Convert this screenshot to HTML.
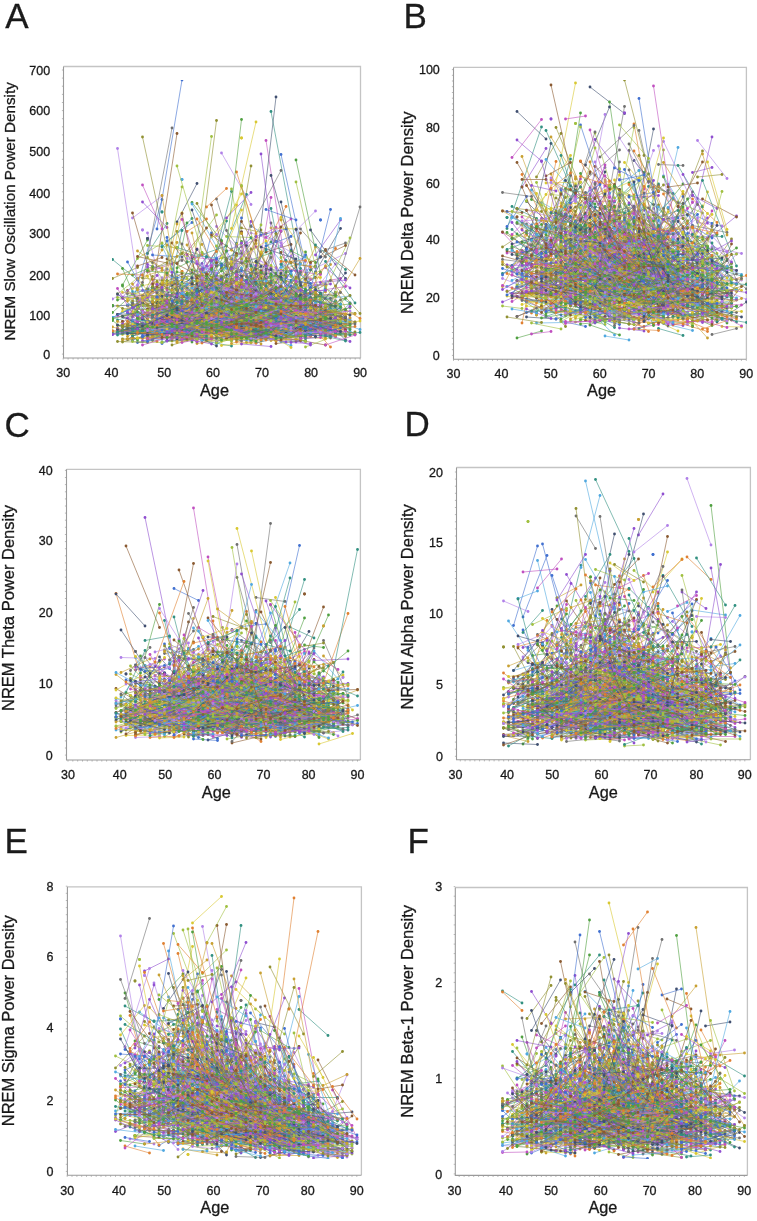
<!DOCTYPE html>
<html><head><meta charset="utf-8"><style>
html,body{margin:0;padding:0;background:#fff;overflow:hidden;}
svg{display:block;font-family:"Liberation Sans", sans-serif;}
.t{font-size:12.5px;}
.ag{font-size:16.3px;}
.lt{font-size:35px;}
.c0{stroke:#9050d0;marker:url(#m0)}
.c1{stroke:#b080e8;marker:url(#m1)}
.c2{stroke:#d8c830;marker:url(#m2)}
.c3{stroke:#c8a030;marker:url(#m3)}
.c4{stroke:#50a040;marker:url(#m4)}
.c5{stroke:#a0c040;marker:url(#m5)}
.c6{stroke:#309080;marker:url(#m6)}
.c7{stroke:#4070d0;marker:url(#m7)}
.c8{stroke:#50a8e0;marker:url(#m8)}
.c9{stroke:#8a5a30;marker:url(#m9)}
.c10{stroke:#e08030;marker:url(#m10)}
.c11{stroke:#c050c0;marker:url(#m11)}
.c12{stroke:#707070;marker:url(#m12)}
.c13{stroke:#909030;marker:url(#m13)}
.c14{stroke:#405070;marker:url(#m14)}
.d path{stroke-opacity:0.6}
</style></head><body>
<svg width="757" height="1221" viewBox="0 0 757 1221">
<defs>
<marker id="m0" markerUnits="userSpaceOnUse" markerWidth="6" markerHeight="6" refX="3" refY="3" overflow="visible"><circle cx="3" cy="3" r="2.8" fill="#9050d0"/></marker>
<marker id="m1" markerUnits="userSpaceOnUse" markerWidth="6" markerHeight="6" refX="3" refY="3" overflow="visible"><circle cx="3" cy="3" r="2.8" fill="#b080e8"/></marker>
<marker id="m2" markerUnits="userSpaceOnUse" markerWidth="6" markerHeight="6" refX="3" refY="3" overflow="visible"><circle cx="3" cy="3" r="2.8" fill="#d8c830"/></marker>
<marker id="m3" markerUnits="userSpaceOnUse" markerWidth="6" markerHeight="6" refX="3" refY="3" overflow="visible"><circle cx="3" cy="3" r="2.8" fill="#c8a030"/></marker>
<marker id="m4" markerUnits="userSpaceOnUse" markerWidth="6" markerHeight="6" refX="3" refY="3" overflow="visible"><circle cx="3" cy="3" r="2.8" fill="#50a040"/></marker>
<marker id="m5" markerUnits="userSpaceOnUse" markerWidth="6" markerHeight="6" refX="3" refY="3" overflow="visible"><circle cx="3" cy="3" r="2.8" fill="#a0c040"/></marker>
<marker id="m6" markerUnits="userSpaceOnUse" markerWidth="6" markerHeight="6" refX="3" refY="3" overflow="visible"><circle cx="3" cy="3" r="2.8" fill="#309080"/></marker>
<marker id="m7" markerUnits="userSpaceOnUse" markerWidth="6" markerHeight="6" refX="3" refY="3" overflow="visible"><circle cx="3" cy="3" r="2.8" fill="#4070d0"/></marker>
<marker id="m8" markerUnits="userSpaceOnUse" markerWidth="6" markerHeight="6" refX="3" refY="3" overflow="visible"><circle cx="3" cy="3" r="2.8" fill="#50a8e0"/></marker>
<marker id="m9" markerUnits="userSpaceOnUse" markerWidth="6" markerHeight="6" refX="3" refY="3" overflow="visible"><circle cx="3" cy="3" r="2.8" fill="#8a5a30"/></marker>
<marker id="m10" markerUnits="userSpaceOnUse" markerWidth="6" markerHeight="6" refX="3" refY="3" overflow="visible"><circle cx="3" cy="3" r="2.8" fill="#e08030"/></marker>
<marker id="m11" markerUnits="userSpaceOnUse" markerWidth="6" markerHeight="6" refX="3" refY="3" overflow="visible"><circle cx="3" cy="3" r="2.8" fill="#c050c0"/></marker>
<marker id="m12" markerUnits="userSpaceOnUse" markerWidth="6" markerHeight="6" refX="3" refY="3" overflow="visible"><circle cx="3" cy="3" r="2.8" fill="#707070"/></marker>
<marker id="m13" markerUnits="userSpaceOnUse" markerWidth="6" markerHeight="6" refX="3" refY="3" overflow="visible"><circle cx="3" cy="3" r="2.8" fill="#909030"/></marker>
<marker id="m14" markerUnits="userSpaceOnUse" markerWidth="6" markerHeight="6" refX="3" refY="3" overflow="visible"><circle cx="3" cy="3" r="2.8" fill="#405070"/></marker>
</defs>
<path d="M63.5 66.5H360.5V358" fill="none" stroke="#c4c4c4" stroke-width="1.3"/>
<path d="M63.2 358v1.6M68.1 358v1.6M73.1 358v1.6M78 358v1.6M83 358v1.6M87.9 358v1.6M92.9 358v1.6M97.8 358v1.6M102.8 358v1.6M107.7 358v1.6M112.7 358v1.6M117.6 358v1.6M122.6 358v1.6M127.5 358v1.6M132.5 358v1.6M137.4 358v1.6M142.4 358v1.6M147.3 358v1.6M152.3 358v1.6M157.2 358v1.6M162.2 358v1.6M167.1 358v1.6M172.1 358v1.6M177 358v1.6M182 358v1.6M186.9 358v1.6M191.9 358v1.6M196.8 358v1.6M201.8 358v1.6M206.7 358v1.6M211.7 358v1.6M216.6 358v1.6M221.5 358v1.6M226.5 358v1.6M231.4 358v1.6M236.4 358v1.6M241.3 358v1.6M246.3 358v1.6M251.2 358v1.6M256.2 358v1.6M261.1 358v1.6M266.1 358v1.6M271 358v1.6M276 358v1.6M280.9 358v1.6M285.9 358v1.6M290.8 358v1.6M295.8 358v1.6M300.7 358v1.6M305.7 358v1.6M310.6 358v1.6M315.6 358v1.6M320.5 358v1.6M325.5 358v1.6M330.4 358v1.6M335.4 358v1.6M340.3 358v1.6M345.3 358v1.6M350.2 358v1.6M355.2 358v1.6M360.1 358v1.6M63.5 354.1h-1.6M63.5 346h-1.6M63.5 337.9h-1.6M63.5 329.7h-1.6M63.5 321.6h-1.6M63.5 313.5h-1.6M63.5 305.4h-1.6M63.5 297.3h-1.6M63.5 289.2h-1.6M63.5 281h-1.6M63.5 272.9h-1.6M63.5 264.8h-1.6M63.5 256.7h-1.6M63.5 248.6h-1.6M63.5 240.5h-1.6M63.5 232.3h-1.6M63.5 224.2h-1.6M63.5 216.1h-1.6M63.5 208h-1.6M63.5 199.9h-1.6M63.5 191.8h-1.6M63.5 183.6h-1.6M63.5 175.5h-1.6M63.5 167.4h-1.6M63.5 159.3h-1.6M63.5 151.2h-1.6M63.5 143.1h-1.6M63.5 134.9h-1.6M63.5 126.8h-1.6M63.5 118.7h-1.6M63.5 110.6h-1.6M63.5 102.5h-1.6M63.5 94.4h-1.6M63.5 86.2h-1.6M63.5 78.1h-1.6M63.5 70h-1.6" stroke="#a8a8a8" stroke-width="0.8"/>
<path d="M63.5 66.5V358H360.5" fill="none" stroke="#9a9a9a" stroke-width="1.1"/>
<path d="M453.5 67.4H746.4V359.3" fill="none" stroke="#c4c4c4" stroke-width="1.3"/>
<path d="M453.5 359.3v1.6M458.4 359.3v1.6M463.3 359.3v1.6M468.1 359.3v1.6M473 359.3v1.6M477.9 359.3v1.6M482.8 359.3v1.6M487.7 359.3v1.6M492.5 359.3v1.6M497.4 359.3v1.6M502.3 359.3v1.6M507.2 359.3v1.6M512.1 359.3v1.6M516.9 359.3v1.6M521.8 359.3v1.6M526.7 359.3v1.6M531.6 359.3v1.6M536.5 359.3v1.6M541.3 359.3v1.6M546.2 359.3v1.6M551.1 359.3v1.6M556 359.3v1.6M560.9 359.3v1.6M565.7 359.3v1.6M570.6 359.3v1.6M575.5 359.3v1.6M580.4 359.3v1.6M585.3 359.3v1.6M590.1 359.3v1.6M595 359.3v1.6M599.9 359.3v1.6M604.8 359.3v1.6M609.7 359.3v1.6M614.5 359.3v1.6M619.4 359.3v1.6M624.3 359.3v1.6M629.2 359.3v1.6M634.1 359.3v1.6M638.9 359.3v1.6M643.8 359.3v1.6M648.7 359.3v1.6M653.6 359.3v1.6M658.5 359.3v1.6M663.3 359.3v1.6M668.2 359.3v1.6M673.1 359.3v1.6M678 359.3v1.6M682.9 359.3v1.6M687.7 359.3v1.6M692.6 359.3v1.6M697.5 359.3v1.6M702.4 359.3v1.6M707.3 359.3v1.6M712.1 359.3v1.6M717 359.3v1.6M721.9 359.3v1.6M726.8 359.3v1.6M731.7 359.3v1.6M736.5 359.3v1.6M741.4 359.3v1.6M746.3 359.3v1.6M453.5 355.4h-1.6M453.5 349.7h-1.6M453.5 344h-1.6M453.5 338.3h-1.6M453.5 332.5h-1.6M453.5 326.8h-1.6M453.5 321.1h-1.6M453.5 315.4h-1.6M453.5 309.7h-1.6M453.5 304h-1.6M453.5 298.2h-1.6M453.5 292.5h-1.6M453.5 286.8h-1.6M453.5 281.1h-1.6M453.5 275.4h-1.6M453.5 269.7h-1.6M453.5 263.9h-1.6M453.5 258.2h-1.6M453.5 252.5h-1.6M453.5 246.8h-1.6M453.5 241.1h-1.6M453.5 235.4h-1.6M453.5 229.6h-1.6M453.5 223.9h-1.6M453.5 218.2h-1.6M453.5 212.5h-1.6M453.5 206.8h-1.6M453.5 201.1h-1.6M453.5 195.4h-1.6M453.5 189.6h-1.6M453.5 183.9h-1.6M453.5 178.2h-1.6M453.5 172.5h-1.6M453.5 166.8h-1.6M453.5 161.1h-1.6M453.5 155.3h-1.6M453.5 149.6h-1.6M453.5 143.9h-1.6M453.5 138.2h-1.6M453.5 132.5h-1.6M453.5 126.8h-1.6M453.5 121h-1.6M453.5 115.3h-1.6M453.5 109.6h-1.6M453.5 103.9h-1.6M453.5 98.2h-1.6M453.5 92.5h-1.6M453.5 86.7h-1.6M453.5 81h-1.6M453.5 75.3h-1.6M453.5 69.6h-1.6" stroke="#a8a8a8" stroke-width="0.8"/>
<path d="M453.5 67.4V359.3H746.4" fill="none" stroke="#9a9a9a" stroke-width="1.1"/>
<path d="M66.5 469.3H360.4V760" fill="none" stroke="#c4c4c4" stroke-width="1.3"/>
<path d="M68 760v1.6M72.8 760v1.6M77.7 760v1.6M82.5 760v1.6M87.3 760v1.6M92.1 760v1.6M97 760v1.6M101.8 760v1.6M106.6 760v1.6M111.4 760v1.6M116.2 760v1.6M121.1 760v1.6M125.9 760v1.6M130.7 760v1.6M135.6 760v1.6M140.4 760v1.6M145.2 760v1.6M150 760v1.6M154.9 760v1.6M159.7 760v1.6M164.5 760v1.6M169.3 760v1.6M174.2 760v1.6M179 760v1.6M183.8 760v1.6M188.6 760v1.6M193.4 760v1.6M198.3 760v1.6M203.1 760v1.6M207.9 760v1.6M212.8 760v1.6M217.6 760v1.6M222.4 760v1.6M227.2 760v1.6M232.1 760v1.6M236.9 760v1.6M241.7 760v1.6M246.5 760v1.6M251.3 760v1.6M256.2 760v1.6M261 760v1.6M265.8 760v1.6M270.6 760v1.6M275.5 760v1.6M280.3 760v1.6M285.1 760v1.6M290 760v1.6M294.8 760v1.6M299.6 760v1.6M304.4 760v1.6M309.2 760v1.6M314.1 760v1.6M318.9 760v1.6M323.7 760v1.6M328.6 760v1.6M333.4 760v1.6M338.2 760v1.6M343 760v1.6M347.9 760v1.6M352.7 760v1.6M357.5 760v1.6M66.5 755.1h-1.6M66.5 748h-1.6M66.5 740.9h-1.6M66.5 733.7h-1.6M66.5 726.6h-1.6M66.5 719.5h-1.6M66.5 712.4h-1.6M66.5 705.3h-1.6M66.5 698.2h-1.6M66.5 691h-1.6M66.5 683.9h-1.6M66.5 676.8h-1.6M66.5 669.7h-1.6M66.5 662.6h-1.6M66.5 655.5h-1.6M66.5 648.3h-1.6M66.5 641.2h-1.6M66.5 634.1h-1.6M66.5 627h-1.6M66.5 619.9h-1.6M66.5 612.8h-1.6M66.5 605.6h-1.6M66.5 598.5h-1.6M66.5 591.4h-1.6M66.5 584.3h-1.6M66.5 577.2h-1.6M66.5 570h-1.6M66.5 562.9h-1.6M66.5 555.8h-1.6M66.5 548.7h-1.6M66.5 541.6h-1.6M66.5 534.5h-1.6M66.5 527.3h-1.6M66.5 520.2h-1.6M66.5 513.1h-1.6M66.5 506h-1.6M66.5 498.9h-1.6M66.5 491.8h-1.6M66.5 484.6h-1.6M66.5 477.5h-1.6M66.5 470.4h-1.6" stroke="#a8a8a8" stroke-width="0.8"/>
<path d="M66.5 469.3V760H360.4" fill="none" stroke="#9a9a9a" stroke-width="1.1"/>
<path d="M456.5 467.5H750.4V759.8" fill="none" stroke="#c4c4c4" stroke-width="1.3"/>
<path d="M460.3 759.8v1.6M465.1 759.8v1.6M470 759.8v1.6M474.8 759.8v1.6M479.6 759.8v1.6M484.4 759.8v1.6M489.3 759.8v1.6M494.1 759.8v1.6M498.9 759.8v1.6M503.7 759.8v1.6M508.5 759.8v1.6M513.4 759.8v1.6M518.2 759.8v1.6M523 759.8v1.6M527.8 759.8v1.6M532.6 759.8v1.6M537.5 759.8v1.6M542.3 759.8v1.6M547.1 759.8v1.6M551.9 759.8v1.6M556.8 759.8v1.6M561.6 759.8v1.6M566.4 759.8v1.6M571.2 759.8v1.6M576 759.8v1.6M580.9 759.8v1.6M585.7 759.8v1.6M590.5 759.8v1.6M595.3 759.8v1.6M600.1 759.8v1.6M605 759.8v1.6M609.8 759.8v1.6M614.6 759.8v1.6M619.4 759.8v1.6M624.3 759.8v1.6M629.1 759.8v1.6M633.9 759.8v1.6M638.7 759.8v1.6M643.5 759.8v1.6M648.4 759.8v1.6M653.2 759.8v1.6M658 759.8v1.6M662.8 759.8v1.6M667.7 759.8v1.6M672.5 759.8v1.6M677.3 759.8v1.6M682.1 759.8v1.6M686.9 759.8v1.6M691.8 759.8v1.6M696.6 759.8v1.6M701.4 759.8v1.6M706.2 759.8v1.6M711 759.8v1.6M715.9 759.8v1.6M720.7 759.8v1.6M725.5 759.8v1.6M730.3 759.8v1.6M735.2 759.8v1.6M740 759.8v1.6M744.8 759.8v1.6M456.5 756.3h-1.6M456.5 749.2h-1.6M456.5 742.1h-1.6M456.5 735h-1.6M456.5 727.9h-1.6M456.5 720.8h-1.6M456.5 713.7h-1.6M456.5 706.5h-1.6M456.5 699.4h-1.6M456.5 692.3h-1.6M456.5 685.2h-1.6M456.5 678.1h-1.6M456.5 671h-1.6M456.5 663.9h-1.6M456.5 656.8h-1.6M456.5 649.7h-1.6M456.5 642.6h-1.6M456.5 635.5h-1.6M456.5 628.4h-1.6M456.5 621.3h-1.6M456.5 614.1h-1.6M456.5 607h-1.6M456.5 599.9h-1.6M456.5 592.8h-1.6M456.5 585.7h-1.6M456.5 578.6h-1.6M456.5 571.5h-1.6M456.5 564.4h-1.6M456.5 557.3h-1.6M456.5 550.2h-1.6M456.5 543.1h-1.6M456.5 536h-1.6M456.5 528.9h-1.6M456.5 521.8h-1.6M456.5 514.6h-1.6M456.5 507.5h-1.6M456.5 500.4h-1.6M456.5 493.3h-1.6M456.5 486.2h-1.6M456.5 479.1h-1.6M456.5 472h-1.6" stroke="#a8a8a8" stroke-width="0.8"/>
<path d="M456.5 467.5V759.8H750.4" fill="none" stroke="#9a9a9a" stroke-width="1.1"/>
<path d="M67.4 886.8H361.4V1175.3" fill="none" stroke="#c4c4c4" stroke-width="1.3"/>
<path d="M67.2 1175.3v1.6M72 1175.3v1.6M76.9 1175.3v1.6M81.7 1175.3v1.6M86.5 1175.3v1.6M91.3 1175.3v1.6M96.2 1175.3v1.6M101 1175.3v1.6M105.8 1175.3v1.6M110.6 1175.3v1.6M115.5 1175.3v1.6M120.3 1175.3v1.6M125.1 1175.3v1.6M129.9 1175.3v1.6M134.8 1175.3v1.6M139.6 1175.3v1.6M144.4 1175.3v1.6M149.3 1175.3v1.6M154.1 1175.3v1.6M158.9 1175.3v1.6M163.7 1175.3v1.6M168.6 1175.3v1.6M173.4 1175.3v1.6M178.2 1175.3v1.6M183 1175.3v1.6M187.9 1175.3v1.6M192.7 1175.3v1.6M197.5 1175.3v1.6M202.3 1175.3v1.6M207.2 1175.3v1.6M212 1175.3v1.6M216.8 1175.3v1.6M221.7 1175.3v1.6M226.5 1175.3v1.6M231.3 1175.3v1.6M236.1 1175.3v1.6M241 1175.3v1.6M245.8 1175.3v1.6M250.6 1175.3v1.6M255.4 1175.3v1.6M260.3 1175.3v1.6M265.1 1175.3v1.6M269.9 1175.3v1.6M274.7 1175.3v1.6M279.6 1175.3v1.6M284.4 1175.3v1.6M289.2 1175.3v1.6M294.1 1175.3v1.6M298.9 1175.3v1.6M303.7 1175.3v1.6M308.5 1175.3v1.6M313.4 1175.3v1.6M318.2 1175.3v1.6M323 1175.3v1.6M327.8 1175.3v1.6M332.7 1175.3v1.6M337.5 1175.3v1.6M342.3 1175.3v1.6M347.1 1175.3v1.6M352 1175.3v1.6M356.8 1175.3v1.6M67.4 1171.4h-1.6M67.4 1164.3h-1.6M67.4 1157.1h-1.6M67.4 1150h-1.6M67.4 1142.9h-1.6M67.4 1135.8h-1.6M67.4 1128.6h-1.6M67.4 1121.5h-1.6M67.4 1114.4h-1.6M67.4 1107.2h-1.6M67.4 1100.1h-1.6M67.4 1093h-1.6M67.4 1085.8h-1.6M67.4 1078.7h-1.6M67.4 1071.6h-1.6M67.4 1064.5h-1.6M67.4 1057.3h-1.6M67.4 1050.2h-1.6M67.4 1043.1h-1.6M67.4 1035.9h-1.6M67.4 1028.8h-1.6M67.4 1021.7h-1.6M67.4 1014.5h-1.6M67.4 1007.4h-1.6M67.4 1000.3h-1.6M67.4 993.2h-1.6M67.4 986h-1.6M67.4 978.9h-1.6M67.4 971.8h-1.6M67.4 964.6h-1.6M67.4 957.5h-1.6M67.4 950.4h-1.6M67.4 943.2h-1.6M67.4 936.1h-1.6M67.4 929h-1.6M67.4 921.9h-1.6M67.4 914.7h-1.6M67.4 907.6h-1.6M67.4 900.5h-1.6M67.4 893.3h-1.6M67.4 886.2h-1.6" stroke="#a8a8a8" stroke-width="0.8"/>
<path d="M67.4 886.8V1175.3H361.4" fill="none" stroke="#9a9a9a" stroke-width="1.1"/>
<path d="M455.3 887.5H747.4V1175.4" fill="none" stroke="#c4c4c4" stroke-width="1.3"/>
<path d="M459.2 1175.4v1.6M464.1 1175.4v1.6M468.9 1175.4v1.6M473.7 1175.4v1.6M478.6 1175.4v1.6M483.4 1175.4v1.6M488.2 1175.4v1.6M493.1 1175.4v1.6M497.9 1175.4v1.6M502.7 1175.4v1.6M507.5 1175.4v1.6M512.4 1175.4v1.6M517.2 1175.4v1.6M522 1175.4v1.6M526.9 1175.4v1.6M531.7 1175.4v1.6M536.5 1175.4v1.6M541.4 1175.4v1.6M546.2 1175.4v1.6M551 1175.4v1.6M555.9 1175.4v1.6M560.7 1175.4v1.6M565.5 1175.4v1.6M570.4 1175.4v1.6M575.2 1175.4v1.6M580 1175.4v1.6M584.9 1175.4v1.6M589.7 1175.4v1.6M594.5 1175.4v1.6M599.3 1175.4v1.6M604.2 1175.4v1.6M609 1175.4v1.6M613.8 1175.4v1.6M618.7 1175.4v1.6M623.5 1175.4v1.6M628.3 1175.4v1.6M633.2 1175.4v1.6M638 1175.4v1.6M642.8 1175.4v1.6M647.7 1175.4v1.6M652.5 1175.4v1.6M657.3 1175.4v1.6M662.2 1175.4v1.6M667 1175.4v1.6M671.8 1175.4v1.6M676.7 1175.4v1.6M681.5 1175.4v1.6M686.3 1175.4v1.6M691.2 1175.4v1.6M696 1175.4v1.6M700.8 1175.4v1.6M705.6 1175.4v1.6M710.5 1175.4v1.6M715.3 1175.4v1.6M720.1 1175.4v1.6M725 1175.4v1.6M729.8 1175.4v1.6M734.6 1175.4v1.6M739.5 1175.4v1.6M744.3 1175.4v1.6M455.3 1173.9h-1.6M455.3 1164.3h-1.6M455.3 1154.7h-1.6M455.3 1145.2h-1.6M455.3 1135.6h-1.6M455.3 1126h-1.6M455.3 1116.4h-1.6M455.3 1106.9h-1.6M455.3 1097.3h-1.6M455.3 1087.7h-1.6M455.3 1078.1h-1.6M455.3 1068.6h-1.6M455.3 1059h-1.6M455.3 1049.4h-1.6M455.3 1039.8h-1.6M455.3 1030.2h-1.6M455.3 1020.7h-1.6M455.3 1011.1h-1.6M455.3 1001.5h-1.6M455.3 991.9h-1.6M455.3 982.4h-1.6M455.3 972.8h-1.6M455.3 963.2h-1.6M455.3 953.6h-1.6M455.3 944.1h-1.6M455.3 934.5h-1.6M455.3 924.9h-1.6M455.3 915.3h-1.6M455.3 905.8h-1.6M455.3 896.2h-1.6M455.3 886.6h-1.6" stroke="#a8a8a8" stroke-width="0.8"/>
<path d="M455.3 887.5V1175.4H747.4" fill="none" stroke="#9a9a9a" stroke-width="1.1"/>
<filter id="bl" x="0" y="0" width="1" height="1"><feGaussianBlur stdDeviation="0.45"/></filter>
<g filter="url(#bl)"><g class="d" fill="none" stroke-width="2.0" transform="scale(0.5)">
<path class="c3" d="M374 655l49 18M512 631l50 10M502 667l50 2M601 614l40 45M562 637l49 12M463 517l69 30M404 615l49 0M265 672l49-15M562 541l39-15M275 576h0M433 664l60-21M483 584l49-40M423 618l50-31M394 687l49-7M522 662l50 4M512 649l50 5M493 657l49-17M285 632l69-53M354 647l59-20M601 603l50-6M364 561l49 16M265 668l40-4M562 440l59 197M463 575l49 74M354 653l50-82"/>
<path class="c5" d="M364 645l69-15M473 644l59-11M443 639l50-1M433 642l60-9M275 517l49-31M562 638l59 2M493 677l49-15M433 623l60-15M384 633l49 9M502 663l50 6M493 622l49 6M275 577l59 29M651 646l40 9M374 662l49 1M463 609l59-17M374 629l49-8M404 680l59-14M453 618l49-21M473 576l59-21M433 652l50 20M413 545l60 52M552 600l49 36M295 640l39 23M582 553l39 66M512 619l60 16M364 653l49-1M305 607l49-4"/>
<path class="c13" d="M324 665h0M285 274l69 317M473 637l59-14M572 647l49 14M225 557l50-22M225 662l40 3M334 550l60 63M433 662l50-20M522 616l50-61M552 630l40 8M364 581l49 13M305 640l59 22M404 588l49-9M394 563l49-80M483 456l49 11M483 645l69 6M522 460l60 139M493 554l49 16M453 660l49 4M512 645l40-13M295 679l49-6M364 658l59 12M225 667l50-14M641 588h0M334 655l40 8M621 656l60-23M384 677l59 4M502 657l70 5M245 678l40-3M493 654h0"/>
<path class="c6" d="M423 620l40-9M413 671l50-10M443 635l59-87M364 613l40 50M364 621l49 11M443 622l69-42M324 424h0M443 634l50 10M552 614l49-18M542 484l50 39M542 649l59 21M443 630l59 3M374 655l49-2M255 643l69-18M295 507l39-60M582 665l59-1M324 604l50 36M651 577l49 29M225 519l50 41"/>
<path class="c2" d="M552 674l59-1M235 656l60-57M582 670l69 8M295 676l59-11M592 554l49 43M384 674l39 2M493 641l59 25M502 556l60 32M562 643l59 2M275 664l49 8M512 614l40 38M245 669l50-6M413 601l50-18M295 553l39 68M493 522l59 13M572 656l59 2M334 630l50 6M384 600l59-19M423 633l60-8M285 609l39-19M384 654l49-13M443 624h0M384 656l49-6M324 614l50 2M394 675l59-25"/>
<path class="c9" d="M453 632l49 10M572 597l59-13M651 623l59 21M384 637l49 1M532 644l69-178M364 658l49 0M512 667l60 4M404 645l49-11M404 630l49 23M354 653l59-6M562 597l69-42M562 505l49 98M592 679l59 11M374 651l39-8M443 629l50-1M295 655l49-12M562 611l59 1M582 614l49 28M502 646h0M453 648l49-11M592 581l49 26M483 634l49 8M552 653l49 5M592 602l59-33M285 656l69-24"/>
<path class="c1" d="M394 643l69-77M601 644l60-10M493 659l49 7M562 492l69-70M631 653l40-65M443 539l40-37M423 661l40-2M433 624l60-40M463 674l69-25M631 536l60-29M433 637l69-19M512 673l60-3M463 638l49 28M631 638l50-53M404 560l49 72M404 655l59 5M502 622l50 15M334 649l70 17M611 605l60-77M493 650l49 6M394 571l49 17M433 453l40 41M483 621l49 17M483 668l39 8M295 466l49 190M404 627l49-37M394 640l59 13M364 653l40-16M493 606l59-23M532 669l50 13"/>
<path class="c14" d="M374 596l39-4M324 624h0M235 629l60-4M423 624l50 14M572 671l49-3M473 653l49-14M552 615l49 34M562 650l59 21M423 656l60-1M255 679l69-44M483 464l49 159M463 560l59 33M631 544l50-87M502 657l50-190M394 656l49 3M265 648l69-3M631 623l60 12"/>
<path class="c10" d="M463 618l49-145M542 566l50-32M562 610l39-19M601 651l40 19M532 612l50 27M493 644l49 6M443 594l50-8M463 541l49 51M641 605l50 28M324 651l60-14M473 632l59-3M532 645l60 16M453 572h0M542 590l50-32M413 601l50 10M384 643l49-2M423 622h0M493 656h0M463 658l49-7M384 643l49-23"/>
<path class="c0" d="M631 646l50-32M502 639l40 11M453 626l49-183M522 660l60 6M522 613l60 5M404 645l39-3M384 653l59 1M453 646l59 18M404 527l49 136M364 669l49-75M473 664l49-12M334 613l40 0M384 640l39-10M404 625l49-55M413 651l60-5M285 404l49 51"/>
<path class="c7" d="M502 452l50 31M493 628l49 5M324 629l50-22M502 608l40 31M334 482l50-37M314 582l60 57M324 687l50-23M334 662l50 12M641 440h0M562 664l59-137M384 599l69-68M621 643l50-2M453 592l59 45M493 610l49 30M305 678l69-24M453 626l49-3M631 614h0M423 587l60-6M453 502l49 82M512 651l50 10M621 655l50 5M512 610l70-110M552 603l59 15M285 646l39 2M265 681l59-27M384 556l49 7M384 607l39 19M265 662l40 0M522 624l50-35"/>
<path class="c12" d="M314 593l60 34M384 569l49 91M334 577l50-31M631 645l60 24M562 643l49 1M532 665l60-26M413 653l40-10M562 608l59-8M374 576l49 27M354 644l50-11M305 525l49 36M463 597l49 11M473 575l49-27M512 663l60 3M255 666l59-2M572 640l39-45M641 656l59-1M502 657l70-8M305 670l49-13M641 644l50 4M433 398l69 217M463 649l49 3M433 684l50-21M295 629l49-19M413 652h0"/>
<path class="c4" d="M493 533l49 48M582 502l49 23M413 638l50 7M404 669l49-3M532 652l50 10M305 669l59-40M364 594l49 62M651 645l49-3M245 570l50-90M374 654l39-3M275 608l49-43M374 661l49-46M493 583l49-32M463 643l59 7M473 487l49 158M235 600l70-26M592 320l49 227M522 596l50 29M592 584l49-40M404 639l69 13M512 654h0M493 607l59 23M621 663l60 4M433 527l50 26M334 614l60 38M295 657l59-25"/>
<path class="c11" d="M641 654l59-6M384 645l39-1M611 607l50 26M483 487l49 175M433 633l50-13M394 622l49 0M542 597l59 8M532 281l50 318M413 643l50-1M344 677h0M502 625l40-230M295 579h0M562 641l49-21M433 646l50 18M245 597l50-8M502 651l50 15M552 597l59-16M394 627l49 0M601 660l50-2M473 610l59-16M512 655l50 8M473 654l39-53M552 622l69 14M305 578l49-9"/>
<path class="c8" d="M324 668l50-21M344 655l60 9M562 535l49-21M364 667l49-4M404 614l39-59M453 586l69 57M473 650h0M641 640l59 18M453 602l49 7M592 606l59 10M611 645l70-4M364 359h0M384 620h0M552 647l49-98M364 639l49 2M413 674l60 2M601 605l60-8M364 618l59-95M413 617l50-30M483 634l49-24M384 648l39 2M413 651l60-3M324 629l50-16M423 655h0M512 633l70-35"/>
<path class="c3" d="M473 584l49 71M453 645l49-21M384 570l59-83M493 660l59 1M532 665l40-15M443 632h0M512 641l60 8M384 615l49 13M592 658l49-59M532 566l40-3M423 634l60 43M344 682l40-54M354 639l50 10M384 628l49-1M344 666l40-39M552 672l40-31M354 574l59-8M621 662l50 0M601 564l50 8M413 625l60-29M522 626l60-17M592 639l59 12M324 599l50 1"/>
<path class="c14" d="M532 539l50 3M354 563l50 48M364 639l40-14M413 558l60 60M433 598l50-29M433 638l50 0M413 651l50 6M483 598l39-88M483 670l49 6M295 659l49 0M572 656l59-46M522 652l50 6M364 606l49 63M354 670l59-10M552 646l40 5M384 662l49-4M512 644l60 14M443 670l69 3M314 597l60 24M384 420l59 170M512 686l50-12M394 567l39-16M423 628l50 45M453 617l69-15M552 634l69 11M245 655l60-12"/>
<path class="c7" d="M532 609l40 1M413 657l60-1M394 667l39-13M364 637l49 19M404 648l49-33M453 632l69 24M532 651h0M601 614l60-2M334 538l50 27M334 664l50-2M364 674l59-15M384 633l39-167M532 605l60 33M453 676l59-14M255 626l59 24M314 643l40-49M463 611l49-49M433 611l50 31M473 631l59 23M404 579h0M285 659l49-18M651 653l49-46M542 658l59 3M324 650l50 14M413 649l40 5M433 602l40 6"/>
<path class="c8" d="M463 605l69 25M572 611l59-26M651 635l69 24M641 628l69 40M493 642l49-10M404 670l39-17M423 667l60-8M443 601l69 11M572 665l59-7M562 652l49-48M463 498l49 49M522 508l40 84M404 648l49 11M522 659l70-1M314 659l50-4M532 498l50 96M265 661h0M433 688l50-24M651 638l49 7M502 619l60-22M601 679l40-22M473 667l59 10M512 624l50-12M651 597l49-5M463 678l39 4M354 658l59 12M611 650h0M275 648h0M522 619l40-26"/>
<path class="c1" d="M542 656l59 4M423 592l60 11M562 543l59-4M423 639l50-43M473 673l69 1M285 656l49 26M295 669h0M502 641l50 31M433 681l50-19M364 669l49-3M473 521l49 34M265 436l59-44M493 548l59 39M483 633l59-9M394 669l49 1M364 642l49 19M512 660l40-52M443 559l59 40M275 604l59-49M443 575h0M404 564l49 27M364 626l49-13M552 677l49-7M423 656l50 15"/>
<path class="c9" d="M532 634l40 2M562 639l49-23M423 659l60-2M265 611l40-5M592 569l49 78M404 617l49-30M611 642l50-5M344 612l50 1M354 640l59-26M463 661l49-34M305 643l49-23M245 643h0M473 625l49 11M453 599l69-43M473 637l39-12M552 677l49-23M443 537l59 99M463 645l39 30M354 641l69-2M334 634l50 7M532 504l50-15M532 655l50 1M601 664h0M314 573l50-26M473 606l69 32M552 633l59 29M552 602l40-29M631 622l50 5M532 607l50-4M453 649l49 14"/>
<path class="c12" d="M453 642l40-25M493 593l49 2M394 621l59-52M423 602l60-37M394 527l49 125M245 666l50-75M394 648l49 7M493 644l39 11M285 591l49 0M344 616l50 2M532 607l50 11M453 639l69-9M453 526l49 90M413 600l60 12M384 627l49 8M443 653l69 10M512 582l60 11M394 623l49-21M463 628l49-18M423 639l50-68M344 578l50 70M404 506l49 28M364 591l40 0M641 591l50 48"/>
<path class="c0" d="M344 589l50-11M552 552h0M463 681l59-16M611 572l50-4M384 638h0M552 653l49 1M344 649l60-3M423 602l50 18M631 596l50 51M235 660l40 8M404 641l69 7M592 664l59-17M324 644l70 1M592 585l49 41M443 658l50 7M502 680l50-13M512 635l50-80M354 663l50 2M463 633l49 3M394 673l49-11M453 643l40 6M453 616l59 43M453 640l49 29"/>
<path class="c5" d="M502 611l70 59M512 610l50 2M354 623l69-21M552 593l40-6M374 650l59-20M354 614l50 2M344 538l40 93M641 643l59 9M443 642l59 29M384 557l69 57M483 640l59-20M552 678l59 3M433 615l40 2M552 636l49-94M522 634l40 28M374 511l59-81M275 652l49-17M611 694l60-23"/>
<path class="c4" d="M285 626l59 0M384 643l49 7M453 646l69-11M324 684l50-4M483 586l39 33M512 648l50 4M344 589l50 42M532 554l50-5M512 616l40-65M354 579l40-18M631 674h0M493 523l49-17M354 536l50-26M404 663l69 1M601 619l50 20M305 594l69-3M493 669l49-16M433 665l60-15M611 504l40 112M572 650l59-18M502 636l50 26M473 638l49 15M641 616l40 17M562 559l39 35"/>
<path class="c13" d="M522 626l40 10M453 614l49-282M483 665l69-4M473 621l49 11M324 607l60 7M483 661l59 12M374 640l59 3M502 680l70-24M423 638l50-29M384 640l69-42M522 553l50-2M542 617l40-34M384 606l39 22M344 690l50-14M305 656l49-23M443 660l50 0M582 595l49-21M413 581l50 56M483 673l49-1M285 650l49 19M512 524l70 104M463 560h0M255 612l50 25"/>
<path class="c10" d="M522 654l50 22M404 630l59 1M275 641l59 27M473 652l49 18M413 414l40-37M443 620l69-8M314 667l50-22M364 601l59 29M334 664l60 3M364 543h0M641 655l59-7M621 655l70 4M413 643l50 25M404 635l59-16M433 646l60 1M344 623l40 40M344 658l69-26M512 592l60-13M324 611l60 61M671 607l49 30M552 625l49 17M562 660l59 13M522 642l50 6M502 548l70-135M404 614l49-21M512 648l50 7M265 675h0M512 681l70-26M305 559l59 96"/>
<path class="c11" d="M295 544l49-16M562 642l39-27M324 669l60-35M552 582l59 16M562 528l59 30M275 601l49 44M413 628l50 10M374 627l49-56M532 641l60-6M443 658l50 4M453 577l49-21M334 656l60-15M463 527l49-33M394 680l49-3M562 623l39 16"/>
<path class="c6" d="M542 605l50 7M404 681l59 11M225 667l70-4M473 665l39 15M374 614l69 30M433 532l60-143M641 645l59 1M334 619l70 13M621 603l50 51M404 662l59 0M384 516l69-24M502 654l50-23M433 615l50-13M344 637l50-15M384 664l69-9M265 645l49 14M443 666l59 4M334 561l60 20M453 660l69-19M364 634l49-20M265 646l59 13"/>
<path class="c2" d="M512 660l50-26M512 600l60-63M532 657h0M235 612l50 24M344 634l50 8M265 577l49-13M413 648l60-159M473 645h0M562 606l49 57M592 630l49-8M522 611l50 2M404 650l49-12M245 653l40-47M374 580l39 15M285 658l49 2M512 610l50 17M651 653l69-11M582 632l49-1M334 650l50-24M423 607l60 15M522 615l50 8M374 638l49-101M384 651l69-35M423 474l50-64M394 651l59-33M443 691l59-5M305 656l39-33M443 683l50-10"/>
<path class="c7" d="M423 623l50 20M384 594l49-77M344 646l60-25M394 626l49-4M522 608l60 16M265 605l59-206M502 666l40 4M413 659l70 6M384 642l39-7M463 613l49-34M285 676l69-58M423 660l50-6M483 617l59 26M413 565l50 32M433 596l50 36M512 589h0M552 673l69-41M601 628l50-48M433 651l50-10"/>
<path class="c13" d="M512 660l70 0M483 642l69-15M334 641l60-65M502 656l40-13M483 644l39-45M394 593l39-34M453 643l49-4M473 621l59-20M453 625l40-25M423 597l70-80M394 650l49 1M295 636l59-33M324 560l50 112M404 657l49-5M671 663l39-18M423 655l40-41M562 597l49 21M522 677l40-3M285 606l49 23M483 625l59-19M443 589l50 1M493 654l49-32M562 644l59 22M572 662l49-3M235 651l60-11M483 518l49 87M305 643h0M542 649l50-2M374 665l49-20M552 609l49 9M572 646l49 23M314 665l50-3M621 639l50-4M374 650l49 6M354 646l50-29"/>
<path class="c12" d="M404 629l49-28M473 646l49 4M344 659l50 25M453 636l59 2M542 446l59 119M601 615l40-2M423 521l60-14M364 676l59-8M364 637l59 10M344 643l40 2M483 664l49-19M453 461l59 85M532 557l69 82M473 657l39-7M354 649l50-1M285 654l59-11M552 625l40 28M512 633l40-24M275 633l49-17M225 636l50-11M453 652l49 10M374 611l59 19M314 644l70 5"/>
<path class="c8" d="M275 616l69 2M493 658l59 0M324 608l50 14M532 619h0M384 554l39 30M334 618l50 31M285 683l39-16M364 664l59-13M354 628h0M433 648l50-32M255 620l50 9M443 582l50 98M255 610l50 2M641 661l59 2M582 652l69 14M453 638l40-27M305 638l69-15M542 591l50 39M433 638l40-6M483 622l49-18M463 673l59-15M443 582l50 32M473 615l49 3M334 629l50 22M483 651l59 4M314 580h0"/>
<path class="c2" d="M493 621l49 16M285 594l69-40M641 593l40 16M473 670l69-15M463 671l69-52M611 647l50-18M542 662l50 3M512 627l50 39M295 639l49 15M493 639l49 3M542 652l50-2M423 607l60-11M552 620l49 29M562 639l39-11M463 500h0M592 558l49-3M314 648l70-38M394 616l39-50M532 579l60-5"/>
<path class="c10" d="M305 616l59-39M601 632l50-16M443 631l50 17M453 662l59 20M334 663l60-28M502 574l50 53M384 600l39 11M562 599h0M285 677l59-5M443 638l50-2M423 627l40 16M314 610l70-41M265 655l49 28M295 678l49-3M631 586l40 25M413 623h0M522 631l70 21M225 662l50-3M463 649l49-10M493 621l69-1"/>
<path class="c1" d="M592 580l49 36M374 653l49 9M305 631l49 2M404 653l49 16M463 632l59-34M463 677l39 6M374 581l49-17M404 656l39-22M552 624l49-20M423 560l50-29M463 592l49 37M235 629l50-21M334 652l50-8M285 460h0M404 673l69-18M493 663l49 10M522 636h0M404 571l39 32M295 663l49-6M562 492l49 31M364 641l59 2M413 632l70-16M314 596l50-9M443 572l50-32M324 649l50-33"/>
<path class="c0" d="M473 666l59-40M483 661l49 12M423 661l50 3M364 636l49 0M611 664l50-21M305 631l49-29M473 650l49-9M374 606l49 1M394 656l59-16M433 647l69 0M404 648l39 10M542 654l50 11M354 667l50-1M443 649l59 2M423 656l50-19M413 613l50 16M631 630l50-13M483 688l59 5M384 638l39 2M552 585l59 9M225 669l50-4M334 547l60 65M404 647l59 22M592 684l39-25M453 642l49-5M433 659l40 0M433 609l50 14M631 665l50-2M483 589l59-10"/>
<path class="c6" d="M522 643l50 7M502 656l60-35M621 654l70-18M483 647l49 11M463 617h0M542 417l50 249M314 602h0M324 646l50-47M423 627l40-10M255 649l50-1M364 619l49-8M334 648l50 2M235 640l60-15M522 681l60-16M473 662l69-15M324 645l40-184M344 660l50-7M433 677l40-13M453 663l49-24M265 643h0M512 635l40-1M562 659l39-4M493 635l49-3M423 587l60 16M413 559l60 26M374 660l49 3M404 654l59-3M522 591l50-8"/>
<path class="c14" d="M552 580l59 31M433 669l69-81M651 640l40 40M483 672h0M225 612l60-3M453 669l59-14M542 654l50 9M433 614l40-1M433 571l50 38M621 460l70 97M493 491l39 107M473 635l59-87M631 613l40 12M473 643l59-10M483 643l59 18M285 639l59 25M404 630l49 12M295 644l59 30M641 651l40-2M354 444l40-77M453 624l59 1M473 560l49-27M483 635l49-14M413 669l70-3M394 670l49-56M374 634l39-8M443 626l50 33M473 632l59 30"/>
<path class="c3" d="M265 609l59 8M255 678l40-2M443 612l40 27M404 612l69-53M522 640l50-19M334 635l50-14M295 675l49-1M354 668l59-31M413 592l50-21M384 587l59 28M502 637l70 7M592 655l59 21M443 619l50 31M473 637l49 2M453 636l49-1M314 651l50 9M611 561l60 67M364 658l49-20M512 586l50 26"/>
<path class="c5" d="M483 634l69 47M671 585h0M413 633h0M364 610l49-22M463 654l49-16M601 589h0M473 646l49 5M473 577l39 4M552 676l49-3M354 626l50-12M275 636l49-33M334 645l40 12M354 657l50-10M502 606l50-5M413 671l50 11M305 618l69 13M532 661l50-97"/>
<path class="c9" d="M314 603l40 34M522 643l50 6M592 641l49-5M245 633l50-9M413 650l60-71M305 603l49 19M512 591h0M305 568l49-1M522 671l50-52M651 501l59 49M423 629l60 29M384 645h0M255 581l50 39M542 590l59 4M295 654l49 11M522 631h0M255 650l40 7M413 650l50-11M512 600l50 49M483 657l39 0M611 614l60 18M285 649l49-8M423 582h0M324 641l50-11M255 657l50-12M324 581l50 79"/>
<path class="c11" d="M562 634l69 8M453 674l49-7M611 568l70-11M522 660l50-2M592 644l49 14M423 584l60 42M413 645l40-43M433 628l60 12M404 581l49-21M651 666l40-45M483 650l59 7M334 580l60 103M473 629l49 22M542 651l59-1M582 626l49-2M453 608l69-29M592 542l49 7M364 685l49-9M374 509l49 54M483 660l39-50M542 605l59-26M532 649l40-19M463 664l49-24"/>
<path class="c4" d="M443 657l69-1M601 655l40-39M423 633l50 26M453 628l59-52M384 561l59 7M443 649l50-57M404 620l49 14M562 676l49-8M502 667l40 0M374 588l59 26M433 662l60-25M364 640l40 1M453 633h0M384 405l59 76M483 637l49-24M394 576l49-34M314 616l50-16M493 615l59-69M225 641l50 39M542 614l50 55M463 559l59 36M661 670l49-1M334 658l60-3M324 666l60-8M641 635l59-20M433 621l60 23"/>
<path class="c8" d="M522 609l40-12M404 658l39-13M512 661l50-16M601 658l50-9M324 625l50-9M344 553l60 13M453 626l49 20M443 597l59-17M364 623l49-33M562 683l49-1M413 645l50 20M314 646l40-1M423 627l40-28M423 639l50-50M621 613l50 22M433 644l50-2M592 646l49-19M364 661l49 11"/>
<path class="c3" d="M532 656l50-19M295 660l59-20M423 621l70 26M522 567l50 17M334 490l50 21M522 564l50 64M374 625l49-29M651 631l69-114M245 680l60-7M542 681l50-2M235 643l50 14M354 620l59-4M532 675l60 3M463 612l39-8M433 649l60-3M463 676l59-10M512 595l40-11M542 616l50 23M463 622l49-39M621 607l70 41M324 635l50 8M324 635l50-7M572 536l49 75M404 489l59 98M423 636l50-7M334 651l70-8M404 650h0"/>
<path class="c13" d="M483 646l59 14M413 549h0M364 635l59 1M334 664l50 2M483 637h0M265 602l49 3M512 524l40-56M611 627l60-6M493 620l49-5M305 681l49-114M641 604l69 23M552 611l40 19M651 672l59-8M592 623l39-17M265 629l40 19M483 637l69-21M384 627l59 4M275 636h0M433 657l40-24M463 530l69 58M245 684l50-13M502 670l50 11M473 613l49-61M641 610l50 30M423 664l50-2M443 625l50-2M334 664l60-5M572 657l69 9M582 525h0M542 586l40 39M394 647l39 20M631 647l50-32M601 643l60 20M384 618l49 26M394 611l59-43M562 589l49-19M641 621l50 48M502 639l50 7M651 664h0M562 660l49 23"/>
<path class="c0" d="M552 622l49 25M394 558l49-71M493 614l49 26M394 669l49-2M532 616l50-52M522 628l40 42M641 565l50-5M473 573l49 27M552 636l49 36M592 650l39-32M532 638l69 19M235 657l60 14M631 510l50-70M364 650l40-19M512 631l50-11M502 639l50 23M473 648l49 16M404 666h0M413 638l60-13M394 620l49 18M285 581l39-2M413 667l50-36"/>
<path class="c7" d="M473 669l49-1M502 656l50-19M354 556l69-26M493 587l59 34M473 627l49 9M443 627l59-14M562 309l59 267M314 458l50-298M384 606l49-76M225 635l50-23M582 640l49 11M384 638l49 12M493 608l59 11M275 685l49-7M522 470l50-12M443 663l50 1M483 662l49-6M344 630l50 3M275 666l39-9M413 639l50 15M285 663l49-4M463 630l59 15"/>
<path class="c4" d="M651 613l49-5M384 540l59 14M453 624l49-11M542 643l50-18M354 657l50-47M404 618l39 48M384 590h0M502 620l50-5M295 667l49-40M493 569l49 51M245 572l50 100M443 653l59 7M463 601l59 2M354 659l59-48M354 661l59-32M522 574l50-29M592 529l39 4M285 620l49 36M443 666l40-5M502 621l50 12M334 630l40-184M433 656l50-173"/>
<path class="c14" d="M334 654l70-16M305 663l49 5M245 660l69-3M522 614l60 40M592 645l49 3M621 623l60 25M423 652l60-9M512 625l40-23M512 653h0M493 631l39-3M562 671l59-22M483 628l49 25M512 642l50-55M552 665l40 7M384 609l69 42M423 634l50 10M285 600l49 8M374 673l49-40M384 678l49-13M502 614l50 24"/>
<path class="c9" d="M314 656l50-5M512 637l50-18M463 674l59-12M275 513l59 13M334 570l50-4M463 636l49 13M552 615l49 30M305 582l49-315M552 687l49-5M413 614l50-40M374 659l49 1M433 645l50 7M512 610l60-12M512 644l40-11M512 645h0M572 653l49 4M265 426l49 169M443 630l50 17M443 625l40 21M542 659l59 16M493 657l59 11M512 668l40 7M265 615l49-39M433 604l50-15M453 628l49-34M443 644l50 22M344 644l40-1M611 587l60 4"/>
<path class="c10" d="M651 661l59-8M394 562l49 35M324 601l60 34M404 628l49-20M394 608l49 8M354 640l69-65M453 662l49-7M562 659l59-1M423 661l60-31M245 650l50-15M621 650l40 44M463 652l49 19M473 674l59-19M463 666l39-19M651 649l59 19M582 587l59 69M483 635l59-27M443 630l50-26M394 658l49-44M552 627l59 9"/>
<path class="c12" d="M384 652l49 4M245 666l60-21M413 608l60-5M631 594l50-9M473 627l69-28M394 663l59 3M572 616l49 13M384 645l59 18M621 639l50 34M255 587l50 8M305 536l59-15M305 651l59-6M344 631l50-24M532 669l40-39M394 637l39-12M404 660l59 17M324 649l40 13M453 646h0"/>
<path class="c5" d="M314 673l50-9M552 668l69-28M502 682l60-22M592 650l39-23M324 488l50 69M493 642l69-8M404 555l69-8M413 612h0M413 681l50-1M562 659h0M404 643h0M394 608l49 46M423 669l60-1M502 622l70-29M522 638l70-17M512 621l50-3M404 672h0M423 619l60-5M354 603l50 29M592 364l39 170M314 622l50-248M275 666l49-42M483 667l69 9"/>
<path class="c6" d="M453 653h0M592 652l49 7M502 659l50-19M552 591l49 27M413 625l70-12M532 653l60 6M493 579l49-28M621 638l60-22M413 626l60-18M265 658l59-10M364 632l49-9M314 607l60-14M354 495l59 19M473 649l49-30M443 613l50 20M443 667l50 3M334 653l60-17M532 618l60-1M522 658l50-19M413 552h0M394 647l59-205M473 544l49 117M572 623l39 20"/>
<path class="c11" d="M601 608l60 1M443 666l40-21M611 676l50-18M463 610l49 2M641 656l50-21M324 598l50 40M502 602l60-47M443 636l40 22M295 676l59-57M512 600l50-29M305 652l49-17M552 589l49-47M621 584l70-11M443 638h0M285 370l39 88M334 630l50-12M512 641l70 10M572 656l49 4M433 573l50-16M542 643l50 20M572 670l39 4M423 642l40-18M522 612l50-7"/>
<path class="c2" d="M572 648l49-18M374 647l69-33M611 598h0M562 616l49-67M413 616l60 5M374 666l49-16M611 657l50-13M522 507h0M631 612l50 26M265 623l49 7M592 660h0M374 617l59 31M453 650l59-14M275 663l49-7M621 626l40 2M473 611l49-107M611 643l70 13M275 598l49-19M433 471l50-83M275 631l49 30M562 594l49-8M473 653l49-39M502 656l50-4M433 658l50 6M334 566l70-13M443 516l40-96M364 678l59 1M423 591l50-38"/>
<path class="c1" d="M453 596l49-31M493 637l39-8M374 517l49 24M364 635l69 11M562 666l59 0M572 659l59 6M453 672l49-14M344 658l50 15M443 608l50-1M374 620l39-72M354 646h0M552 536l59 38M532 638l50-13M502 466l60 20M532 553l69 54M651 612l40 47M473 535l49 41M324 556h0M631 652l40 9M473 507l59 19M542 678l50-4M611 672l50-28M631 626l40-24M404 662l69-10M493 591l59 2M394 632l49 21M453 649l49 2M334 677l60 2M443 306l59 103"/>
<path class="c5" d="M443 624l50 61M572 601l49 0M374 634l39-4M502 685l70-28M413 618l40 12M265 589l69 81M324 585l50 82M621 657l60-3M305 595l59 33M483 617h0M295 515l59 85M374 625l49-352M592 669l49-2M394 576l49 20M493 575l59-10"/>
<path class="c4" d="M512 606l40 55M255 667l50-2M225 611h0M463 635l49 4M453 642l49-1M463 631l69 33M493 562l59 92M631 595l40 23M532 580l40 26M374 611l69 37M661 638l39 21M364 589l49-8M493 655l39 8M433 602l50-31M453 626l49 14M453 653l59-5M483 622h0M512 603l50 8M225 625l60-55M344 628l60 17M512 624l50-14M483 573l59-18M512 626l40 10M443 534l50 52M295 578l59 9"/>
<path class="c7" d="M394 628l49-17M305 510l59 4M473 618l49 38M354 680l59-6M493 678l49-9M502 639l50 19M502 657l50-4M404 623l39 10M453 639h0M314 634l60 16M305 616l59 26M493 645l49-41M532 629l40-15M493 661l59-5M433 648l50-13M285 674l49-17M502 661l60 12M443 619l40-183M423 658h0M483 671l49 7M532 616l50-73M413 612l60 6"/>
<path class="c1" d="M413 641l50-27M512 657l50-1M512 653l60-23M473 657l49-4M502 645l50-10M483 641l49 3M552 645l49 21M394 635l49-29M463 652l59-7M631 608l40 11M473 638l59-21M473 649l49 16M631 659l69-23M572 574l49-47M532 644l69-6M413 635l70 12M305 651l59-15M512 652l50 9M582 512l49 58M502 629l60-13M542 664l50-59M542 648l50-4M384 627l49 1M334 676l70-3M364 647l49 27M314 655l60-7M592 610l59 3M443 662l50-16M433 636l50 6"/>
<path class="c6" d="M621 662l50-1M572 588l49-48M394 616l59-35M582 672l49-11M423 536l40-153M305 656l49 4M512 655l50 5M463 643l49 14M542 223l59 314M483 652h0M502 577l40-13M611 668l60-4M552 658l59-7M443 616l50-2M443 619l59-1M334 591l50 6M305 576h0M324 652l60-3M334 650l70-10M433 630l50 2M532 577l40 27M265 672l40-10M611 631l50-14M374 524h0M394 647h0M611 653l50 8M542 629l59-30M413 638l60-16M512 633l50 7M542 565l69 47"/>
<path class="c11" d="M394 653l59-1M512 590l50 19M413 623l50 1M413 659l60-20M384 658l49 2M502 647l50-22M235 631l40 13M473 675l59-41M423 641l50 5M483 494l69-39M394 597h0M404 647l59 26M473 568l69-34M404 619l59-39M582 584l59 40M275 616l49 37M394 589l49 69M641 668l50-10M483 664l59 10M473 644l59 8"/>
<path class="c10" d="M404 560l49 70M354 612l50 21M512 622l50-38M364 629l59 10M305 625l39 9M404 659l49 1M512 648l50-48M611 662l50-11M512 603l50-1M562 651l49 1M305 664l59-57M453 598l40 37M463 677l69-27M443 679l69-9M394 438l39 65M364 593l59 25M453 622l59-29M255 652l50 17M384 642l39 22M473 676l49-2M532 632l40-35M483 640l49 40M463 662l49 0M404 686l49-20M483 672l39-13M443 640l50 8"/>
<path class="c14" d="M493 618l49 27M463 645l59 7M552 604l49 40M364 643l59-24M493 620l59 41M473 643l49 14M592 632l39-41M314 605l40-11M235 659l50 6M473 557h0M493 591l49 34M493 632l69 28M502 619l50-425M344 572l50 44M354 678l40-29M344 649l40 2M334 681l50-2M582 655l49 1M245 661l60-15M235 650l50 12M542 652h0M433 639h0M384 658l49 6M502 638l50-40"/>
<path class="c0" d="M582 685l39 2M285 682l49-10M344 672l50-22M404 642l59-2M423 577l50-12M394 626l49 29M443 637l40-9M592 622l39-5M651 649l49-36M463 655l59 6M443 647l50 8M344 645l50-7M532 603h0M275 631h0M295 529l49 16M453 436l49-51M374 596l49 35M463 656l49-26M374 655l59-52M611 657l50 1M532 645l50-5M463 581l49 1M265 634l49-65M542 668l50-5M502 679l60-56"/>
<path class="c8" d="M552 678l69-37M404 580l39 50M493 586l39-7M305 664h0M493 624l59 22M473 661l69-13M592 622l49 23M314 666l50-8M512 602h0M483 656l49 1M265 645h0M572 672l49-4M532 672l50 19M404 598l69 64M542 578l50 17M423 577l60 51M364 655h0M384 408l49 85M404 546l49-9M344 624l50-39M582 666h0"/>
<path class="c2" d="M404 622h0M522 575l40-29M324 649l50-6M384 631l59-1M552 622l40 26M423 639l50-24M522 551l50 65M374 614l59-44M512 601l50 6M433 630l50 12M601 662l50-11M463 645h0M374 612l49-56M473 610l49-31M473 646l59 10M562 634l49-2"/>
<path class="c3" d="M433 615l40 19M275 557l49-16M295 655l59-3M592 653l59 1M314 599l50 4M611 558l50-29M324 654l50-9M651 629l59-1M473 630l49-3M463 667l69-61M483 568l49 36M483 373l49 156M582 674l59-8M493 612l59 34M413 649l50-8M483 639l39-130M463 687l69-22M582 592l49-98M413 671l50-15M651 632l49 11M483 619l49 17M354 672l40 3M582 644l49 4M522 620l50-27M324 635l70 5"/>
<path class="c9" d="M552 660l49-16M324 648l50-2M404 663l49-23M512 538l60 115M453 583l59 46M394 678l39-153M423 470l50 37M483 652l59 13M483 590l39-45M324 675l50 2M502 608l50 33M592 639l39 4M473 552h0M532 565l69 30M334 658l60-11M483 443l49 85M463 647l69-6M364 646l49 5M275 532l49-17M641 613l50 47M344 609l40 30M344 660l69-9M463 644l49-22M473 649l39 13M324 570h0M512 565l60 44M295 648l49-22M611 558l40-59M433 651l60 17M344 663l50 0"/>
<path class="c12" d="M522 602l50 7M285 666l49 4M502 626l60-163M611 587l50 10M443 668l50-24M295 584l59-25M324 657l60-8M502 563l40-48M305 651l69 4M324 668l40-31M453 624l40 29M522 643l50 13M423 640l50 10M295 670l49-37M413 632l50 17M493 658l49 15M453 646l69 31M542 602l59-36M522 668l40-22M483 674l49-8M285 611l49 12M601 458l50 56M354 654l50-5M483 656l49-11M661 610l59-196M483 597h0M601 590h0M394 634l39-7M483 627l49 39M423 641l40-115M334 648l50-8"/>
<path class="c13" d="M334 675l50 1M245 654l50-9M394 552l69 17M334 642l60 12M473 641h0M502 649l40-4M235 683l60 2M651 661h0M433 656l40-7M433 575l60-15M453 604l49-10M354 463l40 127M314 621l60-19M394 553l49 57M512 665l50-43M592 653l39-34M305 604l59 12M423 571l60-10M542 590l50 15M255 651l50-98M562 676l39-6M483 622l49 4M413 679l50-8"/>
<path class="c1" d="M552 605l69 19M433 469l50 95M473 630l49-2M502 662l60 5M295 634l59 13M493 485l49 62M324 622l40 23M413 673l50-32M235 590l50 10M423 530l60-7M572 634l49 3M404 581l49 40M552 617l49 6M532 635l50 31M582 605l59 25"/>
<path class="c5" d="M324 627l60 8M344 629l50 15M453 557l59 19M502 616l60-3M532 636l60-11M473 624l39-79M453 619h0M295 491l59 4M344 652h0M502 663l60-18M611 624l60-5M641 599l59-123M473 652l49 11M364 660l59-2M374 662l49-2M453 661l40-10M265 683l59 2M453 473l49 2M235 588l60-48M562 667l49 16M344 666l40-18M374 648l59 22M621 637l50-44M611 636l60 18M364 667l40 4M295 659l59 0M364 648l59-3M275 614l49-16M463 378l49 275"/>
<path class="c2" d="M512 612l50 9M433 573l50 10M453 637h0M562 435l59 90M463 457l49-213M631 621l50 38M522 623l50-46M344 658l69-2M354 638l50-50M394 657l59-92M473 623h0M502 539l50 94M384 636l49 14M552 594l59-23M404 568l59-45M542 456l50 2M483 618l49 1M483 627l49 15M532 580l40 14M324 565l50 19M453 673l59-18M404 662l59 7"/>
<path class="c8" d="M572 627l59-17M512 634l50 32M344 669l60 11M384 575l39 17M463 630h0M483 622l49 28M453 652l69-9M512 676l70-25M404 656h0M453 629l49-7M423 562l50 92M483 638l69-2M324 666l60-5M502 664l60-8M631 636l60 7M384 511l49 5M453 667l59 0M255 668l50-13M522 661l60 6"/>
<path class="c13" d="M582 633l59 19M463 624l49 35M443 648l50 3M473 630l49 0M295 672l39-2M305 615l49 31M334 600l40 3M641 663l50 10M542 626l50-71M275 638l59-27M483 571l49-4M493 655l39 10M493 660l59-3M374 664l49-23M413 609l50 30M542 671l69-7M552 633l49 13M364 554l49-4M522 659l50-8M443 553l50 16"/>
<path class="c4" d="M394 649l59-17M592 588l59 47M522 576l50 46M651 656l49-6M413 656l50-12M443 607l50 55M611 656l60-29M384 673l69-24M245 662l60-2M324 648l60 4M582 622l39 27M532 644l50 8M453 638l69 33M443 635l40 22M473 607l49 19M265 665l49 2M423 643l60 0M404 603l49 5M413 650l60-16M275 637l49 20M324 579l60 105"/>
<path class="c11" d="M592 618l59 25M572 658l39-32M423 648l40 11M334 626l60-22M493 648l39-1M394 558l59 29M413 641l50-12M295 595l59-7M443 663l50 6M443 618l59-27M295 646l69-3M413 602l70-29M394 667l49-1M384 514l49 6M493 621l49-28M483 634h0M413 590l70 58M404 614l69-64M473 570h0M235 577l40 68M512 628l50 27M532 475l50-37M542 673l40-16M413 657l70-20M354 647l50-8"/>
<path class="c9" d="M483 677l49-35M522 546l40-92M354 527l59-71M532 622l60 38M324 639l50-51M532 623l69-5M443 587l40 32M483 464l49 185M285 659l49-16M473 675l39-1M512 670l50-33M631 611l60 30M344 486l50 71M344 647l50 10M651 609l49 61M374 636l49-100M542 652l50-14M522 654l60-13M413 665l50 6M334 518l70 37"/>
<path class="c0" d="M502 585l60 41M295 668l49 0M473 622h0M265 587l49 33M374 664l59-18M413 587l60-28M245 595l50-61M483 628l39-34M522 663l50-5M542 646l50-7M344 648l50 2M651 535l49 41M502 638l50-36M245 648l69-97M354 636l59 15M562 572l49 54M314 580l50 21M502 607l60 40M532 636l69-33M423 651l70-14M532 675h0M423 522l60-36M364 629l49 17M562 606l49 0M413 532l50 56M651 669l49 14M512 583l60 34"/>
<path class="c12" d="M235 665l60-17M453 616l69 1M453 517l49 13M364 625l49 1M641 503l50-17M493 665l59-6M364 488l59 112M502 453l60-112M364 673l49-10M473 663l39-26M433 532l50-6M611 652l50-25M374 648h0M621 649l50 0M611 653l50 23M374 667l49-12M611 581l50-20M542 655l59-110M413 656l60-6M344 607l60-38M463 647l49-19M404 562l39 52M572 615l49 7M483 633l49 4"/>
<path class="c7" d="M453 579l59 40M542 632l50 5M463 630l49-26M423 613l60 14M314 619l50 24M611 670l50 2M552 582l59-72M354 588l59 4M562 665l49-17M364 627l59 14M473 658l39 18M423 608l50 38M473 613l59 25M522 638l50 5M384 582l59-7M502 656l50-37M522 614l50-30M433 580l50 41M562 555l49 89M404 640l69 13M344 661l50-58M433 631l40-8M433 518l60 48M552 663l40-8M542 641l69-18"/>
<path class="c10" d="M394 632l49-9M483 622h0M443 609l69-4M502 582l40 0M394 676h0M493 634l59-6M334 669l50 8M641 656l40-3M394 634l59-6M255 643l59 24M285 631l49 18M285 629l49 5M611 597l60-100M384 571h0M493 610l49 44M512 634l60 15M631 627l60 42M443 654l69 13M572 523l49 11M512 648l40 34M384 679l49-21M512 648l50 7M473 344l39 123"/>
<path class="c3" d="M592 618h0M601 653l60 17M275 502l49 34M522 619l70 28M344 666l50-21M305 604l49-91M562 600l39 18M255 673l59-34M582 647l49-10M285 597l59-32M354 620l50-21M295 610l69 12M522 668l50-12M305 621l49-136M384 466l39 164M275 557l49 59M354 683l40-45M562 652l59-2M562 654l49-3M265 568l49 69M433 652l50 2M463 625l49 12M483 467h0M552 681l49-3M285 666l49-10M582 612l69-28M572 596l39-29M364 665l49 10M641 661h0M443 570l40 76M334 620h0"/>
<path class="c6" d="M384 658l49-23M493 562l49 45M364 578l49-64M443 647l50 2M394 657l69 6M641 670l50 12M651 523l59 83M265 658l59-8M512 627l70 32M611 583l70 25M502 552l70 78M413 656l50 14M552 638h0M611 641h0M364 565l49 47M522 608l70-2M384 650l49-36M235 670l70-11M374 659l49-3M502 639l40 4M384 632l59 2M532 653l50-92M344 653l60-12M423 639l50-6M641 668l59 2M364 633l49 45M532 630l60 15M493 665l49-6M493 660l59-3M542 642l69 1M433 576l50 4M542 631l40-18M394 579l49-21M443 528l59-52"/>
<path class="c14" d="M542 632l50-10M542 663l40-22M592 642l49-56M522 494l70 24M314 616l40 9M522 621l50 45M483 552l69 76M305 635l49 7M532 639h0M394 584l39-20M324 656l40-7M394 673l39 19M512 648l40-59M473 626l39 16M512 623l40 17M433 617l40-24M364 641l49-10M324 593l60-37M285 639l49 21M453 651l49 8M483 665l59-6M235 629l50-23M394 585l59-35M631 621l60-75M463 644l49-64M384 568l59 16M532 609l40-28"/>
<path class="c8" d="M374 569l49 12M265 646h0M502 625l60 5M364 587l49 33M453 590l49 7M493 597l49 13M413 604l40-6M542 648l40-44M404 572h0M631 605l50 4M265 640l59 3M275 629l49 11M631 657l69-18M463 667l39-24M433 641l60-72M552 649l40-75M384 625l49 9M483 579l69 26M404 631l49 23M354 623l50 12M275 655l49-28M512 610l60-3M562 639l49 13M502 643l60 20M384 643l49 15M532 486l50 61M552 617h0M324 492l50 108M384 523l49 24M552 669l49-22"/>
<path class="c13" d="M453 520l40 107M423 658l50 6M285 556l49 6M641 637l50 3M413 588l70 23M384 624l49-383M305 573l49 8M453 616l49-57M374 633l49 3M532 677l60-24M582 573l49 17M671 572l49 55M473 592l49 19M324 634l50 9M314 611l50 23M522 637l50 1M453 590l49-92M344 647l40-51M364 651l49-5M245 617l69 3M245 651l69 2M413 649l60-5"/>
<path class="c6" d="M285 649l59 12M354 615l50 28M512 665l50-87M463 676l39-11M611 677l50-5M621 651h0M532 636h0M631 490l60 49M611 636l70-10M384 648l49 13M463 640l59-14M314 627l50-24M324 494l60-57M601 676l70-74M483 620l49 25M572 600l49-5M265 662l49-11M483 619l49-1M542 662l69-23M542 635l59-6M512 651l50-20M552 624l59-11M562 623l69-41M344 668l60-13M483 643l49-10M502 532l40 17M542 639l50 22M512 567l40 75"/>
<path class="c3" d="M651 618l49 12M433 562l40 29M443 644l50 1M394 679l49-54M532 625l60 25M473 592l49 4M582 640l49-56M374 490l49 94M572 659h0M473 556l49 37M473 566l39 67M404 623l59 29M225 654l50 13M601 670l50-22M394 622l59 3M324 391l40 239M354 627l69-19M404 549h0M344 580l60-71M463 643l59 7M512 616l40 1M404 663h0M512 487l50 111M404 571l39 82M433 655l60-11M651 532l49 104M453 669l59-16"/>
<path class="c9" d="M305 610l49 6M433 619l50-2M344 620l50-6M522 613l50 15M512 649l40 15M483 674l39-5M473 645l69 2M404 658l49 5M552 647l49-33M423 410l50 198M562 646h0M473 662l39-5M364 660l49-16M453 678l59-37M295 618l39-4M324 640l50-9M404 645h0M384 603l49 22M522 542l40 62M453 592l40 23M453 647l59-166M621 525l70-34M463 657l59-3M493 631l49 9"/>
<path class="c2" d="M413 616l40-8M275 676h0M483 625l39 6M562 625l49 16M483 276h0M394 654l39 13M413 671l50-8M305 653l59-3M463 644h0M394 561l39 5M433 650l50-22M433 668l50-17M423 647l60-20M453 581l49 45M384 582l69 27M621 616l60 10M295 625l49 10M314 652l50-226M404 592l69-25M245 585l50 4M354 633l50-1M453 639l49 10M295 644l49-24M453 668l49-24M433 625l50-3"/>
<path class="c11" d="M285 622l49 25M532 643l69 15M443 652l59-24M305 657l69 7M443 655l50-23M384 643l59-1M532 598l40 20M334 671l50-28M611 653l40-30M394 498l49 72M483 622l39-7M502 573l50 32M374 646l59-12M502 659l50-1M502 653l60-16M394 675l49-11M601 649l60 8M295 623l39 24M552 668h0M493 637l39 6M601 677l40-2M453 575l49 76M394 677l69-35M364 621l69 12M522 666h0M512 631l50-169M641 668l50-5M592 669l39-27M542 643l50-3M483 633l59 1"/>
<path class="c12" d="M463 641l59-34M295 631l59-10M265 607l69 8M532 622l60 18M443 647l59 2M542 615l50 30M473 662l69-100M522 674l40-29M453 521l69 80M473 606l49-37M631 640l50-40M404 639l49-32M354 640l50 10M611 665l50-21M423 665l60 17M305 631h0M502 644l50-19M483 538l59 62M651 646l59 2M443 591h0"/>
<path class="c0" d="M334 682l50-27M394 527l49 33M601 581l50 0M413 625l40 13M562 638l59 4M404 644l39 6M493 663l59-60M572 605l59 58M611 655l60-19M473 583l69-46M324 636l60 25M354 662l69-93M512 531h0M285 635l49-29M265 652l49-8M522 308l40 294M394 636l69-36M463 659l59-13M255 636l50 16M344 667l50-79M255 624l59 26M542 594l50 4M552 652l49-3M473 653l39-3M384 680l39 8M562 672l59 18M552 665l69-9"/>
<path class="c1" d="M394 629l49 12M512 677l50-8M453 630l40-58M413 647l50 1M404 614h0M542 539l40 62M225 598l50-28M611 664l50 1M532 652l69-8M404 667l49-37M443 580l69-5M512 587h0M394 523l39 23M314 653l50-9M344 657l50-5M453 662l49 8M601 650l50 5M512 658l50-2"/>
<path class="c5" d="M443 679l59 0M601 592l50 14M235 595l70 3M483 371l59 290M354 629l50 2M314 579l40 74M394 647l59-18M512 589l50 20M542 531l50 92M423 644l50-27M443 565l50 17M502 656l50 1M433 492l50 86M364 507l40 49M394 666l49 15M443 591l50 58M433 590l50 60M295 650l49 13M542 603l40 15M562 515l69 129M621 640l50 2M572 607l49 23M285 610l49 20"/>
<path class="c14" d="M542 539l59 56M423 653h0M404 538l49 62M502 624l60-7M552 637l49-47M641 514h0M354 620l50 14M542 587l40 13M542 351l69 248M502 648l60-101M582 645l49 12M601 654l60-17M463 650l49-17M621 599l50 14M443 661l40-8M384 638l49-25M374 668l39-40M433 596l50 21M394 579l59 38M344 635l50 7M483 660l39-2M364 646l40 12M641 620l59 10M295 477h0M334 631l60-132M631 579l60 56M611 661l60-11M443 634l59-18"/>
<path class="c4" d="M562 651l49-7M384 633l59-1M621 632l70-13M265 550l40-17M354 544l59 8M404 654l49-22M433 653l50-10M295 542l39 4M413 560l50 42M493 663l39-2M433 614l40 1M423 539l50 114M562 610l49 1M394 609l59-107M384 666l49-62M641 638l50-41"/>
<path class="c10" d="M384 656l49-7M235 548l50 2M314 651l50 14M423 641l60-4M552 661l49 1M443 654h0M473 653l39 3M502 606l40 7M384 657l49-28M512 641l50 26M522 680l40-15M374 463l39-25M601 627l50 2M344 622l40-23M493 645l49 11M473 684l39 2"/>
<path class="c7" d="M522 643h0M374 617l69-14M493 618h0M433 659l40-10M433 563l50-21M324 660l70-13M394 585l49-16M502 632l60 3M433 624l50 13M295 683l59-27M285 671l59-5M384 655l49-18M562 556l59 11M542 652l50-6M453 656l49 13M611 654l50 0M562 642l49 16M334 643l60 33M423 631l50-74M562 662l59-4M453 626h0M354 653l50 3M443 636l50 16M314 638l50-30M423 628l50-5M255 524l59 104M473 613l69 11M512 621l40 23"/>
<path class="c2" d="M255 598l59-7M245 623l40-21M404 622l49 0M552 591l49 44M463 529l69-47M502 637l70 4M364 628l59-42M493 613l59 31M374 669l49 1M473 670h0M562 634l49-8M334 650l60-20M542 674l40-31M483 612l49 3M542 670l40 25M631 546l60 84M265 648l69 10"/>
<path class="c7" d="M433 636h0M433 644l50-22M532 606l50 34M354 626l50-23M582 639l49-4M562 663l59-8M601 660l60-241M384 652l49-38M344 602l50 47M592 646l39 8M314 594h0M552 638l69-63M611 672l70-16M404 602l59-28M473 610h0M334 475l40 194M404 608l39-77M532 419l60 21M572 633l69 11M532 492l50-19M582 572l59 33"/>
<path class="c8" d="M364 671l40-18M384 624l59-19M473 595l39 26M463 607l69-21M265 583l59-3M225 635l40-20M413 618h0M552 618l69 30M522 622l50 14M532 631l50-34M423 654l50 7M423 610l50 11M344 666h0M512 614l50-36M522 636l50 17M334 663l50-25M483 652l59 10M552 612l49 45M305 659l49-9M631 623l50-8M433 628l60 22M463 611l49-13M631 651l50-214M453 623l59-18M572 669l49-3M473 559l59 3M453 636l49 14M552 619l49-91M483 536l49 66"/>
<path class="c13" d="M384 626h0M423 603l50-92M542 621l50 23M522 657l50 14M582 601l49-3M374 605l39-13M433 651l50 15M443 597l59 23M413 630l60-19M651 614l49-23M443 605l50 28M354 655l50-5M305 539l59-32M443 662l50-8M473 619l49 14M552 646l49 13M423 629l50-14M473 680l49-22M295 610l59 6M394 620l49 0M483 619l59 9M314 563l60 41M394 407l69 128"/>
<path class="c6" d="M235 664l40-15M404 656l49-20M235 667l50-5M552 598l49 12M493 660l69 15M641 653l40-8M532 660l50-8M453 608l69 1M443 612l50 1M493 561l39-61M671 667l49-2M532 572l50 83M552 644l59 12M404 657l49-12M354 657l50 8M344 620l50-39M582 642l49-1M542 658l59 9M305 630l49-14M354 666l59 6M572 521l69 67M354 605h0M502 627l60 17M443 617l59 63M483 598l49 52M463 620l49 29M562 529l49 52M384 633l49-22M473 649l39 9"/>
<path class="c14" d="M235 588l70 59M443 627l50 2M592 649l59-28M592 634l49 5M295 670l59-5M562 404l39 167M413 626l50 29M344 649l60-6M354 642l50 2M463 667l49 4M314 628l40-11M592 459l39 175M314 656l50-16M611 649l70 14M592 656l39 17M275 657l59-26M423 639l50-58M512 674l60-29M483 654l69 18M245 633l40 19M255 667l40 0M512 523l50 32"/>
<path class="c11" d="M443 657l50 2M473 549l49 65M582 661l49-36M314 622l50 33M324 614l50 24M512 593l70 17M374 674l49 4M423 631l50 11M562 629l59-30M354 631l69-99M621 654l50 19M364 679l49-44M384 635l69-71M542 649l50-6M611 626l60 37M552 604l49 63M601 613l50-4M404 632l39 2M285 690l59-17M423 616l50-57M522 632l50 21M324 643l60-18M364 439l49 144M562 626l49-34M354 661l40 8M404 664l49-16M592 621l49 5M463 631l69 7M542 660l50-40M502 643l60 7M542 624l50-61M354 640h0M651 690l59-20M295 657l39-55"/>
<path class="c10" d="M473 603l49-11M344 629l40 18M394 657l49 2M413 661l50-4M453 618l69 17M423 651l50-2M384 639l59-6M473 656l49-4M404 603l49 28M611 635l60 15M423 647l40 1M275 665l49 4M562 624l59 27M433 627l50-67M631 621l60 7M463 678l49-6M423 674l50-24M562 622l49 6M572 615l49-14M562 523l49-2"/>
<path class="c1" d="M275 625l59-11M295 661l69-10M423 637l40 5M542 651l40 4M453 653l49 24M404 556l49 24M582 660h0M423 590l40 13M384 637l49-26M532 628l60-23M394 659l59-7M502 605l60-5M453 607l59-19M443 573l59 20M235 297l50 329M592 635l49-2M592 666l49-2M641 630l59-8M493 606l59-33M394 650l59-24M463 628l49 7M562 651l49-12"/>
<path class="c3" d="M493 601l59 12M453 668l49 0M483 641l39 47M305 655l49-207M374 652l49 11M601 628l40 5M354 685l50-11M611 649l60 22M621 614l70 14M433 674l60-17M374 654l69-4M354 632l59 0M275 580l49-80M542 665l59-6M255 602l50-22M374 613l59-48M354 645l50-2M423 631l50 4M532 578l60 29M562 647l49-1M463 669l39-11M394 655h0M443 671l59-2"/>
<path class="c12" d="M384 674l49 2M453 620l40 17M374 603l39 2M453 628l49 5M493 632l39 32M493 553l49 62M305 634l49 26M285 565l59-309M404 653l59 16M621 651l50-8M493 621l69-4M354 651l40 10M463 535l49 12M641 628l50 6M314 586l50 47M453 617l49-23M423 561l50-18M512 624h0M344 551l40 35M275 597h0M453 647l49-22M552 610l49 9M314 628h0M324 580l60 39M552 598l59-5"/>
<path class="c0" d="M601 606l40 51M493 648l49-68M344 662l50-17M443 650l50 19M463 538l49-65M562 635l59-2M532 652l50-13M512 671l60 13M463 640l49-20M463 657l49 11M443 646h0M493 564h0M423 649l60 13M354 592l50-54M483 594l49-62M443 586l69 9M404 570l49 60M463 671l49 0M225 669l50-11M463 608l49-3M305 618h0M483 575l49 15M334 664l70-33M354 675l40-71M453 655l49-13M265 616l59-41"/>
<path class="c5" d="M592 651l59-40M374 653l39-10M354 666l40 12M364 568l49 68M631 637l50 6M295 621l49 4M621 580l50 49M522 596l50 17M354 332l50 173M502 637l50-19M404 601l59 29M433 604l40 23M453 572l69-122M453 619l59 8M463 619l69-27M384 647l49-60M473 643l59-12M493 634l49 8M433 686l69-18"/>
<path class="c9" d="M562 680l39-22M582 611l49 0M453 585l49 6M344 669l40 2M483 648l39 5M592 643l49-3M512 650l50-22M423 656l50-8M473 642l39 9M502 600l50-25M364 427l40 184M512 602l50-29M463 644l49-19M463 619l39 31M413 548l60 32M552 608l49 6M443 600l50 17M473 648l49-3"/>
<path class="c4" d="M443 654l50-23M413 645l50 15M423 616l60-12M225 638h0M344 649h0M394 620l59-57M601 598l70-7M493 676l49-12M611 599l70 15M344 653l50-6M394 646l59 14M394 644l49 36M502 643l50-11M344 622l69 26M542 548l69 30M433 665l50-426M245 537l50 116M433 650l40 18M483 676l49-10M463 625l59-33M493 609l59-34M344 626h0M423 651l70-10M334 675l50-7M473 618l59-17M463 669l49 14M374 587l49 21M601 596l50 42M552 677l59-5M413 660l50 0M225 638l50-14M522 545l70 47M502 635l60-21M305 654l49 0"/>
<path class="c3" d="M1151 583l39-30M1327 599l58 13M1180 596l49 50M1044 520l68 34M1297 547l49 33M1141 638l49-29M1297 501h0M1229 553l49-34M1063 589l49 17M1131 498l49 66M1346 582l49-1M1180 495l49 38M1122 559l39-3M1258 437h0M1239 573h0M1327 638h0M1131 383l40 84M1151 538h0M1190 495l68 23M1151 636l39-45M1141 465l49-24M1297 647l59-7M1141 536l59-8M1151 358h0M1210 592l68-23"/>
<path class="c5" d="M1219 576l49-14M1092 588l49 11M1171 556l39-84M1356 465l49-53M1307 539l59-50M1161 638l49 11M1151 247h0M1161 620l49-8M1288 552l48 7M1229 448l39-193M1122 559l49-17M1112 604l49 23M1180 477l49 50M1190 643l59-74M1083 524l48 6M1219 497l39 71M1268 540h0M1278 606l58-4M1297 525l49 31M1405 555l39 2M1336 626l49 24M1200 628l49-16M1229 532l49-12M1239 559l49-72"/>
<path class="c13" d="M1112 255l68 164M1073 354l49-87M1356 575l59-67M1346 530l49 27M1405 479l49 109M1336 576h0M1366 535l49-8M1190 515l59 9M1385 579l59-3M1034 573l58 16M1073 542l39 3M1415 546l48-68M1131 609h0M1356 540l68-6M1239 603l68-111M1278 467l49 60M1171 607l68 4"/>
<path class="c6" d="M1092 633l39-14M1219 502l49 17M1297 464l49 115M1210 592l48-50M1307 483l49 19M1229 404l59-59M1249 507l48 55M1092 480l49-81M1297 373l49 14M1288 606h0M1258 536l59-168M1346 518l59 5M1210 617l68 1M1122 476l58 25M1161 442l68 75M1395 617l49-7M1180 392l59 138M1249 579l48-23M1131 532l59-77M1385 506l49 24M1161 577l49 49M1258 628l49 8M1229 592l59-44M1317 625l49-32"/>
<path class="c2" d="M1180 623l39 8M1258 606l49-22M1249 492l58 40M1210 364l58 63M1307 548h0M1297 566l39 18M1258 448l69 42M1327 473l39 64M1190 578l39 25M1131 555l69 31M1210 568l68 14M1258 554l49-4M1112 586l49-47M1268 567l68-12M1151 368l49 149M1249 325l58 70M1229 524l59-72M1053 508l59 99M1044 484l48 8M1112 511l49 50M1307 574l59-10M1180 610l49 18M1190 618l49 14M1161 538l68-34"/>
<path class="c9" d="M1258 506l69 55M1375 562l49-3M1297 523l39 88M1239 517l49-22M1161 508l58 63M1288 579l58 50M1268 445l49 163M1180 462l69 70M1375 605l49-153M1141 470h0M1307 499l49 26M1288 626l48-12M1171 503h0M1210 589l48-46M1258 626h0M1317 621l58 4M1327 417l48 89M1034 511l68-22M1151 451l49 59M1258 550l59-22M1034 434h0M1200 544l49-31M1171 529l48 67M1171 483l58 41M1327 461l48-4M1171 641l39-8M1063 456l39 46M1258 468l39 101"/>
<path class="c1" d="M1424 540l49 1M1415 540l68 20M1434 526h0M1336 489l59 113M1229 566l49 24M1307 417l49 182M1219 565l49 15M1200 563l58 25M1005 557l39 15M1171 519l39 64M1317 600l58-16M1336 609l49 2M1161 526l39 39M1073 506l58-11M1131 513l59-15M1249 549h0M1424 639l49-4M1112 498l49 53M1327 496l58 32M1219 488l49-18M1190 484l68 62M1171 604l39-17M1356 575l49 14M1385 474l39 135M1346 515l49-118M1424 570l69 29M1131 557l49-7M1219 493l49 32M1200 576l58 4M1278 577l58 25M1385 585l49-1"/>
<path class="c14" d="M1161 470l49-126M1258 544l49-18M1200 610l58 9M1219 526l49-1M1258 640l49-7M1200 532h0M1122 499l68-10M1366 637h0M1190 527l39 2M1229 534l59-77M1122 532h0M1258 577l39-17M1200 547l39-22M1171 469l48 43M1307 505l49 39M1190 528l49 9M1307 546l39-43M1073 529l49-31M1044 518l68 47M1053 634l59 4M1317 624l39 2M1024 591l49-93"/>
<path class="c10" d="M1024 576l49 30M1210 606l48 20M1229 620l59-15M1112 551l39 18M1258 554l49 24M1375 522l69 93M1366 638l49 20M1229 574l49-14M1268 560l49-8M1102 554l49-58M1180 568l69-28M1014 547l59 21M1288 606l58 6M1151 561l59-16M1268 390l59 217M1327 388l39 65M1190 612l59 19M1044 505l48 38M1405 537l49-26M1229 536l49-9M1229 505l39 19M1356 557l49 55M1385 528l49 32M1317 530l49 14M1297 623l49-15"/>
<path class="c0" d="M1307 599l59-88M1102 560l39 28M1229 605l49-8M1239 600l49-2M1239 587l49 2M1102 560l59 20M1346 552l49 31M1346 556l49-5M1219 576h0M1307 493l39 19M1415 548l58 19M1336 543l59 3M1190 365l39 128M1102 608l69-8M1229 533l68 59M1258 618l59 0M1092 530l49 29M1229 502l39-79M1288 445l48 160M1219 468l59 36M1297 612l49 10"/>
<path class="c7" d="M1131 511l49 22M1327 598l58 33M1102 487l59-77M1229 601l39 15M1317 473l49 16M1239 477l58 63M1014 423l49 36M1405 578l49 16M1258 570l49 3M1190 609l49 8M1122 642l49 11M1141 603l49 24M1180 503l59-123M1327 623l68 9M1219 474l39 91M1073 439l58 26M1239 523l58-48M1288 567l58 0M1131 506l40 83M1366 393l49 147M1278 583l49-6M1122 514l39 35M1131 521l59 19M1307 540l68-73M1249 580l48 23M1131 602l59 3"/>
<path class="c12" d="M1044 523l48-22M1044 589l48-13M1180 576l49-3M1327 469l58-85M1034 447l39 22M1385 644l59-21M1044 525l48-87M1161 490l49-43M1141 603l59 1M1307 518h0M1366 536l39 6M1122 522l49-10M1336 636h0M1327 567l39-7M1053 448l49 71M1200 545l49 20M1161 489l68 26M1258 578l59 6"/>
<path class="c4" d="M1151 457l59-44M1034 468l58 27M1219 411h0M1249 612l68-51M1161 641l49-66M1258 570l39 23M1327 582l39-6M1288 532h0M1229 440l59 91M1044 524h0M1278 549l39 13M1366 570l39 25M1229 579l39 13M1190 455l49 9M1171 531l48-20M1219 598l49-1M1356 621l68 30M1034 509l39-56M1297 568l59-27M1190 480l68 29M1219 620l59-33M1034 593l58 38M1385 653h0M1249 474l39-11"/>
<path class="c11" d="M1210 599l48-11M1278 562h0M1092 570l59 0M1336 557l49 18M1288 578l58 17M1366 585l49 15M1249 494l48 83M1219 386l39 108M1268 518l49-14M1200 456l49 42M1375 525l49 72M1288 525l58 20M1200 483l49 37M1229 624h0M1219 539l59 6M1219 571h0M1083 529l39-140M1180 578l69 20M1336 369l49 99M1288 604l48-14M1268 557l68 31M1122 620l68 8M1014 506l39-3M1288 378h0M1141 512l39 26M1268 604l59 7M1317 565l58 39M1161 533l68 45M1249 555l58-70"/>
<path class="c8" d="M1415 524l68 25M1131 568l49-35M1102 591l49-4M1180 623l49 47M1239 548l58 23M1141 545l59 61M1375 487l40 18M1346 611l39-9M1268 571l49-5M1424 591l49 5M1073 597l68-12M1405 589l58-62M1239 585l39 19M1258 503l69 63M1171 435l58 47M1180 524l49 24M1190 533l49 77M1210 672l48 8M1219 568l49 9M1219 492l59 48M1063 450l68-37M1200 486l68-52M1327 545l48-35M1171 534l48 17M1190 610l39-10"/>
<path class="c3" d="M1239 553l39 23M1102 607l59-12M1268 565l59-22M1073 630h0M1356 593l49 17M1229 544l68 14M1102 274l49 80M1258 560l59-8M1317 608l68-14M1346 557l49-4M1268 511l49 22M1005 573l39-72M1346 571l59 41M1395 614l68 2M1141 517l49-29M1200 542l49 12M1297 597l59-50M1102 348l49 110M1102 571l49-36M1200 504l58-64M1307 606l49 23M1122 482l49-18M1112 616l49-12M1131 463l49 15M1190 572l68 41M1131 596l59-16M1346 624l49-30M1239 592h0"/>
<path class="c14" d="M1210 491l39 40M1288 598l58-20M1258 470l49 33M1336 540l59-6M1210 621l48-67M1053 527l59-20M1317 625l49-71M1219 565l69-8M1239 578l39 17M1219 589l69 34M1239 379l39 94M1171 553l48 2M1434 644l59-40M1161 529l49 59M1415 550l39-29M1131 464l40-7M1053 403l49 49M1200 484l49 11M1317 579l58 8M1258 467l49 36M1161 476l39 79M1171 474l39-12M1278 548l49 48M1171 502l39-18M1346 585l39 6M1180 174l69 53"/>
<path class="c7" d="M1268 535l68-27M1053 568l59 20M1141 553l49-38M1239 510l49 65M1229 444l59 110M1239 423l68 95M1083 558l48 20M1268 559l59-10M1161 519l58 39M1190 505l49-34M1229 473l39-21M1239 514h0M1327 545l48-36M1229 630l68-5M1053 625l49-5M1161 250l58 176M1415 621l48-14M1385 618l59 5M1307 450l59 62M1288 546l58 47M1258 614l59-50M1297 618l49 2"/>
<path class="c8" d="M1307 506l49 40M1278 522l39 34M1258 598l69 9M1112 590l49-20M1063 380l39 77M1200 494l68 16M1258 544l39 47M1327 509h0M1356 556l68-4M1200 516l49 10M1346 620l59-17M1092 617l59-30M1258 536l49 11M1190 631l49-14M1083 405l58 31M1346 545l49-19M1112 445h0M1258 574l49 27M1219 614l49 1M1297 548l59-253M1375 551l49-39M1258 585l49 11M1327 647l58 14M1268 521l49 27"/>
<path class="c1" d="M1053 567l59 4M1268 412l49-29M1424 494l59 13M1366 560l49 23M1327 546l48-4M1239 578l49 14M1278 533l49 41M1229 590h0M1180 421l49 46M1171 523l48-57M1073 590l58-38M1229 471l68 62M1327 561l48 84M1395 405l49 147M1258 438l49-137M1180 503h0M1171 511l58 11M1395 445l49 7M1171 634l48-23"/>
<path class="c9" d="M1063 534l68-77M1122 533l49 69M1014 502l49 10M1063 582l49 28M1307 527l39 65M1405 624l49-40M1356 522l49 32M1307 569h0M1366 507l49 12M1034 593l39-5M1092 458l59-27M1044 542l48 10M1288 530l58-132M1405 598l49 19M1161 538l58 13M1229 476l49 72M1190 563l59 3M1297 561l49-3M1297 583l49-10M1288 573l48 51M1141 536l39-71"/>
<path class="c12" d="M1288 584l58 19M1092 480l49 31M1317 329l49 2M1327 593l48 39M1171 389l48 86M1005 519l48 6M1268 484l59 9M1151 518l39 12M1288 541h0M1317 470l49 59M1190 564l39-15M1239 548l58-28M1141 398l39-51M1395 577l59-10M1258 301l69 245M1180 495l49 22M1258 340l49 152M1405 627l68-2M1395 609h0M1073 515l49 27M1268 596l49-33M1200 548h0M1346 534l49 18M1268 560l39-1M1200 403l49 70M1268 658l49-67M1229 590l39-54M1161 438h0M1288 572l48 19"/>
<path class="c0" d="M1346 511l69-75M1102 490l49 28M1024 550l68 26M1297 574l49 20M1161 610h0M1424 527l39 71M1200 501l49 38M1200 540l68-6M1307 570h0M1053 583l49 8M1327 498l48 14M1151 517l59 63M1171 578l48 8M1151 442l59-107M1239 656l49 6M1141 533l49-1M1229 552l59-86M1268 501l39 9M1190 279l49 65M1297 601l69 28M1219 606l49 18M1122 540l58-4M1327 646l39 5M1141 563l49-33M1288 420h0M1190 612l59-16"/>
<path class="c5" d="M1190 510l59 35M1356 404l49 22M1346 596l49-13M1131 624l40 7M1180 564l49 26M1219 467h0M1171 474l48 27M1258 563h0M1190 266l39 130M1229 444l39 89M1327 518l48 86M1278 595l39-40M1210 563l48-86M1122 572l49-21M1307 557l49-28M1327 423l48 76M1102 389l69 7M1268 535l59-24M1171 490l68-8M1297 587l49 31M1249 435l48-111"/>
<path class="c4" d="M1278 503l39 23M1405 581l49-63M1063 512l49-11M1219 204l39 265M1424 625l49-13M1141 583l39-115M1239 396l58-48M1385 610l49 4M1375 522l49-24M1249 453l39-37M1239 590l39-101M1024 588l49-19M1063 399l49 26M1112 537l49-311M1278 622l49-1M1219 533l59 34M1190 529l39 52M1307 542l49 9M1161 493l58 40M1200 567l49-2M1288 559l39 35"/>
<path class="c13" d="M1249 601l48-7M1346 541l49 89M1210 522l48-30M1092 591l59-10M1297 523l69 14M1112 546l59-7M1229 505l39-68M1336 417l59 104M1200 522l58 14M1258 563l49 20M1317 579l49-27M1424 572l49-3M1268 607l49-197M1180 532l49-2M1180 619l49-4M1278 542l68 47M1317 505h0M1366 437h0M1190 537l49 41M1268 495l68 58M1005 494l48-32M1053 601l69 9M1336 544l39-1M1151 554l49 23M1288 554l39 17M1190 368l39 151M1258 615l59 15"/>
<path class="c10" d="M1317 599l49 8M1268 528l49 66M1346 648l59-7M1229 594l49-22M1307 624l59 7M1092 577l49 9M1249 586l58-70M1385 398l49 47M1336 511l39-64M1268 248l49 270M1327 519l68 34M1288 526l48 50M1346 591l39-6M1239 644l49 9M1229 595l59 0M1180 541l49-11M1131 474l59 114M1249 630l48 33M1307 601l59-48M1171 541l68-39"/>
<path class="c11" d="M1151 469l68 71M1044 562l39 24M1219 512l49 14M1317 466l58-49M1131 587h0M1083 543l68-71M1171 520l48 16M1278 628l49 8M1102 614l59 7M1171 426l39 61M1122 424l49 25M1122 429l49 120M1151 609l49 17M1024 603l68-39M1014 582l39 20M1249 534h0M1288 547l48 8M1180 650l69-37M1258 459l49 76"/>
<path class="c6" d="M1297 539l49-34M1258 575l59-37M1288 394l58 49M1171 483l68 75M1092 624l59-2M1151 605l49-27M1307 628l49-1M1297 540l59 25M1307 438l49-17M1249 622l39-19M1268 570l49-33M1200 560l58-34M1239 539l58 74M1063 510l49-36M1122 597l58 5M1375 592l49-31M1014 457l69-203M1385 496l49 39M1180 521l59 33M1180 624h0M1424 535l59 17M1415 615l58 29M1415 584l58-5M1229 538l39 69M1131 490l49-37M1171 496l48 21M1327 487l48 31M1190 635l49 6M1083 583l48-10M1122 505l49 47M1200 515l58-92"/>
<path class="c2" d="M1317 545l39-15M1112 503l59-116M1219 573l49-9M1102 417l49-251M1229 537l49-68M1063 479l39 0M1151 468l59 55M1229 471l68 19M1268 583l68 13M1171 496l58 25M1444 653l39 1M1141 409l39 139M1180 581h0M1131 590l59-22M1258 520l39 9M1317 506l68 39M1122 449l58 50M1258 505l69 22M1190 503l59-3M1190 465l49 79M1122 407l49 31M1258 566l49-7M1151 551l59 1M1307 547l39-26M1161 570l39-10M1180 440l49-24M1385 494l49 13M1288 530h0M1102 420l49 58"/>
<path class="c7" d="M1317 627l49-17M1122 595l68 3M1307 517l59 66M1229 471l49 54M1092 560l39 19M1014 453l39-60M1210 457l58-44M1053 604l69 26M1200 582l39 28M1346 479l49-50M1229 634l68 4M1239 499l49-19M1258 562l49 35M1346 556l49-28M1229 442l49 9M1200 623l39 4"/>
<path class="c13" d="M1249 529l39-35M1375 610l49-24M1219 554l59 42M1229 569l39 41M1131 566l49-44M1288 490l48 22M1356 587l49-2M1122 602l58-90M1336 626l49 8M1297 588l49-133M1219 558l49 7M1278 603l58-112M1415 625l48 6M1268 480l39 66M1327 559l48 31M1278 563l49 26M1200 589l39 18M1239 565l49 48M1385 628l69 13M1297 479l49 27M1219 594l69 33M1258 593l49 10M1268 541l49-16M1249 160l39 151M1141 500l49 14"/>
<path class="c12" d="M1141 471l49-121M1239 583l39-21M1278 261l68 294M1102 592l69 2M1395 618l49-21M1073 587l49 9M1239 402l49 46M1190 547h0M1375 529l59 16M1112 432l49 4M1190 551l59-16M1180 556l49 71M1229 572l39 4M1151 450l39-82M1239 601l68-10M1249 508l48 9M1210 544h0M1083 536l48 2M1171 360l68-60M1258 599l39-24M1268 516l59-14M1258 613h0M1239 511l49-81"/>
<path class="c8" d="M1415 570l48 23M1297 435l49 75M1317 463l68 97M1180 616l49-18M1307 508l49-25M1346 538l59-46M1366 514l58 50M1122 489l49-58M1415 613l58-15M1210 534l48-78M1327 352l48 79M1190 531l59 72M1171 572l48 64M1053 598l49 12M1014 573l49-22"/>
<path class="c2" d="M1171 545l48-45M1210 564l39-39M1141 526h0M1161 556l68 26M1229 511l39-86M1044 449l48-60M1327 599l58 1M1415 587l58-10M1239 530l49 13M1375 590l49-32M1210 360l48 34M1229 551l59 15M1190 434l49-84M1239 426l39 17M1024 471l49 3M1102 487l59 52M1092 501l49 22M1239 549l49 24M1161 395l49-14M1171 526l58 0M1014 592l69 17M1210 603l68-29M1063 496l49 8M1288 604l48-51M1190 571l49-57M1249 589l39 18M1385 535l49 42M1219 438l49-69M1297 579l49-15M1229 472l59-23M1171 578l58-15"/>
<path class="c10" d="M1219 595l39 5M1073 448l58-29M1307 627l49-13M1219 534h0M1444 566l49-15M1180 433l49-9M1171 430l58-1M1210 535l58 26M1092 546h0M1278 509l58 34M1424 622l49 16M1366 517l49 123M1210 530l48 22M1366 486l39 50M1200 444l49-13M1278 588l49 20M1190 451h0M1141 596l49-8M1112 533l39 26M1141 496l49 24M1239 612l39-16M1200 531l49 5M1346 617l39-33M1131 433l49 17M1200 553l58 15M1102 585h0M1239 541h0M1044 349l48 105M1171 488l68 15M1268 645l68 0M1229 538h0M1102 562l39-14M1122 479l49 28"/>
<path class="c1" d="M1180 574l49-53M1317 558l49 7M1375 530l49 7M1122 534l58-44M1190 429l59 3M1190 578h0M1278 567l49 28M1141 529l59 12M1092 464l49 20M1278 469l58-28M1249 470l48-2M1171 560l58 53M1210 541l58-101M1366 540l68 25M1385 612l49-62M1249 541l48 7M1180 519l59 24M1239 359h0M1083 508l39-32M1258 583l69 21M1200 496l49 26M1131 497l49 76M1249 473l48 41M1327 638l48 11M1317 292l49 273M1249 618l48-2M1288 642l58 0M1083 618l48-37M1366 528l68 38M1297 560l49-3"/>
<path class="c0" d="M1083 566l48-28M1288 626l48 20M1180 534l49 5M1268 583l59 25M1102 556l69-104M1102 238h0M1200 500l49 5M1131 607l59 3M1288 615l39-40M1034 280l49 42M1102 537l49-8M1053 548l59-58M1122 544l68 32M1151 519l49 29M1219 458l59 30M1122 567l49 18"/>
<path class="c6" d="M1190 559l49-12M1346 585h0M1200 560h0M1122 458l49-6M1434 642h0M1268 491l49 19M1044 552l58 10M1180 521l69-15M1190 497l68 33M1190 414l59 12M1190 516l49-105M1229 498l68 21M1395 549l59 44M1122 605l68 8M1092 492l39 83M1151 453l49 45M1219 460l39 31M1210 451l48-42M1180 564l49-10M1190 632l39 23M1346 593l59-5M1268 599l39-38M1092 489l49-171M1395 474l49-1M1288 555l58-102"/>
<path class="c14" d="M1161 589l58 19M1190 632l59 1M1288 597l48-53M1258 568l49-24M1307 409l49 222M1151 516l49 25M1190 512l49 50M1268 321l49 62M1297 552l69-145M1249 528l68 37M1112 618l49-94M1278 581l49 0M1102 505l49-133M1190 501l49 27M1268 458l39-200M1200 434l58 44M1171 594l48 16M1327 548l68-23M1385 605l49 27M1141 500l49 33"/>
<path class="c3" d="M1219 455l49 16M1288 553l48 6M1307 549l49 31M1161 583l68 5M1161 605l68 12M1141 501l49 16M1219 502l49 60M1219 586l49-58M1288 589l39 4M1278 420l68 84M1297 600l49 11M1307 515l59 10M1415 599l48 11M1268 538l49 47M1102 558l39-63M1112 455l49 52M1307 565l59-12M1249 542l48 71"/>
<path class="c5" d="M1073 561l49-57M1102 565l59-50M1268 574l49-11M1366 576l68 7M1278 341l39 204M1327 579l48-22M1151 644l68-20M1102 602l49-36M1239 539l49 11M1366 580l58 24M1288 490l58 60M1034 570l58-5M1180 447l59 79M1278 622l49 12M1190 501l59 90M1200 497l58-5M1141 593l59-1M1122 385l39-20M1424 608l39 8M1366 484l49 79M1336 644l49 2M1210 603l48-7M1131 491l49 21M1200 465l49 105M1083 613l48-23M1131 632l59-3M1239 519l49 23M1024 540l49-15M1288 508l39-208"/>
<path class="c9" d="M1405 627l58 13M1161 605l39 13M1053 371l59 86M1073 543h0M1151 474l39-31M1131 606l49-17M1307 620h0M1180 447l59 100M1219 478l59-5M1200 515l49 5M1288 411l58 44M1151 541l49 7M1405 590l39 49M1385 535l49 7M1229 535l39-14M1141 542l49-21M1336 519l59 91M1219 505l49 144M1024 533l39 36M1073 596l39-136M1288 642l48-21M1297 593l39 8M1268 488l49 46M1424 574l39-86M1034 575l49 27M1034 325l68 118"/>
<path class="c11" d="M1200 550l58-76M1258 533l59 32M1249 511l48 25M1444 630l39 22M1141 493h0M1249 618l68 19M1258 613l49-50M1317 453l49 48M1307 172l49 326M1024 550l49-68M1268 493l49 11M1307 602l49-4M1307 562h0M1210 580l39-124M1063 552l49 5M1200 505l58 71M1141 584l59 17M1180 403l49-1M1102 502l59-144M1239 437l58 60M1278 503l58 92M1024 543l49-9M1415 608l68 2M1161 478l49-9M1249 625l48 9M1288 502l58-28M1210 548l58-9M1258 528l49-42M1385 604l59-11"/>
<path class="c4" d="M1356 562l68 25M1044 555l48 39M1161 471l49 83M1346 482l69 43M1405 539l68-43M1424 611l49 2M1366 604l49 8M1122 492l39 1M1092 466l59-86M1200 540l58 20M1317 561l49 63M1161 606l68-24M1131 536l59 34M1200 550l58 32M1278 583l49 20M1122 638l58-30M1307 594l49 27M1297 506l59 103M1229 575l49-89M1356 613l49-31M1210 526l39 49M1073 625l39-64M1083 636l58-10M1415 582l48-1M1297 466l69 67M1044 484l48 16M1385 486l49-17"/>
<path class="c8" d="M1307 560l49 21M1385 577l49-6M1415 548l58 31M1239 439l58 37M1356 527l39-20M1210 567l39 24M1268 595l39-7M1297 480l39 20M1112 592l59 12M1278 592l39 47M1268 555l49 18M1336 566l69 7M1229 501l59 26M1112 508l59-34M1034 575l39-42M1171 589l58 24M1210 428l39 66M1317 441l58 96M1131 599l40-13M1131 530l49-43M1317 414l49 63M1278 513l58 9M1131 589l49-60M1239 593l49 10M1239 609l68-46M1336 415l49 70M1278 494l39 57M1200 521l58-5M1073 646l58-1"/>
<path class="c3" d="M1288 408l58 50M1180 491l69 48M1249 538l48 5M1346 548l59 35M1200 486l39-90M1171 556h0M1366 586l49 27M1005 422l58 33M1112 557l68 61M1278 601l49 4M1346 578l39 16M1180 499l39 28M1307 596l59-3M1112 539l59 8M1180 455l49 93M1278 602l49-16M1210 520l48-47M1346 633l49-5M1317 563l68-28M1210 533l48 29"/>
<path class="c13" d="M1044 565l68 10M1024 498l49 65M1385 615l49-43M1141 603l69 16M1268 439l49 19M1268 419l68 79M1141 548l49-2M1161 627h0M1044 598l48-47M1122 574h0M1151 612l59 25M1092 454l39-26M1395 354l49-5M1161 457l49-16M1112 396l39 27M1151 519l49-82M1366 595l68 5M1307 600l49 33M1180 540h0M1336 532l49 78M1161 481h0M1190 525l59-8M1278 551l39-7M1327 522l48-19M1346 502l59-28"/>
<path class="c0" d="M1200 552l49 10M1375 585l49 25M1014 530l49 1M1102 481l59-45M1102 559l59 10M1151 474l49-29M1102 580l49 5M1268 419l68 121M1053 618l49 19M1092 582l49-2M1385 345l39-10M1366 592l39-46M1024 445l68 89M1366 605l49-46M1424 472l49-40M1375 482l49-208M1288 603l48-27M1171 586l48 7M1336 536l49 4"/>
<path class="c7" d="M1180 568l59-6M1239 592l49-8M1190 481l49 18M1297 634l39-5M1024 531l59 52M1278 494l49 85M1297 535l49 4M1385 547l49 23M1327 612l58-15M1375 520l49 0M1190 504l39-17M1307 531l49-21M1200 494l49 0M1297 524l39 23M1092 542l49-3M1258 541l69-21M1327 581l48 35M1083 578l58-37"/>
<path class="c4" d="M1239 498l58 72M1288 575l48-7M1131 469l69 4M1249 593l58-16M1249 522l48-7M1131 377l59 31M1327 354l48 101M1200 587l58 23M1161 624l39-29M1395 600l59 46M1210 566l48 8M1297 579l39 23M1044 529l48-80M1297 559l49-12M1229 512l49 22M1336 503l69-1M1297 521l59-6M1092 626l39-3M1161 648l49-5M1405 529l49 4M1161 550l49-37M1151 535h0M1229 524l49 30M1317 549l49 22"/>
<path class="c14" d="M1131 475l49 22M1317 482l68 19M1239 493l49 50M1356 603l59-7M1171 600l48 32M1288 568l39 5M1278 626l58 26M1239 506l58 5M1141 505l59-70M1249 555l48-85M1297 525l49 89M1346 510l59-3M1161 525l49-49M1161 596l49-9M1288 617l48-1M1239 572l49-11M1122 529l39 34M1424 617l59 17M1200 501l39-69M1141 603l49 38M1141 553l39-1M1171 330l48-116"/>
<path class="c9" d="M1122 591l49 14M1200 525l58-38M1336 554l39 52M1268 542l39 35M1190 558l49 12M1190 569l59 7M1288 619l39-34M1219 559l39 5M1034 633l49-20M1288 475l58 46M1083 505l58 54M1219 441l39 3M1131 570l40 7M1141 572l49 30M1278 579l49 39M1131 562l49-3M1151 599l49 13M1405 577l49 9M1307 599l49-45M1092 494l39 34M1356 553l59 33M1131 537l49-33M1200 505l49-17"/>
<path class="c10" d="M1063 626l59-113M1141 422l59 41M1053 469l49 50M1258 514l59-5M1161 573l49 9M1375 607l49 22M1034 562l49 4M1327 642l48 1M1258 560l49 77M1034 418h0M1307 573l68 5M1180 481l49 89M1180 591h0M1102 360l49 25M1180 422l49 73M1307 648h0M1102 594l39-9M1190 615l49-12M1112 625l49-2M1297 546l59-68M1268 540l49-79M1141 455l49-24M1258 507l39 52M1288 410l58 124"/>
<path class="c12" d="M1171 498l48-4M1288 635l58 0M1288 577l48 5M1092 422l49 64M1278 583l49 33M1366 554h0M1190 604l59-18M1356 608l39-15M1122 507l39 38M1229 581l49 3M1336 588l69 27M1317 581l58-9M1346 625l59 9M1307 596l39-18M1229 521l49 24M1219 628l59-17M1161 559l58 1M1044 505l48-49M1249 521l58 8M1200 505l49 19M1229 570h0M1268 531l68 67M1122 378l49 7M1034 561h0M1327 527l48 23M1171 550l48 9"/>
<path class="c5" d="M1307 517l59 16M1297 442l49 43M1063 646l59 12M1141 521l49-1M1171 449l39 72M1258 475l49 56M1190 552h0M1278 599l39 9M1239 527l49 23M1327 600l48-65M1415 492l48 64M1297 433l69 165M1180 528l69-11M1151 626l49-42M1210 539l48-5M1063 491l49 40M1307 564l49 8M1112 599l68-40M1239 387l49 85M1083 492l48 3M1249 604l48 32M1258 589l69-31M1180 501l59 2M1317 572l49 29M1297 589l49-10M1278 514l68-36M1112 510l68-10M1278 574l49 1M1122 607l58-18M1180 505l69 68M1307 561l59-6M1122 643l39-22"/>
<path class="c6" d="M1210 584l39-13M1161 516h0M1356 576l59 11M1083 551l48 12M1434 635l59 10M1151 508l68 53M1200 636l58 12M1005 547l48-19M1141 579l49-18M1200 562l49 14M1102 545l69-29M1141 611l59 17M1356 331l49 83M1229 516l49 36M1307 494l49 49M1249 552l58 24M1278 553l49-84M1151 589l59-16M1122 545l58 8M1307 606l59 2M1180 508l39 38M1219 628l59-3M1122 474l39 19M1424 514l39 82M1131 565l59 29M1415 606l48 0M1102 542l49-78M1249 546l48 11"/>
<path class="c11" d="M1268 585l59 4M1171 500l48 16M1044 550l48 8M1278 451l39 64M1317 569l49 40M1141 553l49 53M1258 432l49 55M1180 562l39-13M1141 612l39-26M1180 558l49 36M1405 642l49 13M1249 539l58-45M1210 489l48-34M1171 546l48-1M1200 581l49-54M1268 569l59 41M1375 522l49-100M1180 470l59-62M1131 238l40-6M1239 616l49-13M1346 604l69-12M1122 563l49-10M1210 484l48 27M1249 521l48 45M1288 445l58 131M1297 435l69 109M1366 546l49-70"/>
<path class="c2" d="M1210 601l68 18M1044 564l48 9M1424 567l49 16M1424 563l59-5M1151 499l39-24M1219 471l49-2M1219 560l69-38M1288 588h0M1210 505l68-5M1180 502l59 65M1395 543h0M1219 598l59 13M1307 497l59-114M1200 541l58-89M1092 419l59-13M1278 463l49 47M1239 592l58 54M1229 489l39 27M1258 537l59 5M1307 515l39-28M1366 579l49 42M1092 580l59-27M1229 360l49 253M1180 594l49-18M1424 604l49-4M1131 562l49 13"/>
<path class="c1" d="M1239 497h0M1200 581l58 9M1210 540h0M1336 613l59 10M1249 621l39-22M1122 438l49-9M1268 575l68-16M1102 442l39 1M1327 583l48 42M1200 557l39-60M1044 598l39-56M1151 478l59 47M1346 561l59 8M1268 480l49 34M1151 510l49-40M1268 416l49 81M1356 556l39 38M1356 558l49 44M1278 570l39 31M1219 467l39-7"/>
<path class="c5" d="M1053 402h0M1239 465l49 7M1122 567l39 26M1005 612l39 5M1219 500l69-67M1200 580l49-172M1258 505l59 9M1249 596h0M1141 547l49-29M1395 542l68 55M1083 410l48 94M1180 533h0M1415 626l48-66M1356 522l49 26M1141 642l59-19M1268 585l59 60M1190 569l59 10M1131 607l49-15M1307 493l39 8"/>
<path class="c4" d="M1034 676l49-14M1249 575l39-61M1239 540l49-7M1278 577l68 22M1053 466l49 83M1239 606l49 0M1336 559l39 11M1180 533l49-26M1278 559l39 1M1366 578l58-30M1161 510l49 8M1405 533l58 63M1141 602l49-32M1014 465l39 32M1307 442l59-74M1034 445l49 25M1210 569l48-14"/>
<path class="c7" d="M1171 482l58 8M1278 486l58-23M1249 512l48-4M1034 574l49-6M1219 603l49-21M1190 620l49 20M1200 572l49 22M1161 605l58-14M1112 526l59 32M1278 527l68 12M1219 568l49 4M1395 503l59 35M1190 582l59-37M1180 588l49 13M1366 464l58 56M1356 413l68 34M1190 636l49 13M1131 544l69-19M1210 526l68 19M1297 557l49-67M1366 466l49 50M1171 586l58 3M1044 505l58-11M1229 595l49-173"/>
<path class="c1" d="M1415 522l39 20M1268 428l39 9M1180 590l49-30M1102 499l49-28M1258 485l69 14M1161 470l39 74M1171 569l48 5M1161 579l49 4M1395 536l68 2M1346 603l59 28M1375 587l40 9M1180 587l59 58M1190 324l49 131M1112 553l49-40M1327 584l58 20M1092 618l49-27M1200 564l49 13M1239 276l58 89"/>
<path class="c6" d="M1249 473l48 79M1190 465l59-5M1249 592l48 2M1190 646l49-15M1063 520l49-45M1278 657l49-20M1014 435h0M1122 574l68-2M1424 614l39 11M1122 592l58 27M1161 585l58 9M1366 559l49-32M1356 483l59 19M1278 598l49 23M1219 530l49 37M1239 571l68-4M1288 601l68 4M1131 538l59 26M1210 637h0M1405 523l49 13M1161 543l68 3M1249 522l48 56M1317 657l49 14M1024 459l68 62M1375 563l40 20"/>
<path class="c11" d="M1063 478l59 31M1288 595h0M1375 558l49 11M1219 434l49-8M1385 536h0M1122 590l49 28M1346 597l49-31M1200 434l68 34M1053 564l69-43M1171 547l48-14M1171 492l48-16M1210 588l39-12M1375 545l49 20M1053 575l59 2M1268 634l68 6M1200 602l49 26M1249 544l48 38M1268 494l49-7M1268 499l49 62M1288 552l68 12M1161 547l49 9M1297 596l39 52M1200 467l39 107M1210 560l48 20M1171 433l48 98M1210 522l48 9M1268 428l49 50"/>
<path class="c10" d="M1288 516l48-21M1210 578l39 5M1102 616l69-53M1346 650l49-9M1210 579l48 22M1268 611l49-8M1258 590l59-30M1268 658l49 3M1249 617l39-8M1366 648l49 15M1073 462l58 24M1268 302l49 80M1190 476l49 60M1219 484l49 44M1336 560l39-32M1415 627l39 7M1229 620l49 22M1200 366h0M1288 534l39-66M1405 658l49-17M1356 535l49 75M1044 646l68-323M1415 591l48-9M1102 550l59-28M1307 374l39 94M1171 513l48-26"/>
<path class="c14" d="M1327 439l48-10M1053 505l39-29M1083 529h0M1161 581l39 8M1297 464l49 122M1229 548l49 19M1239 543l39 77M1092 528l49-113M1249 612l48 8M1356 478l59 119M1268 485l49 83M1180 435l59 71M1122 429l49 31M1239 544l49 26M1327 535l48 43M1053 496l49-209M1288 612l58 3M1034 517l49 2M1112 545l68-16"/>
<path class="c0" d="M1424 596l49 4M1307 489l68 3M1210 604l48-19M1092 577h0M1385 597h0M1210 637l68-1M1297 583l39 24M1034 540l49-103M1141 490l59 63M1346 507l49 1M1405 493l49 11M1278 614l68 34M1005 579l48-28M1356 623l49 22M1317 630l39-31M1180 536h0M1171 569l58-42M1249 448l58-87M1171 541l39 31M1317 542l39 34M1346 543l49 21M1210 570l68-93M1278 555l49 58M1249 558l58 21M1141 604h0M1229 509l59-17"/>
<path class="c8" d="M1024 477h0M1092 319l59 71M1083 469l68-86M1278 516l49 48M1327 605l48 34M1171 592l58 14M1024 434l59 40M1268 369l49 170M1288 617l48 2M1229 529l49 21M1288 546l48-20M1190 564l49-6M1024 540l49 50M1024 561l59-34M1268 595l49-116M1249 571l58 10M1278 528l49-38M1229 590l59 24M1239 551l49 17M1083 598l48 1M1307 430l39-33M1063 454l49 0M1122 553l68 4M1171 519l48 30M1151 521h0M1219 542l59 5M1258 599l49-29M1112 609l39 18M1307 469l39-2"/>
<path class="c2" d="M1307 495l59 25M1366 464l39 77M1346 595l39-91M1395 568l49 24M1112 578l49-30M1278 548l68 79M1229 610l59-7M1073 514l39 9M1239 472l58 54M1405 538l58 32M1180 554l39 12M1366 561l49-177M1375 581l40-1M1053 612l49 5M1171 490l39-26M1346 511l69-45M1268 617l49-27M1151 633l59 7M1424 559l59 22M1336 573h0M1161 415l58 111M1424 618l59 5M1249 450l48-92M1180 487l39-40M1092 366l69-2"/>
<path class="c3" d="M1249 636l58-5M1210 577l48-44M1268 577h0M1297 544l39 44M1307 542l49 48M1239 541l39-28M1317 527h0M1210 534l58-17M1092 518l59 32M1112 538l49-23M1102 545l49-102M1288 598l68-56M1327 325l39 63M1336 518l49 77M1288 600l58 9M1336 624l49 11M1044 593l68 3M1190 430h0M1131 498l49 17M1268 606l49 28M1336 592h0M1034 548l58-1M1141 621l49-53M1180 552h0"/>
<path class="c9" d="M1229 489l49-10M1005 422l39 3M1249 548l39 2M1239 542l58 60M1200 444l49 47M1229 369l59 73M1171 427l58-15M1375 571l40 7M1151 608l59 17M1249 585l58 23M1288 623l39 1M1229 454l49 24M1092 352l49-27M1112 505l49-19M1317 579l49-10M1278 539l58 59M1336 374l59-8M1366 534l49 32M1219 456l49 39M1229 586l49 10M1073 532l49 0M1278 484l49 53M1356 553l49 72M1219 555l59 11M1044 359l48 0M1258 580l39-38M1190 521l59 32M1288 529l68 1M1356 628l59 12M1171 562l48 18"/>
<path class="c12" d="M1229 506l68 92M1258 391l39 113M1151 386l39-122M1190 377l39 122M1219 567l49 18M1092 594l59-22M1444 605l39-48M1200 491l49-278M1102 574h0M1141 534l59 13M1249 482h0M1151 532l59-29M1268 551l49-3M1288 573l48-8M1395 500l59 85M1297 614l39-13M1200 516l49-80M1200 514l68 25M1044 601l48 1M1415 574l48 17M1122 460l58-32M1092 562l69-1M1317 453l68-62M1219 466l69-20M1258 288l49 99M1151 481l49-11M1288 386l58 135M1053 542l69 22"/>
<path class="c13" d="M1200 522h0M1278 311l49 120M1219 562l39-33M1229 506l49 22M1219 403l49 115M1014 634l69 11M1297 534l49 26M1249 587l39 45M1171 488l39-24M1180 398l49-23M1356 610l49 10M1258 575l59-5M1239 620l49-2M1219 489l49 53M1102 502l49-88M1073 534l49 9M1249 627l48-14M1239 609h0M1083 589l58-9M1063 520l39 10M1327 571l48 17M1317 451l39 44M1278 509l39-11M1151 478l68 112M1200 567l68-8"/>
<path class="c1" d="M1395 441l59 63M1092 524l39 20M1092 488l49-29M1122 572l49-6M1171 597l48-27M1190 540l49-6M1346 626l49 5M1063 496l68-10M1424 638l39-25M1258 524l59 31M1053 420l49 14M1327 283l58 121M1161 519l49-102M1200 534l49-24M1327 603l68 5M1307 502l39 32M1210 574l48 0M1219 636l49-19M1336 544l49 4M1249 568l39-1M1268 543l49 24M1288 622l48-4M1375 509l59 18"/>
<path class="c5" d="M1180 582l59 23M1092 607l49-30M1385 544l49 28M1249 465h0M1200 537l49 8M1239 338h0M1336 604l49-55M1219 427l49 178M1229 604l49-12M1327 619l58 12M1171 604h0M1200 589l39 1M1307 623l49-102M1190 567l49 12M1151 547l59-58M1112 471l49-217M1366 469l49 10M1219 407l49 89M1297 472l49-21M1278 590l49-15M1083 493l48 22M1161 469l49 29M1112 490l59 46M1112 368l68 57M1210 641l58 8M1102 572l59-10M1229 614l68-23M1258 446l59 51M1171 470l48-50M1122 556l49-66"/>
<path class="c2" d="M1327 589l48-7M1239 476l58 21M1219 594l49-16M1297 634l59 28M1249 555l58 66M1112 527l39-9M1278 575l39 70M1063 587l68 27M1307 557l59 12M1288 468l48 59M1317 435l49 30M1317 600l49-50M1210 385l68-29M1288 583l48-55M1278 541l58-117"/>
<path class="c8" d="M1141 621l39 6M1219 501l49 9M1161 555l58 20M1297 472l49 40M1102 505l49-10M1375 624l49-42M1210 581l39 2M1288 553l58 1M1346 450l49 69M1171 497l48 71M1249 508l48 8M1278 513l49-22M1307 524l49 24M1073 470l58-25M1171 545h0M1112 436l68 43M1024 435l68 31M1219 621l49 20M1375 581l49-37M1297 630l49 15M1219 479l59 16"/>
<path class="c13" d="M1122 539l39-15M1092 450l49 90M1288 606l48-9M1317 477l58-35M1063 453l68 21M1141 577l39 3M1288 601l58-4M1014 534l49-21M1171 625l68 20M1151 570l49-60M1190 616l49 3M1249 573l48 8M1385 627l49 6M1336 599l59-35M1424 550l39-23M1005 529l48 23M1229 602l49-99M1200 501l68 1M1307 556l49 5M1336 593l49 4M1219 606l69-84M1239 435h0M1288 509l39 14M1190 643l49-12M1112 574l59 30M1102 378l49 140M1346 456l59-154M1014 583l49-19M1044 595l48-28"/>
<path class="c4" d="M1112 554l49 42M1229 615l49 11M1024 477l59-28M1161 543l39 42M1141 565l59-105M1258 366l59 94M1249 562l48 51M1190 552l59 13M1375 398l40 99M1131 558l49 17M1131 482l49 31M1239 622h0M1219 583l49-3M1122 606l39-42M1141 578l49-56M1141 556h0M1278 512h0M1219 498l59 15M1141 447l49 21M1375 481l40 12M1346 504l49 91M1131 478l59 19M1278 619l49 13"/>
<path class="c11" d="M1336 542l69 25M1044 501l58 35M1180 502l39 22M1102 507l49 83M1171 405l58 41M1005 465l48 51M1151 389l68 6M1024 469l49-49M1024 535l49-35M1131 545l49-89M1044 434l48 43M1180 376l39 52M1297 543l49-85M1405 588l49 3M1258 658l59-9M1112 483l49-42M1395 495l49 104M1317 593l58-17M1307 552l68 1M1317 599l49-61M1161 429l49-57M1229 545l39 3M1239 568l39-37M1171 534l39 10M1327 613l58 2M1151 490l49-39M1063 668l39-5M1346 623l69 0"/>
<path class="c9" d="M1161 323l58 55M1024 587l49 0M1258 627l39-11M1297 516l69 20M1180 576l59-89M1229 498l49-28M1005 512l58 16M1249 528l58 0M1190 537l68 25M1131 557l40-95M1044 585l58 4M1239 623l49 17M1288 442l58 45M1249 465l39 64M1375 637l59-8M1297 623l49-12M1249 468l58 29M1161 573l58 8M1131 502l49 73M1405 398l68 36M1180 578h0M1219 489l49 9M1190 333l49 47M1424 648l59-75M1278 520l49 63"/>
<path class="c0" d="M1210 519l58 18M1161 549l58 44M1229 531l68 54M1336 597l69-29M1336 627l59 3M1102 504l59 27M1092 567l49 41M1268 533l49 5M1346 474l39 46M1268 395l49-4M1385 391l49 26M1366 349l49 97M1024 587l59-7M1102 425l49 95M1122 564l49 3M1190 607l49-11M1327 581l48 35"/>
<path class="c12" d="M1024 496l49 82M1161 593l39-12M1210 514l48 3M1239 634l49 3M1229 651l39-78M1385 451l69 14M1200 597l49 41M1063 490l59-60M1151 504l39 43M1278 601l49 20M1200 641l58-10M1190 570l49-73M1268 606l49 2M1385 527l39-2M1073 546l49-21M1317 371l39 35M1190 531l49 17M1112 587l49-39M1063 564l49-18M1288 485l58 0M1161 533l49 30M1424 669l49-12M1092 505l49-154M1219 433l49-18"/>
<path class="c7" d="M1083 550l58-9M1356 582h0M1356 522l49 98M1249 584l48 33M1239 360l49-10M1278 556l58 52M1200 603l58 32M1385 452l39 24M1190 606l49-53M1249 523l39-5M1249 440l48 82M1258 394l49-9M1083 591l48-23M1180 512l59 60M1366 610l49 18M1356 532l39-23M1092 449l39 32M1141 497l39-20M1102 526l49-65M1307 526l59 38M1190 431l39 71M1200 519l58 11M1180 514l49-6M1180 599l59-6M1385 583l39 32M1151 575l49-66M1092 570l49 34M1122 380l39 108M1278 564l49-27M1005 550l48-51"/>
<path class="c10" d="M1239 533l39-2M1122 587l58-26M1307 624l49-34M1053 543l49-31M1161 553l49 2M1044 458l48 121M1180 324l69 173M1229 561l39-17M1385 583h0M1385 629l39-17M1297 550l49 73M1141 518l49 23M1258 520l49-2M1327 590l48-11M1239 621l49 22M1327 641l48-3M1249 569l48 6M1200 509l49 7M1327 597l39-3M1161 374l58 137M1171 575l48-18M1044 595l48 27M1151 567l49-21"/>
<path class="c3" d="M1268 518l59-35M1336 560l69-1M1200 529l49 52M1131 629l49-6M1219 481l49 49M1229 485l49 51M1092 518l69-3M1102 585l49-10M1239 510l58 34M1278 440l49 86M1171 503l68 51M1278 599l49-9M1268 454l49 39M1151 569l49 25M1307 560l39-91M1356 498l59 6M1161 538l58 35M1288 620l58-8M1053 590l49-11M1083 440l48 8M1366 622l49 54M1307 577l49 38"/>
<path class="c6" d="M1327 574l48 34M1278 494l39-42M1122 483l49 19M1014 499l49-19M1375 585l49 27M1171 560l58 82M1112 513l49-12M1151 443l59 51M1405 361l68 171M1161 460l49-14M1210 542l39-1M1346 563l49 33M1122 311l49 141M1190 604l59-5M1229 542l39 37M1278 588l39-9M1288 515l68 34M1356 533l68 24"/>
<path class="c14" d="M1239 599l49-76M1288 507l68 33M1288 518h0M1278 573l49 39M1219 542l59 32M1249 468l68 85M1405 607l49-62M1112 552l49-38M1424 522l49 19M1356 521l39 26M1122 504h0M1317 568l49-76M1083 535l68 8M1346 606l49-4M1112 425l59 41M1327 582l68 12M1288 453l48 43M1278 459l49 52M1317 610l49 19M1083 557l48-13M1366 475l49 26M1024 509l68 13M1395 557l49 41M1278 588l39 20M1161 531l68 25M1239 601l49-65M1151 575l59 9M1258 623h0M1278 558l58-91M1268 579l59-99M1268 577l49-22M1317 623l39-87M1307 540l49-23M1092 512h0"/>
<path class="c8" d="M1161 534l58 28M1190 521l49 59M1161 495l58-2M1219 556l59 34M1141 531l59 17M1268 485l49 41M1141 553l49 28M1366 633l58-8M1356 517l59 25M1024 501l68 27M1044 555l48-78M1385 612l49 14M1229 487l49 12M1415 538l58 30M1288 630l48 10M1063 480l39-26M1219 641h0M1288 592l48 11M1327 601l48-8M1336 555l49-10M1415 567l39-34M1346 540l49 29"/>
<path class="c13" d="M1083 549l58 63M1239 576l58-2M1385 641l49-2M1268 606l39-16M1395 599l49 13M1239 599l49 2M1141 503l39-113M1268 575l49 2M1034 417l49 6M1053 543l49-24M1239 486l49-20M1122 567l49 18M1210 587l48 20M1424 596l69-28M1073 566l49 14M1415 588l48 13M1258 648h0M1268 599l49 29M1375 606l49-10M1229 616l49 24M1385 454l49 160M1190 571l49 0M1200 615l49-70M1307 585l49 4M1307 430l39 115"/>
<path class="c6" d="M1122 472h0M1297 585l59 9M1210 572l48 41M1180 411l59 83M1112 596l59-166M1063 622l68-8M1317 570l39-66M1161 569l58-3M1249 621l48-9M1151 562l59-4M1278 514l49 23M1024 413l49 24M1385 602l59-25M1112 456l59 10M1385 469l59 50M1102 426l39 7M1219 594l49-19M1131 529l49 10M1307 499l49-13M1083 574h0M1210 574l48-21M1258 602l49 4M1346 605l59 25M1190 566h0M1346 633l49-7M1141 467l49-17M1219 373h0M1258 474l59 42M1190 567l59-10M1112 437l49-63"/>
<path class="c3" d="M1200 604l49 15M1063 585l59-14M1395 627l49 3M1005 524l58 48M1375 605l49 19M1375 498l40-20M1044 313l48 129M1141 555h0M1268 570l49 19M1180 428l39-18M1307 495l49 55M1171 469h0M1180 541l49 67M1161 488l49-34M1317 374l49 43M1180 618l49-22M1405 308l49 162M1180 530l49-26M1239 447l49 106M1102 620l69 5M1424 621l59-24"/>
<path class="c9" d="M1141 379l49 50M1317 646l68-46M1044 540l58 8M1336 551l49-18M1317 613l49-13M1122 576l49-25M1102 170l49 216M1336 584h0M1180 546l69 10M1200 450l39-13M1327 594l58-23M1219 590l49 0M1258 528l59 2M1005 464l58 35M1171 580l48-39M1229 549l49 44M1190 525l68 18M1395 603l68-94M1200 416l49 93M1092 597l49 33M1278 489l49 10M1200 622l49-6M1024 596l49-42M1356 581l49-8M1366 617l49-10"/>
<path class="c2" d="M1415 324l39 135M1336 642l39-10M1278 615l49 29M1229 472l39 130M1200 574h0M1141 477l59 33M1317 640l49-2M1288 553l68 4M1385 580l49-36M1229 499l59 26M1131 512l69-2M1297 521l39 63M1336 615l59-39M1171 570l39 33M1385 493l69 63M1278 561l49 58M1200 510l68-11M1044 609l48-13M1219 581l49-5M1395 618l49 19M1249 611l39-39M1258 618l39-23M1073 420l68-109M1297 587l49-22M1366 522l49-95M1092 541l49 81M1336 617l59-65M1053 590l59 4M1122 557l49-47"/>
<path class="c11" d="M1249 471l58 19M1180 580l49 26M1219 641l69-27M1239 448l58 80M1258 506h0M1278 533l49 29M1327 617l48-10M1327 482l58-77M1288 590l48-62M1190 456l49 81M1327 572l48-13M1288 596l48 8M1112 614l49-57M1171 433l39-103M1200 429l49 79M1278 481l39 84M1278 516l49 39M1131 647l69-7M1161 543l58 15M1268 576l68-16"/>
<path class="c12" d="M1239 501l68 74M1317 550l58 55M1317 567l49-6M1336 597l49-10M1171 492l48 7M1190 546l49-132M1190 495l49 73M1122 488l58 59M1005 385l58 8M1161 535l39 17M1444 538l49 40M1249 555l58 47M1239 390l49 91M1346 469l49-60M1171 571l39-12M1180 559l49 3M1200 314l68-63M1229 422l39-9M1327 577l39 60M1122 454h0M1229 498l49-35"/>
<path class="c0" d="M1219 476l69 72M1229 510l39 37M1190 572l39 7M1249 226h0M1239 448l49 33M1161 624l49-14M1258 552l49-44M1288 485l39 11M1044 559l48 18M1395 462l68 62M1200 509h0M1210 524l48-39M1229 622l49 6M1258 406l59 58M1288 549l48 5M1327 545l39 36M1336 611h0M1278 566l58-31M1083 323l48 169M1424 575l69 10M1405 514l58-32M1141 594l49 51M1239 516h0M1180 388l39 49"/>
<path class="c1" d="M1161 512l39 22M1200 569l58 47M1092 577l59-51M1180 554l49 18M1405 584l68-76M1141 459l59 58M1141 586l59-21M1405 629l49 13M1190 523l68-82M1180 528l49 49M1346 588l49-8M1297 491h0M1327 524l58 51M1034 543l68-52M1131 626l40 2M1180 380l49 80M1210 540l39 11M1171 586l58 54"/>
<path class="c5" d="M1210 617l39 17M1317 604l49-37M1327 563l48 10M1288 528l48 46M1044 591l48 5M1278 554h0M1190 604h0M1327 560l58-58M1268 499l59 10M1180 547h0M1415 516l58-8M1122 571l49-40M1200 636l49 2M1297 576l49 16M1375 515l49 39M1190 574l68 22M1122 571l49-48M1063 576l59-28M1180 497l39-1M1327 496l48-19M1249 618l58-36M1317 556l39 35M1210 443l48-16M1024 423l49 17M1083 529h0M1219 526h0"/>
<path class="c14" d="M1161 614l58 14M1385 579l59 15M1102 581l69 10M1336 551l49 32M1200 606l49-19M1278 564l58-9M1053 543l39 38M1356 443l68 69M1024 488l59-16M1024 592l68 12M1083 563l48 13M1239 583h0M1171 547l48 12M1278 463l68 140M1180 568l59 37M1327 573l48 19M1268 571l49-5M1161 440l49 19M1268 364l49 220M1385 520l59-4M1278 513l58 76"/>
<path class="c4" d="M1268 559l39 92M1112 438l49 13M1180 650l59 20M1258 449l59 27M1200 589l68-12M1190 571l59 2M1151 595h0M1249 556l48 17M1219 601l49-20M1112 613l49 7M1171 450l58-36M1161 347l49 70M1395 615l59-47M1073 531l39-5M1112 458l49 49M1219 592l49 25M1307 566l49-6M1268 487l49-25M1171 577l48-4M1024 493l59 23M1229 524l49-29M1239 463l39 31M1375 612l49 24M1171 522l39 3M1317 599l49-46M1161 578l58 2M1200 482l49 71M1297 515l59 27"/>
<path class="c10" d="M1171 626l39-18M1131 534l49 10M1180 540l49-67M1200 475l49 14M1122 413l58 40M1239 559l49 16M1327 538l68 40M1249 548l39-175M1092 554l69-57M1258 369l59 150M1336 580l49 3M1346 600h0M1307 518l68 87M1102 607l59-24M1180 582l59-7M1336 493l49-7M1336 593l59-7M1171 505l48-143M1239 555l39 18M1102 377l39-31M1385 538l39-27M1249 606l48-3M1083 529l39 5M1161 322l58 122M1288 494l48-20M1034 503l39 17M1297 468l49-7M1385 456l49 10"/>
<path class="c7" d="M1219 582l49 19M1249 339l58 120M1307 472l49-5M1171 635l48-12M1415 560l39 16M1190 572l49-64M1014 590l69-38M1131 537l49-27M1288 581l48-3M1356 573l49-3M1278 557l58-28M1151 444l59 57M1219 536l49-21M1229 571l59-8M1317 474l49 95M1258 585l69-31M1307 595l39 3M1219 582h0M1005 537l48 17M1229 336l49 25M1034 484l49 30M1141 518l49 32M1053 555l49-15M1385 612l49-5"/>
<path class="c2" d="M1258 605l49 7M1307 640l49-5M1327 593l58 32M1239 608l49 10M1297 513l49 66M1073 530l58 11M1375 486l49-57M1131 553l49 18M1356 572l49-13M1131 611h0M1356 605l59-4M1073 565l49 28M1073 387l58 90M1112 528l68 9M1122 558l49 33M1268 487l59-211M1190 581l49 18M1180 603l39-64"/>
<path class="c7" d="M1297 566l39-42M1346 568l39-22M1268 581l49-10M1112 638l49-19M1356 556l49 19M1219 472l49-36M1034 548l49-41M1180 539l49 3M1092 623l49-17M1092 504l39-75M1171 397l48 134M1375 604l40 3M1141 406l59-37M1346 515h0M1327 624l39-3M1278 197l49 306M1327 510l48 71M1307 535l49 55M1307 497l49-61M1044 547l48-91M1278 518l49 14M1200 580l49-2M1229 513l59 45"/>
<path class="c8" d="M1219 387l59-46M1444 638h0M1180 527l39-33M1180 407l49 50M1200 491l49-37M1346 479l49 17M1122 546l49 13M1219 492l59-8M1356 597l39-40M1180 621l49 1M1297 598l49 14M1141 577l59 35M1307 564l59-7M1024 618l49 8M1180 551l69-40M1180 568l39-3M1210 592l58 7M1288 546l48 20M1258 487l49 91M1268 624l59 4M1395 611l59 11M1297 487l49 68M1239 574l58 11"/>
<path class="c13" d="M1385 530l59 39M1073 585l58 68M1415 621l58 13M1141 523l59 11M1200 576l58-70M1083 537l58 33M1268 492l59-15M1210 391l48 80M1190 500l39 54M1288 535l39 64M1171 575l58-3M1356 588l49-9M1405 615h0M1258 558l49 29M1063 584l49 11M1151 527l39-43M1083 497l48-102M1317 511l58 74M1258 428l69-58M1112 422l59 52M1180 593l59-37M1112 440l49 27M1131 549l49-31M1141 491l49 38M1102 556l49 24M1151 554l49-42M1346 457l59 70M1288 586l68-17M1151 528l68 57M1063 578l49-21"/>
<path class="c6" d="M1434 565l59 4M1258 570l49-33M1044 444l48 65M1239 530l58-5M1375 519l49 10M1288 582l48-10M1141 449l39 96M1092 261l49 111M1219 611l49-13M1190 549l39 31M1424 486l39 80M1375 610l69 27M1385 553l39 8M1385 584l39 38M1356 635l59-11M1336 544l69 18M1297 630l49-53"/>
<path class="c14" d="M1200 558l39-20M1141 479l59 7M1063 559h0M1131 361l69 66M1366 456l39 104M1161 460l49-72M1102 575l69 11M1151 524l59 76M1415 587l48-1M1288 643l39-36M1268 582l49-78M1161 558l58 31M1249 540h0M1180 635l49-262M1180 458l39 58M1219 472l49 38M1239 586l49-5M1317 523l39 64M1385 519l49-68M1092 554l59 50M1278 512l49 26M1288 633l48-74M1288 548h0M1336 563l59 20M1151 455l39-58M1034 223l58 55"/>
<path class="c11" d="M1102 477l49-83M1180 260l39 134M1346 454l59 67M1005 571l48 11M1073 505l68-38M1131 643l49 0M1249 469l48 27M1053 528l59 92M1375 582l49-51M1210 352l39 175M1131 546l59-18M1053 539l39-28M1210 448l39 66M1171 472l48-13M1200 527l58 28M1083 585l58 7M1288 453l48 11M1239 531l58-34M1053 527l39 4M1161 514l68-19M1249 505l48 24M1375 643l49 1M1131 511l49 23M1327 572l48 6M1219 481l59 11M1024 315l59-76"/>
<path class="c10" d="M1346 612l69 12M1366 582l49 4M1171 562l39-18M1278 647l58-56M1083 601l48 1M1063 547l68 5M1151 567l59 41M1210 623l39-40M1317 459l68-5M1219 501l39 8M1161 353l58 18M1131 555l59 6"/>
<path class="c1" d="M1307 552l59 75M1395 281l59 76M1190 492l68 15M1210 545l58 10M1317 572l49 0M1171 495l48 34M1200 626l39 0M1044 442l48-4M1444 603h0M1171 545l48 80M1249 494l48 42M1239 585l58-1M1063 558l39 20M1200 492l49 109M1249 599l48-71M1297 614l59-35M1102 356l49 47M1102 365l49 33M1288 620l48 24M1200 511l49 46M1122 581l39-107M1161 474l49 12M1141 458l49 81M1288 579l39-14M1219 629l49 15M1346 474l49-38M1161 541l49 16M1171 588l58 11M1278 615l68 1M1219 506l49-15M1219 541l39 2M1171 438l39-209M1297 424l49 13M1288 555l48 19M1210 585l58 18"/>
<path class="c3" d="M1375 602h0M1239 537l58 8M1161 478l49-5M1151 525l49-45M1366 421l58 40M1249 627l48-5M1053 557l49 15M1229 642l49-6M1219 564l49-28M1131 555l40-31M1210 605l48 17M1122 495l68-56M1053 522l49-3M1249 474l58-11M1219 578l49-72M1083 616l48-40M1180 614l39-17M1278 518l39 4M1180 527l59 54M1356 631l39 11M1288 579l58 35M1229 533l49-7"/>
<path class="c12" d="M1190 598l59 36M1200 540l39-216M1375 526l59 21M1268 596l59 10M1200 540l49-10M1288 616l48-235M1424 453l49 107M1336 583l49-20M1034 633l39-17M1200 569l58-22M1268 571l59 5M1424 559l49-11M1336 514l49 2M1297 416l49 39M1210 605h0M1092 487l49 67M1171 586l48 30M1356 584h0M1307 563l49-8M1219 468l69 83M1346 582l69-15M1229 638l49 8M1356 590l49 14M1297 363l39 23M1122 485l49-17"/>
<path class="c0" d="M1385 536l49 1M1044 460l58 30M1268 570l59-131M1346 522l49-2M1288 488l48 5M1190 539l68 3M1278 593l39-40M1190 495l49 89M1044 374l48-77M1405 627l49-14M1268 620l68-8M1005 604l48-20M1190 610l39-31M1122 556l58-9M1131 534l40-40M1200 407l68 75M1200 533l58-51M1180 551l49 25M1083 571l39-2M1278 544l49 7M1063 582l49 6M1044 531l68-6M1131 465l59 15M1131 557l40 5M1063 371l49 11M1317 586l39-28M1112 503l39 37"/>
<path class="c5" d="M1239 540l58 37M1180 596l49 35M1356 519l49-27M1268 398l68 142M1288 454l68 79M1190 597l68 35M1366 425l58 112M1239 250l58 67M1141 460l49-164M1180 548h0M1171 600l68-4M1385 609l49 19M1239 584l58 34M1395 498l68 43M1219 372l49 21M1239 540l68 17M1053 544l49-5M1141 569l49-6M1258 441l39 107M1219 617l49 22M1366 622l39 14M1405 521l49 60M1268 582l59-10M1122 489l49-75M1405 526l39-143M1180 532l59 25M1258 455l49 47M1073 365l49 143"/>
<path class="c9" d="M1092 496l39 11M1083 625l58-53M1190 396l49 102M1102 481l49 88M1239 605l49-21M1249 503l48 27M1210 500l48 30M1200 448l58 87M1073 457l49 10M1356 413l49-89M1053 421l49 87M1297 625l49-5M1112 445l59-48M1239 557l49-23M1385 590l49 35M1278 457l58 37M1063 565l49 18M1200 492l49 42M1141 451l39-107M1151 506l49 45M1044 374l48 115M1278 437l58 159M1249 590l48 4M1063 511l59-123M1278 533l49 0"/>
<path class="c4" d="M1171 590l39-53M1171 584l39-32M1122 547l49 1M1385 546l39 13M1405 550l58-16M1278 555l58 17M1180 476l49-34M1190 475h0M1131 608l49-15M1092 540l59-13M1073 453l49 23M1044 515l48-45M1258 537l59-64M1307 603l49 1M1278 553l49 34M1219 493l49-50M1336 523l39 28M1102 587h0M1307 514l59-100M1180 562l49-16M1229 570l59-42M1229 372l59 182M1229 582l49 6M1258 530l49 95M1288 528l48 6"/>
<path class="c3" d="M609 1442l38-113M454 1370l39 37M647 1312l39 42M426 1419h0M483 1410l49-2M522 1355l48-60M580 1450l58 13M541 1361l39 13M474 1393l58 26M454 1446l68-38M590 1430l57-14M474 1398l38-2M397 1462l38-8M368 1440l38-2M454 1402l39-5M358 1419l48 5M532 1398l48 14M532 1401l58-8M464 1445l58 3M358 1417l68 3M628 1438l39-9M503 1452l58 6M541 1398l39 2M580 1392h0"/>
<path class="c5" d="M541 1347l49-143M532 1446l48-2M541 1381l49 21M638 1463l48-44M580 1378l67 25M435 1407l48 27M580 1362l58 39M474 1406l48 17M522 1406l48-2M532 1426l58-28M570 1408l39 3M493 1388l48 25M406 1373l39 29M416 1387l58 42M406 1415l48-12M580 1474l48-7M551 1415l48 12M493 1387l48 35M464 1455l58-63M290 1391l39 33M242 1464l48-25M570 1451l48-7M348 1366l58 13M609 1402l38-32M454 1391l58-43M609 1377l58 25M290 1435l49-12M532 1334l38 2M541 1424l49-10M339 1459l48-54M580 1325l48 23M541 1419l49-19"/>
<path class="c13" d="M454 1426h0M300 1407l48-4M503 1444l48-58M339 1374l48 24M445 1353l67 35M242 1404l48-8M474 1358l38-15M368 1303h0M474 1426l58 12M397 1454l57-5M281 1375l48 24M503 1460l67 6M512 1448l58 12M522 1403l68 18M445 1326l38-26M541 1461l68-3M580 1461l58 2M570 1466h0M319 1415l49 3M406 1332l48 10M252 1460l38 0M271 1468l48-2M348 1424l49 44"/>
<path class="c6" d="M310 1406l48 6M454 1410h0M310 1425l58 2M435 1459l48-8M377 1414l58 19M474 1352l58 58M493 1392l39 28M397 1314l48 42M503 1350l48 22M397 1335l48 22M522 1425l48 47M541 1285l58-66M570 1406l68 33M435 1393l48 34M329 1241l39 173M329 1441l58 1M397 1398h0M281 1338l48 10M551 1409l58 13M368 1361l48 12M512 1442l58-10M261 1392h0"/>
<path class="c2" d="M638 1366l48-16M329 1430l48-14M483 1369l58 46M397 1376l48-51M493 1446l48-14M570 1437l48 1M397 1384l57 8M261 1409l58-4M406 1366l58-9M435 1395l58 45M406 1419l58 25M445 1429l58-13M261 1456l49-10M348 1427l39-2M445 1397l58 5M445 1404l48-13M474 1412l58 11M377 1427l49-15M406 1441l48-27M252 1471l67-1M454 1378l39 14M397 1428l48-6M426 1384l48 4M618 1465l49 0"/>
<path class="c9" d="M290 1401l58-23M368 1431l48 2M271 1470l68-18M541 1471l49 2M339 1435l48 21M464 1441l58 0M426 1341l57-27M522 1329l58-6M261 1434l49 17M445 1342l48 27M416 1236l48 58M628 1390l48 22M503 1412l58-26"/>
<path class="c1" d="M300 1419l39 8M426 1283l38 133M290 1418l49 5M416 1380l58 12M599 1368l48-12M599 1431l39 2M387 1458h0M300 1456h0M426 1414l48 13M618 1366l49 1M368 1415l48 10M464 1419l48 18M397 1451l48-14M348 1438h0M348 1465l58-9M599 1430l48 18M387 1427h0M628 1414l48 22M377 1395l49-13M232 1401l39 21M426 1446l48-318M406 1342l48-22M397 1408l57 48M454 1371l39 18M570 1373l48 9M483 1414l49 26M464 1428l68-63M435 1423h0M416 1425l67-3M454 1391l58-16M618 1421l58 23"/>
<path class="c14" d="M426 1445l48 21M242 1433l39 10M435 1432l39 3M541 1427l49-9M445 1427l58 11M329 1386l58 10M348 1414l68-5M252 1444l48-8M368 1441l58-8M435 1353l48 6M339 1388l48 27M445 1450l38-2M522 1437l58-18M561 1426l48-4M368 1403l48 27M483 1379h0M397 1374h0M522 1470h0M609 1446l48 7"/>
<path class="c10" d="M445 1335l48 27M493 1423l58 27M551 1420l48 2M310 1405l48-19M647 1376l49 36M580 1337h0M618 1399l58 10M474 1453l48 30M580 1453l48-10M503 1415l67 16M387 1447l48-25M435 1418l48-8M618 1372l49-11M426 1358l67 42M551 1417l48-53M512 1346l49 53M329 1403l48 13M300 1406l58-30M493 1435h0M271 1387l58 38M426 1382l67-159M590 1428l48 13M397 1377l38 0M454 1417l49-81M454 1436l49 3M242 1439l58-18M454 1354l49 65M609 1417l48 30M232 1187l49 165"/>
<path class="c0" d="M561 1339l38 83M551 1445l48 1M358 1427l48 15M348 1418l49 6M397 1445l57-121M474 1445l38-48M281 1446l48-49M368 1391l58-2M445 1384l48 49M387 1449l39 1M358 1383l39 68M532 1424l38 6M561 1428l57-1M512 1425h0M590 1448h0M599 1425l48-5M522 1421l48 16M377 1443l39 2M570 1435l58-14M512 1382l68-20M580 1459l38-29M406 1436l48 26M426 1345l48 63M512 1413l49-46"/>
<path class="c7" d="M580 1461l58-6M503 1319l48 92M348 1466l49-15M406 1431h0M522 1431l48 24M483 1422l58 12M377 1455l58 22M599 1351l39 9M426 1302l67 45M618 1425l68 20M435 1429l48 39M532 1444l67 2M532 1403l58 3M551 1403l39-70M368 1389l48-35M454 1448h0M638 1363l48 35M426 1300l48 43M599 1460l58-5M397 1439l48 6M454 1349l49 4M445 1424l58 5"/>
<path class="c12" d="M647 1393l49 9M474 1467l67-39M464 1461l48-240M358 1472l48-1M474 1408l48-1M261 1370l49 24M426 1428l48 13M522 1441l48 2M493 1357l39 16M570 1433l68 3M512 1335l49-37M377 1227l58 101M387 1431h0M368 1381l48-11M618 1435l49 1M416 1341l48-8M580 1461l38-19M580 1363l58 18"/>
<path class="c4" d="M377 1432l58-11M397 1379l48-33M358 1409l58-7M358 1368l68 35M416 1430l48 12M397 1414l48-16M397 1404h0M368 1437l58-49M310 1458l38-14M426 1409l57 21M387 1373l48 35M464 1457l39-19M493 1420l48 30M252 1385l58 35M426 1391l48 40M397 1380l57-102M493 1409l48 14M261 1402l39 11M464 1355l48 57M522 1433l48-1M580 1402l58-6M406 1404l48-21M512 1404l49 43M609 1418l48-2M329 1441l48-36M435 1435l48 14M570 1379l48 28"/>
<path class="c11" d="M474 1433l48 14M387 1431l48 8M503 1418l48 18M377 1377l58-10M618 1304l58 35M368 1427l38-18M261 1378l49 14M368 1462l48-25M464 1431l48 5M397 1384l38-19M570 1322l39-18M387 1440l39 5M493 1428l68 3M387 1413l39 6M426 1447l57 2M406 1439l58-34"/>
<path class="c8" d="M454 1407l49-13M261 1439l49 3M454 1304l49 42M532 1440l58-17M271 1315l48 87M541 1425l49 30M512 1322l68-196M329 1379l48-39M522 1432l48-38M358 1439l58-18M416 1241l58 105M590 1470l38-26M474 1378l38 40M474 1288l48 79M628 1407l48-31M319 1393l39-32M570 1451l48-38M339 1438l48-19M599 1467l48-14M426 1418l38-58M657 1424l58-13M271 1397l48 12M416 1393l48-32M426 1363l48-101M368 1429l58-8M358 1397h0M532 1460l48-64M290 1383l68-19M590 1435l38-14M300 1435l48-5M232 1428l58-3M232 1397l58 20M329 1430l48-3M329 1400l48 13M541 1410l49 3M512 1272l58 57M290 1406l49 25M541 1453l49 9M541 1389l58 21"/>
<path class="c3" d="M474 1455l58-13M387 1429l48-13M387 1388l48 15M319 1385l39 29M532 1463l58-5M512 1452l49 4M426 1392l38-23M590 1409l67 14M493 1453l48 13M435 1360l48 16M310 1401l58-15M483 1447l58-16M667 1399l48-19M474 1471l58-8M271 1372l58 23M454 1420l39 6M339 1453l48-2M406 1360l39 3M454 1327l49 105M348 1428l39-9M281 1432l58-5M445 1393l38 2M232 1475l68-19M512 1428l49 8"/>
<path class="c14" d="M426 1438l57 3M570 1408l48-72M416 1404l58 1M377 1298h0M445 1408l58 16M483 1444l49-14M551 1407l48-10M368 1447l67 17M426 1462l57-7M416 1480l48-15M503 1367l38-67M512 1446l49 5M464 1384l58 4M397 1352l48 82M590 1407l57-2M483 1378l49 25M474 1431l67 3M493 1421l48-29M618 1435h0"/>
<path class="c7" d="M348 1177l49 24M339 1412l58 7M319 1409l58 0M483 1440l49-4M503 1369l48-70M445 1414l48 0M368 1423l48 10M647 1440l68 7M561 1426l48 6M377 1392h0M377 1401l39-108M397 1399l38-8M416 1412l58 9M416 1455l48-7M435 1416l39-22M532 1439l58 24"/>
<path class="c8" d="M454 1426l58-6M445 1409l58-6M310 1459l67-42M561 1376l48-69M348 1441l49-18M522 1450l48-5M580 1412l38 31M339 1430l48-2M271 1460l58-16M541 1429l49 18M329 1448l68-9M464 1448h0M406 1424l68 4M503 1464l58-51M445 1413l58 37M397 1442l48-3M426 1444l48 10M358 1430l48-29M532 1304l58 123M358 1360l39 11M261 1434l58 1M416 1395l67 26"/>
<path class="c1" d="M416 1351l58 68M464 1367l58 59M503 1355h0M271 1475l48-2M252 1429l48 12M532 1435l48 6M512 1425l49-19M329 1399l58 3M483 1435h0M358 1375l58 33M532 1326l67-54M348 1436l39 1M377 1347l49 40M406 1443l68 19M483 1441l49 12M512 1351l58 40M454 1430l39 16M242 1429l68-31M435 1425l48-13M368 1445l48 3M310 1425l48 9M387 1339l39 8M522 1376l48 49M416 1457l48-11"/>
<path class="c9" d="M426 1462l48 4M252 1425l58-3M368 1468l48 1M561 1418l57-14M590 1365l57-151M580 1429l67 9M522 1441l68-55M358 1411l58-9M416 1407l48 31M387 1435l48 5M426 1440l48 24M406 1435l58 28M426 1403l57-24M358 1403l39 1M647 1438l49-12M397 1441l38 0M348 1364l49-5M281 1360l48-26M618 1346l49-21M348 1280l58 50M512 1412l49 45M426 1410l38-79M271 1425l58-5M474 1376l38-7M464 1486l68-16M551 1407l48 0M339 1415l38-171"/>
<path class="c12" d="M329 1390l39 8M541 1457l58-8M493 1370l39 20M454 1349l49 52M474 1155l48 172M300 1451l68-4M416 1435l48-6M503 1384l48-47M232 1415l39-19M638 1396l58 22M454 1455l49-23M532 1442h0M406 1426h0M329 1307l58-8M339 1366l48-151M445 1450l48-7M445 1465l48-5M416 1447l48 0M416 1453l48 0M638 1425l48 19M512 1397l58 28M358 1396l48-11M532 1377l38 1M445 1416l58-16M512 1391l49-22M397 1433l48 3M580 1470h0M512 1195l58 8"/>
<path class="c0" d="M561 1402l48 11M232 1426l39 18M512 1433l68 4M512 1355l39 35M445 1335l58 43M445 1409l58-10M406 1410l48 16M358 1425l48-31M493 1430l48 23M377 1470l49 0M454 1435l49 5M397 1440l57-11M493 1312l58 69M609 1393l38-39M454 1439l49-50M435 1403l48 20M397 1409l57 24M426 1454l38-25M590 1407l57 42"/>
<path class="c5" d="M541 1432l49 23M618 1412l58 28M426 1370l57 25M590 1444l67-8M580 1368l58 39M300 1422l48-32M445 1255l48 93M474 1413l48-21M329 1466l48-16M406 1383l39-4M483 1408l39 1M464 1449l39-18M445 1340l48 33M570 1386l48 5M261 1435l68-32M628 1434l58 9M387 1420l58-21M503 1399l48-11M599 1377l39 11M329 1473l58-29M454 1330l39 30M618 1415l68 2M541 1201l49 73M406 1436l39-2M445 1393l58 17M416 1395l38 7M319 1451l49 2M561 1412l67 8M609 1413l48 12"/>
<path class="c4" d="M570 1424l48 7M609 1467l48-14M590 1430l48 21M387 1359l58-7M319 1394l58-4M387 1434l39-4M493 1242l58 93M464 1312l58 45M310 1431l38-25M628 1398l48-10M281 1346l38-137M348 1392l68 28M445 1429l48-20M339 1448l48 25M377 1456l49-8M290 1409l49 11M609 1338l48-108M609 1290l38 5M387 1395l48-3M464 1420l48 22M387 1419l67 12M271 1396l48-11M329 1387l48-89"/>
<path class="c13" d="M416 1355l48-10M387 1404l48-26M454 1368l68 48M532 1410l67-10M348 1393l39 8M310 1437l38-35M532 1442l38-86M416 1411l48 0M445 1419l58 13M493 1352l68 14M387 1427l39-9M551 1445l58-14M435 1378l48-4M512 1445l58-6M464 1427l48-7M387 1401l58 25M628 1433l48-4M464 1355l48 47M551 1423l67-5M377 1414l68 31M339 1374l67-19M445 1395l48 16M348 1463l49-43M503 1444l67-2M599 1423l48-3M638 1389l48-2"/>
<path class="c10" d="M406 1431h0M329 1393l58-13M271 1463l39-18M609 1438l58-19M435 1344h0M561 1385l48 36M300 1475l58-3M426 1242l48 162M339 1431l38 0M406 1416l48 18M503 1342l48 80M464 1450l68-7M397 1415l67-12M580 1457l58 14M551 1371l39-11M628 1453l39-16M319 1394l49 8M522 1417l48-8M638 1387l58-16M339 1436l38-7M532 1441h0M329 1402l58-6M310 1397l48 22M483 1419l58 41M570 1435l48 5M551 1375l58 4M561 1423h0"/>
<path class="c11" d="M590 1437l38-25M483 1438l68-60M377 1338l49 53M580 1406h0M406 1444l39-17M406 1347h0M493 1374l68 22M512 1443l49 6M590 1396h0M261 1434l49 14M426 1359l57 40M618 1364l39 15M348 1471l49-106M358 1349l48 85M541 1436h0M609 1396h0M464 1439h0M474 1348l58 61M435 1442l58-1M590 1433l48-76M310 1396l38 4M551 1416l48-112M397 1418l57-3M445 1380l67 6M281 1355l48-3M416 1114l38 191M426 1381l38 18M474 1325l48 71M397 1255l48 29M493 1433l58-8"/>
<path class="c6" d="M387 1387l67-16M570 1417l48 2M638 1427l38 4M397 1383l57 4M561 1296l48 75M551 1460l58-1M493 1332l39 9M454 1431l49-18M638 1399l48-55M368 1445l48-39M590 1447l48 15M474 1400l48 50M541 1394l49-9M628 1401l39 31M609 1428l67-15M561 1318l48-159M590 1420l38-5M339 1442l38-14M377 1413l49-80M435 1437l48 0M377 1458l49-21M638 1418l58 5"/>
<path class="c2" d="M290 1404l39 17M416 1376l48 8M464 1418l48 12M454 1373l49 43M368 1308l48 5M454 1408l49 31M271 1450l68-1M445 1407l38-63M397 1436l57-9M435 1440l48-26M358 1409l39-20M561 1389l38-2M474 1335l58 36M329 1453l48-3M638 1406l48-16M339 1404l48-167M435 1433l68-8M551 1463l39 0M561 1368l57-46M261 1418l49-28M377 1389h0M358 1383l39-47M454 1327l58 69M493 1373l58 2M387 1435l67 3M300 1409l48-23M435 1395l48 26"/>
<path class="c7" d="M522 1393l48-27M503 1436l48-10M561 1362l38 38M319 1379l58 18M561 1403l48 6M271 1436l48-40M426 1421l48-21M319 1409l49-8M435 1395l48-2M329 1288l48 123M551 1425h0M426 1373l67-42M638 1457l48-9M618 1426l39 17M300 1406l68-1M551 1454l58 10M348 1471l49-33M397 1389l48 15M532 1448l58-7M503 1421l48-21M252 1360l48 15M281 1455l48-2M474 1379l58 9M483 1253l49-5M377 1423l49-30M483 1434l68 16M532 1406l48 25M454 1394l58 22M406 1326h0M445 1438l58-28M261 1450l49-8M618 1418l49-35M493 1437l48 1"/>
<path class="c13" d="M522 1357l48 46M445 1378l48 14M435 1438l48 9M483 1389l49-2M522 1362l48 19M358 1360l58-65M590 1350l57-14M435 1453l58 10M348 1399l49-13M406 1401h0M532 1355l48 23M618 1357l58 46M358 1428l48 11M242 1412l48 21M435 1402l39-67M329 1300l39 18M628 1449h0M329 1440h0M512 1443l39-15M551 1340l48 31M319 1464l39-24"/>
<path class="c12" d="M464 1379l48-39M618 1437l49 15M503 1440l48-27M377 1420l58-46M416 1422l38-6M493 1394l48-6M310 1425h0M464 1424l39 10M454 1431l58 8M387 1333l67-27M493 1403l68 23M232 1406l58 21M426 1442l48 3M397 1441l48-39M483 1281l49 38M464 1419l48 9M426 1412l48 24M493 1411l48-364M561 1447l57-4M541 1366l68 53M329 1416l58-13M503 1427l48 1M290 1444l58-1M445 1408l67-3M416 1327l48 17M512 1417l49 8M464 1360l48-22M483 1383h0M464 1386h0"/>
<path class="c8" d="M454 1443l39 9M339 1325l58-32M397 1385l48-17M368 1307l48 115M387 1398l67 18M512 1425l58 6M522 1427l48-3M503 1435l48 38M647 1377l49 1M406 1445l58-36M599 1453l48-21M561 1419l38-12M561 1452l38-14M493 1360l48-6M232 1460l49-6M445 1446l48 5M435 1419l58-84M329 1347l58 51M561 1425l48 13M377 1433l49-4M541 1303l68 81M445 1390l58 43"/>
<path class="c2" d="M416 1429l48-5M561 1467h0M406 1422l68 20M570 1344l39-16M532 1417l48-39M503 1410l48 28M609 1403l48-24M387 1406l48-3M232 1396l49 11M609 1432l67-16M522 1378l39 40M474 1431l48 13M512 1402l68 17M580 1411l48 16M638 1386l58 16M406 1425l48-32M242 1428l48 12M290 1425l39 18M503 1470l48-21M319 1372l49 16M628 1435l39 18M339 1393l38-36M638 1488l67-21M271 1426l48-18M503 1404l67-10M300 1353l48 45M339 1373l48 88M348 1380l68-79"/>
<path class="c10" d="M532 1354l48 62M618 1359l39 21M464 1377l58-93M377 1399l49 7M445 1387l58 10M348 1331l49 9M339 1458l48-2M426 1383l48-6M474 1365l48 0M541 1379l68-48M339 1438l48 19M358 1339l48 68M445 1414l48 21M339 1415l48 6M454 1422l49-176M570 1433l58 0M464 1423l48 5M300 1334l48 25M445 1411l48 13M454 1338l49 36M397 1404l38 10M416 1288l67 14"/>
<path class="c1" d="M454 1425l58 0M348 1404l49 22M242 1441l68-12M281 1395l58 37M532 1403l58-8M377 1422l39-5M512 1350l58 8M580 1379l48-12M647 1466l49-6M242 1315l68 2M319 1446l58-8M454 1393h0M599 1440l48 2M387 1387l48 24M435 1435l48 3M242 1455l58-7M300 1381l58 40M416 1400l48-53M358 1347l48-41M493 1429l58 1M454 1463l58-7"/>
<path class="c0" d="M522 1446l48 18M541 1407l58 4M445 1433l58 17M368 1438l67 2M493 1455l58 11M628 1418l58 12M609 1372l48 45M426 1396l48-22M580 1431l58-11M628 1395h0M609 1415l67 19M377 1414l49-10M319 1392l58 1M377 1412l49-57M503 1407l67 25M358 1431l39-9M271 1391l48-7M493 1367l58-111M387 1448l48-38M358 1403l58 8M580 1407l48 44M599 1327l58 106M464 1400l48-14M406 1385l58-23M261 1423h0M541 1410l39 9M532 1373l58-13M426 1414l48-27M397 1425l57 7M310 1419l48-4M628 1365l68 2"/>
<path class="c6" d="M483 1442l58-49M483 1344l68 23M310 1426l48-11M387 1462l67-2M532 1338l38 52M638 1450l48 10M358 1442l48-21M387 1471l39-16M522 1370l48-11M416 1388l58 7M290 1408l49-18M474 1322l48 89M368 1306l48 114M590 1457l48-24M271 1433l48 9M561 1435l57-14M397 1382l57 8M387 1443h0M618 1429l39-17M271 1412h0"/>
<path class="c14" d="M512 1451l68-19M570 1370l58-64M319 1347l58 16M290 1445l49-13M329 1346h0M329 1347l48 48M435 1437l68 3M397 1427l48-23M503 1368l48 26M300 1382l58-28M638 1399l48 39M281 1366l58 13M454 1339l39 28M561 1433l57-26M290 1424l49 11M242 1462l39-12M493 1378l48 66M261 1411l49 8M493 1401l48 38M290 1422l49 21"/>
<path class="c3" d="M435 1218l68 50M454 1426l58 19M348 1356l58 9M416 1447l48 4M667 1420l48 18M310 1451l48-20M493 1411l68-11M647 1252h0M339 1436l48-41M474 1400l38 4M426 1432l48 1M512 1404l49 11M638 1383l48-14M232 1453l49-6M503 1398l58-1M416 1397l48 30M474 1434l38-5M483 1438l39-16M503 1451l58-10M281 1445l67-33M329 1303l39 47M377 1365l49-93"/>
<path class="c5" d="M609 1446l58-46M377 1451l68-38M387 1424l48 7M609 1459l58-21M426 1367l67-17M483 1432l49 13M522 1381l48 35M493 1433h0M339 1288l58 30M406 1428l48 11M377 1440l49-6M368 1421l48-4M580 1419l48 10M628 1439l58-42M426 1401l48-6M339 1411l58-1M512 1419l49 22M590 1451l57-94M406 1437l68-57M503 1399l48-22M368 1277l38 100M609 1427l58 5M416 1441l48-30"/>
<path class="c9" d="M426 1303l57 68M609 1435l38-6M426 1400l57 12M599 1400l68 9M454 1413l58-44M397 1411h0M570 1438l48 4M512 1429l58-48M242 1422l58-12M300 1438l39-23M483 1441l49-23M647 1428l68 23M397 1411l48 3M493 1366l48-11M397 1350l57-43M281 1429l48-37M435 1415l48 25M416 1432l38-17M426 1396l48 37M541 1401l58 19M454 1300l49 25M454 1339l49 35M339 1462l48-1M570 1444l48-50M483 1428l49 21M483 1471l39 7M329 1386l58-102"/>
<path class="c11" d="M483 1381l68 4M561 1418h0M416 1381l67-1M435 1278l39 67M377 1366l49 28M541 1422l49 27M667 1419l48 19M387 1305l39-29M647 1398l49-4M387 1353h0M503 1445l58-21M493 1350l58-8M445 1425l38 2M503 1396l38-1M368 1437l38-9M474 1387l48-28M474 1428l67 23M387 1016l48 296M281 1445l67-19M252 1432l58 3M483 1367l49-12M368 1452l48-11M493 1438l48 13M570 1384l39-34M242 1432l48-5M426 1416l48 1M599 1396l39-6M368 1449l48-9M474 1378h0"/>
<path class="c4" d="M358 1458l48-31M329 1465l39-14M319 1351l39 93M232 1438l49-12M503 1352l48-37M628 1422l48-2M618 1400l49-2M435 1385l48 14M377 1407l58 21M281 1312l38 90M551 1334l39 46M281 1412l48-21M464 1371l58-6M368 1425l48-15M426 1449l38-10"/>
<path class="c8" d="M397 1457h0M474 1445l48-2M406 1421h0M618 1430l49-45M599 1395l58-30M242 1394l48-63M445 1386l48 4M406 1328l48 49M387 1256l58 52M406 1322l39-18M483 1367l39-27M300 1423l48-7M358 1352l58 14M252 1449l48-2M435 1370l39 33M387 1452l48-8M474 1419l67 14M551 1432l48-15M377 1298l49 35M522 1448l48-12M319 1411h0"/>
<path class="c3" d="M618 1333l49-8M406 1382l58-161M454 1428h0M281 1380l58 58M522 1393l58 5M532 1435l38 4M348 1381l49-13M503 1328l38 11M232 1349l39 30M358 1313l39-15M397 1359l57 48M541 1346l58 14M358 1446l48-17M319 1415l58-65M358 1447l39-11M377 1422l49-11M368 1429l48-10M483 1403l49 6M464 1309l58 97M532 1329l48 29M474 1401l48-4M397 1309l57-7M252 1422h0M377 1431l58-17"/>
<path class="c13" d="M483 1464l68 8M474 1310l48-6M242 1390l48-13M493 1229l48 186M435 1439l58-11M532 1393l38-12M435 1425l48-39M464 1344l39 36M252 1439l38 10M580 1360l58 46M590 1372l48 42M397 1435l38-15M397 1439l38-27M541 1416l58 27M426 1439l48-1M348 1428l39-38M503 1357l48 10M551 1423l58-4M329 1451l58-29M261 1357l49 23M454 1399l68 9M416 1404l38-33M474 1455l38-11M483 1429l39 28M638 1455l67-6M281 1413l67 12M493 1383l58 16"/>
<path class="c0" d="M464 1365l48 33M368 1399l58-18M358 1431l48-10M483 1343l49 2M290 1419l49 8M271 1334l48 1M445 1411l48 34M348 1323l39-5M532 1202l48 137M522 1367l48 29M406 1468l48 3M503 1437l48-9M368 1418l67-32M599 1382l48 12M464 1424l48 21M348 1443l39 16M503 1357l38-11M580 1398l48-91M435 1365l48 18M406 1384l48 9M348 1432l49-42M541 1282l39 109M464 1455l58 3M435 1460l58 3M609 1412l58 10M580 1451l48 0M532 1443l48-18M329 1415l48 7"/>
<path class="c7" d="M319 1386l49-4M358 1388l48 0M609 1441l58 10M483 1434l49 18M512 1247h0M426 1413l67 20M290 1446l49-1M493 1397l48 8M445 1437l48 13M426 1449l57 13M319 1396l49-16M261 1452l49 14M609 1431l48-3M464 1426l58-15M387 1401l39 41M397 1400l38 16M435 1365l58 3M464 1459l68-9M377 1417l58-30M580 1447l58 6M435 1346l48 111M522 1420l58-4M358 1407l58 28M426 1343l38-43M628 1431l58-4M387 1478l48 3"/>
<path class="c4" d="M454 1393l49-16M445 1450l58 20M474 1404l48 10M358 1430l39-48M464 1448l58 7M503 1354l48-103M416 1366l38-57M261 1436l58-11M522 1420l48 20M503 1331l58 49M590 1437l48 38M319 1431l49-20M522 1423l39-56M397 1349l57 6M618 1459l49 10M561 1402l48 11M599 1414l58-8M503 1442l48 5M339 1447l58 16M358 1438l48 19M435 1388h0M618 1387l49 0"/>
<path class="c14" d="M445 1438l58-13M493 1409l48-4M532 1430l58 14M570 1366l58 35M319 1441l68 4M570 1361l48 76M387 1434l39-29M319 1314l49 56M232 1441l39-27M339 1437l38-2M300 1387l48-41M570 1344l48-81M435 1444l48-8M426 1348l67 57M252 1447l58-37M454 1379l49 64M387 1390l48-44M300 1416l39-24M319 1388l58 10M570 1411l39-48M290 1429l49-7"/>
<path class="c9" d="M445 1370l48 4M599 1421h0M397 1366l48 42M454 1425l58-22M628 1426l58 23M483 1363l58-23M493 1429l48 6M638 1449l58-28M387 1447l67-9M493 1340l58 87M561 1405l48-14M252 1092l67 163M493 1344l48-42M483 1445l49 3M329 1369l48 42M609 1188h0M522 1388l48-8M358 1140l48 136M271 1465l39-41M377 1455l58-13M474 1375l38 5M232 1425l58-24M271 1412l39 24M300 1413l39-28M348 1396l68 9M532 1392l48 8M580 1446l48-127M416 1409l58-5"/>
<path class="c10" d="M512 1342l39 45M454 1420l39 16M261 1416l58-12M590 1441l48-21M532 1427h0M348 1421l58-37M483 1372l49 7M541 1312l49 58M416 1350l58 60M435 1399l39 13M512 1315l39 59M377 1467l58-1M474 1439h0M387 1344l48 45M426 1395l48-18M561 1458l38-3M232 1457l49-17"/>
<path class="c12" d="M426 1439l48 8M532 1309l67 55M647 1281l49 112M319 1418l49 2M290 1430l49 21M464 1259l68 49M271 1429l68-22M532 1405l48-15M310 1437l48-24M445 1431l38-11M252 1417l58-1M252 1419l58-3M474 1089l58 328M483 1424l49-2M397 1406l57 3M232 1410l68-30M618 1423l58 2M435 1340l39 7M406 1344l68 13M435 1431l48-31M474 1377l58-84M493 1407l58-20M319 1430l68-19M590 1416l57-11"/>
<path class="c5" d="M474 1429l48 1M570 1400l39 5M271 1340l48-16M397 1365l48 12M493 1429l68 14M609 1447l38-4M435 1389l48 2M319 1392l49 19M319 1453l58-25M426 1377l48-45M561 1344l67 25M532 1398l58-48M416 1395l38 29M503 1411l48-17M281 1436l58-34M310 1427l48 20M387 1312l58 25M232 1417l49-20M368 1344l58 51"/>
<path class="c6" d="M454 1302l58 148M570 1399l48 20M377 1414l58 37M358 1404l48 26M561 1448l48-25M647 1429l49 22M512 1460l49 1M300 1471l58-11M483 1336h0M339 1328h0M397 1349l57 9M319 1397l58-32M580 1395l48 11M647 1447l39 16M348 1234l49 190M474 1407l48-3M464 1381l48 13M416 1338l67 10M512 1372l49 8M618 1435l58 4M551 1414l58 1M387 1446l48 13M512 1447l39 0M474 1440l38-29M541 1409l49-87M416 1379l38-16M541 1378l58 4M261 1423l39-69M281 1447l48-3"/>
<path class="c11" d="M541 1386l49-62M435 1446l68 18M483 1439l58 2M474 1432l48 2M416 1299l48 10M541 1451h0M493 1440l58-17M435 1397l48 17M647 1438l49-2M368 1461l58-25M522 1401l48 7M329 1349l39 53M348 1410l58 10M319 1395l39-75M483 1428l68-11M483 1374h0M599 1329l58 50M561 1341l57 10M512 1414l68 8M271 1340l58-22M445 1423l48 5M368 1270l48 112M252 1439l67 2"/>
<path class="c2" d="M445 1372l38 48M435 1405l39 37M618 1441l49-9M464 1325l48 5M522 1384l48 31M493 1393l48 28M483 1422h0M290 1344l49 41M445 1442l48 2M387 1431l48 19M493 1428l58-3M512 1405l49-19M561 1411l67-6M522 1373l48-9M319 1394l49 21M319 1476l49-2M261 1453l49 16M348 1406l58 16M435 1452l58-68M570 1432l39-27M474 1057l67 257M310 1441h0M503 1102l48 223M590 1452l48 2M464 1400h0M570 1394l48 28M551 1195l67 182M561 1479l67-16"/>
<path class="c1" d="M377 1319l58-40M329 1369l39-16M464 1326l48 47M290 1444l39-17M464 1261h0M503 1416l48 20M522 1375l58 4M512 1454l39 0M590 1405l48 5M522 1362h0M522 1369l48-2M464 1389l68 31M416 1401l48 3M570 1383l39 38M532 1310l48 29M580 1415l48-11M580 1436l67 4M522 1336l48 46M261 1426l39-3M503 1423l48-5M329 1386l58-4M522 1393l48 27M435 1451l48 24M339 1432l67 22M445 1379l38 2M599 1437l68-11"/>
<path class="c5" d="M503 1415l48 9M464 1095l48 280M406 1439l39-16M628 1380l48 26M483 1352l68 57M261 1348l58 29M474 1355l48-5M300 1394l39 15M541 1442l49-33M290 1459l68-11M348 1405l68 14M532 1381l48-23M261 1332l39 40M368 1434l58-55M387 1388l39 16M348 1414l49 15M406 1460l39 0M397 1422l48 24M445 1385l48 40M474 1436l48 8M232 1435h0M358 1440l58-43M377 1361l58 16M647 1399l49 1M426 1426l57 36M474 1399l58 33M474 1463l48-14M551 1460l58-5"/>
<path class="c4" d="M329 1362l48 33M522 1440l39-4M387 1436l48 0M339 1382l58 24M435 1304l48 2M570 1442l39-4M541 1210l68 229M397 1316l48-6M387 1397l48 28M348 1407l49-11M580 1461l48-25M503 1438l48-35M483 1418l58 4M483 1434l49-26M271 1431l48 19M647 1410l39-4M416 1383l48-19M397 1461l67-19M483 1347l58-67M377 1433l39-24M493 1429l48 7M493 1293l68 60M397 1453l67 9M358 1437l48 12M522 1415l58 22"/>
<path class="c7" d="M416 1448l48 19M426 1373l38-2M397 1387l48-16M261 1428l58-10M319 1387l39-20M348 1442l68-106M377 1430l49-5M358 1462l48-17M561 1432l48-13M348 1419l49-28M522 1325l68 13M339 1418l48-26M474 1425l48 1M387 1408l58 26M281 1339l48-8M454 1370l39 4M532 1412l48 37M387 1425l48-12M261 1421l58 7M368 1372l58 21M493 1385l48 0M551 1349l39 20M348 1310l49 65M532 1435l38 24M474 1443l48 2M532 1431l48 16M348 1363l58 11M271 1363l58-5"/>
<path class="c1" d="M271 1412l48-32M590 1355l48 0M377 1393l49 10M387 1420l39-8M454 1303l58 92M483 1408l58 4M329 1447l58-25M532 1439l58 15M570 1427l58-29M406 1355l48-24M503 1441l58-9M358 1380l48-17M628 1439l48 33M319 1440l49 10M580 1385l58 66M464 1465l39 6M638 1391l48 2M561 1386l38-23M348 1373l49-17M464 1462l48 6M252 1457l48-29M426 1454l48-12M483 1471l49 1M483 1410l58 9M435 1461l48 13M387 1443l39-2"/>
<path class="c6" d="M503 1420l48-1M483 1435l39-5M310 1432l48 18M290 1445l49-39M271 1403h0M541 1408l49 14M638 1457l58-2M532 1289l48 13M590 1357l38 28M242 1408l48-107M580 1254l48 22M329 1375l48 45M416 1440l58-12M532 1330l48-174M300 1391l39-19M348 1343l58-20M454 1399l58 13M377 1428l49-30M483 1442l58-7M474 1421l58 3M445 1352l67 25"/>
<path class="c11" d="M252 1421h0M397 1417l48-3M454 1359l49-4M310 1381l58 4M551 1347l67 13M348 1358h0M406 1424l58-57M483 1398h0M483 1438l39-15M522 1408l58-4M609 1362l58-1M435 1374l68 28M310 1351l48-31M368 1433l58-5M435 1373l48 14M561 1421l48 5M435 1401l48-14M426 1433l48-6M532 1418h0M667 1443l48-5M618 1430l49-5M426 1422l48-24M319 1364l58 25M426 1413l48-2M522 1353l39 5M532 1439l48 20M387 1394l39-33M483 1353l58 45"/>
<path class="c10" d="M406 1327l48 29M435 1445l58 4M339 1456l48 0M339 1417l58-26M474 1412l38-17M300 1410l48-2M358 1413l48 8M493 1310l68-17M377 1439l49-1M377 1446l58-6M599 1418l39-11M474 1446l48 4M406 1435l58 12M406 1412l48 28M522 1432l48-20M561 1407l48 19M483 1451l68 4M426 1350l38 5M406 1421l58 10M397 1421l48-4M339 1412h0M464 1401l58 24M445 1450l58 11M512 1360l39 47M300 1447l58-20"/>
<path class="c14" d="M628 1371h0M493 1430l58 19M503 1434l58-12M609 1348l48 16M522 1353l39 13M493 1403l39 4M445 1323l48 28M464 1436l48-16M435 1350l48 31M387 1465l48-15M445 1279l58 9M551 1385l48 5M483 1440l49-32M358 1354l48 3M397 1452l48-3M290 1427l49-17M252 1348h0M445 1385l58-119M310 1373l48 23M426 1402l48-5M377 1429l39-19M570 1255l48 177M445 1410l58-34M638 1425l48-5M464 1454l48-21M252 1447l58-7M348 1390l58 7M493 1470l48-24"/>
<path class="c0" d="M435 1457l48 6M300 1466l39-4M310 1332l38 26M570 1390l48-32M512 1421l49-12M445 1436l38-28M454 1339l49-11M329 1409l48-58M561 1468l57-12M503 1383l48 3M290 1035l58 281M512 1424l49-2M281 1415l58 36M416 1357l48 37M271 1380l39 28M329 1415l48 29M377 1449l58-3M541 1392l49-35M348 1362l68 21M580 1420l48 4M512 1433l49 8"/>
<path class="c8" d="M551 1408l39 6M426 1446l38 1M339 1274h0M358 1454l48-10M512 1347l49-22M512 1224l49 57M522 1428l58 6M590 1423l48-74M580 1421l48 17M609 1438l58-40M454 1431l68-10M474 1388l48-3M590 1431l48 19M281 1461l48 8M454 1427l49-18M416 1388l48 24M512 1427l49 27M310 1427l38 4M358 1384l39 68M377 1443l68-17"/>
<path class="c2" d="M377 1433l58-4M454 1428l49-49M599 1457l58 21M348 1457h0M406 1409l58 15M416 1322l48 13M416 1340l48 10M503 1430l58-92M397 1404l38 17M290 1463h0M271 1447l68-2M426 1428l48-21M493 1419l39 37M561 1363l67-21M319 1411l68-94M348 1375l49 24M416 1421l48 46M281 1415l58-26M300 1461l48-11M541 1346l58-33M397 1398l48-19M464 1454h0M445 1352l58 18M618 1410l39-7"/>
<path class="c3" d="M483 1440l49 32M329 1361l68 8M368 1354l48 22M483 1331l49 31M416 1438l48-3M599 1417h0M377 1403l58 2M319 1390l49 15M368 1370l48 2M541 1420l49 4M387 1421h0M532 1371l48 33M647 1410h0M368 1372l58-75M387 1381l67 38M638 1445l58-1M261 1423l58 7M493 1404l48 36M435 1419l58 23M532 1452l48-5"/>
<path class="c9" d="M647 1423l49-13M348 1373l39 6M281 1441l38-5M445 1445l67 17M397 1450l57-5M426 1430l57 8M271 1456l48-9M570 1436l39-8M503 1390l48 2M232 1377l58 35M551 1379l48 1M416 1437l48 6M377 1356l49 8M252 1468l48-31M339 1425l48-13M599 1355l68 45M580 1434l48 4M483 1411l49 24M406 1459l68 10M377 1338l49 23M416 1452l58-4M474 1337l67 115"/>
<path class="c12" d="M329 1413l48 9M310 1408l48 7M397 1379l48 31M493 1396l58 27M281 1442l38 1M377 1409l49-6M416 1449l48 21M416 1366l48-47M377 1405l49-91M319 1448l49-50M474 1367l58-22M329 1383l58-18M638 1423l38 1M512 1454l58 8M483 1362l49 12M454 1369l68-25M551 1401l58 1M570 1429l58-13M503 1430h0M532 1374h0M377 1417l49-10M464 1400l48-70M416 1435l67-40M551 1397l48 25M551 1427l39-7M628 1378l48-5"/>
<path class="c13" d="M271 1385l58-11M454 1449h0M474 1317l48 33M580 1340l48 72M348 1414h0M618 1443l39-21M532 1450l67 1M232 1434l49-16M493 1410l58 16M474 1346l48 29M242 1402l48-12M445 1433l38-27M426 1421l48-8M483 1414l39-24M493 1476l48-44M348 1429l49 27M618 1411l58 5M290 1437l58 10M387 1342l58-1M426 1440l48 14"/>
<path class="c1" d="M503 1401l58 10M512 1309l68 16M281 1427l48-3M647 1400l39-45M377 1421l68 6M532 1326l48 52M426 1342l48 34M358 1420l68-2M474 1430l48-13M503 1436l48-15M242 1458h0M426 1332l57 85M416 1361h0M310 1442h0M445 1426l48 9M406 1273l48 95M580 1416l38 21M493 1381l68-9M358 1364l68-4M397 1464l48-3M406 1428h0M551 1399l48-38M474 1407l58 16M290 1375l49 11M387 1431l48-83M647 1452l58-2M483 1403l49-33M281 1457l38 4M339 1357h0"/>
<path class="c5" d="M503 1409l48 25M474 1293h0M474 1423l58 5M368 1443l48 4M590 1438l38 6M512 1391l49-67M406 1409l48 17M503 1386l48 59M551 1421l39-19M532 1378l58 36M232 1452l49-13M647 1371l49-2M426 1333l57-67M570 1396l39 47M483 1420h0M618 1448l68-10M454 1445l58 7M368 1396l38-38M503 1386l48-54M445 1409l58-3M454 1478l68-12M435 1289l39-21M406 1437l48 12M532 1343h0M541 1424l49 14M445 1356l58 26M512 1429l39-37M435 1397l48-7"/>
<path class="c2" d="M435 1432l48 10M348 1356l58-7M454 1340l49 20M512 1458l49-31M483 1393l39 33M387 1407l67 15M474 1365l58-19M493 1417l68-16M503 1446l48 15M503 1400l38 5M628 1397l48-14M232 1380l68-38M339 1424l67-9M561 1410l38 26M474 1410l67 17M532 1432l58 11M406 1426l48-11M570 1405l48-5M445 1409h0M474 1431l58 19"/>
<path class="c8" d="M464 1377l48 41M483 1386l58-21M493 1384l58 31M609 1448l58-1M232 1407l39-9M387 1416l39 2M319 1464l49-15M397 1314l48 32M426 1390l48 38M290 1371l39 5M474 1283l48 58M454 1358l49-189M426 1342l67 51M590 1452l67 24M628 1302l48 56M541 1445l49-9M368 1418l38-31M474 1425l58-4M300 1454l48-22M416 1360l48 13M232 1345l49 26M464 1454l48-16M397 1262l48 96M493 1397l48 22M406 1346l39 55"/>
<path class="c13" d="M358 1446l39-3M638 1411l38 11M483 1438l39-27M541 1426l58 5M435 1420l68-16M570 1432l58-15M426 1400l57 5M387 1446l48-20M445 1422l48-3M522 1446l58-4M435 1394l58-1M242 1409l39 9M474 1405l48-9M397 1377l48 2M435 1431l48-22M512 1314l58 85M522 1470l68-6M416 1394l48-36M329 1292l48 60M454 1322l68 14M300 1438l48 10M551 1419l39 4"/>
<path class="c4" d="M532 1414l48 18M387 1427l48 0M628 1463l48-9M426 1443l38-68M628 1431h0M426 1335l57 40M667 1448l48-7M532 1411l48-4M512 1416l68 9M290 1431l58-15M426 1376l67-61M551 1385l58-149M445 1415l58 7M387 1451l58-8M454 1445l39-67M532 1407l48-3M435 1429l68-13M454 1389l49 40M339 1386l58 43M348 1458l49-2M464 1368l48 63"/>
<path class="c11" d="M426 1421l48 12M339 1436l58-39M599 1463l68-30M377 1413l58-66M397 1419l57 10M339 1426l48-41M454 1432l58 17M310 1417l48 10M483 1415l49 21M454 1361l49 8M445 1390l48 11M290 1379l58 0M426 1408l67 16M590 1265l38 125M493 1440l48-10M464 1418l48-37M532 1340l48 15M483 1415l49 23M426 1473l57-13M329 1449l48-1M493 1404l58-25M541 1209l68 90M474 1419l58 29M454 1420l68-52"/>
<path class="c9" d="M570 1399l58 18M416 1422l48 7M638 1436l48-34M483 1383l49-6M377 1414l39 5M464 1414l58 0M493 1418l68 16M445 1405l58 13M493 1443l58 21M435 1420l58-6M406 1320l48-15M445 1385l58-3M445 1419l48-8M638 1426l48-23M541 1402l49 10M483 1400l58-49M368 1396l48-19"/>
<path class="c0" d="M377 1437l49-34M503 1442l48-52M339 1373l48-9M561 1353l57 16M503 1383l58 19M532 1384l58 40M416 1403h0M358 1442l48-23M435 1425l39 8M599 1449h0M387 1432l48 1M348 1421h0M551 1378l67-71M483 1148l58 173M541 1388l49-27M348 1388h0M493 1319h0M493 1365l48 52M358 1431l48-10M493 1370l68-33M609 1437l48 0"/>
<path class="c12" d="M329 1436l48-27M532 1403l48 9M387 1441l48-5M667 1444l48-14M242 1388l39 32M310 1448l67-33M580 1371l48-75M290 1315l49 62M271 1367l48-4M358 1445l68-11M242 1423l58-6M387 1419l58-1M271 1303h0M628 1384l48-5M551 1414l48 1M416 1371l38 49M426 1402l67-15M464 1397l39 9"/>
<path class="c7" d="M532 1337l48 38M358 1424l39 5M252 1429l58-7M397 1437h0M464 1388h0M599 1398l48-2M532 1427l48-18M609 1453l48-13M590 1325l48 54M541 1448l49 6M493 1414l39 9M426 1430l48 18M551 1302l48-211M368 1389l38 0M290 1343l49-6M435 1364h0M232 1434h0M483 1339l39-2M503 1450l48-17M348 1411l49 18M532 1423l38 7M512 1392l58 20M647 1363l49 87M377 1335l49 31"/>
<path class="c10" d="M580 1448l67-5M541 1401l49-74M454 1345l58 39M281 1389l58 41M454 1448l58-17M570 1213l39 135M541 1351l58-61M454 1384l58-27M532 1419l67 0M483 1420l49 29M474 1400l48 35M358 1362l58 0M493 1408l58 8M281 1423l48 27M319 1362l49 8M416 1413l48 27M339 1399l67-19M483 1377l49 18M580 1316l48 18M387 1286l48-11M483 1413l49-4M551 1328l48 96M474 1420l58 25M329 1427l58 15M570 1449l39-1M435 1380l48 8M368 1388l67-9M271 1472l48-24M512 1314l49 2M377 1449l58-32M483 1400l39-79M561 1442l48 14M387 1417l58 10M397 1341l48 80M628 1438l68-18"/>
<path class="c3" d="M454 1344l58 4M580 1443l67-14M416 1401l38-11M348 1359l49 2M570 1432l58 26M406 1413l58 25M416 1398l48 10M358 1408l48 12M599 1419l48 34M522 1362l39 9M339 1451l48-20M252 1431l48-6M300 1439l58-1M426 1371l48 34M474 1415l48-15M541 1432l49 17M503 1433l58 41M551 1313l48 79M618 1353l58 17M474 1434l48-10M541 1381l58 32M397 1365l38-6M397 1395l48 27"/>
<path class="c6" d="M454 1437l39-12M454 1427l49-10M290 1281l49-9M522 1444l48-90M618 1417l39 17M232 1426l49 14M599 1415l48 8M435 1349l48 81M570 1351l39 28M416 1385l48-2M474 1377l48 7M454 1408l49-122M329 1411h0M464 1433l48-4M522 1408l48 15M339 1396l58-17M464 1368l39 12M368 1436l58-5M474 1401l38 10M464 1413l48-53M590 1436l57-11M618 1367l39-35M435 1312l48 64M397 1343l57 56M416 1449l58 1"/>
<path class="c14" d="M474 1456l38-54M551 1414l48-36M387 1430l39-4M368 1352l48-20M271 1363l39 40M483 1388l49-19M358 1397l58 44M416 1405l58 10M271 1330l48 38M426 1441l48-2M522 1412l68 1M406 1364h0M406 1416l48-26M522 1426h0M368 1381l58-71M474 1440l38-16M426 1406l48-3M242 1443l58 7M300 1401l48-11M445 1398h0M261 1423l49 20M261 1361l39 77M493 1426l48-15M310 1408l58 30M483 1391l58 18M348 1449l58-15M290 1354l39 30M551 1441l48-6M618 1411l58-8M454 1373l58 2"/>
<path class="c8" d="M474 1354l48 71M397 1397l48 0M358 1418l58 3M464 1385l48 7M329 1400l58 15M590 1445l48 24M368 1358l48-19M310 1407l48-4M358 1458l48-7M541 1439l49-13M493 1347l48-121M590 1459l48-9M493 1442l39-5M512 1433l49-11M435 1412l58-17M474 1363l38 41M638 1411l48 14M445 1380l48 29M580 1440l48-5M474 1419l58 0M252 1447l48 11M512 1406l49 12M348 1395l49 15M290 1331l68 68M551 1421l48 31M445 1433l48 18M512 1412l49-39"/>
<path class="c13" d="M599 1294l48-8M329 1404l39-9M551 1377l58 47M532 1447l58-57M618 1461l39 2M570 1389l48-10M590 1460l38-6M570 1416h0M503 1454l58-16M541 1452l39 4M532 1449l67-8M445 1387l38-49M532 1462l48 2M426 1233l67 25M377 1459l49-19M368 1422l48-2M329 1372l48-34M541 1441l49 9M609 1351l58 46M483 1436h0"/>
<path class="c6" d="M252 1420l58-17M242 1438l39-21M445 1444l48-20M609 1420l58 21M464 1461l68 3M358 1434l48-15M310 1392l48-4M512 1413l68-3M647 1363l68 29M435 1412l39-6M464 1441l39-23M609 1420l48-26M464 1439h0M435 1312l58 8M512 1445l49-1M319 1416l39-11M464 1442l58-18M377 1424l58 2M522 1403l48 13M339 1420l67-12M290 1402l58 26M397 1434l38 12M532 1411l48 25M377 1433l58-29M426 1397l48 15M580 1426l58-4M561 1365l48-22"/>
<path class="c3" d="M561 1352l48-14M493 1393l48 41M464 1340l48 41M387 1441l39-103M590 1395l48 29M454 1265l49-22M532 1456l48 5M242 1345l58-27M377 1360l58 22M232 1444l39-13M532 1422l38-103M445 1465l67-39M300 1447l48-2M503 1405l48 6M426 1414l38 4M435 1439l48 20M541 1344l39 102M522 1412l58 14M252 1409h0M358 1357l58-160M493 1349h0M310 1450l48-13M252 1422l48-15M300 1409h0M483 1373l49-27M435 1360l48-50"/>
<path class="c9" d="M590 1372l48-39M483 1461l58-7M599 1413l48 3M339 1376l48-249M512 1413l49-57M474 1444l58 1M590 1411l48-65M512 1406l49-17M474 1447l48 2M590 1431h0M406 1387l58 22M618 1436l58-1M377 1351l58 82M522 1224l68 145M493 1339l48-214M474 1413l48 29M426 1357l38-8M290 1429l58-6M618 1385l49-26M435 1452l48 21"/>
<path class="c2" d="M281 1384l48-11M493 1350l39-20M271 1313l48 44M261 1426l58 8M503 1432l58 10M426 1441h0M397 1465l48-4M532 1420l48-13M319 1353l49-1M261 1391l58 19M426 1422l48 2M493 1446l58-2M416 1122l58 312M426 1356l57 20M281 1418l58-15M590 1357l48 70M387 1351l39-37M281 1426l38 4M397 1382h0M657 1363l48 57M570 1329l48 69M300 1433l58 13M310 1432l48 9M252 1411l48 1M300 1416l48 20M628 1443l48-4M483 1386l58-35M416 1417l58 0"/>
<path class="c11" d="M474 1369l58 12M435 1415l58-9M541 1326l58 22M512 1417l58 13M445 1418l58-29M483 1430l58 10M358 1376l39 20M541 1450l49-22M570 1408h0M445 1386l58-133M580 1428l48-17M416 1335l48 7M339 1389l48-64M368 1353l48 36M377 1425l58 12M445 1439l48 5M483 1459l49 3M512 1361h0M358 1358l58-6M368 1425l58-3M483 1448l49-34"/>
<path class="c12" d="M397 1410l38 15M261 1341l39-46M541 1434l58 21M464 1429l58-45M426 1418l67 4M590 1407l48 26M464 1448l48 15M474 1426l67-25M358 1420l48 47M638 1428l58 23M368 1455l58-12M483 1390l49-6M483 1425l49 1M580 1455l67 11M445 1399l58 8M416 1436l48-8M551 1385l48 23M493 1387l48-26M532 1413l67-12M397 1437l48-12"/>
<path class="c0" d="M339 1383l67-202M445 1456l48 5M426 1451l48-58M445 1351l38 86M445 1449l38-22M561 1445l57 6M483 1359l58 8M512 1440l49-11M339 1425l38 3M387 1452h0M319 1424l49 11M416 1431l67-14M493 1426l48 8M445 1460l67-18M628 1321l68-3M541 1474l49-45M580 1412l58 20M609 1368l67 34M512 1471l58-6M348 1367l39 34M319 1448h0M522 1331l39-19M426 1377l48 3M464 1368h0"/>
<path class="c1" d="M310 1451h0M464 1437l58 1M358 1369l68 0M474 1350l38-1M300 1402l48-25M348 1411l49-39M522 1394l68 20M329 1376l48-29M522 1386l48-30M618 1401l49 42M300 1329l39 6M387 1338l39 73M329 1446l48-11M387 1403l58-50M628 1423l48 23M387 1430l48-88M271 1416l68 34M261 1425l58 7M397 1450l48-11M551 1453l58-1M368 1418l48-1M580 1447l48 22M416 1429l48-17M551 1406l48-35M454 1402l49-29M445 1416l48-13M252 1368l58-10M570 1411l48-8M493 1460l48-12"/>
<path class="c5" d="M358 1363l58-30M474 1341l38 47M445 1448l48 3M454 1379l49 9M416 1424l67 12M387 1349l48 3M426 1378l67 16M368 1404l48 11M310 1395l48-51M445 1417l48 29M339 1380l58 44M426 1393l38 30M435 1399l48 50M618 1324l58 107M300 1399l48-32M474 1358l48 31M416 1435l38-39M551 1358l48 13M474 1426l48 15M445 1458l48-21M416 1446l38-11M271 1420l48-7M512 1330l49 27M310 1411l48-60"/>
<path class="c14" d="M445 1398l58-10M290 1446l49-13M464 1349l68-8M512 1431l58 4M281 1461l58 5M599 1370l39 0M377 1399l58-35M580 1442l48 1M310 1445l48 13M271 1393l48-72M561 1446l48 10M618 1440l49-67M474 1333l38 12M416 1274l38 0M551 1443l58 24M406 1456l39-5M416 1367l48-5M416 1287l48 51M242 1260l58 87"/>
<path class="c4" d="M628 1324l48 41M339 1295l48 48M647 1342l49-40M541 1468l49 4M561 1372l57 11M638 1346l58 96M358 1438l58 28M281 1442l48 8M329 1428l48-57M319 1370l49 19M512 1440l68 2M647 1447l49-15M368 1455l38 24M397 1375l67 10M368 1449l48-26M300 1396l48 42M310 1418l48 3M503 1425l38 21M532 1450l48-25M493 1365l48 27M271 1420l48-15M252 1440l48-12M638 1398l48-11M339 1403l48-36M377 1409l58-13M454 1433l49 28"/>
<path class="c10" d="M503 1382h0M416 1407l67 13M638 1426l58 0M512 1468l39-13M445 1425l58-20M339 1435l58-10M454 1389h0M397 1440h0M377 1354l58 22M406 1275l58 141M445 1339l38 2M551 1416l67 21M377 1426l39-9M339 1381l58 35M551 1361l48-4M426 1421h0M647 1366l49-139M310 1468l48-11M310 1441l48 11M368 1368l48-50M377 1404l49-13M358 1440l58-18M561 1416l38-17M445 1465l48-27"/>
<path class="c7" d="M319 1430l68-18M454 1373l68 30M435 1421l39-91M503 1356l48 28M387 1449l48-2M435 1424h0M532 1395l48 17M339 1297l67 31M618 1437h0M512 1323l58 37M416 1398l67 8M512 1458l49-2M483 1471l49 0M339 1361l48 21M406 1400h0M426 1362l38 1M426 1422l57 16M493 1390l58-11M406 1432l39-40M474 1278l48 11M628 1406l48-1M445 1447l48 2M416 1423l48-82M628 1434l39-3M590 1450l48-9M377 1421l58 16M551 1365l48 29"/>
<path class="c2" d="M281 1434l48-19M426 1345l57-26M532 1475l38-59M426 1405l48-6M406 1274l48-17M261 1409l68-94M590 1452l48 6M445 1413l58 3M464 1370l48 32M483 1383l68-13M551 1327l48-23M590 1435l48-2M377 1425l39 2M300 1420l48-22M329 1436l58-35M339 1389l58 36M242 1458l39 5M377 1450l58 1M522 1444l48-14M261 1446l49 5M609 1381l38 35M368 1396l48-21M426 1418l48 0M551 1398l48 12M300 1459l48 5M387 1335l48-22"/>
<path class="c7" d="M435 1334l48 80M454 1436l49-30M319 1450l49-1M377 1362l49-37M310 1443l48-6M358 1409l48-27M493 1426l58-70M483 1416l49-29M435 1361l48 40M580 1402l58 14M300 1408l48 30M464 1355l48 44M290 1393l49 7M310 1414l58-11M271 1457l68-14M397 1420l57-108M657 1439l48 5M310 1400l58-11M493 1373l58 8M406 1433l48 9M329 1436l48 25M348 1454l49 21M541 1454l49-11M618 1438l49 14M493 1391l58-42"/>
<path class="c8" d="M580 1409l58-31M368 1453l67-33M387 1466l39 2M329 1394l58 18M561 1431l67 5M551 1420l48-55M445 1398l48 22M387 1372l48 10M329 1445l48 0M464 1443l48-65M368 1395l58 31M474 1391l38-26M348 1397l58-4M319 1398l39 3M541 1470l49-20M522 1449l48 12M483 1440l39 12M358 1354l68 68M397 1377l48 44M512 1370l58 18M377 1423l49-37"/>
<path class="c13" d="M358 1382l58-2M368 1398h0M329 1431l48 43M445 1402l58 1M551 1403l48-28M416 1405l48-30M300 1387l48-13M599 1397l58 21M348 1397l49 4M512 1475l49-6M416 1354l48 15M503 1418l48-7M290 1446l49-36M435 1280l48-24M493 1326l58-9M590 1346l48 68M580 1363l38-6M454 1370l49 36M426 1441l48-56M483 1435h0M426 1378l67-52M387 1395l39 0"/>
<path class="c6" d="M551 1444l58 30M483 1451l39-6M377 1459l49-29M329 1435l39 3M416 1285l58-24M551 1213l48 186M377 1443l68 10M329 1437l68-13M590 1394l57 20M493 1391l48 12M426 1382l48-98M310 1459l67-7M647 1440l68-341M647 1379l49 12M609 1401l48 13M348 1373l49 4M503 1345l48 98M541 1272l49 73M464 1424l48-19M406 1390l58 26M647 1454l49 6M435 1366l68 20M348 1374l49-18M416 1440l48 36M483 1418l39 9M512 1393l39 39M474 1306l48 32M580 1410l48-4M445 1381l67 21M474 1321l38-46M426 1434l67 5M522 1390l48 52M570 1312l58-20"/>
<path class="c14" d="M532 1428l67-8M445 1417l58 11M570 1406l58-6M358 1391l58-21M377 1392l58-54M638 1452l48-30M406 1350h0M561 1367h0M416 1445h0M474 1439l48-18M406 1319l58 22M541 1435l58 4M368 1440l48-42M397 1455l48-14M261 1442l68 17M232 1188l58 64M541 1364l49-30M561 1370l67 19M416 1398h0M348 1386l49-12M570 1425l39-17M464 1472l39-68M397 1421l57-66M310 1398l58-8"/>
<path class="c11" d="M522 1435l48 7M368 1455l58 7M426 1403l48 6M435 1375l58-47M368 1434l48-11M541 1358l39 15M570 1428l58 11M300 1412l48 24M590 1380l57 13M271 1430l48-53M435 1446l68-9M426 1425l48 3M406 1392l58 24M512 1335l39 130M358 1421l58 0M300 1309l48 84M570 1462l48 0M474 1343l48 49M464 1342l48-4M397 1359l57-10M590 1442l57-20M406 1426l39-7M397 1367h0M358 1409h0M445 1413l48 48M503 1460l58-32M512 1402l49-8M483 1360l58 9M435 1420l68-92M454 1434h0M532 1390l48 16M348 1383l49-18M551 1281l39 90"/>
<path class="c10" d="M609 1409l58 28M252 1364l58 52M474 1390h0M319 1226l58 174M532 1382l58 37M310 1324l58-161M348 1475l49-23M454 1432l58-4M406 1411l48-49M310 1433l58 3M445 1415l48 2M387 1423l48-29M300 1405l58-23M464 1445l39 20M483 1452l49-24M618 1445l49-10M541 1319l68 45M368 1372l48 33M483 1440l49-24M493 1412l58-20M561 1397l48 22"/>
<path class="c1" d="M310 1441l48-5M483 1436l49-40M329 1419l39-24M339 1436l67 27M493 1403l58 11M329 1389l39 53M570 1406l48 7M310 1396l48-9M377 1393l49-25M310 1304l67-18M397 1355l48-37M319 1217l39 62M348 1411l49-6M483 1440l49 8M426 1407l38 27M281 1426l48-2M300 1376l58-78M397 1405l48-13M387 1369l58 33M310 1459l38-19"/>
<path class="c3" d="M329 1427l48-23M445 1381l58-18M300 1378l58 2M493 1399l68 19M503 1375l67-21M368 1439l67 12M599 1447l58-3M541 1383l49-1M252 1449l48-25M281 1401l48-9M368 1465l67-44M300 1430l48 5M628 1412l48 2M493 1399l48-7M242 1430l48-7M300 1460l48-5M570 1357l39 51M281 1414l48-20M416 1351l38-8M493 1401l48 18M397 1358l67 18M445 1378h0M261 1430l49-27M638 1384l38-13M300 1402l58 9M493 1396l58-80M454 1413l49-2M329 1442l68-32M426 1378l48 49"/>
<path class="c12" d="M252 1431l48-9M618 1429l68 2M561 1448l57-10M290 1438l58-10M445 1449l38-7M339 1410l48-24M464 1413l58 18M281 1381l48 0M493 1413l48 26M445 1375l67 12M464 1483l39-43M541 1339l49 38M580 1393l38 24M358 1315l48 6M647 1423h0M416 1430l58 15M503 1433l48-63M416 1406l48 26M474 1455h0M628 1440l58 18M426 1269l57 64M300 1376l48 13M551 1403l39-23M348 1384l49-22M445 1416l38 8M290 1389l58 19M339 1320l48-58"/>
<path class="c0" d="M541 1417l68-2M368 1448l38 14M483 1397l49-10M445 1380l48-15M522 1318l48-37M397 1276l48 133M551 1469l67-13M377 1365l49-12M339 1418l48-2M416 1425h0M406 1420l58 24M290 1429l49-12M570 1425l58 31M454 1407l49 31M551 1407l48 58M319 1383l58-66M271 1410l48 19M541 1395l49 8M445 1382l48 2"/>
<path class="c5" d="M426 1428l38-11M454 1338l39 35M464 1388l48 10M242 1443l48 26M599 1431l39-26M387 1339l39 8M397 1447l48-4M406 1375l48 37M580 1450l48 2M580 1398h0M348 1405l49-5M454 1367l58 50M319 1426l68-17M474 1386l48-49M483 1401l49-23M628 1430l58 2M426 1433l48 1M532 1394h0M532 1434l48 2M454 1413l49 11M474 1342l48 53M474 1434l48 4M387 1417l58-42M416 1437l38-5"/>
<path class="c9" d="M242 1433l39 29M406 1429l39-13M561 1437l48-34M474 1418l48-18M609 1410l38-7M377 1332l49-29M570 1461l58-24M512 1438l49-9M628 1454l48-18M483 1363l68-39M541 1437l49-25M454 1440l49-66M657 1381l58-2M541 1341l58-11M454 1305l49 39M532 1419l58-19M387 1377l48-3M493 1319l39 140M512 1396l49-4"/>
<path class="c4" d="M590 1409l57 28M599 1443l58-4M358 1463l68-4M599 1392l68 27M503 1365l48 15M348 1415l58-31M454 1291l68 120M454 1447l49-26M242 1421l58-51M358 1411l58 20M570 1414l48 4M609 1447l48-13M483 1366h0M397 1440h0M493 1441h0M358 1282l48 136M445 1320l48-36M493 1385l48 25M464 1436l58 23"/>
<path class="c3" d="M1249 1237l67 133M1171 1218l49-8M1114 1394l57 36M1268 1355l58 21M1075 1430l48-41M1065 1452l49-20M1171 1397l58-48M1297 1288l48 59M1007 1471l49 12M1181 1410l48 22M1229 1390l48 19M1210 1409l48-18M1268 1429l67-40M1085 1333h0M1355 1471l48 1M1085 1453l38-9M1277 1363l68-20M1017 1410h0M1258 1464l48-23M1220 1446l67-18M1181 1393l48-7M1384 1403l48 32M1210 1359l58 37"/>
<path class="c5" d="M1104 1315l48 19M1171 1440l68-11M1364 1447l48 16M1229 1288l48-81M1374 1445l58-11M1277 1399l39 4M1200 1460l39-5M1171 1480l68-3M1056 1383l48-19M1316 1406l68 15M1200 1438l58 3M1335 1415l39 11M1326 1436l58-9M1287 1440l48 12M1297 1424l58-12M1355 1461l57 0M1065 1452l58-18"/>
<path class="c13" d="M1171 1347l49 40M1200 1351l49 10M1355 1290l48 86M1036 1332l68-65M1297 1318l48 14M1191 1375l58 47M1114 1356l48 9M1403 1319l48-25M1065 1387l49-17M1200 1456l49-4M1335 1378l49-22M1306 1479l49-8M1268 1371l48 30M1249 1412l48 11M1075 1394l39 16M1142 1434l49-6M1258 1462l58 0M1152 1444l58-33M1239 1333l67 28M1335 1378l58 11M1239 1253l48 130M1268 1432l38-27M1277 1410l68 24M1316 1442l39 8M1287 1343l48-22M1306 1434l49-32"/>
<path class="c6" d="M1432 1364l48-44M1297 1321l48 85M1220 1273l57 14M1200 1446l58 1M1335 1456l58-16M1316 1352l58 13M1123 1238l39 34M1326 1437l48 8M1326 1456l48-36M1384 1452l67-2M1355 1433l57-8M1355 1456l57 9M1171 1468l49 7M1200 1374l49-32M1181 1204l48-16M1220 1436l48-6M1326 1382l38 14M1075 1423l48-17M1210 1332l67-80M1210 1382l58 37M1268 1427h0"/>
<path class="c2" d="M1220 1401l57 29M1268 1440l58-5M1181 1429l58-7M1412 1398l49 10M1306 1368l39 59M1258 1330l48 28M1210 1400l39-16M1181 1411l48-94M1258 1415l48-15M1094 1278l39 74M1007 1456l58-20M1239 1390l48-29M1152 1393l48-42M1210 1410l48 28M1229 1292l48 58M1094 1432l48 0M1277 1355l49 30M1065 1359l49 21M1200 1285l58 61M1374 1325l48 63M1239 1435l38-42M1297 1451l58 4M1114 1409l48 1M1277 1467l58-22M1239 1337l48 13"/>
<path class="c9" d="M1133 1202l58 85M1239 1401l48-11M1162 1344l48-105M1046 1357l48 12M1393 1417l58-12M1249 1403l67 17M1268 1411l38 34M1114 1468l67-22M1210 1434l48 20M1036 1353l49-22M1287 1433l39 27M1220 1423l48 3M1239 1445l48-10M1133 1436l48 3M1191 1381l67 2M1162 1462l48-9M1335 1455l58-11M1229 1319l68 53M1412 1460h0M1220 1479l48-7M1268 1344l48 1M1007 1456l49-2M1152 1420h0M1277 1391l58-13M1297 1254l38-181M1239 1454l48-17M1229 1419l58-20M1277 1427l49 3"/>
<path class="c1" d="M1200 1434l49 13M1075 1375l48 0M1249 1445l57-24M1326 1421l58-102M1017 1417h0M1104 1441l48-28M1142 1403h0M1345 1243l58 52M1133 1445l48-85M1171 1467l58-38M1162 1361l38 46M1046 1319l39 25M1152 1438l39-39M1258 1426l48 1M1306 1382l39 5M1191 1409h0M1229 1216l48 9M1239 1298h0M1181 1362l48 36M1085 1458l48-13M1364 1468l58 0M1316 1382l48 50M1104 1352l58 49M1152 1469h0M1152 1477l48-6M1181 1428l48 3M1249 1406l57 13M1181 1361l68-25M1046 1401l39 17M1306 1377l68-50M1200 1419l49-13M1335 1397l49 19"/>
<path class="c14" d="M1412 1470l39-5M1056 1325l58 22M1200 1404l49 25M1104 1438l48-37M1210 1261l48-152M1306 1436l49-5M1345 1438l39 8M1191 1341l48-77M1287 1395l48-29M1056 1381l67 10M1403 1383l58 43M1258 1443l48 22M1297 1467l48-21M1191 1435l67 8M1249 1468l48-28M1258 1360l58 21M1036 1434l49-31M1239 1448l58 12M1306 1446l58 2M1171 1444l58-21M1326 1341l48 27M1345 1399l58 12M1181 1425l48 21M1152 1369l39-18M1162 1369h0M1268 1401l58-43M1364 1416l48 16M1393 1447l58 8"/>
<path class="c10" d="M1114 1365l67-2M1422 1410l58 11M1171 1368l49-69M1046 1348l48 23M1200 1434l58-16M1326 1354l58 32M1007 1410h0M1104 1440l48 9M1374 1446l58 15M1297 1419l48-5M1210 1256l48 4M1056 1379l38-138M1229 1444l48-48M1142 1404l49 12M1104 1471l58-27M1162 1416l48-24M1191 1170l67 9M1181 1431l58-13M1152 1464l68-7M1258 1406l48 36M1355 1358l48-8M1306 1341l49 5M1123 1350l48 9M1239 1349l48 17M1364 1457l48-9M1191 1393l48 4M1191 1388l58 38M1171 1383l68 25M1142 1391l49-13M1287 1370l58-29M1007 1397l49-13M1152 1368l48-1"/>
<path class="c0" d="M1085 1411l48-37M1220 1424l38-71M1393 1412l58 3M1200 1304l58 0M1075 1419l48-23M1326 1425l38-62M1200 1440l68 21M1220 1358l57-46M1345 1477l58 3M1162 1364l67 40M1220 1380l38 23M1181 1403l58 32M1123 1257l68-101M1094 1453l39-4M1181 1323l58 11M1277 1070l49-82M1171 1429l39-111M1258 1396l58-23M1364 1184l48 33M1287 1436l48-2"/>
<path class="c7" d="M1306 1423l58-23M1335 1432l39-3M1374 1430l48-35M1171 1410l49-23M1065 1405l58 61M1268 1334l67 34M1200 1258h0M1249 1315l57-19M1268 1439l48-7M1104 1417l48 3M1027 1357l48 34M1171 1438l49 4M1075 1357l58-11M1191 1390l58 11M1181 1358l58 31M1027 1251l48-159M1229 1396l48-23M1210 1302l58 55M1258 1363l48-96M1162 1327l38 7"/>
<path class="c12" d="M1364 1416l48-31M1220 1367l48 16M1200 1033l39 240M1065 1422l58-16M1200 1360l68-28M1355 1432l38-28M1210 1462h0M1142 1436l39-33M1152 1032l39 65M1297 1426l67 0M1268 1354h0M1027 1407l48-28M1162 1414l48-1M1123 1417l48-9M1181 1462l39-45M1326 1409l48 14M1036 1427l58-28M1181 1232l48 88M1326 1440l67-14M1412 1365l39 8"/>
<path class="c4" d="M1123 1383l48 37M1306 1443l58 17M1114 1196l48 153M1094 1410l68 15M1249 1395l48 0M1345 1382h0M1036 1462l49-9M1191 1424l48-45M1249 1425l67 7M1287 1299l48 19M1027 1399l58-17M1114 1376l48 46M1364 1346h0M1393 1425l48-12M1123 1445l58-5M1306 1364l49 29M1268 1365l67-41M1277 1446l58-21M1162 1447l48 10"/>
<path class="c11" d="M1316 1426l48 4M1036 1443l39-6M1181 1410l48 3M1171 1442l58-28M1027 1362l58-6M1181 1390l58-32M1277 1365l58-6M1200 1475l49 5M1152 1473l39-11M1403 1425l48 11M1268 1457l48-8M1364 1438l68-7M1200 1335l49-2M1065 1453l49-23M1056 1432l38-26M1422 1440l58 5M1239 1380l38-18M1133 1386l58-37M1277 1449l39 7M1345 1321l48 26M1114 1346l48 57M1268 1405l48 37M1239 1438l48 21M1384 1388l48 10M1162 1422l58-14M1191 1406l48-42M1200 1272l68 113"/>
<path class="c8" d="M1046 1393l48-11M1335 1223l39-18M1056 1429l67-7M1258 1424l68-3M1345 1387l67 21M1114 1435l38-22M1384 1220l67 10M1210 1342l58 17M1422 1333l48-6M1268 1398l48 31M1114 1419l48-26M1065 1473l68-11M1220 1407l48 9M1133 1404l58-52M1258 1451l58 6M1017 1242l39 59M1316 1334l68 66M1027 1424l58 23M1094 1417l48-14M1162 1376l48 28M1249 1464l48-16M1277 1297l58-27M1162 1397l67 8M1123 1260l48 8M1384 1421l48 14"/>
<path class="c3" d="M1384 1275h0M1210 1408l39-290M1152 1374l39-18M1056 1433l58-32M1104 1343l58 42M1249 1390l48-29M1306 1392l49-34M1181 1406l39-8M1085 1421l48 35M1239 1375l58 9M1239 1338l48 0M1239 1366l48-170M1335 1440l49-21M1258 1301l39 9M1171 1455l49-45M1287 1383l48 56M1277 1345l49 0M1306 1418l49-17"/>
<path class="c14" d="M1200 1420l49 1M1104 1436l48-38M1277 1422l58 53M1277 1457l39 13M1345 1337l48 1M1104 1425l48-43M1220 1325l48 19M1393 1416l58 6M1027 1406l48-14M1220 1416l57 45M1277 1424l49-52M1181 1340l48-115M1065 1364l49-22M1393 1407l48 23M1152 1425l48-34M1114 1406l67 14M1123 1455l39-14M1075 1427l58-50M1316 1425l48-13M1220 1376l48-6M1422 1457l58 7M1258 1363l58 4M1133 1400l48-51M1200 1277l49 25M1306 1340h0"/>
<path class="c7" d="M1364 1391l68-41M1210 1329l48 38M1142 1282h0M1306 1474l49 9M1065 1382l68 31M1316 1356l58 55M1171 1381l58 37M1017 1413l48-36M1152 1451h0M1191 1451l48 0M1181 1166l48 186M1258 1386l48-17M1249 1385l48-29M1374 1440l67 20M1220 1392l57-31M1200 1446l58 17M1162 1475l48-20M1191 1295h0M1191 1304l58-23M1220 1332l38-125M1258 1425l68 5M1335 1432h0M1171 1396l39-21M1220 1297l57 33M1220 1473l67-32M1036 1379l49 12M1422 1429h0M1355 1440l38 18M1017 1424l58-30"/>
<path class="c8" d="M1249 1428h0M1345 1430l48-26M1287 1386l48-5M1200 1324l58-9M1335 1407l49-34M1036 1403l49-25M1152 1278l48-22M1220 1375l57 32M1114 1391l48 40M1152 1420l48 34M1306 1357l49-64M1075 1426l67-21M1162 1389h0M1258 1403l68 18M1229 1473l68 4M1384 1419l38-55M1364 1403l58-3M1142 1318l68 16M1200 1360l58-25M1258 1350l39-26M1277 1367l58 54M1075 1410l58-19M1277 1390l58-18M1364 1449l48-5M1335 1412l58-72M1191 1424l67-148M1297 1452l48-10M1162 1456l58-73M1374 1336l48-59M1422 1374l58 36M1123 1473l48-17"/>
<path class="c1" d="M1384 1392l48 60M1181 1466l48-29M1200 1352l58 23M1258 1367l58 43M1114 1437l57-8M1326 1354l58 37M1239 1405l48 13M1220 1371l57-32M1171 1409l49-3M1171 1414l58-49M1364 1348l58 21M1268 1407l58-17M1393 1444l58 2M1258 1407l68 30M1142 1345l49 4M1374 1356l67-44M1133 1252l48-2"/>
<path class="c9" d="M1181 1398l58-116M1287 1409l58 35M1277 1394l58-26M1326 1380h0M1210 1359l58-32M1277 1452h0M1345 1378l67 8M1374 1436l48 6M1384 1432h0M1210 1428l48-10M1422 1456l68 6M1326 1414l38-16M1171 1442l39-8M1036 1427l39-4M1258 1407l48-10M1123 1419l48 1M1114 1239l38 32M1046 1443l48 20M1316 1421l68-30"/>
<path class="c12" d="M1104 1360l48-12M1249 1411l48-5M1374 1439l58 8M1123 1420l39 13M1326 1360l48-19M1056 1381l48-32M1384 1366l48-72M1393 1427l58 15M1258 1435h0M1162 1400l48-22M1239 1410l58-11M1210 1393l48 19M1306 1427l49-24M1384 1392l57-11M1384 1387l38 1M1220 1413l57-42M1258 1274l48-5M1220 1290l48 22M1335 1440l49 3M1142 1465h0M1200 1366l49-42M1200 1379l49 47M1422 1419l68-11M1355 1358l38-15M1403 1413l58 12"/>
<path class="c0" d="M1268 1405l67 3M1412 1394l58 46M1123 1478l48-7M1191 1365l48 21M1181 1200l48 17M1335 1274l58-90M1355 1430l67 7M1085 1441l48-7M1249 1373l38-13M1142 1429l49 10M1220 1356l57 41M1364 1455l48 4M1181 1283l48-5M1210 1415l67 13M1316 1410l48-8M1364 1408l48-14M1114 1441l38-22M1229 1274l68 34M1142 1421l49-31M1133 1340l48-23M1229 1416l48 3M1277 1416l49-39M1056 1391l48 42M1162 1318l48-14M1355 1428l48-36M1306 1440l49-19"/>
<path class="c5" d="M1297 1401l38-5M1027 1446l48 10M1258 1421l58-3M1133 1445h0M1162 1316l48-132M1200 1313l58 11M1239 1386l58-9M1075 1343l58 55M1287 1323l48-23M1027 1447l48-27M1326 1460l58-32M1258 1466l58 2M1094 1286l68 101M1075 1405l48 7M1277 1407l58-10M1007 1375l49 5M1345 1267l67 40M1335 1316l39 33M1142 1345l49-7M1200 1390l49-4M1056 1295l48 88M1355 1395l67-8M1287 1432l58-44M1297 1408l48 18"/>
<path class="c4" d="M1403 1417l48-14M1085 1329l57 103M1297 1420l58 7M1268 1441h0M1220 1444l57 13M1133 1317l48-44M1355 1447l48 8M1133 1390l58-43M1249 1445l38-27M1384 1450l57 10M1046 1488l39-46M1306 1447l39-13M1258 1370l48-36M1123 1390l48-71M1297 1386l48 24M1326 1384l48 13M1065 1311l58-8M1422 1011l39 334M1123 1358l68 25M1326 1402l48 28M1017 1385l48 1M1191 1371l48-58M1345 1367l48 9M1258 1277l58-27M1277 1358l49 48"/>
<path class="c13" d="M1355 1394l38-38M1326 1370l38 22M1277 1358l58 61M1355 1349l38 38M1027 1293l67 128M1287 1356l68-38M1017 1449l58 1M1152 1017l39 296M1258 1302l58 81M1133 1339l58 55M1316 1461l58 8M1326 1373l48 32M1133 1357l48 19M1229 1426l58-5M1258 1433l48 20M1191 1338l48 50M1162 1415l67-20M1268 1363l48 5M1220 1296l48 102M1393 1354l58 5M1316 1375l48-52M1210 1415l48 28M1258 1415l48 4"/>
<path class="c10" d="M1412 1358h0M1364 1452l48-22M1287 1359l48-19M1316 1336l68 2M1239 1293l38 33M1152 1255l58-4M1345 1419l48 37M1162 1396l58 24M1287 1151l68 185M1017 1432l48-9M1200 1329l49-66M1220 1396l57-65M1393 1357l48 21M1085 1413l48-14M1393 1412l48 7M1065 1437l49-25M1220 1378l38 36M1297 1434l48-3M1075 1428l48-37M1277 1370l49 3M1210 1441l48 14M1229 1363l68 28M1258 1359l48 10M1287 1349l48-19M1345 1347h0M1210 1421l39-3M1181 1475l48-10"/>
<path class="c11" d="M1239 1384h0M1249 1412l57-1M1268 1242l48-18M1152 1326l58-14M1027 1425l38 0M1191 1439l48 0M1412 1379h0M1065 1423l39-7M1287 1438l39 5M1171 1408l49 9M1384 1454l48 6M1220 1425l38-8M1123 1373l48-24M1171 1395l39 41M1085 1327l48-118M1191 1435l58-7M1152 1373l48 17M1210 1227l48 47M1114 1356l57 84M1258 1447l58 13M1171 1404l49 28"/>
<path class="c6" d="M1085 1388l48 8M1393 1356l48 65M1200 1209l68-92M1384 1425l57-16M1200 1431l49-15M1326 1301l48-32M1075 1369l58 3M1123 1454l39-2M1104 1351l38 62M1114 1384l67 9M1249 1411l57 15M1258 1461l68-21M1277 1469l58 4M1355 1405l67-22M1258 1410l58 27M1374 1412l38-111M1297 1334l38-35M1171 1397l49-3M1171 1280l49 2M1258 1077l39 154M1200 1473l68 2M1297 1433l38-4M1220 1389l48 10M1075 1374l48-42M1297 1351l48-12M1277 1442l49 15M1162 1440h0"/>
<path class="c2" d="M1268 1448l48 3M1171 1449h0M1229 1320l58 17M1306 1442l39 5M1364 1442l48-4M1355 1409l48 23M1114 1446l57 12M1152 1371l48-66M1268 1337l67-233M1104 1382l48-4M1065 1376l49-91M1297 1398l38-7M1297 1396l38-26M1258 1424l68 24M1123 1414l48 2M1123 1476l39-25M1162 1450l48 7M1384 1420l38-48M1123 1446l58-52M1046 1349l68 53M1326 1449l67-19M1422 1389l48-2M1142 1413l68-11M1171 1322l58 32M1085 1442l57-15M1287 1346l48 31"/>
<path class="c7" d="M1056 1295l48 113M1114 1362l48 10M1287 1371l48 21M1152 1435l58-12M1065 1385l39-2M1191 1417l48-2M1046 1234l48-123M1085 1400l48-11M1152 1389l48-4M1171 1410l49 30M1094 1396l48-3M1123 1382l48-61M1036 1427h0M1297 1433l38 0M1345 1226l48 170M1142 1397l49-89M1316 1266l68-58M1114 1434l48 6M1432 1294l48 86M1432 1438l48-27M1384 1361l48-2M1249 1370l38 8M1229 1262l39 1M1345 1425l39-21M1085 1430l57-47M1104 1307l38-15M1200 1420l39-92M1287 1390l39-16M1249 1424l48 22M1249 1331l57 56M1210 1350l58 6"/>
<path class="c13" d="M1364 1320l58 58M1104 1465l48-28M1326 1422l58-5M1364 1378l58-9M1046 1438l39-10M1432 1398l58 16M1181 1461l58 9M1239 1373l38 7M1065 1383l49-15M1075 1429l48-36M1191 1437l48-54M1326 1398l48 35M1297 1374l48-12M1316 1218l48 121M1104 1429l48-19M1229 1382l48-69M1393 1426l48-18M1152 1409l58 5M1229 1415l48 29"/>
<path class="c12" d="M1065 1440l49-8M1181 1445l68-50M1403 1306l67-13M1220 1386l38 5M1104 1406l48 17M1210 1457l48-13M1142 1321l58 6M1114 1438l48-16M1094 1465h0M1355 1368l48 63M1306 1244l58 50M1258 1397l48 4M1441 1390l49-37M1181 1457l68-3M1181 1449l48 23M1335 1464h0M1384 1428l48 11M1287 1403l58 1M1075 1269l58 31M1287 1416l58-4M1277 1417l49-12M1210 1356l58 24M1171 1473l68 9"/>
<path class="c8" d="M1229 1400l58-25M1162 1396l58 7M1355 1260l38-59M1258 1398l39-28M1239 1259l38 48M1162 1452l48-83M1065 1414l49-19M1200 1424l49-26M1249 1452l38-7M1046 1424l48-36M1229 1285l39 139M1181 1185l39 155M1104 1475l58-4M1258 1439l68 10M1239 1438l38-22M1287 1409l58 0M1393 1329l48 36M1220 1445l48-12M1277 1315l58 2M1287 1360l39-20M1306 1451l49 4M1277 1442l49 25M1412 1454l49-32M1229 1438l39-27"/>
<path class="c2" d="M1326 1469l58 6M1258 1410l48 47M1229 1348l48 40M1258 1411l48-3M1335 1388l49 19M1239 1447l48-14M1412 1458l49-38M1403 1424l38 24M1239 1440l48 8M1123 1401l48 12M1384 1323l67 91M1306 1416l39 35M1191 1457l38-2M1200 1431l58-24M1326 1428l48 9M1364 1381l39-184M1094 1417l68 1M1355 1394l48-22M1152 1454l48-4M1162 1430l48 12M1229 1305l48-11M1306 1388l58-24M1191 1370l48 51M1152 1374l48 29M1220 1409l38-24M1123 1414l39 16M1229 1418l58 21M1326 1450h0M1210 1343l58-11M1162 1451l48-17M1326 1340l58 41"/>
<path class="c10" d="M1306 1472l68 9M1085 1340l48-119M1085 1476l48-17M1268 1405l48 10M1374 1114l48 45M1326 1438l48-3M1123 1449l58 13M1200 1296l68 144M1133 1313l58 26M1220 1357l48-22M1229 1468l58-22M1036 1293l58-16M1200 1212l58-34M1162 1406l48 5M1316 1386l58 40M1017 1432l48 7M1200 1339h0M1374 1232l67 93M1007 1346l39 30M1287 1436l58 26M1364 1376l39 12M1210 1410l58-10M1152 1351l58 22M1085 1292l48 48M1114 1292l57-46M1142 1444l58-5M1239 1439l48 6"/>
<path class="c1" d="M1191 1435l58 17M1239 1437l38-8M1142 1365l49 81M1017 1394l48-65M1412 1412l49 14M1181 1325h0M1085 1434l38-28M1249 1386l67 19M1152 1342l48 49M1094 1396l68-47M1229 1387l39 25M1287 1394l48 33M1239 1423l48-107M1123 1357l39-21M1104 1344l48 93M1229 1372l48 57M1007 1202l49 21M1075 1432l58 0M1306 1316l49-30"/>
<path class="c0" d="M1065 1447l58-13M1306 1406l39 23M1355 1442l67-7M1306 1396l49 29M1171 1437l39-9M1162 1277l48-4M1133 1149l48 83M1268 1410l48 27M1393 1321l48 114M1335 1470l58-23M1268 1323l38-44M1181 1414h0M1200 1397l49 31M1355 1440l48-20M1075 1403l48-2M1258 1395l48-47M1162 1467l48 8M1162 1417l38 15M1239 1335h0M1191 1351l48-143M1422 1397l48 21M1181 1353l48 60M1229 1400l58 52M1075 1391l48 20M1297 1354l48 19M1046 1295l48-14M1287 1295l39-20M1171 1369l49-3M1297 1379l48-63M1239 1395l48-49M1133 1372l38-16M1393 1263l48 92M1191 1354l38-33M1123 1395l58-10"/>
<path class="c6" d="M1239 1410l67 47M1114 1327l48-196M1104 1377l67 60M1384 1370h0M1181 1423l48-29M1316 1376l39 15M1249 1336l48 2M1085 1420l48-13M1171 1333l39-91M1258 1420l48 3"/>
<path class="c14" d="M1384 1435l67 27M1249 1373l57 21M1142 1426l49 4M1384 1434l48 23M1210 1453l58-36M1239 1206l48-178M1181 1325h0M1171 1467l68-106M1287 1366l48-13M1191 1380l67 22M1191 1366l58 78M1181 1275l48-207M1268 1303l48 61M1277 1302l49 15M1403 1457l48-28M1210 1397l39 2M1142 1465l49 0M1297 1454l58-8M1181 1207l68 204M1277 1370l49 13M1277 1400l58-34M1075 1344l39 19M1210 1382l58 65M1123 1454l48-33M1249 1458l38-63"/>
<path class="c3" d="M1239 1451l48-8M1277 1448l49 15M1287 1428l48-23M1142 1375h0M1287 1337l58 27M1403 1304l58 32M1220 1399l57 19M1142 1469l68 2M1036 1434l58 3M1316 1443l48-49M1268 1429l38 28M1326 1451l67 4M1306 1420l39 14M1239 1317l38 17M1094 1396l48 35M1152 1399l58-15M1114 1196l48-26M1220 1302h0M1152 1247l58-7M1277 1039h0M1277 1427l58 22M1393 1315l48 37M1017 1366l58-17M1210 1361l48 43M1326 1428l38-38M1412 1350l58 34M1171 1436l49-159M1249 1376l57 28M1181 1406l58 12M1200 1397l49-18"/>
<path class="c5" d="M1268 1333l58 23M1249 1307l48-46M1239 1370l58-29M1277 1355l58 15M1229 1359l58-45M1239 1411h0M1268 1466l58-6M1123 1427l58-50M1268 1391l48 40M1104 1414l48-6M1056 1322l48-40M1094 1431l58-11M1316 1436l48 13M1046 1444l48-16M1306 1440l58 11M1249 1244l48 74M1249 1403l48 37M1210 1418l58-27M1123 1426l39-4M1229 1454l39-60M1229 1369l48 5M1239 1364l48-5M1191 1401l58-44"/>
<path class="c9" d="M1056 1429l58 8M1017 1385l58-11M1268 1305l38 21M1065 1339l68-49M1277 1341l49 14M1239 1376l48 1M1046 1423l68-28M1258 1446l39-118M1287 1446l58-6M1162 1429l58 5M1258 1391l39-25M1075 1290l39 44M1007 1469l58-5M1142 1427l68 2M1220 1464l57-22M1335 1402l49-4M1181 1311l48 29M1239 1371l38-37M1142 1425l49-14M1056 1435l48 0M1229 1410l48 4M1249 1451l38 7M1249 1260l38 88"/>
<path class="c11" d="M1258 1401l48-16M1258 1435l48-13M1364 1452l48 15M1065 1442l49-27M1316 1357l48-72M1162 1383l58 37M1162 1459l58 13M1104 1439l48 2M1065 1453l39-50M1287 1399l48-9M1133 1411l48-6M1162 1396l48 20M1133 1406l48-3M1326 1389l48-21M1142 1417l49-30M1114 1457l48-20"/>
<path class="c4" d="M1258 1409l39-34M1162 1409l48-49M1065 1400h0M1229 1435l48-32M1364 1383l58 12M1297 1467l58 9M1133 1437l58-47M1007 1456l49 21M1249 1463l67 1M1142 1423l39-26M1249 1395l57 5M1142 1365l39-7M1220 1260l48 50M1220 1427l57 23M1335 1385l58 37M1277 1314l58 63M1345 1436l67 19M1036 1406l49-18M1191 1427l48-29M1277 1429l49 21M1181 1154h0M1017 1456l48-7M1287 1247l58 20M1306 1424l49 23M1133 1287l48-38M1393 1451l58-49M1258 1454l48-8M1268 1345h0"/>
<path class="c8" d="M1162 1278l48-10M1133 1282l38-7M1229 1429l39 15M1171 962l58 252M1162 1423l58 6M1027 1341l48-14M1142 1401l49 7M1114 1347l57-17M1412 1358l49-3M1046 1363l39-9M1422 1442l48 17M1297 1394l48 24M1258 1477l58-2M1171 1420l39-2M1200 1440l58-128M1239 1429l48 11M1220 1408l57-15M1239 1437l48-25M1162 1402l38-7M1287 1425l58 40M1287 1434l48-39M1277 1454l49-8M1191 1451l48-30M1403 1345l58 2M1374 1413l67-14M1277 1309l58-10"/>
<path class="c3" d="M1239 1448l48 10M1191 1432l48 4M1229 1399l58 6M1229 1465l48 2M1268 1371l48-33M1142 1309l49 55M1384 1424l57-27M1297 1406l48-7M1306 1338l58 0M1277 1292l49 87M1393 1403l39 17M1171 1402l49 13M1094 1368l39 4M1258 1375l48 36M1191 1444l58-19M1335 1351l58 24M1200 1321l39 8M1287 1460l68-7M1191 1442l48-2M1422 1450h0M1249 1307l48 51"/>
<path class="c13" d="M1162 1448l48 0M1258 1400l39 6M1191 1420h0M1094 1407l48 6M1249 1350l48-7M1297 1302h0M1094 1299l48-31M1191 1431l48 6M1200 1390l58-27M1133 1444l48-26M1239 1329l58 54M1364 1408l68-37M1142 1431l58-18M1287 1346l48 77M1017 1437l48-17M1210 1448l39-4M1297 1432l38-28M1326 1337h0M1210 1388h0M1287 1464l48 6M1229 1432l39-24M1249 1440l48 1M1229 1375l48-103M1114 1388l48-36M1326 1403l38 13M1258 1437l58 16"/>
<path class="c0" d="M1316 1395l68-23M1403 1401l58-13M1114 1386l48 6M1104 1251l48 122M1085 1413l67-10M1181 1403l58 6M1210 1387l48 17M1007 1471l49-3M1171 1245l49 16M1152 1311l39-19M1384 1407l57 29M1316 1404l58 48M1229 1369l58 23M1191 1435l58-8M1104 1344l48 27M1268 1466l48-26M1210 1452l48-134M1171 1351l58 67M1306 1436l58 10M1123 1421l48-16M1181 1396l58 18M1085 1385l48-21M1422 1136l48 261M1104 1430l67-8"/>
<path class="c7" d="M1162 1452l48-13M1046 1260l68 134M1422 1396l39-9M1191 1417l38-16M1345 1382l39 17M1152 1405l68 3M1191 1406l58-34M1171 1418l39-19M1239 1444l48-72M1123 1318l48 55M1191 1232l58 46M1162 1343l38 35M1403 1451l58-37M1268 1443l48 12M1133 1384l67-15M1239 1428l48-33M1152 1371l39 17M1355 1466l48 13M1171 1348l68 9M1326 1402l67 19M1258 1369l68 2M1220 1440l67-7"/>
<path class="c4" d="M1162 1390l38 24M1277 1456l68 30M1094 1358l58-43M1162 1413l58-16M1268 1426h0M1393 1437l48-26M1268 1443l38-36M1384 1432l48 36M1114 1443l48-8M1258 1409l39 0M1075 1283l39-71M1220 1331l48 15M1114 1440l48-107M1162 1453l48 9M1152 1409h0M1200 1444l49-16M1277 1409l49 44M1277 1270l49 26M1335 1478l49-43M1036 1381l49 6M1345 1349l67 12M1191 1397l67 1M1239 1412l38-2M1094 1446l68-55M1355 1403l48-45M1335 1379h0M1249 1443h0"/>
<path class="c14" d="M1441 1392l39 20M1152 1335l39 16M1258 1394l48 53M1085 1424l67-45M1268 1430l58-9M1133 1461h0M1162 1391l48 6M1007 1486l68 3M1403 1402l58 39M1335 1387l49-27M1085 1291l38 61M1171 1336l58-14M1268 1404l38-9M1046 1369l48-60M1422 1379l48 37M1056 1432l48-20M1258 1364l48 29M1036 1469l49-11M1355 1425l57 19M1036 1272l49 14M1239 1351l48-7M1210 1193l48 144M1364 1361l68 9"/>
<path class="c9" d="M1191 1413l38-16M1229 1341l48-6M1017 1425l48-35M1229 1445l48 7M1239 1286l48 14M1384 1400l48-29M1306 1437l49-65M1403 1472l48 11M1277 1229l39 99M1152 1439l39 12M1104 1318l48 55M1152 1376l58-3M1036 1405l39 5M1287 1402l58 11M1210 1414h0M1094 1413l48-29M1297 1424l48 26M1133 1307l67-102M1268 1302l48 111M1249 1390l48 8M1335 1386l49 7M1210 1260l48 15M1152 1360l48-15M1210 1309l58 33M1297 1449l48-5M1017 1423l58-48M1220 1321l38-50M1123 1357l48-9M1374 1384l67 26"/>
<path class="c10" d="M1326 1435l48 25M1123 1403l48-6M1123 1453l48-13M1133 1260l48 30M1210 1390l58-3M1162 1450l38-21M1152 1404l58 5M1171 1442l49 4M1384 1461l57 3M1123 1384l68 7M1268 1419l48-1M1277 1407l49-39M1181 1327l48 31M1239 1436l58-26M1152 1295l48 50M1239 1412l58 0M1007 1436l39 1M1085 1418l57-1M1200 1387l49 9M1171 1420l49 2M1384 1396l48 0M1345 1284l48 78M1306 1415l39 9M1268 1404l38-11M1229 1390l48 19M1210 1345l48-5M1191 1383l58 51M1277 1458l58 17M1007 1402l49 14M1171 1401l58-42M1171 1434l68-14"/>
<path class="c12" d="M1171 1432l49-44M1287 1301l58 86M1123 1386l48 40M1364 1448l48-85M1316 1371l58 4M1239 1345l58-1M1114 1444l38-1M1142 1425l58-34M1374 1408l48 2M1162 1444l38 11M1412 1358l49 19M1287 1401l68-40M1316 1445l58 9M1142 1364l68 44M1326 1456l48 0M1210 1375h0M1345 1430l58 24M1152 1398l68-29M1152 1440l68 9M1335 1261l58 42M1104 1371l48 52"/>
<path class="c5" d="M1181 1215l48 119M1239 1449l67-19M1374 1381l48 4M1345 1418l67-26M1046 1413l39-3M1297 1405l48 12M1374 1476l67 14M1249 1492l38-2M1200 1447l49-37M1249 1412l57 17M1027 1426l38 9M1181 1235l58 6M1181 1309l58-48M1007 1407l49-4M1191 1337l48-4M1142 1446l49-7M1085 1453l67-123M1287 1403l48-24M1065 1249l68-32M1114 1322l48 88M1065 1441l58-10M1220 1466l38-4M1056 1415l38 5M1094 1357h0M1268 1408l48-7M1277 1413h0M1200 1285l49-4M1258 1390l48-33"/>
<path class="c6" d="M1364 1451l48-15M1017 1492l68-38M1085 1331l38-2M1268 1221l38 76M1094 1397l48-3M1094 1335l58 3M1249 1489l48-18M1200 1466l49-3M1268 1446l58-6M1229 1443l48-10M1114 1459l48-6M1191 1402l38 39M1229 1425l68 13M1306 1327l49-11M1220 1407l48-5M1326 1354l48-3M1403 1455l58 7M1268 1409l48 6M1065 1337l49 65M1104 1442l58-12"/>
<path class="c11" d="M1297 1435l58 29M1123 1365l58-110M1114 1437l48-6M1181 1423l48-13M1355 1212l38-21M1142 1429l39 32M1335 1438l58 28M1277 1409l58 27M1142 1366l58 40M1142 1397l39 1M1374 1429l38 15M1171 1271l58 109M1249 1406l57-22M1142 1345l58 83M1056 1431l48 0M1306 1421l58-2M1036 1421l49 6M1152 1409l48-1M1229 1416l58-1M1065 1457l49-61M1133 1451l67 12"/>
<path class="c2" d="M1258 1406l48-17M1210 1327l48 0M1085 1296l57-5M1104 1466l48-21M1094 1389l68-17M1374 1455l48-7M1200 1317l39-20M1384 1395l48 28M1412 1455l58 11M1007 1378l68-22M1345 1396l58 18M1306 1444l58-8M1094 1417l48 0M1210 1361l48 13M1249 1249l48 98M1094 1360l68 78M1277 1433l49 41M1345 1366l48-4M1200 1350l58 62M1403 1416l58-5"/>
<path class="c1" d="M1229 1382l58 15M1200 1407l49-6M1393 1233l58 2M1374 1303l48 25M1085 1437l67 14M1171 1347l49 38M1297 1439l48 4M1229 1374l58-150M1249 1286l48 62M1306 1376l58-16M1239 1275l48 53M1239 1358l48-2M1335 1235h0M1268 1342l58-25M1229 1362l48-1M1364 1447h0M1133 1345l58 45M1277 1394l58 27M1142 1386l58-63M1239 1447l38 8M1403 1397l58 11M1277 1434l39 22M1287 1324l48 53M1355 1453l48-35"/>
<path class="c5" d="M1345 1435l58-12M1277 1389l49-2M1403 1435l48 4M1432 1416l58-5M1142 1438l49-22M1220 1378l38-8M1152 1346l58 38M1200 1451l58 1M1162 1325l48-96M1142 1382l49-41M1287 1399l58-4M1229 1416l39-12M1268 1141l48 45M1345 1450l58-49M1374 1422l48 15"/>
<path class="c4" d="M1152 1422l48-24M1249 1399h0M1258 1338h0M1133 1371l58 62M1297 1443h0M1364 1233l48 150M1335 1424h0M1287 1369l68 27M1200 1229l49 128M1056 1414l67 1M1181 1457l48 5M1412 1366l58 3M1441 1426l49 5M1364 1446l58-3M1181 1430l39-288M1200 1463l39-16"/>
<path class="c7" d="M1345 1425l48 20M1104 1151l48 143M1094 1451l48-1M1268 1416l48 2M1200 1222l49 78M1297 1445l48 1M1191 1394l48-60M1142 1454l49 9M1239 1416l48 29M1374 1367l38 66M1200 1416l58 8M1065 1425h0M1306 1109h0M1200 1405l58-22M1268 1461l48-28M1316 1382l58 58M1114 1402l48-27"/>
<path class="c1" d="M1181 1360h0M1297 1339l48 0M1268 1356l48 35M1249 1342l57 39M1249 1398l38 13M1162 1397l38 12M1297 1379l38 46M1200 1447l49 11M1171 1429l39-14M1152 1372l48-10M1297 1468l58-40M1229 1303l39 66M1027 1472l38-12M1345 1345l58-32M1268 1387l58 33M1220 1369l48 39M1114 1389l57 16M1326 1345l48 5M1142 1287l68-122M1027 1438h0M1345 1414l48-43M1287 1429l48-7M1326 1347l38 76M1364 1433l58 18M1075 1368l39-69M1085 1415l48-26M1007 1413l68-45M1220 1308l57-9M1133 1283l67 44M1065 1438l68-7M1335 1432l39-10"/>
<path class="c6" d="M1114 1410l48 6M1056 1350l48-15M1239 1398l67 25M1393 1436l48-4M1181 1368l48 28M1335 1453l68 35M1393 1116l58 94M1287 1265l48 58M1017 1362l48-11M1229 1386l48-16M1114 1426l48 2M1094 1408l48-8M1326 1370l48 72M1191 1416l58-42M1258 1321l68 87M1364 1363l39 3M1249 1393l38-82M1403 1439l48-14M1114 1291l48-69M1056 1365l58 75M1200 1457l58-13M1200 1324l49-41M1249 1328l48 23M1335 1325l39 78"/>
<path class="c11" d="M1171 1437l49 11M1200 1370h0M1249 1409l48 8M1027 1439l67 14M1239 1175l58-28M1056 1389l48 37M1422 1433l48 14M1017 1420l39 20M1046 1144l68-6M1200 1397l39 1M1258 1274l48 54M1316 1402l48 12M1345 1373l67 37M1403 1311l38 38M1220 1472l67-6M1306 1349l58-42M1249 1412l57 32M1181 1310l39 13M1249 1193l48 128M1441 1444l49-6M1220 1444l48-10M1017 1383l48-16M1403 1473l67 0M1306 1405h0M1374 1296l48-2M1393 1397l48-11M1123 1456l39 21"/>
<path class="c10" d="M1239 1152l48 166M1229 1430l48 8M1065 1448l58 16M1239 1309l58 13M1316 1227l58 19M1229 1355l48 43M1249 1311l48 69M1229 1368l48 31M1335 1462l58-33M1239 1414l58 16M1171 1150l68 60M1210 1406l48 15M1220 1226l48 104M1277 1420l49 17M1220 1396l57 8M1249 1427l48 2M1171 1307l58-37M1239 1441l58 26M1277 1469l49 10M1104 1441l58 6M1152 1393l48 7M1306 1314l49 11M1297 1313l48 74M1306 1451l68-3M1220 1428l48 14M1277 1358l39 15M1075 1272l48-53M1287 1434l48-11M1133 1409l67-7M1075 1414l48 4M1393 1433l68 3"/>
<path class="c14" d="M1239 1335l67-17M1422 1279l39 4M1258 1309l68 78M1287 1429l68-2M1085 1368l57 13M1220 1368l48 35M1412 1412l49 7M1345 1406h0M1316 1293l68-62M1316 1402l48-2M1114 1427l48-34M1027 1423l48 34M1403 1369l58 37M1229 1378l58 4M1104 1435l38-50M1065 1465l49-7M1094 1401l68 5M1162 1397l48 10M1104 1454l38 11M1403 1367l58 11M1345 1410l48 9M1085 1423l38-11M1162 1345h0M1277 1212l49 37M1152 1350l58-33M1142 1419l68-102M1268 1329l48 13M1007 1390l49-46M1345 1474l48 10M1114 1421l48-37M1104 1219l38 86M1287 1452l48-28M1191 1434l48-4M1210 1414l39-4M1017 1446l58-7M1229 1373l68 16M1229 1354l39 0"/>
<path class="c0" d="M1249 1321l48 21M1229 1390l48 2M1393 1333l48 59M1114 1318l48 40M1374 1484l48-7M1200 1303l49 9M1171 1399l68 10M1220 1382l57 19M1345 1355l48 7M1123 1361l48-51M1171 1347l49-8M1210 1414l48-18M1114 1445l48-5M1142 1436l58-23M1210 1390l39-37M1239 1413l38-5M1171 1393l49-252M1133 1415l48-15M1181 1329l48-122M1200 1193l49 140M1210 1385l67 62M1104 1433l38-8M1123 1358l48 31M1162 1322l58-25M1306 1429l58-24M1355 1435l57 24M1075 1377l48 13M1287 1449l48-74M1171 1435l68 34M1422 1430l48 25M1258 1408l39 25M1316 1239l39 70"/>
<path class="c8" d="M1181 1319l48 25M1229 1417l48 1M1085 1288l48 21M1277 1403l49-14M1142 1321l58-36M1027 1364l38-34M1181 1397l58 26M1345 1447l48-1M1277 1372l49-3M1200 1367l49 47M1210 1427l58 34M1162 1457l48-13M1374 1398l48 19M1384 1264h0M1249 1402l57-20M1306 1309l39-7M1191 1382l48-5M1220 1279l48 11M1258 1463l48-5"/>
<path class="c2" d="M1249 1413l48 1M1258 1454l58-1M1027 1471h0M1229 1444l58-6M1200 1434l39 10M1065 1360l49 20M1249 1370l67 61M1210 1399l48-60M1306 1415l49-75M1326 1472l58 4M1268 1458l48-4M1200 1456l49-47M1075 1327l67-42M1268 1395l48-60M1220 1400l57-2M1403 1424l67 9M1306 1445h0M1142 1406l49-7M1316 1454l68-13M1249 1366l48-47M1229 1387l58 26M1210 1419l58 16M1152 1396l48 3M1200 1355l39 50M1007 1398l68-45M1335 1410l49-138M1200 1453l58 0"/>
<path class="c3" d="M1133 1420l48 4M1017 1471l48-11M1142 1359l58-67M1171 1408l49 1M1200 1355l68 22M1268 1289l48 24M1191 1377l48 12M1249 1376l48 5M1268 1396l58-19M1258 1340l58 57M1403 1446l48-146M1364 1423l58 5M1114 1457l48 7M1258 1364l58-21M1393 1379l68 4M1355 1464h0"/>
<path class="c9" d="M1075 1443h0M1249 1421l38 3M1412 1376h0M1422 1455l48 15M1335 1375l58 9M1210 1436h0M1123 1355l39-51M1191 1438l48-7M1374 1399h0M1133 1476l38-14M1191 1415l48 14M1393 1399l48-53M1306 1225l49 71M1075 1468l48-10M1229 1472l58-45M1229 1439l48 30M1191 1311l48-147M1007 1444l58 4M1374 1391l48-33M1374 1353l48 61M1017 1417l48-90M1229 1169l48-51"/>
<path class="c12" d="M1133 1363l58-17M1229 1337l58 1M1258 1451l48 8M1181 1415l48 38M1200 1273l39-54M1287 1465l58-1M1268 1404l58 40M1142 1404l49-126M1075 1419l48 24M1210 1239l48-17M1326 1402l48 17M1268 1432l58 1M1104 1476l48-16M1017 1364l48-4M1210 1373l48-132M1412 1447l39-141M1364 1441l48-7M1104 1416l38-1M1239 1399l38-58M1422 1460l48 3M1200 1345l39 41M1162 1291l48-11M1384 1392l57 24"/>
<path class="c13" d="M1393 1398l48 42M1229 1129l58 35M1287 1459l39-18M1046 1372l48-3M1152 1454l48-30M1412 1361l39-52M1142 1378l49 40M1133 1435l48-37M1152 1444l48-27M1162 1465l48-46M1191 1392l48-8M1123 1431l48-28M1220 1407l38 6M1142 1476l49-23M1287 1465l39-5M1345 1323l48 21M1374 1389l58 1M1277 1427l68 6M1249 1315h0M1258 1389l48 9M1297 1348h0M1297 1400l48 27M1229 1380l39 1M1152 1375l58 6M1277 1427l68 34"/>
<path class="c1" d="M1162 1460l48-14M1210 1433h0M1210 1453l67-17M1326 1457l58-21M1326 1402l48-15M1374 1387l38-46M1364 1438l48 46M1200 1428l68-27M1355 1475l48-96M1200 1377l39-49M1171 1364l49-21M1277 1470l68 4M1085 1344l48-19M1210 1392l58 33M1258 1387l68 52M1277 1381l49-73M1085 1384l57-10M1258 1159l58 132M1104 1450l48-6M1181 1384l68 10M1210 1438l39-10M1017 1459l58 6M1249 1353l48 10M1200 1444l68-16M1152 1340l48-51M1249 1438l57-1M1355 1387l48-41M1229 1405l39 32M1374 957l48 133"/>
<path class="c5" d="M1268 1396l58-7M1162 1411l48-9M1123 1357l48-27M1355 1375l48 16M1297 1429l58-13M1123 1429l48-67M1162 1275l48 37M1075 1449l67-15M1229 1403l58-4M1393 1404l48 28M1152 1201l48 105M1316 1400l48-18M1393 1395l58 29M1162 1358l48 24M1162 1419l48-39M1220 1368l67 51M1374 1437l58 10M1152 1359l48 48M1355 1415l48 13M1191 1139l58 21M1114 1340l67-108M1085 1453l48-13M1171 1280l58 14M1258 1418h0M1191 1420l58-3M1268 1384l48 18M1200 1375l49 52M1191 1421l48 30M1162 1295l48 54M1210 1364l39-18"/>
<path class="c2" d="M1316 1354l48 18M1133 1431l48-7M1258 1458l68 11M1374 1399h0M1355 1339l48 4M1306 1397l68 30M1220 1430l48-4M1104 1429l48 5M1306 1184l58-66M1432 1432l38 10M1152 1357l48-70M1200 1444l49-13M1249 1401l48-7M1326 1399l48-13M1065 1407l49 16M1384 1398l57-1M1017 1353l39-5M1162 1390l38 13M1316 1455l48 7M1239 1412l48-42M1162 1321l48-34"/>
<path class="c8" d="M1152 1422l58 8M1142 1415l49 26M1297 1321l58-4M1277 1456l39 6M1345 1438l58 29M1152 1443l48-3M1239 1325l48 19M1249 1436l48-107M1268 1431l48 27M1422 1473l39-11M1191 1382l58-28M1268 1460l38-13M1123 1360l58 3M1355 1449l57 15M1171 1119l58 100M1287 1417l58-25M1239 1430l48-5M1412 1436l68 37M1114 1264l57-11M1123 1414l48 24M1297 1447l48-3M1220 1287l38 77M1085 1348l38 21M1229 1153l48 199M1075 1121l67 278M1345 1439l48 20M1142 1462l49-16M1133 1369l58-13M1355 1414l57-2M1181 1453l58-18"/>
<path class="c13" d="M1335 1292h0M1335 1301l49 37M1287 1456l58-9M1277 1429l39-46M1287 1459l48-35M1220 1447l48-7M1316 1435l39 15M1027 1452l58-9M1007 1447l49-25M1306 1300l68-76M1133 1417l58-6M1142 1427h0M1007 1294h0M1220 1138l48 267M1123 1383l48 10M1258 1418l39 30M1162 1438l67-56M1345 1424l58-8M1210 1404l48-30M1181 1453l48-18M1056 1355h0M1335 1405l58-7M1094 1444l58-43"/>
<path class="c4" d="M1046 1460l39-1M1306 1425l49 4M1403 1423l48-17M1181 1437l58-52M1422 1448l39-34M1364 1413l68 15M1258 1469h0M1229 1293l48 66M1171 1375l49-72M1017 1388l48-19M1220 1375l48 4M1412 1430l68-15M1229 1319l48 53M1249 1280l38-29M1316 1468l58-7M1210 1255l48-5M1142 1249l58-69"/>
<path class="c11" d="M1220 1266l48-26M1239 1423l58 44M1075 1176l48-58M1268 1258l48-74M1094 1439l48 4M1123 1392l58 8M1036 1388l58-14M1162 1466l38-10M1152 1456l39-38M1249 1402l57-86M1355 1389l67 1M1094 1464l68-82M1229 1402l48 30M1085 1365l48 60M1065 1364l49-44M1229 1430l48-56M1104 1358l58-4M1258 1449l58 16M1287 1391l39 79M1181 1416l58-3M1306 1454h0M1239 1243l58 36M1249 1401l48-21M1277 1415l49 9"/>
<path class="c9" d="M1384 1471l38-51M1297 1437l48 26M1422 1323l48-20M1403 1412l67-11M1345 1367l39 41M1393 1431l48-2M1287 1416l48 20M1287 1367l48 18M1200 1374l49-18M1142 1396l49-17M1403 1394l48 13M1171 1437h0M1306 1430l49-6M1297 1382l67-5M1075 1418l48 21M1162 1444l38-10M1268 1397l48-64M1355 1395l67-10M1355 1343l67 4M1191 1432l38 12M1200 1281l68-45M1249 1393l57-16M1297 1438l58-23M1065 1384l68-26M1403 1446l48 11M1094 1401l39-16M1210 1401l48 33M1229 1458l39 11M1277 1470l58 16M1036 1296l58 60M1181 1432l58-68M1249 1333l57 71M1171 1414l39 7"/>
<path class="c0" d="M1229 1366l48-136M1075 1397l48-11M1162 1372l58-50M1326 1338l48 40M1181 1430l48-24M1133 1446l58 16M1287 1458l48-15M1364 1297l48 17M1393 1409l48-280M1065 1442l49 6M1191 1397l38-6M1306 1323l49 22M1114 1370l67 5M1075 1369l39 27M1162 1417l38 7M1268 1333l58 38M1210 1248l58-191M1306 1448l49-28M1056 1416l38-10M1306 1346l49-27M1306 1453l49-81M1036 1453l39 7M1210 1447l39 12M1171 1433l49-13M1152 1287l58 45M1094 1403l39-65M1268 1412l58 23"/>
<path class="c12" d="M1364 1180l39 281M1056 1468l58-3M1036 1407l49-9M1171 1391l39 50M1162 1325l38 12M1316 1397l39 20M1191 1432l67-24M1104 1472l48 3M1114 1437l48-1M1277 1386l58 8M1191 1380l48 36M1191 1412l38-83M1258 1405l48-1M1104 1396l48-26M1152 1415l39-89M1085 1405l57 4M1162 1470l58-44M1133 1396l58 9M1162 1460l58-10M1287 1312l48 41M1239 1443l48 4M1017 1459l48-9M1335 1396l49 64M1075 1454l48 9M1114 1413l48-3M1220 1346l38 47M1036 1368l49 16M1374 1437l38-5M1277 1412h0"/>
<path class="c7" d="M1114 1392l57 35M1085 1088l48 181M1326 1448l58 0M1277 1388l49-42M1220 1343l38 0M1142 1446l58-11M1277 1455l49-29M1085 1388l57-83M1152 1398l48 1M1133 1462l48-36M1210 1282l48 15M1364 1462l48 1M1094 1408l58-92M1326 1462l67 16M1287 1447l48-8"/>
<path class="c10" d="M1171 1373l58 30M1374 1412l48-13M1220 1317l48 62M1133 1389l67-18M1162 1200l58 140M1345 1394l48-28M1249 1289l57 7M1065 1414l49-51M1200 1356l49-4M1335 1324l39 48M1306 1322l58 62M1258 1340l48 22M1268 1427l48 6M1133 1385l48 20M1152 1395l68-138M1364 1285l48 18M1191 1444l48-204M1306 1366l49 19M1210 1414l58-5M1152 1443l58-13M1335 1400l39-24M1162 1431l67-2M1229 1435l48 1M1133 1419l58 6M1200 1455l49-4"/>
<path class="c3" d="M1181 1350l39-10M1200 1348l49 9M1268 1468l38-21M1326 1329l48 55M1210 1318l58-13M1075 1363l58-49M1162 1369l58-71M1191 1331l48 18M1229 1360l68 40M1249 1426l48 1M1171 1410l68-52M1142 1215l39-14M1249 1453l67-90M1277 1288l58-38M1017 1332l39-16M1326 1434l38-12"/>
<path class="c6" d="M1384 1423l48-51M1114 1433l57-16M1239 1302l58 37M1326 1455l48 5M1306 1360l49 34M1094 1392l48 29M1181 1367l48-20M1104 1376l58 20M1249 1414h0M1171 1193l49-84M1326 1151l58 102M1210 1468l48 4M1432 1418l38-33M1046 1265l39-44M1306 1332l49-9M1335 1410l49 51M1056 1411l48-11M1229 1421l39 8M1335 1363l39 41M1258 1441l48-8M1249 1421l48 6M1152 1393l68 0M1171 1403l58 1"/>
<path class="c14" d="M1200 1326l49-2M1181 1300l58-56M1181 1436l48 8M1316 1409l68-10M1171 1322h0M1249 1457l48 13M1249 1374l38-16M1181 1345l68 21M1345 1446l48 6M1007 1473l49-1M1046 1454l48-5M1104 1455h0M1403 1360l48 16M1210 1405l48-38M1027 1377l48 0M1229 1406l58 17M1162 1464l48 4M1384 1398l67-43M1191 1360l58 40M1277 1385l49 53"/>
<path class="c8" d="M1249 1425l57-6M1316 1321l68-5M1412 1400l58 24M1364 1332l58 8M1422 1333l58-102M1239 1435l48-119M1306 1360l58 10M1075 1467l48-44M1287 1339l48 16M1374 1466l48-24M1200 1370l58 36M1094 1442l48-62M1355 1369l48 63M1364 1389l58 9M1191 1444l48-50M1287 1184l48-12M1220 1449l57 14M1191 1462l48-51M1374 1465l48 4M1277 1259l39-52M1162 1135l38-144M1306 1354l39-6M1133 1438l58-5M1123 1422l58 8M1326 1417l48-9M1316 1421h0"/>
<path class="c13" d="M1133 1366l48-102M1277 1368l49 9M1181 1316l48 37M1239 1452l38-9M1229 1383l48-33M1258 1395l48 18M1152 1358l48-12M1181 1439h0M1191 1329l48 10M1258 1375l68-33M1123 1436l58-7M1210 1426l39-9M1258 1367l48-40M1085 1348l57 24M1191 1432l58 7M1007 1456l49 10M1268 1454l48 28M1316 1403l48-80M1104 1368l48-23M1114 1449l67-24"/>
<path class="c6" d="M1229 1449l48-2M1027 1415l48-16M1017 1424l48-38M1075 1432l48 5M1306 1413l58 17M1065 1381l49 32M1287 1443l58 6M1056 1472l48 5M1229 1332h0M1277 1360l49-5M1268 1327l38 43M1046 1427l58-4M1191 1361l48 37M1123 1275l48 107M1316 1212l58 78M1249 1463l48-3M1017 1450l48 5M1229 1457l68-29M1258 1190l48 103M1297 1444l58 12"/>
<path class="c3" d="M1114 1436l48 22M1374 1440l38-39M1316 1473l58 1M1114 1408l67-3M1277 1420h0M1220 1436l57 12M1297 1371l48 41M1229 1438l58 13M1162 1365l58-36M1287 1342l39-123M1162 1327l48 54M1384 1314l38 9M1229 1437l48-58M1162 1438l38-14"/>
<path class="c9" d="M1403 1265l48 147M1412 1376l49-31M1210 1393l48 11M1114 1455l67-41M1085 1424l48-5M1162 1313l38-157M1210 1439l58 26M1364 1461l39 1M1123 1302l48 51M1326 1396l58-5M1345 1317l48-118M1142 1353l39 20M1133 1396l38-56M1220 1411l67 8M1277 1420l49 39M1027 1430l48-8M1123 1473l48-6M1249 1357l48 39M1046 1375l68-13M1162 1379h0"/>
<path class="c2" d="M1210 1371l58 1M1200 1477h0M1123 1480l48-23M1268 1366l48 18M1249 1467l48-25M1142 1411l49-74M1191 1379l48-27M1200 1270h0M1162 1420l38 2M1114 1433l48-32M1306 1437l39 10M1229 1393l58-15M1181 1405l58-17M1306 1401l49-55M1114 1425l48-6M1268 1398l48 3M1085 1264l48 17M1335 1441l58-2M1007 1444l49 27M1171 1389h0M1220 1483l57-51M1306 1440l49 3M1326 1432l58 23M1345 1400l67-15M1104 1437l48-5M1181 1375l48 44M1277 1464l49-25M1075 1402l48-32"/>
<path class="c11" d="M1027 1466l67-22M1191 1394l48 26M1297 1436l48 22M1162 1270h0M1065 1453h0M1335 1437l39 2M1441 1388l49 17M1412 1442l39 16M1200 1402l49 29M1181 1285l48 60M1046 1384l58-28M1210 1442l48 10M1220 1471l48 4M1200 1254l39 125M1152 1457l68-30M1171 1392l58-15"/>
<path class="c12" d="M1104 1270l48 30M1133 1483l58-6M1316 1407l48 48M1297 1417l67 21M1239 1384l38-10M1123 1412l39-32M1268 1345l48-41M1239 1406l58-2M1142 1459l49-6M1094 1341l39-40M1181 1436l58-62M1210 1354l58 63M1239 1471l58-10M1239 1312l67 1M1384 1445h0M1133 1380l48 10M1065 1408l49-20M1181 1425l68 29M1056 1415l48-65M1133 1413l58-4M1277 1346l58 31M1027 1446l48 31M1277 1244l49-111M1210 1227l48 25M1229 1425l48-8M1075 1422h0M1393 1345l48 46M1200 1427l49-16M1422 1445l48 14M1027 1456l67-31M1200 1469l49-22M1412 1428l49 23"/>
<path class="c0" d="M1258 1458l58 7M1345 1326l48 58M1306 1475h0M1239 1426l38-14M1220 1337l48-3M1239 1303l48-6M1287 1444l48-2M1239 1387h0M1075 1476l67-27M1249 1407l57-8M1114 1200l57-91M1075 1412l48-34M1287 1356l58-20M1133 1395h0M1287 1413l39 1M1229 1453l39 33M1258 1314l48 28M1142 1442l39-9M1123 1411l48-35M1384 1385l38 7M1181 1282l48 50M1162 1454l58-10M1258 1389l48-8M1085 1261l57 82M1229 1417l48 29M1133 1391l48-22M1268 1416l48 38M1191 1278l48-83"/>
<path class="c1" d="M1249 1297l48-45M1326 1411l48-2M1114 1331l48-67M1258 1329h0M1162 1385l58 59M1316 1406l58-6M1277 1382l58 19M1249 1432l57-24M1046 1314l58-61M1316 1413l48-26M1306 1467l68-6M1181 1350l48-52M1268 1104l67-53M1191 1323l58-43M1287 1428l68 10M1335 1416l58-2M1297 1381l48 45M1171 1427l39-18M1200 1351l49 67M1210 1329l58-27M1123 1325l39-49M1239 1402l58 27M1123 1453l48-19M1133 1477l48-20M1297 1408l48-7"/>
<path class="c5" d="M1085 1405l48-46M1152 1400h0M1181 1392l68 11M1287 1421l58 20M1200 1377l49-12M1229 1425l48-33M1200 1372l49-9M1326 1372l67 22M1220 1430l57 14M1306 1371l49-85M1162 1434l48-19M1306 1407l49-18M1239 1344l48 15M1152 1346l48-90M1297 1315l58-1M1277 1399l49 16M1142 1424l68-28M1007 1426l49-7M1104 1471l58-9M1133 1456l38-7M1123 1262l68 146M1345 1381l67 3M1085 1332l48 49M1191 1400l38 10M1085 1440l48-20M1046 1383l39 9M1181 1365l58-3M1364 1289l58 123"/>
<path class="c14" d="M1162 1429l48-40M1277 1415l39 6M1017 1444l39-2M1326 1399l48 13M1200 1278l58 28M1229 1363l48-32M1239 1386l48-8M1364 1413l58-18M1200 1398l49 32M1345 1284l48-1M1297 1374l58 14M1171 1346l49-21M1114 1451l57 8M1171 1461l58-4M1200 1272l49 106M1036 1394l49-69M1191 1474l48 1M1200 1359l49 33M1171 1407l58 23M1133 1406h0M1249 1405l48 18M1277 1341l49-188M1056 1410l48 7M1171 1426l49 5M1306 1390l49 6M1258 1453l58-12M1316 1451l48 12M1065 1329l49 3M1306 1389l49 24"/>
<path class="c4" d="M1220 1196l48 5M1123 1419l39 35M1114 1439l48-40M1181 1361l68 0M1085 1423l48 1M1085 1301l48-73M1171 1476l58-28M1297 1399l48 25M1239 1342l48-32M1306 1331l58-23M1200 1364l49 44M1123 1447l58-42M1104 1418l38-18M1152 1440l48-20M1094 1400l48 6M1191 1456l67-14M1200 1443l58 24M1268 1400l48-157M1277 1388l58 83M1335 1435l49-9M1075 1288l48 74M1133 1383l48-74M1229 1286l58-107M1210 1427l48-34M1277 1447l68 2M1258 1421l48-27M1297 1394l58 7M1200 1414l58 2"/>
<path class="c10" d="M1306 1174l58-55M1191 1332l48 70M1239 1417l48-36M1181 1390l48-35M1412 1318l49 37M1171 1396l58-33M1200 1386l39-11M1384 1453l67-7M1065 1399l49 4M1268 1276l48-69M1104 1404l38 14M1306 1431l49-12M1191 1433l48 15M1249 1466l48-57M1297 1353l48 16M1104 1224l48-46M1364 1363l48 32M1123 1432l58 34M1094 1416l58 28M1104 1416l48-15M1210 1288l48 153M1239 1343l48-44M1287 1437l39-35"/>
<path class="c7" d="M1229 1382l58-12M1017 1388l48-12M1229 1429l39 41M1220 1335l57 32M1027 1443l48 11M1123 1377l48-6M1085 1459l48-19M1239 1334l48 8M1297 1322l48-53M1114 1289l48 15M1152 1463l68-5M1220 1309h0M1181 1432l48-29M1065 1344l68-39M1393 1437l68-3M1422 1390l48-28M1152 1318l39-17M1114 1465l57 3M1027 1437l48-7M1133 1440l48-29M1104 1411l48-30M1104 1430l48-65M1046 1430l58-20M1316 1401l39 13M1181 1301l58 36"/>
<path class="c2" d="M1065 1453l68-34M1258 1402h0M1287 1339l58 14M1403 1296l38-7M1355 1368l57 6M1200 1342l49 53M1171 1320l58 52M1133 1461l48 1M1306 1418l68-6M1123 1311l48 5M1036 1430l49 13M1287 1437l39 24M1162 1469l48-6M1133 1415l38-17M1133 1390l67-2M1075 1392l48 1M1403 1330l38 102M1220 1126l48 35M1133 1380h0M1142 1434l49 8M1162 1424l58-33M1056 1434h0M1258 1338l48-8M1085 1237l57 42M1191 1392l38 18M1258 1458l68-1M1364 1338l48 13"/>
<path class="c7" d="M1277 1443l49 10M1123 1329l39 71M1229 1357l48-11M1412 1383l68 4M1123 1422l58-25M1191 1297l48-32M1123 1431l48 22M1142 1445l58 8M1287 1422l68-9M1017 1434l58-10M1258 1405l39 1M1181 1448h0M1326 1432l67-7M1297 1382l67 35M1297 1357l48 23M1171 1433l49-1M1277 1259l58-98M1162 1391l58-1M1239 1415l38 17M1017 1414l68-59M1239 1350l48-46M1104 1373l48 16M1104 1363l48-33M1297 1391l58 23M1171 1421l58 13M1220 1367l48 25M1268 1477l48-6"/>
<path class="c8" d="M1220 1414l48-19M1181 1434l48 0M1268 1444l67-5M1114 1408l48-6M1345 1389l48-28M1393 1347l39 44M1162 1398l48-124M1046 1417l68 14M1345 1463l48 6M1181 1316l48-17M1239 1446l48 12M1181 1292h0M1422 1341l58-51M1046 1451l39 22M1036 1197l39-15M1181 1456l48-30M1374 1452l38-3M1306 1430l39-8M1287 1348l48 96M1133 1440l67-51"/>
<path class="c13" d="M1220 1369l57 4M1403 1410l48 5M1171 1465l58-20M1258 1449l58 0M1171 1356l58-12M1152 1385l48 46M1268 1435l38 16M1345 1428h0M1123 1331l48-132M1123 1336l39 27M1181 1162l58 195M1316 1380l48 27M1229 1392l58 31M1152 1466l48 2M1277 1427l49 9M1171 1372l49 23M1210 1428l67-19M1239 1296l48 81M1162 1459l38-85M1345 1466l48-9M1142 1300l39-65M1210 1417l48 13M1374 1380l58 20M1412 1392l49-24M1027 1375l48-8M1085 1420l48-25M1239 1402l38 15M1220 1368l57-5M1249 1399l48 40"/>
<path class="c6" d="M1316 1425l58 16M1200 1465l68-28M1036 1198l49 186M1123 1379l48 28M1171 1396l49-1M1422 1294l48-83M1355 1456l48 3M1277 1362l39 25M1133 1440l58-18M1258 1177l39 38M1345 1462l48-6M1287 1441l58-9M1191 959l67 144M1268 1323l48-33M1181 1462l39-13M1249 1352l57 42M1065 1432l68-34M1133 1409l38-3"/>
<path class="c14" d="M1239 1409l38-31M1384 1450l67 14M1249 1418l48-14M1220 1329l48 119M1094 1413l58-42M1287 1308l48 39M1335 1405l49-183M1027 1341l48-60M1403 1328l48 99M1229 1393l48 21M1065 1401l39 34M1268 1440l48 22M1239 1439l67-3M1239 1445h0M1123 1370l68-10M1326 1412l48-3M1297 1365l58-17M1345 1374l48 11M1287 1411l48-14M1268 1404l67 7M1046 1464l48-14M1432 1441l58 5M1249 1453l57-11M1326 1472l58-15"/>
<path class="c11" d="M1229 1374l58 19M1268 1323l38-6M1316 1332l39-76M1326 1411l48 25M1345 1431l39-6M1007 1358l49 33M1162 1418l48-3M1374 1364l48 26M1133 1379l38-164M1191 1397l48-55M1027 1418l58 15M1152 1318l58-14M1287 1439l48 1M1403 1432l48-11M1258 1478l48-13M1287 1378l39 11M1162 1351l58 9M1326 1417l38-3M1287 1363l48 23M1171 1417l58-16M1085 1431l57 8M1123 1261l58 9M1114 1297l38-33M1412 1374l49 65M1277 1305l68 19M1181 1403l68 39M1297 1426l38 19M1335 1451l58-5M1133 1426l48-21"/>
<path class="c10" d="M1152 1467l68-60M1229 1405l48 21M1220 1399l67-22M1162 1367l48 2M1200 1412l49-22M1142 1451l49-4M1114 1290l57-67M1171 1380l49-7M1258 1408l58 1M1432 1388l48-18M1384 1440l48 0M1306 1357l49 49M1384 1438l48-9M1171 1396l49-4M1017 1450l58-11M1277 1456l68 10M1220 1398l48-28M1133 1410l48-45M1364 1374l48-5M1326 1297l48 44M1200 1409l58-3M1210 1389l48-4M1220 1378h0M1374 1473l48-4M1104 1474l58-81M1249 1428l38 20"/>
<path class="c1" d="M1239 1306l67 70M1441 1377l49-23M1200 1420l49-1M1114 1459l38-6M1123 1363l48-15M1123 1428l58-4M1007 1447l49 8M1200 1391l49 19M1374 1374h0M1239 1399l48 26M1297 1217l48 76M1335 1480l49-16M1036 1289l49-20M1171 1427l39-70M1229 1340l48 25M1422 1438l48 1"/>
<path class="c3" d="M1085 1443h0M1181 1417l48 9M1142 1404l39-12M1306 1426l39 18M1056 1412l58-9M1123 1378l48-17M1229 1382l48 55M1104 1444l48-28M1123 1269l58 137M1094 1384l48-51M1171 1377l49-26M1268 1291l48 90M1229 1433l68-3M1220 1414l48-32M1210 1419l39 14M1220 1331l48-17M1210 1442l48-12M1229 1428l48-18M1036 1427l58 28M1249 1329l48-35M1171 1356l49 3M1210 1452l48 1"/>
<path class="c12" d="M1152 1432l39-47M1191 1310l38 8M1171 1344l49 26M1133 1446l67-8M1191 1428l67-81M1123 1415l68-21M1152 1380l48-30M1258 1418l48 2M1220 1445l48 10M1152 1448l58-12M1142 1307l39 83M1075 1435l48 17M1114 1458l57-6M1229 1413h0M1114 1346l48 30"/>
<path class="c0" d="M1258 1448l39 2M1162 1392h0M1249 1330l38 69M1162 1406l58-30M1297 1373h0M1065 1455l49-21M1220 1426l67-22M1335 1439l49-3M1142 1367l39-13M1171 1314l49-30M1229 1344l58 27M1345 1384l48 29M1239 1418l48 13M1152 1292l48 83M1287 1385l58 20M1268 1444l67-4M1258 1392l39-23M1094 1302l48-135M1075 1421l48-27M1403 1359l48 35M1114 1429l48-3M1191 1448l48 3M1162 1341l58-10M1152 1432l39-36M1210 1341l39 8M1316 1406l48 3M1094 1462l48-34M1181 1422l58-22M1287 1350l48 9M1229 1434l48 30M1191 1476l38-10"/>
<path class="c5" d="M1056 1393l58-15M1162 1349l38-3M1345 1414l67 37M1171 1417h0M1422 1478l58 0M1239 1328l38-51M1326 1426l48-42M1220 1411l57-19M1142 1367l49 44M1306 1478l49-39M1056 1043h0M1326 1430l67 30M1249 1432l48 15M1316 1414h0M1364 1151l48 171M1355 1412l67 22M1249 1389l48 20M1220 1352l48 19M1345 1470l67 1M1171 1402l49 9M1316 1430l68-132M1200 1294l58-12M1393 1434l48 5"/>
<path class="c9" d="M1114 1331l48 28M1027 1354l48-19M1056 1391l48-25M1220 1297l48 8M1355 1463l57 5M1384 1337l38-31M1007 1490l58-20M1123 1440l48 10M1123 1335l48-13M1335 1396l58 17M1268 1451h0M1326 1447l58 10M1432 1409l58 14M1384 1470l57-1M1181 1406l58-6M1403 1396l38-20M1316 1418l48 14M1364 1345l48-4M1239 1428l48-10M1355 1351l48-42M1220 1260l48 17M1056 1381l58 33M1297 1267l58 69M1393 1360h0M1239 1311l58 12M1220 1435l48-36M1268 1462l48-6"/>
<path class="c4" d="M1162 1466l38-14M1277 1303l49-11M1239 1457l67-6M1191 1256l58-44M1306 1360l58-90M1200 1382l68-5M1403 1458l48 11M1384 1239h0M1277 1427l49 13M1258 1334l68 25M1258 1390h0M1403 1397l48 40M1268 1345l48-14M1191 1417l48 6M1162 1339l67 8M1287 1427l48-7M1094 1336l48 3M1085 1430l38 12M1181 1430l48-49M1065 1409l49-3M1065 1388l49-28M1364 1369l58-9M1364 1459l48 8M1017 1452l48 26M1239 1408h0M1345 1332l58-91M1268 1370l48-20M1200 1313l58 98"/>
<path class="c3" d="M511 2190l58 48M347 2116h0M463 1952l48 48M453 2184l39 38M443 2175l39 26M627 2302l48 13M646 2245l48 54M511 2181h0M414 2142l39 24M356 2170l49 48M376 2183l48 9M511 2196l67 19M356 2084l58-1M356 2135l49 27M549 2244l49 10M434 2256l48 16M492 2089l48 143M559 2238l58 26M472 2185l49 31M453 2237l48 10M395 2269l58 14M405 2248l58 41M347 2231l48 4M521 2256l48 3"/>
<path class="c5" d="M627 2237h0M347 2141l58-1M607 2228l58 29M434 2082l48 175M482 2127l58 62M395 2131l48 76M318 2149l38 10M472 2117l58 47M318 2221l48 44M646 2297l58 11M588 2148l48 23M327 2085l58 62M405 1947l48-47M511 2292l48 24M530 2193l48 4M260 2241l48 8M385 2151l68 38M347 2189l48-14M327 2229h0M318 2228l58 19M279 2228l58-34M366 2187l39-69M241 2032l58 50M337 2237l48-61M463 2263l48-54M443 2286l58 3M424 2202l58 24M318 2137l48-20"/>
<path class="c13" d="M405 2228l48 35M270 2090l48 28M327 2192l68 4M434 2222l48 31M434 2090l48 55M492 2156l48 28M530 2226l48 21M636 2299l58 1M578 2254l49 9M318 2084l58 25M443 2279l49-62M299 2261l67-14M492 2271h0M492 2210l48 27M366 2213l58 20M241 2248l38 6M376 2261l67-20M405 2207l58 31M347 2172l48-37M540 2200l58 52M492 2273l67 12M646 2224l39-21M540 2246l48 6M443 2217l39-12M231 2136l58-64M385 2283l68-9M482 2252l48 20M443 2203l49-8"/>
<path class="c6" d="M356 2148l49 2M250 2145l68 59M327 2221l49-99M453 2203h0M463 2167l48 75M250 2222l68 0M270 2243h0M627 2255l67 29M482 2212l48-4M578 2262l39-4M347 2120l67 63M521 2208l57 14M347 2219l67-51M337 2158l48-6M385 2232l49-23M299 2162l48 76M318 2209l48 13M521 2246l67 23M482 2216l67 49M521 2200l48 8M241 2058l38 86M463 2151l48 80M463 2288l48 27M318 2108l48 48M617 2189l48 72"/>
<path class="c2" d="M501 2210l48-34M260 2248l48 25M501 2226l48 8M241 2229l38 8M569 2213l58 12M617 2293l48-12M472 2260l58 25M511 2261l58 0M578 2194l39 58M472 2256h0M492 2142l48 73M327 2179l49 20M511 2158l48 46M521 2201l48 49M453 2253l48 20M588 2277l48 9M424 2174l58-2M347 2091l48-90M424 2161l48 57M501 2243l68 42M501 2240l48 20M617 2283l48-4M434 2258l48-67M463 2254l58 26M588 2183l48-1M395 2203l48-48M424 2179l58 18M578 2298l49-63"/>
<path class="c9" d="M376 2163l67 40M501 2242l48-1M492 2238l48-49M395 2009l39 213M366 2228l48-45M308 2134l48-69M559 2254l58 23M463 2220l67 15M627 2288l58 9M434 2085l38 56M463 2170l58 24M395 2180l48 53M617 2283l58 0M347 2232l48-49M299 2067l48 30M463 2232l48-1M405 2114l48-265M443 2185l49 42M376 2175l48 56M327 2187l49-13M318 2194l58 1M482 2143l48-30M472 2251l49-16M405 2177l48 23M366 2130l58 30"/>
<path class="c1" d="M598 2268l48 9M289 2229l48 10M385 2254l49 6M395 2195l48 21M636 2258l68 4M453 2153l48 14M327 2277l49 8M472 2056l49 110M443 2197l58 55M521 2205l48-106M501 2271h0M318 2057l38 11M318 2174l58 9M347 2211l67 43M453 2232l48 24M530 2176l48 29M424 2176l39 26M511 2261l48 13M279 2102l58 90M308 1966l39 126"/>
<path class="c14" d="M521 2315l48-11M511 2261l48 28M366 2243l48-9M530 2287l58-5M434 2252l38 9M530 2206l58 30M646 2278l48 11M530 2240l58 3M511 2230l67 21M511 2218l48-49M578 2238l58 58M366 2188l68 34M347 2227l48 43M366 2048l58 89M453 2253l48 0M549 2238l58 22M501 2207l48-3M501 2177l48-19M405 2134l48 42M540 2204l58 47M511 2045l38 9M405 2229l48-16M482 2213l39 38M511 2199l67-12"/>
<path class="c10" d="M521 2187l48 20M501 2254l48 26M540 2252l48-123M318 2209l48 23M405 2146l38 25M434 2160l58-10M443 2133l49 42M501 2282l68 12M646 2265l48 8M453 2205l48 30M578 2018h0M521 2229l48 33M607 2246l49 15M279 2152l48 3M492 2213l48 20M385 2153l39 23M434 2123l48 58M607 2267l68 39M463 2264l38 7M521 2270l48 15"/>
<path class="c0" d="M434 2261l58-5M405 2229l58-7M366 2092l68 68M289 2173l58-14M511 2187l38 62M656 2282l48 2M376 2017l48 194M405 2148l48 22M521 2190l48 68M395 2229l58 21M260 2196l58-36M492 2228l48 18M434 2211l48 38M405 2022l48 120M453 2172l48 56M289 2207l48 29M617 2244l48 24M482 2275l58 26M414 2159h0M511 2228l48 20M443 2283l39 11M559 2164l68 33M646 2287l58 19M405 2185l58 43M414 2245l58 14M443 2186l49 27M569 2261l48-17M327 2192l49 25"/>
<path class="c7" d="M511 2232l38-73M549 2275l49 5M385 2026l49 136M559 2305h0M241 2108l67 5M627 2268l48 18M453 2246h0M578 2224l68 16M318 2269l67 9M482 2140l39 48M395 2084l48 136M501 2026l58 70M540 2306h0M270 2229l48 1M443 2170l68 54M405 2261l58 29M356 2127l49 25M356 2284l49-37M414 2140l58 23M559 2254l48-9M511 2250l38 1M453 2211l48 24M414 2147l58 69M434 2135l38-78M424 2288l58 6M492 2208l57 24"/>
<path class="c12" d="M434 2190l48 12M376 2099h0M627 2231l48 27M414 2172l49 55M366 2218l58 56M434 2037l58 127M424 2236l48 13M482 2233l48 42M492 2242l67 31M453 2004l68 302M318 2196l48 6M453 2209l48 57M607 2251l39 13M424 2297l48-13M443 2039l49 180M366 2062l58 128M492 2164l48-13M463 2218l58 52M521 2265l57 23M385 2154l58 72M453 2162l68 35"/>
<path class="c4" d="M463 2300l38 1M318 2206l48-28M327 2233l39 2M270 2082l48 14M578 2192l49 68M463 2153l58 35M424 2231l58 28M260 2206h0M366 2145l48-55M250 2184l58-12M347 2221l48-14M617 2274l58-7M289 2217l48-1M395 2122l68 73M501 2236l48 42M453 2170l48 36M405 2215l48 29M347 2147l58 63M492 2215l48 50M424 2241l39 7M337 2178l48-5M434 2179l48 34M414 2110l39 22"/>
<path class="c11" d="M250 2205l49-28M318 2135l58 8M646 2262l58 10M665 2180l49 95M521 2235l48-22M472 2276l39 15M463 2161l48 23M501 2231l48 31M356 2212l49-127M241 2175l48-1M337 2168l48 80M540 2033l48 101M569 2167l58 21M569 2299l48 7M559 2177l58-8M521 2234l48-22M598 2279l48 19M414 2243l58-1M463 2224l58 23M617 2293l39-7M395 2177l48 13M559 2291l48 3"/>
<path class="c8" d="M463 2250h0M588 2224l48 24M453 2259l48 30M578 2240l49 25M385 2123l49 45M530 2210l48 59M279 2024l68 47M511 2156l58-4M405 2209l48 46M511 2174l48 44M385 2105l49-22M559 2246l58 21M482 2255l58 8M434 2165l48-1M627 2290l58 25M434 2169l48 46M231 2144l48 16M472 2279l49 12M395 2258l48-3M414 2108l58 76M414 2191l58 37"/>
<path class="c3" d="M443 2198l49 1M376 2195l48-73M443 2195h0M453 2193l68 50M627 2297l38 4M511 2173l67 6M308 2074l58-1M395 2163l48-58M443 2151l39 23M414 2224l49 16M521 1946l67 255M511 2232l48-10M443 2089l49 36M492 2197l48 13M289 2226l58 14M443 2178l49 62M414 2223l49 21M656 2272l48-15M472 2236l49 19M501 2141l48 26M472 2208l58 53M414 2047l58 61M549 2280l58 21M453 2263l48-5"/>
<path class="c14" d="M405 2194l48 33M424 2181l68 20M463 2162l48 49M540 2250l48 39M549 2234l49 21M376 2237l38 20M376 2210l38 27M578 2221l49 40M376 2174l58-73M472 2168l49 10M578 2113l49 104M463 2251l48 39M646 2291l48 18M366 2199l39-1M492 2211l38 3"/>
<path class="c7" d="M385 2164l49 14M521 2115l38 29M434 2279l48 27M405 2224l48-6M395 2225l39 7M549 2267l58 16M270 2182l38 20M549 2210h0M356 2188l49-52M385 2212l49 24M376 2232h0M299 2166l57-49M395 2180l58 11M646 2267h0M356 2175l49 39M405 2202l48 25M337 2127l48-81M540 2269l58 25M318 2291l58-34M472 2154l58 26M405 2188l58 68"/>
<path class="c8" d="M241 2215h0M327 2036l49 25M559 2255l48 46M308 2204l48-10M395 2242l68 2M511 2237l48 15M366 2236l58 52M405 2196l48-45M366 2231l58 13M385 2185h0M405 2257l58 21M521 2234h0M424 2196l58 37M482 2212l48-1M472 2162l58 34M395 2155h0M241 2197l58 25M627 2291l67 13M627 2276l48-3M588 2266l48-25M385 2198l49 6M646 2285l58 4M405 2034l48 46M337 1994l48 114M540 2242l48-11M530 2258l48 11M549 2298l49 6M347 2207l58-13M356 2167l49-7M646 2282l48 25"/>
<path class="c1" d="M521 2254l48 50M521 2278l48 17M588 2105l48 102M327 2162l39-46M405 1967l38 203M530 2212l48-1M511 2173l38 24M540 2250l48-6M385 2146l49 58M617 2314l39-7M299 2186l48 7M569 2222l58 25M308 2206l48-22M395 2199l58-10M395 2059l68 6M549 2232l49 32M347 2244l58 2M646 2271l48 20M501 2262l39 17M588 2208l48 42M598 2298l48-3M424 1941l48 281M250 2198l58 49M308 2251l39 22M549 2108l49 84"/>
<path class="c9" d="M424 2142l68 40M279 2200l58 41M463 2159l48 89M366 2164l58-91M385 2268l58 4M501 2231l48 11M588 2258l68 29M540 2187l58-94M308 2096l48 59M472 2079l49 116M385 2166l39 35M627 2265l58 13M366 2283l48-6M434 2130l67 21M521 2258l57 5M434 2160l48 51M347 2059l48-34M578 2238l58 18M270 2272l48 3M385 2211l49-23M279 2230l48-5M578 2197l49 48M385 2178l49 20M405 2174l48 4M578 2255h0M492 2267l57 20"/>
<path class="c12" d="M443 2230l58 47M395 2050l58 33M405 2171l48 90M540 2235l48-3M463 2206l48 17M279 2166l39-73M376 2144l67 46M453 2239l58 25M308 2180l48-120M598 2261l48 7M443 2233l39 3M327 2154l58-16M549 2219l49 9M327 2123l68 51M318 2194l48-73M521 2168l48 70M405 2156l48-33M530 2220l48 72M376 2219l38 15M395 2131l58 72M395 2246l39-4M453 2253l58 20M559 2076l48 135M569 2230l48 26M443 2101l68 33M289 2153l58 30M617 2253l58 11M521 2237l57 16"/>
<path class="c0" d="M414 2225l49 0M511 2057l48 67M356 2114l68 47M424 2148l58 53M492 2213l48 13M665 2271l49 4M463 2203l67 55M511 2275l48 21M463 2285h0M540 2213l48 56M405 2184l48 9M549 2284l49 4M385 2210l49 7M337 2211l48 12M511 2284l48 17M337 2162l48 12M501 2229l48 4M492 2169l48 26M376 2011l48 74M424 2119h0M463 2041l67 154M414 2090l49 22M617 2254l39 11M501 2270l48-6M530 2122l68 61M501 2172l68-176M492 2086l67 14M511 2043l38 212M434 2196l38-129M376 2254l38-37"/>
<path class="c5" d="M443 2138l49 54M318 2029l58 22M463 2147l38-11M501 2259l58 13M540 2261l38-101M530 2184l48 41M540 2268l48 24M327 2195l49 17M492 2269l48 15M569 2167l38 33M492 2228l48-21M385 2222l39-94M434 1936l48 210M636 2284l49 7"/>
<path class="c4" d="M501 2221l48 25M501 2266l39 18M569 2199l58 52M385 2204l39 7M521 2280l38 1M424 2207l48-110M540 2174l48 4M482 2212l39 42M250 2094l58 106M270 2274l48-44M405 2195l38 28M414 2072l49 9M405 2086l48 101M549 2061l58 144M414 2112l58 59M347 2097l58 55M588 2233l68 9M395 2192l39 23M395 2260l48 5M472 2174l49 78M250 1986l49 171M549 2221l39 10M327 2208l39 10M463 2230h0M511 2189l48 15M376 2025h0"/>
<path class="c13" d="M318 2234l48-259M617 2285l39-21M241 2235l58-33M337 2222l58-12M289 2043l48 36M405 2241l48 7M549 2194l49 96M453 2243l48-43M588 2203h0M627 2236l48 21M540 2148l48-173M530 2261l48-26M337 2225l58 47M492 2176l38 16M665 2297l39 0M289 2213l48-24M414 2181l58 44M327 2187l49 13M549 2256l49 11M366 2234l68-10M521 2276l38 8M453 2247l58 4M318 2227l48 13M424 2150l48 43"/>
<path class="c10" d="M443 2273l49 14M279 2150l48 33M443 2161l58 30M472 2209l58 48M511 2282l58 4M279 2172l58 55M385 2240l58 36M299 2138l48 92M395 2206l48 5M463 2257l48-44M414 2185l49 50M270 2225l48 65M347 2144l58 48M385 2237l68 18M424 2214l48 52M376 2177l48 33M559 2272l68 20M241 2204l38 23M617 2266l58 13M492 2142l48 84M385 2272l49-39M549 2174l49 23M366 2234l58 10M627 2147l48 92M434 2224l48 3M424 2261l68 15"/>
<path class="c11" d="M443 1997l49 155M463 2138l67-42M492 2269l67 33M434 2019l48 27M607 2266h0M511 2266l58 32M279 2141h0M472 2192l68 74M472 2122l49 95M646 2255l58 19M327 2130l49-15M385 2197l58 10M279 2204l48-36M530 2203l48 16M463 2214l48-17M434 2187l48 27M492 2167l57 22M443 2240l58 28M327 2175l49 14M463 2224l48 73M646 2309l48 2M617 2242l58 22M501 2209h0M540 2277l48 27"/>
<path class="c6" d="M463 2242l48 20M347 2200l58 2M327 2144h0M434 2225l48 18M443 2082l49 70M250 2183l49 58M627 2231l48 11M463 2107l48 51M327 2195l49 15M530 2291l48-2M521 2264l48-10M270 2231l48 39M492 2261l48-1M356 2029l49 122M434 2024l58 150M627 2195l48 0M327 2086l49-7M569 2209l58 29M540 2174l58 49M308 2261l68 0M395 2260l58-9M559 2273l48 16M472 2215l68 12M405 2259l38 12M337 2225l48-29M598 2019l58 52M318 2151l48 9M482 2252l48 13"/>
<path class="c2" d="M414 2149l58 71M501 2224l39 11M395 2074l48 59M414 2083l58 119M299 2247l48 2M434 2083l38 90M511 2107l48 161M366 2083l48 56M289 2050l48 18M318 2190h0M337 2163l48 1M414 2142l58 63M463 2259l58 19M327 2204h0M337 2160l48 19M549 2153h0M434 2171l58 28M308 2161l48-54M318 2163h0M395 2205l58 29M424 2180l58 32M414 2130l39 20"/>
<path class="c7" d="M395 2238l48-13M472 2262l68 27M492 2225l48-111M395 2214l58 31M414 2183l49 42M347 2157l38 3M318 2180l67-181M299 2217l48-33M482 2259l58 21M588 2248l48 11M250 2099l49 27M424 2113l48 113M424 2269l58 9M472 2255l39 7M492 2236l67 23M463 2161l48 75M617 2295l68 21M549 2241l68 18M443 2221l49-49M356 2237l49-12M443 2269l58 3M472 2162l49 24"/>
<path class="c13" d="M482 2194l48 63M540 2277l38-35M636 2257l68 25M395 2166l58 23M318 2252l48-18M463 2265l48 3M569 2196l38 51M588 2218h0M540 1934l67 134M347 1975l48 88M472 2220l58 68M385 2261l49 9M395 2097l58 65M482 2175l58 24M327 2233l39 5M540 2180l48 57M636 2188h0M627 2209l48 30M327 2204l49 0"/>
<path class="c12" d="M366 2206l48-12M530 2226l58 36M385 2132l68 65M540 2274h0M376 2278l48 8M366 2134l48 18M385 2148l49 76M501 2100l48 26M540 2233l38 19M270 2255l57-6M250 2253l49-15M443 1950l49 250M270 2243l38 11M376 2190l38 15M376 2154l58 15M434 2234l58 31M453 2205l39 42M356 2238h0M617 2293l39 10M366 2067l58 44M607 2225l49 29M627 2267l58-7M376 2230l58 29M463 2157l48 71M337 2247l48 2M530 2266l39-14M366 2009l48 148M665 2254l49 25M472 2211h0M559 2282l48-36"/>
<path class="c8" d="M453 2154l58 47M578 2291l49 6M299 2217l48 26M347 2253l48 19M299 2160l38-57M559 2288l58 16M559 2232l48 7M443 2234l49-1M405 2216l48 15M414 2147l58 52M521 2211l67-114M347 2216l48 1M549 2222l68 26M472 2171l49-2M414 2224l49 38M511 2205l67 25M463 2154l48 42M540 2274l48-6M318 2154l38 5M405 2192l58 18M636 2268l49 9M231 2222l48-15M521 2240l57-17M424 2163l58 52M443 2254l49-9M318 2110l48 127M327 2273l39-56"/>
<path class="c2" d="M569 2240l48 14M617 2270l48 19M318 2228h0M482 2195l48 49M492 2195l57 76M521 2120l48 128M501 2191l48 43M385 2259l49 1M414 2240l58 18M530 2232l39 22M472 2219h0M578 2268l49 28M646 2235l39 33M472 2219l58 8M530 2217l39 40M463 2137l48 57M356 2144l49 24M501 2243l58 13M414 2217l39-41M530 2252l39 0M588 2237l58 13M588 2279l48 11M424 2239l48 17M376 2282l48-20M511 2284l67 4M482 2246l48-21"/>
<path class="c10" d="M492 2243l57 14M521 2253l48 6M501 2277l48 2M492 2204l48 18M231 2192l58 0M492 2259l48 2M598 2295h0M327 2166l49-15M549 2231l49-9M337 2192l48 9M540 2124l48 83M260 2031l58 212M549 2237l58 29M405 2240l48 29M347 2264h0M549 2214l58 28M530 2291l48 0M385 2192l49 31M578 2283l58 13M463 2210l48 17M241 2241l58 15"/>
<path class="c1" d="M279 2163l58 65M347 2191l58 15M337 2188l48 10M376 2182l48-34M511 2045l48 200M434 2129l48 15M385 2162l68 58M453 2096l39-55M366 2100l48 56M443 2225l58-40M569 2257l48 11M279 2196h0M308 2249l48 50M492 2249l57 9M395 2200l58-19M434 2171l48 80M607 2279l58 0M482 2159l58 59M366 2205h0M482 2150l48-63M656 2270l48 25M356 2135l49 31M482 2242l48 8M434 2138l48 22M347 2125l58 6M308 2079l39 165M260 2278l48 10M395 2056l48 51"/>
<path class="c0" d="M356 2165l49 17M559 2230l58 57M270 2096l38-126M385 2264l58-29M492 2145l38 52M289 1942l48-24M559 2241l48 20M434 2182l48 9M434 2268l58 20M395 2228l48 10M472 2189l49 53M347 2146l48 21M250 2160l58-92M356 2182l49 27M588 2226l48 32M463 2265l58 8M656 2273l48 13M376 2072l48 66M299 2159l48 55M492 2027l48 147M385 2126l49 43M231 2263l48-19M260 2103l39 96M356 2235l49 7M598 2236l48 33M308 2083l48 45M299 1999l57 127"/>
<path class="c6" d="M308 2158l58 87M482 2191l48-15M356 2203l49 6M598 2167l38-5M231 2213l48 10M424 2189l48-42M424 2232l58 14M463 2272l48-29M376 2229l48-8M347 2049l38 10M472 2301l49-5M521 2247l38-24M549 2276l49 9M492 2277l48 16M356 2228l49 32M289 2241l58 10M347 2260l58 29M318 2245l58 7M405 2209l58-12M569 2203l48 36M434 2252l48 13M463 2159l48 17M337 2210l39-3M549 2139h0M443 2157l49-147M521 2213l38-24M250 2012l58 31M463 2270l67 1M588 2246l58 22M366 2178l48-1M414 2246l49 18"/>
<path class="c14" d="M434 2231l48 23M356 2182h0M463 2183l67 26M327 2144l39 36M356 2243l58-29M463 2198l48 43M366 2176l39 52M472 2216l58 32M482 2261l48-5M434 2230l38 11M453 2265l39 20M318 2153l48 11M521 2191l67 64M289 2104l48 44M492 2265l38 5M463 2214l38 28M656 2271l48 32"/>
<path class="c3" d="M443 2063l49 82M463 2227l48-13M405 2303l48 3M463 2237h0M549 2169l58 34M434 2115l48 81M424 2242l48 22M347 2112l38-43M434 2147l67 69M376 2213h0M356 2269l49-60M521 2242l48 4M424 2131l58 61M492 2195l48 28M463 2094l48 156M241 2172l48-10M395 2060l48 158M414 2240l49 6"/>
<path class="c5" d="M356 2164l39-45M356 2285l58 14M327 2082l68 53M472 2129l58 51M501 2208l58 62M434 2042l48 158M327 2193l49 21M385 2130l58 30M443 2209l49 10M463 2224l67 33M327 2151l49 25M260 2133l48 62M636 2232l49-14M578 2292l49-103M627 2258l48 4M588 2066l48 200M453 2245h0M521 2260l67 42M443 2191l49 0M540 2203l38 29"/>
<path class="c9" d="M665 2263l39-31M337 2121l48 63M241 2201l58-4M540 2312l48-15M424 2204l48 10M318 2064l38 102M598 2294l48 8M472 2258l39 34M414 2209l39 37M530 2176h0M395 2163l48-6M356 2217l49-7M318 2234l48-27M347 2012l48-3M501 2197l48 33M559 2214l58 10M414 2202l49-62M327 2175l68-52M405 2249l58 32M569 2270l38-5M356 2192l49 26M414 2168l49 17M424 2152l68 27"/>
<path class="c11" d="M453 2265l58-41M521 2249l57 24M366 2236l58-278M482 2142l58 101M617 2291l48-56M521 2247l48-36M511 2213l48 15M405 2164l58 35M617 2260l58 11M395 2226l58 32M434 2254l38-14M492 2247l57 30M366 2143l48 29M598 1977l48 256M511 2245l48 28M521 2270l48-1M231 2157l68 67M385 2119l58 50M414 2244l58-49M636 2215l68 70M289 2242l48-17M463 2200l48 12M521 2265h0M482 2209l48 86M299 2168h0M492 2213l48 6M260 2231l48-13M424 2228l48 24M395 2158l48 38M472 2208h0M424 2233l48 18M482 2186l67 68M385 2160h0M559 2267l39 18"/>
<path class="c4" d="M559 2216l58 15M327 2214l49 5M356 2277l39-8M617 2257l58 10M337 2175l48-37M424 2120l48 48M434 2261l67 21M443 2167l49 23M327 2243l49-2M241 2281l48 7M463 2235l58 21M443 2202l49 49M376 2145l48 26M617 2280l58 4M607 2260l39 31M395 2237l48 25M569 2212l67-11M482 2190l48 20M482 2215h0M231 2200l58 44"/>
<path class="c8" d="M424 2273l39 7M366 2217l48 64M376 2003l48 196M598 2248l48-9M395 2203l48 32M453 2143l48 26M356 2245l49 6M501 2238l68 34M443 2194l49 3M598 2183l67 76M270 2148l48-41M241 2185l48 25M231 2259l58 7M289 2244l58-42M356 2208l49-20M472 2226l39 31M443 2187l39 38M366 2237l48-37M598 2237l67 11M385 2153l49 30M453 2221l48 27M395 2151l48 38M347 2219l58-68M308 2225l48 18M463 2213l58 27M443 2233l49 3"/>
<path class="c3" d="M540 2226l48 22M530 2198h0M443 2065l39 62M385 2154l58 104M414 2217l49 32M559 2310l48-5M511 2254l58 1M395 2185l58 65M385 2217l49 24M607 2212l39 38M453 2256l48 30M607 2243l49 18M318 2252l58-30M559 2288l48 1M356 2224l58 25M443 2184h0M482 2109l48 120M318 2114l48-11M318 2266l48-6M414 2216l39 14M511 2178l48 34M356 2119l58 26M366 2180l58 51M347 2246l58 31"/>
<path class="c13" d="M395 2029l68 90M308 2235l58-8M405 2233l38 23M492 2229l48 34M530 2093l48 72M279 2155l48 9M299 2102l48 46M356 2314l49-40M270 1962h0M395 2188l39-3M501 2277l68 14M337 2040l39-4M453 2218l48 28M492 2252l67-27M482 2265l48 33M327 2219l58-6M327 2120l49 65M511 2197l38-24M501 2195l48 49M559 2232l58 23M598 2302h0M472 2182l68 62"/>
<path class="c0" d="M627 2294l48 6M434 2264l48 41M578 2309l39-7M395 2190l48 47M289 2253l38-87M521 2231l48-3M453 2192l39 35M472 2227l49 13M511 2114l58 68M366 1981l39 59M511 2229l48-3M270 2111l48 84M434 2282l48-6M569 2212l58 29M289 2256l48 29M385 2199l49-15M578 2225l49 14M511 2162l58 45M434 2072l48 74M521 2265l57 16M424 2050l68-165M578 2260l68 29M598 2259l48 21M521 2221h0M327 2184l58 30M559 2278l68 8M492 2260l48 12M443 2228l39-58M327 2165l49 77M260 2188l58-2M443 2216l49 16M463 2112l48 13"/>
<path class="c7" d="M356 2151l49 4M588 2178l58 55M299 2204l67 44M559 2228l58 50M549 2281h0M434 2110l48 19M607 2294l49-3M453 2129l48 79M578 2144l49 81M549 2146l49 78M463 2139l58 37M337 2138l58-190M414 2222l58 54M385 2181l68-9M434 2233h0M405 2249l58 10M308 2240l48-21M453 2154l58 19M521 2286l57 7M559 2245l48 23M472 2043l49 13M559 2125l68 149M405 2113h0M337 2201l48 11M356 2019l58 65M501 2291l48 13M279 2118l48 54M472 2300l49-1M434 2224l48-2M405 2261l48 7M385 2135l49 63"/>
<path class="c4" d="M598 2182l48 26M270 2141l48 20M434 2093l48-78M405 2151l67 70M453 2188l58 16M482 2262l67 40M308 2276l48 2M376 2182l48-11M549 2288l58 9M347 2150l67 25M521 2229l48 37M521 2245l48 41M414 2247l49-21M424 2242l58 18M472 2203l39 31M492 2184l48-10M501 2039l58 242M424 2171l48 70M356 2148l39-54M559 2236l39-8M385 2116l49-46M482 2191l48 63M521 2249l48 14M289 2218l38 4M521 2295l57 4M337 2228l48 7M260 2170l48 14M617 2235l48 21M443 2195l58-204M318 2064l48-24M337 2085l48 66M405 2165l48 54M501 2212l39 24M501 2179l58-5"/>
<path class="c14" d="M472 2258l49-1M588 2271l58 12M472 2268l58 6M385 2124h0M405 2164l48 8M260 2185l39 52M385 2265l49 27M627 2262l67 31M482 2069l58 102M511 2176l48 63M492 2229l67 55M588 2210l48-1M405 2255l67 21M405 2162l48 43M501 2132h0M569 2263l48-7M327 2179h0M530 2228l48 12M492 2234l57 26M540 2252l48 9M376 2146l67 22M492 2210l48 6M299 2129l57-29M511 2201l58-2M569 2205h0M636 2280l49 18M656 2228l48-4"/>
<path class="c9" d="M472 2220l68 24M376 2170l48-34M559 2222l68 55M385 2125l49 17M376 2270l48-10M376 2169l58 49M463 2284l38 12M434 1851l48 337M299 2250l48 12M443 2177l49 10M347 2231l38 3M636 2120l39 77M492 2214l57 29M327 2246l39 2M405 2198l48 43M463 2214l48 39M299 2240l38 0M569 2292l48 17"/>
<path class="c10" d="M366 2260l68-9M569 2239l38 11M453 2163l58 36M385 2163l49 24M424 2262l68-12M376 2128l67 28M395 2257l68 2M405 2241l67 8M463 2176l48 37M530 2158l48 51M395 2133l39-8M356 2058l49 22M366 2234l48-7M250 2292l49 14M337 2001l39 4M559 2195l48-1"/>
<path class="c12" d="M434 2216l38 38M327 2167l49-1M588 2216l58 62M260 2210l48 27M492 2199l48 9M385 2231l58 36M472 2215l49 43M434 2245l58 20M395 2193l39 9M376 2133l38 24M598 2275l67 18M559 2263l48 36M308 2180l48-10M646 2303l39 4M337 2223l68 27M521 2014l38 124M549 2149l49 27M453 2226l39 2M443 2188l49 14M578 2238l49 35M472 2151l39 5M578 2269l39 15M347 2161l58 1M472 2192l49 13M279 2147l48 1M434 2269l48 22"/>
<path class="c5" d="M443 2159l49 22M366 2203l48-17M405 2181l38-1M453 2208l58-19M453 2223l39 19M453 2193l58 18M521 2268l67 18M434 2222l48 41M385 2256l39-51M405 2256l48 0M588 2245l58-11M366 1950l39 146M299 2198l57 17M434 2181l38 43M569 2118l48 63M511 2250l48 6M424 2225l48-4M492 2172l48 24M511 2018l58 50"/>
<path class="c6" d="M289 2256l48-21M578 2235l49 6M636 2213l58 35M521 2275l38 15M598 2291l38 2M337 2094l48 35M376 2202l48-42M472 2161l49 112M347 2268l38-26M521 2192l57 38M501 2237l48 30M424 1911l48 319M578 2283l49-50M347 2199l38 12M472 2212l49 40M501 2168l58 24M569 2283l48 0M414 2100l58 77M337 2284l48 2M347 2177l38 21"/>
<path class="c11" d="M241 2209l58-11M482 2183l58 34M569 2174l58 71M530 2195l48 4M434 2215l48 18M270 2088l48 55M443 2252h0M443 2251l49 28M617 2217l58 39M443 1989l68 232M472 2086l68 62M549 2297l39-19M376 2254l38 31M617 2206l48 43"/>
<path class="c2" d="M241 2070l48-59M482 2153l48 37M443 2183l58 97M385 2153h0M492 2130l38 48M443 2205l49 1M366 2217l48-13M453 2252l58 32M395 2118h0M308 2169l48-5M250 2156l39 19M453 2202l48 70M588 2171l48 7M463 2173l48 73M453 2245l58-17M511 2206l58-15M627 2237l48 37M270 2276l48-9M453 2242l39 27M308 2173l68 75M308 2223l48 37"/>
<path class="c1" d="M347 2123l58 39M463 2093l58 113M472 2173l49 34M327 2266l58 5M607 2276l49 11M356 2126l49-135M414 2169l58-43M646 2303l48 11M385 2147l49 63M414 2220l58 31M308 2250l39 14M530 2279h0M250 2094l49-157M501 2114l48 89M337 2150l48 91M636 2274l49-2M472 2198l68-12M318 2107l38-35M443 2200l58 51M434 2215l48 4M347 2286l58-25M636 2243l58-8M395 2238l58 32M482 2060l58 200M578 2217l49 64M366 2231l48 28M356 2193l49 44M405 2191l58 45M607 2280l58 18M627 2239l58 29M578 2252l58-18M617 2307l48-10M521 2211l48-24"/>
<path class="c5" d="M308 2183l48-57M308 2277l48 0M443 2262l49 6M414 2049l49 41M289 2218l38 27M511 2109l58 32M231 2231l48-135M540 2257h0M337 2145l68-104M241 2240l58 4M540 2187l38 34M540 2279l48 9M376 2200l58 66M347 2126l48 8M231 2112l58 28M540 2262l58-7M405 2143l48-4M395 2099l58-24M598 2213l58 34M569 2272l48 21M356 2146l39 36M569 2247h0M511 2259l67 17"/>
<path class="c4" d="M521 2275l57-31M385 2192l49 16M424 2263l48-2M463 2266l38 10M279 2241l48-29M549 2228l68 53M318 1999l48-51M443 2132l49 70M453 2278l68 16M356 2226l49 27M260 2224l58-12M366 1996l48 218M540 2254l48 17M414 2140l49 27M424 2151l48 8M549 2220h0M636 2254l58-4"/>
<path class="c7" d="M453 2079l48 209M530 2267l68 9M511 2171l48 33M540 2208l48 59M270 2193l48-10M327 2217l68-8M530 2168l39 88M501 2191l48 35M414 2238h0M231 2228l39-3M405 2215l58 52M405 2143l48 36M453 2212l39 10M443 2191l49 47M463 2217l48 39M482 2232l48-3M540 2280l38-1M569 2283l38 5M521 2279l48 25M617 2239l58 17M588 2235l48 10M646 2283l68 1M356 2289l49-4M299 2154l48-40"/>
<path class="c1" d="M385 2231h0M463 2295l48 4M347 2246l58 15M463 2248l58-127M434 2150l48 76M569 2245l38 4M472 2252l49 4M598 2233l48 39M482 2132l48 102M385 2263l58 23M337 2096l58 33M521 2169l67 32M414 2042l58 79M385 2197l39 18M347 2194l58-33M356 2275l58 3M588 2173l48 41M540 2181l48 29M395 2191l48 67M405 1853l48 256M607 2260l58-37M366 2230l68-1M414 2146l49-49M337 2143l39 51M540 2269l48 5M578 2255l49-15M424 2253l58-33"/>
<path class="c6" d="M463 2167l48 9M530 2239l58 19M337 2168h0M511 2252l58 38M424 2251l48 41M250 2152l58-4M665 2280h0M482 2161l39 18M492 2200l48 52M559 2160l68 37M356 2243h0M559 2285l48 19M327 2150l49 26M482 2213l58-12M308 2183l48-39M434 2270l38-2M482 2252l48-5M453 2164l48 54M521 2278l38-13M337 2069l68-22M482 2240l39 41M443 2179l58 7M472 2269l58 29M443 2145l49 59"/>
<path class="c11" d="M530 2240h0M385 2147l39 27M443 2183l49 20M279 2162l48 13M376 2208l67 27M501 2265l48 40M385 2138l49-2M588 2245l58 25M289 2165l58 1M356 2123l68 55M414 2119l58 0M578 2229l49 19M521 2271l48 14M424 2187l48 53M511 2188l58 64M443 2279l49-15M482 2269l48 27M530 2257l48-18M395 2120l68 98M511 2196l48 37M443 2157l58 40M521 2179l57 31M530 2235l48 26M260 2060l58 94M434 2079l48-139M521 2097l38-4M337 2195l58-169M356 2228l49-158"/>
<path class="c10" d="M588 2239l48-3M453 2120l58 44M521 2273l48-24M366 2191l58 13M569 2188l67-325M540 2144l58 54M337 2180l48 29M463 2217l48-21M241 2173l48-42M492 2252l48-1M453 2271h0M289 1945l48 139M540 2288l48 2M405 2219l48 10M617 2289l39-2M511 2257l48 18M569 2214l38 22M337 2243l48-15M385 2262l49 10M414 2195l68 37M472 2262l49 12M376 2192l48 41M424 2157l58 103"/>
<path class="c14" d="M356 2197l49-53M376 2130l67-191M501 2245l58-9M424 2149l48 84M443 2156l49 38M559 2220l48 32M443 2146l39 6M607 2233h0M453 1943l39 259M347 2175l58 3M424 2221l48 20M511 2232l58 5M337 2232l58-3M376 2115l58 159M636 2300l49-2M337 1947l48 157M434 2136l48 95M434 2196l58 52M492 2158h0M472 2251l58 17M521 2107l48 134M414 2256l49-10M289 2137l38-1"/>
<path class="c0" d="M482 2207l58 14M434 2255l48 10M318 2230l38-77M260 2216l58-8M443 2123l58 113M617 2280h0M376 2035l58 50M453 2221l48-41M424 2253l58 15M260 2107l58 58M337 2182l48 29M279 1970l48 213M627 2316l58-4M463 2214l38 59M472 2149l58 100M289 2237l58 12M231 2236l48 20M588 2254l58-10M472 2197l39-142M472 2265l49 11M472 2153l68 60M434 2181l67 52M482 2273l58 13M366 2161l58-90M434 2207l58 48M549 2232l58-54"/>
<path class="c8" d="M521 2197l38 0M376 2212l48 21M385 2175l68 61M569 2266l58-9M385 2223l49 29M521 2158l48 67M327 2104l49 6M588 2200l58 67M443 2101l49 120M453 2103l58 60M337 1902l58 265M376 2238l48 2M453 2216l39-32M443 2033l58 173M443 2173l58-17M424 2200l68-8M318 2196l67 44M578 2218l49-29M434 2178l38 28M598 2309l58 8M569 2183l48 26M327 2244l68-16M617 2109l48 138"/>
<path class="c2" d="M395 2195l58 5M569 2183l67 42M318 2144l58 63M405 2241l58 16M598 2072l48 83M443 2073l49-117M289 2152l38 27M472 2155l49 51M521 2231l57 21M453 2186h0M270 2167l67-78M521 2159l48 29M385 2213l68-55M627 2115l58 123M289 2234l48-6M414 2104l49 123M241 2181l48 8M347 2224l38-44M270 2140l57 35M347 2167l48-6M549 2263l39 19M463 2176l48 67M405 2221l48-56M385 2257l49 13M540 2219l48 32M501 2233l48 18M472 2185l58 23M549 2172l49 29M492 2286l38-1M482 2192l67 25"/>
<path class="c3" d="M318 2153h0M598 2277l58-5M366 2179l48-24M308 2146l48 13M453 2304l48-97M337 2133l48-17M308 2254l48-92M501 2166l48 94M366 2262l48-4M482 2262l48 4M492 2221l67 23M540 2311l58 0M366 1997l39 44M443 2135l58 39M530 2223l58 20M453 2234l48 6M549 2207h0M289 2288l48-5M395 2249l48 25M356 2238l58-4M492 2211l57 21M434 2129l48 72M376 2173l38 57"/>
<path class="c9" d="M366 2124l48 36M443 2292l58 6M424 2187l58 41M424 2189l48 9M501 2243l68 19M501 2243l39 31M347 2199l48-22M385 2272l49 3M511 2248l58-1M472 2277l58 8M395 2286l39-3M549 2219l49 22M434 2246h0M578 2239l49 17M337 2262l58 5M434 2145h0M453 2268l39 33M492 2195l48 27M549 2226l39 12"/>
<path class="c12" d="M472 2205l58 0M395 2083l68 106M318 2186l67 29M588 2300l58-21M501 2222l48-14M270 2240l67-20M414 2233l58-5M241 1959l48 128M559 2224l48 12M395 2238l48-27M530 2226l39 16M318 2157l58-161M569 2262l48 12M337 2207l48-35M463 2119l58-12M521 2171l57 47M347 2229l48 46M453 2209l48 61M250 2212l49 26M318 2165l38-3M472 2313l58 2"/>
<path class="c13" d="M405 2189l58 38M385 2233l49-57M434 2208l58 64M299 2241l67-14M260 2198l48 4M627 2153l58-50M424 2145l48 27M569 2163l48 54M492 2195l57 26M289 2234h0M434 2125l58 71M318 2159l48 17M501 2172l58 83M424 2158l39 20M511 2269l48 14M511 2105l48 52M646 2243h0M434 2078l48 91M540 2243l58 6M327 2159l68 44M434 2152l58 81M559 2177l48 51M511 2139l38-18M482 2256l48-47M521 2161l48 36M356 2249l49 17M559 2285l68 18M656 2297l48 5M472 2185l39-41M607 2230l49 33M260 2129l48 40"/>
<path class="c1" d="M424 2197l48-10M376 2187l58 8M482 2158l48 42M405 2178l48 5M376 2233l48-38M327 2271l49-7M472 2226l49 24M424 2241h0M289 2150l48-47M636 2296l58-146M385 2101l49-10M327 2186h0M260 2228l48 14M424 2265l48-9M482 2189l48 63M405 2237l58-19M569 2240l58 31M607 2218l49 9M540 2275l48 3M617 2276l48 10M327 2196l39-19M424 2195l58 7M627 2170l48 110M424 2248l48 11M318 2192l58-24M636 2311l49-14M405 2145l48 19M492 2021l57 199M463 2266l58 25M521 2254l67 25M289 2032l48 52"/>
<path class="c5" d="M260 2183l58 41M559 2298h0M559 2276l48 28M472 2169l68 66M395 2292l48-1M279 1919h0M521 2247l57 30M578 2275l49 19M492 2247l48 6M414 1885l39-72M424 2242l68 10M337 2219l58 17M472 2159l49 97M472 2198l58 23M578 2280l49-4M549 2146l49 61M414 2190l58 22M405 2214l67 45M385 2048l58 164M385 2077l49 18M347 2171l58-7M646 2255l58 5M318 1990l58 47M472 2162l68 37"/>
<path class="c2" d="M472 2057h0M270 2187l48-13M434 2237l48 6M463 2226l48 25M405 2191l48 12M395 2252l48-7M482 2248l48 25M434 2149l58 28M347 2269l58-42M376 2135l48 80M337 2191l48 62M472 1979l58 56M327 2197h0M492 2225l48-34M337 2215l58 1M636 2237l49 29M395 2089l48 20M385 2200l58-32M434 2224l48 18"/>
<path class="c8" d="M549 2187l49-194M405 2205l58 19M250 2230l49 5M511 2083h0M270 2261l38 8M492 2224l57-1M356 2216l58 61M482 2168l39-138M578 2244l58-19M598 2177l48 56M299 2130l57 33M414 2201l49-13M347 2102l38-46M549 2276l49 21M472 2301l49 11M549 2261l39-5M472 2248l49-135M327 2183h0M414 2149l39 44M598 2196l67 65M549 2243l49 12M356 2137l49 50M356 2142l58 78M607 2228l58 33M598 2262l38-6M501 2138l48 37M636 2224l39 4"/>
<path class="c13" d="M424 2105l58 107M501 2264l48-55M424 2148l48 11M453 2218l48 52M443 2185l49 20M482 2243l67 23M347 2095l38 32M366 2181l58 14M627 2258h0M501 2224l58 37M347 2218l58 11M472 2308l49-21M299 2105l57 54M327 2250l68 20"/>
<path class="c4" d="M617 2214l48 23M405 2225l58 31M241 2240l58-38M482 2212l67-30M569 2203h0M559 2247l58 30M443 2262l49-20M578 2236l49 7M472 2155l49 49M250 2205l49-55M299 2211l48-82M385 2183l58-19M443 2181l39-14M337 2123l58-88M472 2186l68 86M482 2282l67-18M463 2255l58 11M414 2240l58-44M578 2244l49 54M414 2219l49 18M434 2226l38 23M463 2279l38 9M636 2158l58 95M540 2267l38 1M443 2195l49 29"/>
<path class="c11" d="M463 2271l58 24M250 2191l49 18M347 2230l48 18M250 2296l58-45M289 2193l67-31M482 2160l48 39M636 2214l58 35M405 2215l48 14M347 2207l48 3M327 2225l58 27M385 2143h0M511 2210h0M569 2267l38 21M270 2251l57 14M636 2189l68 62M578 2258l49 26M521 2220l48 32M376 2064l67 61M424 2096l48 81M598 2221l38 45M405 2217l38 7M434 2256l58 12M356 2007l49-46M318 2196l48 0M472 2217l49 10"/>
<path class="c9" d="M241 2229l58 0M299 2199l67 10M636 2178l49-8M299 2231l38 12M443 2239l68-23M521 2211l48 58M260 2212l48-59M376 2222l67 81M270 2168l57 42M424 2166l48 56M492 2188l57-1M482 2222l58 32M453 2261l58 8M347 2139l48 50M463 2036l48 69M356 2180h0M366 2088l58 18M347 2155l38-7M366 2190l48-9"/>
<path class="c0" d="M405 2250l48 13M530 2213l48-15M366 2041l48-28M472 2247l39-10M308 2213l58-52M492 2171l48-102M395 2046l39 17M511 2165l48 37M588 2249l48 6M443 2185l39 1M482 2227l48 3M549 2093l39 122M308 2204l39 69M511 2263l58 13M540 2184l48 67M482 2250h0M501 2256l58 11M627 2235l58 42M588 2227l58 43M424 2231l48 38M250 2126l49-21M424 2004l48-40M395 2246l48-23M559 2157l68 17M463 2284l48 8M521 2202l48 48M385 2199l58 23M424 2171l48-31M540 2297l67 8M549 2274l58-8M521 2220l48 28"/>
<path class="c12" d="M385 2108l49 46M617 2172l48 108M337 2259l48-16M376 2158l58-1M279 2204l58 36M289 2253l48-12M501 2183l58-49M443 2252l68 19M569 2267l38-21M492 2121l48 75M434 2260l67 30M434 2230h0M347 2221l58 12M646 2250l48 17M472 2180l39 29M453 2250l68 22M347 2224l48-2M337 2080l48 136M453 2208l58 2M521 2191l48 59M376 2176l48-25M540 2265l38-3M414 2288l68-7M250 1997l49-160M636 2268l39 20M463 2222l67 4M347 2105l48 56M482 2001h0M617 2239h0M559 2272l48 9"/>
<path class="c7" d="M241 2162l48 39M646 2265l48-6M376 2239l67 3M453 2083l58 100M250 2140l68-32M578 2217l58 41M559 2094l39 88M665 2253l49 17M569 2200l67 78M453 2270l48 1M308 2265l48-2M414 2247l49 4M241 2038h0M250 2275l49 8M492 2135l67 65M337 2154l39 1M414 2164l58 48M521 2201l67 73M337 2102l48-38M511 2249l48 16"/>
<path class="c10" d="M521 2196l57 38M376 2096l58 122M540 2190l67 56M395 2195l48 62M395 2158l39 20M549 2210l49 31M347 2234l48 46M482 2291l48 16M260 2103l58 24M530 2149l58 56M521 2273l57-3M414 2154h0M231 2196l58 25M646 2233l48 4M356 1907l49 203M482 2227l48-9M443 2253l49 6M385 1856l49 178"/>
<path class="c3" d="M327 2254l39-15M299 2015l67 72M434 2229l48 54M337 2088l48 30M588 2297l58 4M327 2077l68 36M414 2146l68 48M434 2177l48-54M443 2225l39 26M356 2188l49 10M270 2196h0M443 2191l49-41M482 2133l39 66M376 2192l48 41M424 2243l58 26M578 2139l58 67M327 2129l49 32M231 2180l48 32M636 2298l58 7M530 2259l48 15M501 2193l58 73M337 2226l39-15M443 2226h0M366 2228l58 18M424 2203l48 17M347 2239l38 51M540 2160h0M337 2049l58 83M646 2276h0M366 1959l48-39M299 2124h0M472 2273l58 7M337 2095l48-67M607 2289l49 2"/>
<path class="c6" d="M521 2265l48-5M463 2198l38 4M482 2217l48 1M337 2270l58 20M385 2148l68-16M607 2239l49 30M395 1982l48 136M492 2213l48-8M289 2264l48-38M366 2184l48-31M434 2212l48 21M250 2049l58 32M299 2226l48-1M443 2132l39-281M405 2073l48 10M424 2127l58 76M395 2213l58 42M405 2273l48-37"/>
<path class="c14" d="M395 2161l68-38M405 2259l48 51M569 2206l48 21M405 2239l48 27M617 2244h0M492 2261l57 20M463 2263l58 24M588 2228l48-27M549 2267l49 3M308 2216l48-14M376 2265l58 23M598 2226l48 10M241 2078l48 85M472 2221l58 37M434 2262l58 10M395 2186h0M443 2235l58 45M540 2219l48-11M665 2273l49 14M395 2133l58 62M549 2222l58-5M327 2165h0M424 2252l58 10M366 2246l48 20M578 2300l49 4M569 2272l48-1M482 2158l58 17"/>
<path class="c8" d="M424 2183h0M482 2287l58 9M434 1994l58 38M270 2292l57 9M549 2099l49 187M434 2252l67-25M376 2161l48 3M472 2223l58 14M540 2216l38 27M376 1975l58 86M511 2146l48 11M337 2242l39-16M540 2219l38 1M472 2195l49-14M366 2145l48-25M434 2121l38 28M327 2172l49 11"/>
<path class="c13" d="M376 2263l67 7M492 2080l38 92M540 2261l48-1M385 2204l49-53M337 2154h0M299 2256l48-140M337 2212l48 18M501 2145l58 75M472 2225l49 11M646 2272l48 14M501 2254l58 21M241 2203l48 23M540 2215l67 3M646 2277l39 8M501 2151h0M308 2054l39 52M299 2195l48 32M337 2236l58 31M482 2216l58-113M443 2123l58-3M492 2137l48 51M646 2307l48 4M453 2180l58 33M337 2203l48 4M434 2223l58 48M250 2135l39 44"/>
<path class="c6" d="M385 2260l49-116M463 2204h0M501 2241l39-22M270 2195l57-17M327 2211l49 15M627 2238l48 19M578 2114l58 136M405 2169l38 46M607 2201l49 60M530 2289l48 11M260 2254l48 16M617 2220l68 18M289 2173l58 29M308 2042l48-1M318 2271l48-3M443 2200l39-2M521 2238l48 12M318 2222l48 10M327 2202l68 11M366 2247l48 4M356 2230l49 32M434 2170l38 53M482 2113l48 65"/>
<path class="c3" d="M366 2298l68 12M356 2100l49-8M405 2093l58 64M472 2090l49 76M607 2266l39-6M366 1952l39 216M385 2223l49-7M366 2169l48-46M434 2183h0M318 1950l58 133M366 2156l58-19M598 2221l48 8M463 2240l58 59M405 2065l48 92M366 2046l58 99M424 2243l39 4M443 2216l58 34M463 2264l48-2M521 2222l48 24M250 2237h0M588 1958l48 251M395 2164l48 27M482 2242l48 29M347 2157l67-271M395 2240h0M453 2206l48 29M376 2245l58 27M492 2172l48 36M453 2245l48-2"/>
<path class="c9" d="M443 2156l49 5M279 2216l68-16M463 2254l67-19M241 2217l38-13M308 2127l48 119M260 2215l48-17M424 2213l39 18M521 2265l38 2M405 2013l48 132M443 2215l49 56M366 2201l48 20M578 2277l58-63M434 2069l48 101M559 2251l68 24M636 2268l58 0M434 2272l67 5"/>
<path class="c2" d="M385 1846l58-53M289 2222l48-19M414 2163l49 111M376 2216l58 21M443 2245l58 36M511 2240l48-322M463 2098l48 80M492 2165l38 41M443 2212l49-22M453 2182l48 6M646 2268h0M385 2227l68 40M424 2207l58 59M356 2233l49-142M434 2208l58-102M578 2249l39 50M627 2258l38 12M501 2271l58 24M327 2181l58-288M549 2225l49 21M482 2151l58 54M482 2052l48 65M501 2261l58 21M588 2157l48 54"/>
<path class="c11" d="M482 2175l48 21M511 2224l48 36M414 2013l49 174M434 2232l38-11M607 2269l39 4M472 2231l58 33M337 2193l48-1M492 2208l48 15M482 2187l48 40M385 2083l49 53M559 2215l68 40M501 2116l48 31M607 2241l49-5M453 2223l48 17M424 2258l48 22M270 2110l48 95M482 2125l48 118M501 2243l39 15M405 2177l58 20M395 2187l48 26M405 2207l48 26M472 2090l49 160M569 2231l48 34M501 2261l48-5M395 2209l48 26M347 2248l48-27"/>
<path class="c12" d="M395 2182l48 50M549 2259l58 8M511 2227l67 22M443 2195l68 23M299 2228l48-13M270 2204l48 55M443 2126l49 122M414 2201l49-3M443 2224l58 31M434 2142l38 16M578 2277l58-22M337 2221l39-17M424 2122l58-201M434 2173l67-20M482 2210l48 19M434 2276h0M530 2263l48-2M482 2190l48 57M443 2159l49 56"/>
<path class="c0" d="M559 2259l39 0M231 2240l48 23M366 2260l48 17M511 2255l48-9M598 2231l48 3M453 2068l48 130M443 2114l58 94M472 2221l49-62M443 2224l39-112M308 2116l48-37M501 2237l48-17M385 2223l39-6M559 2274l48 16M337 2233l58-19M308 2251l48 0M366 2172l68 9M636 2282h0M549 2161l58 51M482 2162l58 27M414 2097l58 18M443 2225l58 22M482 2195l58 27M279 2219l48-112M289 2198l38-1"/>
<path class="c1" d="M453 2229l48 7M424 2142l58 25M318 2174l38 62M376 2192l48 81M482 2239l67 34M385 2235l49-27M337 2167l58 20M424 2232l48 4M453 2244l58 38M366 1941l58 99M289 2141h0M463 2104l48-3M337 2159l48 4M511 2150l48 43M627 2267l38 4M578 2236l49 23M540 2169l48 30M405 2245l48 3M279 2230h0M636 2248l58 45M289 1951h0M299 2253l48-21M241 1872l58 351M627 2287l58-43M241 2131l38-33M308 2085l39 154M395 2197l48 11"/>
<path class="c5" d="M463 2036l67 148M308 2168l58-30M376 1858l38 312M511 2262l48 33M405 2238l67 22M463 2176l58 105M627 2253h0M414 2201l39 22M482 2141l48 67M559 2287l48 8M279 2206l68-4M636 2295l68-7M366 1860l48 151M501 2093l48 92M299 2251l57-43M347 1867l58 154M472 2223l49 10M492 2213l38 75M424 2187l48 4M405 2023h0M366 2248l58 30M559 2255l39 26M453 2231l58-79M501 2176l48 19M414 2261l58 19M405 2074l48 93M376 2181l58 34M511 2195l58 28M607 2265l58 15M511 2226l48 0M501 2246l48 19"/>
<path class="c14" d="M424 2173l48 28M337 2047l68-36M617 2194l58 91M434 2190l48 17M530 2265l58 19M443 2102l68 106M472 2201l49 16M511 2256l58-5M327 2164l39 54M385 2229l49 1M463 2227l48 13M453 2195l48 48M327 2017l49-73M501 2206l48-21M327 2132l58 0M337 2146l58 7M540 2189l48 61M299 2177l48 22M414 2118l58 61M530 2213l68 45M578 2216l49 28M434 2136l38 37M627 2219l48 66M549 2266l49 11M559 2269l58-26M289 2176l48 4M492 2267l48-23M347 2109l48 10M376 2063l48 109M434 2219l58 20"/>
<path class="c4" d="M318 2192l38 5M598 2250h0M607 2205l49 65M318 2261l48-105M617 2281l58 4M405 2196l38-1M540 2251l48 32M299 2120l48 36M521 2061l57 34M356 2257l49 22M482 2208l39-45M443 2281l58 10M356 2186l39-18M636 2253l49 20M443 2207l49 33M578 2218l49 19M289 2265l58 13M405 2243l48 0M443 2171l68 18M646 2268h0M395 1984l48-51M327 2213l49 56"/>
<path class="c10" d="M405 2137l38 49M376 2189l58 40M395 2070l48 45M424 2221l39 17M327 2123l58 88M424 2119l58 35M414 2269h0M366 2198l68-10M356 1889l49 56M492 2110l57 68M424 2185l39 47M414 2272l39-69M385 2133l49-11M376 2173l67 13M453 2210l58 35M540 2181l48-385M472 2141l68-41M289 2258l48 4M530 2275l48-17M414 2013l49 233M414 2224l39 30M492 2095l38 107M327 1887l68 242M260 2247l48 11M366 2243l48 28M530 2272l48 13"/>
<path class="c7" d="M289 2217l58 28M559 2269l48-2M472 2205l49-7M472 2268l49-5M636 2240l68 20M347 2209l48-24M569 2057l58 224M492 2196l48 20M414 2089l49 89M540 2285l58 18M463 2297l48 8M376 2137l38 69M289 2113l38 14M385 2141l68 35M250 2215l68 17M453 2203l48-1M588 2290l48-2M578 2255l39 19M511 2186l48 42M424 2134l68 79M588 2261l48 8M569 2305l38 3"/>
<path class="c2" d="M453 2137l58-85M385 2205l68 58M472 2288l58 11M231 2238l48 17M559 2247l48 34M424 2183l39 29M424 2219l48 5M376 2309h0M405 2246l48 34M482 2209h0M443 2189l58 29M463 2278l48-9M540 2245l48 13M327 2143l58 2M549 2254l39 23M424 2185l48-6M279 1932l48 247M366 2287l68-9M347 2129l67 14M385 2176l49 25"/>
<path class="c7" d="M617 2253l58 24M366 2082l68 92M366 2231l58 31M598 2308l48 3M385 2205l49 51M250 2169l39-56M405 2164l48-63M366 2215l48 33M270 2113l48 51M453 2063l58 170M347 2216l48 23M347 2266l67-61M559 2241l58 21M598 2266l38-11M463 2164l48 46M356 2128l58 60M366 2204l68 39M395 2188l68 67M356 2161l49 68M463 2165l48 110M549 2238l49-7M318 2242l48-31M385 2241l68-7M337 2104l48 83M395 2284l48-3M289 2196l58-344"/>
<path class="c8" d="M569 2303l48 8M434 2294l48-13M453 2258l48 2M356 2168h0M521 2059l57 230M366 2202l48 29M646 2274l48 3M453 2269l48-2M617 2295l48 10M347 2239l58 20M395 2273l48-14M347 2123l48 52M434 2270l48-2M540 2172l48 30M241 2152l48 8M588 2245l58 24M327 2099l49 113M443 2148l58-5M414 2162l49 24M501 2218l39 9M289 2204l58-8M492 2116l38 85M279 2113l39-77M569 2128l58 70M366 2299l48 3"/>
<path class="c13" d="M347 2189l48-87M366 2274l39-44M376 1961l48-12M260 2180l58 48M453 2237l48 25M260 2248h0M356 2231l39 2M578 2266l58 33M424 2097l48 95M443 2079l49 30M569 2256l58-2M270 2271h0M453 2216l39 30M453 2141l58 87M443 2173l49 29M241 2188l58 12M443 2269l49-15M318 2145l48 41M241 2180l48 27M472 2147l49 58M607 2296l49 16M453 2207l39 9"/>
<path class="c6" d="M559 2194l48 36M376 2100l67 47M492 2130l67 78M492 2182l48 3M289 2181l58-8M549 2216l58 14M424 2234l48 50M385 2258l49 11M540 2159l48 28M347 2092h0M472 2202l58 6M414 2197l49 45M578 2250l68 36M482 2142l48-17M646 2234l48 23M405 2285l48-24M540 2239l58 50M385 2170h0M453 2243l58 26M521 2220l57 53M617 2247l39-4M289 2232l58 6M530 2170l48 7"/>
<path class="c14" d="M617 2187l58 66M279 2136h0M366 2201l48 29M318 2141l38 29M356 2221l39 5M376 2191l48 36M385 2263l58-39M511 2264l48 31M434 2087l58 25M289 2157l48-27M337 2132h0M598 2264l48 8M598 2290l58-9M501 2206h0M453 2261l48 12M424 2249l48 16M443 2268l49 12"/>
<path class="c11" d="M501 2267l39 13M395 2137l48 26M405 2212h0M366 2240l68-5M569 2223l58 22M578 2289h0M318 2248l48 29M385 2276l49 4M385 2272l39 14M607 2289l39 1M318 2247l48-157M414 2237l68 23M366 2136l48 31M588 2291l48 0M501 2194l68 26M318 2213l58-40M627 2237l48 38M443 2194h0M617 2276h0"/>
<path class="c10" d="M453 2233l48-17M511 2257l58-36M385 2208l49 10M424 2201l58 9M540 2268l48 10M530 2273l58-55M414 2143l49 35M511 2239l58 12M578 2211l68-32M472 2198l39 36M453 2173l68-134M356 2206l49-161M482 2219l48 33M588 2281h0M385 2252l49 7M559 2223l39 6M434 2242l48 20M472 2169l49-54M665 2173l49 65M385 2065l58 155M385 2110l49 105M540 2205l58 30M260 2097l39-53M356 2287l49-1M453 2273l48 12M511 2244l48 13M327 2022l58-9M250 2209l58 2M598 2214l58 41M521 2254l38 17M414 2229l39 9M617 2235l58 24M569 2095l58 76"/>
<path class="c1" d="M540 2211l48 2M424 2215l58 13M453 2244l39 5M405 2100l58 42M559 2237l48 8M299 2204l48 44M289 2185l48-88M521 2088l48 74M347 2194l48-29M665 2270l49 8M482 2263l48-29M588 2257l48 29M492 2175l57 39M530 2239l39-110M636 2296l58 12M453 2196l58-44M434 2108l58-45M443 2190l58-8M385 1981l49 219M366 2201l68 35M443 2194l68 44M327 2122l49 7M463 2172l48-4M434 2109l48 89M463 2261l48-5M617 2227l48 10M385 2293l49 5M472 2073l68 68M549 2170l58 20M327 2209l58 28"/>
<path class="c3" d="M443 2222l49 7M511 2210l48 47M646 2171l48-22M511 2224l48-8M511 2218l58 38M453 2184l39 27M501 2008l48 129M482 2185l48 22M482 2115h0M385 2250l49-2M443 2146l68 58M414 2261l49 19M627 2249l67 38M405 2231l58 3M424 1887l48 130M366 2229l39-29M395 2233l58 20M482 2247l58-21M405 2195l48 9M453 2138l48 52"/>
<path class="c12" d="M337 2111l48-13M578 2201h0M607 2269l49 7M434 2128h0M337 2234l58 4M578 2232l39 8M511 2278l38-24M501 2228l48 46M443 2202l58 50M549 2206l68 20M366 2240l48-23M376 2185l48 62M279 2261l58 1M318 2214l67 57M434 2266l48-4M453 2143l48 8M424 2174l68 42M443 2140l49 116M241 2149l48 71M385 1988l49 211M501 2185l58 94M511 2176l58 70M530 2151l48 29"/>
<path class="c0" d="M472 2188l49-15M463 2238l48 17M530 2298l48 13M549 2097l49-1M530 2179l48 21M385 2189l68 21M463 2135h0M434 2169l48 24M443 2226l49-8M482 2222l39-1M511 2267l48 11M511 2249l38-26M492 2270h0M424 2152l58 5M482 2197l58 32M463 1974l38 221M463 2153l67 61M279 2223l48-74M540 2279l48 14M530 2230l48-38M521 2268l57 29M598 2278l48-3M337 2220l48-6M270 2216l57-12M424 2251l58-4M549 2241l58-10M434 2052l58 17M549 2261l58 16M366 2259l48-13M414 2159l49 40M540 2196l48 58M463 2192l48 1"/>
<path class="c5" d="M588 2271l48 10M424 2240l48-4M414 2254l49-18M270 2271l48-4M356 2240l58-40M482 2243l48 5M385 2209l39 80M530 2210l39 27M414 2175l58-7M588 2259l48 42M472 2168l49-35M395 2256l39-15M347 2246l38 1M414 2027l39 105M472 2230l39-25M540 2224l48 10M434 2252l48-3M434 2197l48 11M289 2182l48-181M289 2234l58 0M646 2292l58 0M569 2296l58 2M607 2263l39 29M530 2244l48 0"/>
<path class="c9" d="M434 2241l58 20M453 2223l39 22M463 2232l48-28M424 2203l68-91M260 2208l48 37M395 2179l39 20M414 2281l49-24M443 2211l49 13M356 2213l49-4M337 2226l48-40M385 2210l58 18M530 2012l48 111M501 2214l68-6M482 2113l48 59M472 2141l58 112M424 2151l58 33M521 2154l38 28M260 2023l58 81M472 2259l39 5M617 2263l58 22M337 2266l48 3M472 2209l49 16M347 2149l67 13M376 2241l48-15M530 2134l39 62"/>
<path class="c4" d="M472 2127l39-63M405 2223l38 30M549 2291l68 22M366 2186h0M569 2231l48-17M549 2239l49-16M405 2259l48 31M376 2196l58 19M482 2216l58 30M482 2155l58 42M521 2119l48 60M318 2205l48 1M482 2201l58 29M270 2147l38-29M463 2202l67 11M279 2247l48-8M549 2191l49 37M530 2227l58 18M385 1864l49 285M443 2156l49 35M414 2194l58 33M549 2249l39 7M241 2168l48-19"/>
<path class="c3" d="M1083 2233l48 2M1170 2184l58-64M1150 2235l58 13M1257 2203l67-42M1324 2199l58-10M1315 2240l48-96M1276 2276l48 8M1247 2243l48-16M1218 2099l48 121M1218 2227l39 18M1276 2285l58-7M1421 2210l48 24M1228 2178l67 50M1179 2263l68-33M1179 2257l49-17M1363 2181l58 7M1334 2275l58-1M1170 2269l38-97M1160 2234l48-3M1073 2199h0M1344 2193l58 8M1218 2248l48-24M1044 2259l48 9M1237 2223l49 8"/>
<path class="c5" d="M1315 2181l48-53M1034 2130l39 12M1295 2249l49 9M1344 2118h0M1324 2309l39-1M1218 2304l48 11M1054 2158l48 14M1121 2284l39-36M1276 2194l48 62M1247 2260l48 19M1228 2218l58-64M1257 2219l38 15M1411 2262h0M1150 2249l49 5M1228 2175l58 43M1315 2224l48 34M1179 2218l49 14M1141 2102l38 134M1266 2169l39 28M1208 2137l49 52M1228 2221l48 6M1092 2119l49-157M1005 2207l49 23M1005 2132l58 89M1286 2185l48 15M1073 2227l58 12M1276 2228l39 9M1266 2218l68-81M1237 2274l49-10M1199 2134l48 40M1179 2272l39-33M1199 2264l48 8M1150 2227l49 44M1073 2187l58-41"/>
<path class="c13" d="M1286 2192l58-16M1160 2245l48-22M1199 2245l48-6M1218 2188l68 49M1266 2286l49-21M1199 2064l48-33M1102 2241l48-11M1102 2199l48 20M1054 2208l38 15M1179 2255l49-24M1150 2183l49 67M1112 2241l48 2M1295 2236l58 11M1266 2229l49-38M1179 2028l49 53M1228 2239l58 19M1092 2258l39-1M1083 2084l58-95M1179 2244l39-3M1112 2184l38 3M1266 2142l49 52M1170 2196l58 16"/>
<path class="c6" d="M1266 2135l49 93M1315 2247l48-22M1150 2180l58-45M1189 2293l58-35M1218 2207l39-1M1305 2264l48 3M1179 2237l58 3M1305 2226l48 42M1295 2195l49-115M1266 2270l58 8M1373 2275l48 25M1247 2156l48-17M1170 2126l38 55M1121 2221l49-67M1421 2112l68 40M1112 2099l58 75M1189 2201l48-18M1160 2268l48-12M1286 2270l58 17M1092 2150l49 19M1199 2212l67 14M1199 2158l38-13M1305 2194l48 45"/>
<path class="c2" d="M1315 2163l58-31M1208 2287l49-15M1305 2270l48-10M1237 2075l49 25M1257 2256l58-16M1160 2124h0M1305 2151l48 106M1411 2240l49 15M1208 2205l49 14M1102 2288l48-156M1295 2205l49 57M1392 2173l58 31M1141 2275l58 26M1160 2269l39-40M1218 1806l39 159M1228 2222l58 15M1276 2236l48 11M1025 2229l48 36M1228 2242l48 55M1373 2301l48 15M1237 2175l49 18M1131 2089l58 8M1324 2250l68 22M1247 2222h0M1218 2278l48-2M1295 2254l39 15"/>
<path class="c9" d="M1247 2186l58 27M1141 2112l67 61M1141 2213l48 15M1054 2285l48-11M1160 2184l68-10M1266 2203l58 33M1208 2189l49 29M1402 2288l67-32M1092 2208l49-17M1295 2198l39 50M1257 2279l48 4M1257 2260l48-19M1228 2232l48 2M1092 2234l49-4M1121 2124l58-41M1257 2162l48-18M1344 2251l48-15M1218 2168l58 18M1334 2269l58-30M1392 2259l48-30M1179 2236l49-15M1315 2198l48-72M1353 2188l49-21M1228 2169l58 20M1034 2127l49 37M1208 2203l39-27"/>
<path class="c1" d="M1208 2211l58 3M1179 2182l58-34M1257 2122l48-20M1237 2270l49-4M1334 2116l39 21M1247 2178l58-41M1092 2151l49 62M1208 2207l49-48M1063 2240l58-16M1286 2240l58 31M1189 2133l58 62M1305 2243l58 7M1054 2257l48 5M1266 2235l49-5M1228 2164l58 2"/>
<path class="c14" d="M1189 2141l48 65M1392 2264l48-30M1247 2265l58 37M1276 2222l58 15M1286 2197l38-11M1411 2052l49-8M1315 2226l48-30M1092 2217l68 31M1353 2246l49 6M1179 2281l49 19M1286 2240l67-23M1344 2217h0M1189 2159l39 19M1218 2071l48 83M1199 2212l67-7M1150 2278l49 12M1237 2107l49 29M1054 2244l48 0M1247 2221l48 9M1334 2268l48 5M1295 2250l39 8M1411 2260l49-10M1382 2234l49 10M1179 2268l39-15M1334 2286h0M1102 2279l48 4"/>
<path class="c10" d="M1315 2112l58 86M1063 2274l49-68M1179 2210l49-16M1083 2237l48-26M1266 2246l49-2M1218 2259l48-44M1295 2096l49 109M1131 2256l48-43M1073 2168h0M1199 2199l48-173M1363 2248l58-5M1121 2140l58-76M1295 2236l49 6M1121 2252l39 19M1305 2178l39 20M1315 2112l48 78M1208 2190l49-17M1266 2245l49-48M1315 2118l58 6M1324 2234l58 26M1141 2308l48-94"/>
<path class="c0" d="M1237 2275l39 1M1392 2112l58 23M1189 2178l68-311M1160 2179l48 1M1102 2168l48 32M1295 2267l68 23M1344 2215l58-27M1266 2268l39-21M1208 2282l49 8M1247 2211l48-10M1286 2272l58-7M1305 2244l48-42M1363 2252l48 1M1228 2228l48-4M1257 2275l48-22M1179 2220l49 28M1237 2171l49-8M1189 2159l58 39M1131 2306l48-29M1063 2228l58-12M1305 2214l48 52M1112 2171l48-40M1170 2246l48-106M1034 2251l58-34M1334 2273l48-123M1392 2290l48 13M1189 2189l39 55M1054 2160h0"/>
<path class="c7" d="M1402 2254l48-4M1382 2263l58 26M1141 2196l48 56M1286 2237l48-24M1373 2226l67-9M1150 2175l49 71M1199 2244l48 10M1083 2264l48 16M1305 2241l68 12M1131 2256l48 5M1121 2146l58 41M1179 2157l39-40M1131 2249l48-3M1189 2232l48-52M1150 2173l49 17M1170 2234l48-61M1160 2188l58 69M1257 2272l58-9M1160 2203l58-153M1208 2110l58-5"/>
<path class="c12" d="M1150 2260h0M1295 2106l68 81M1199 2171l48 90M1237 2254l58-10M1150 2253l49-32M1179 2231l49-6M1431 2215l38-16M1054 2150l48 48M1131 2182l39 62M1063 2185l68 75M1141 2249l58-4M1402 2207l48 6M1141 2233l48 14M1044 2262l58-9M1208 2201h0M1170 2233l48-39M1102 2176l39-19M1189 2261l58-2M1421 2245l48 24M1199 2225l48 40M1160 2247l48 4M1276 2244l48-59M1286 2132l67 12M1363 2291h0M1150 2244l49 11"/>
<path class="c4" d="M1295 2188l39 88M1208 2221l49 31M1237 2187l49 44M1315 2261l38-3M1102 2175l48 66M1073 2233l68-21M1092 2280l49-7M1170 2250l48 12M1228 2217l48 13M1228 2193l48-36M1266 2189l49 23M1102 2124l48 36M1334 2211l58-161M1295 2163l39 47M1295 2268l68-32M1073 2248l39 36M1237 2173l58 26M1054 2208l48-73"/>
<path class="c11" d="M1334 2200l58 55M1179 2222l49-12M1392 2229l58-29M1247 2157l48 29M1276 2304l58 2M1160 2264l48-2M1054 2245l48-44M1141 2114l48-28M1266 2200l58 15M1112 2242l58 18M1121 2250l49-10M1295 2201l49-17M1054 2224l58-13M1054 2085l48 120M1228 2080l38 72M1170 2285l38-54M1353 2236l58 23M1083 2205l48 43M1324 2226l49 4M1092 2191l39-166M1121 2228l58 25M1179 2193l49 1"/>
<path class="c8" d="M1382 2246l49 33M1054 2258l48-19M1073 2265l39-10M1208 2282l49 7M1315 2287l67-2M1092 2171l58-2M1121 2141l58 85M1247 2276l58-10M1131 2296l58-22M1218 2174l58 30M1431 2251l58 13M1005 2221l68 4M1218 2186l58 37M1305 2266l39-2M1324 2240l49-4M1334 2270l48 9M1179 2134l49 20M1411 2231l68-69M1266 2238l49 23M1170 1983l48 49M1363 2170h0M1160 2280l58-123M1295 2224l58-22M1131 2157l48 44M1228 2185l67 26M1092 2283l49-12M1286 2258l67 1M1266 2197l58 57M1141 2180l58 14M1102 2260l58-66M1141 2218l48 15M1208 2229l49-42M1315 2129l67 54"/>
<path class="c3" d="M1063 2275l49-20M1363 2197l39 7M1266 2230l68-14M1208 2095l58 62M1237 2158l49 79M1228 2219l48 15M1112 2157l38-42M1063 2283l39-12M1131 2038l68-3M1112 2060l48 25M1199 2142l38-41M1257 2292l58 4M1286 2257l48-8M1160 2197l58 14M1102 2291l48-20M1344 2248l58-6M1286 2030l48 161M1392 1855l58 397M1315 2242l48 12M1421 2230l48 3M1218 2293l58-8M1218 2181l58-6M1324 2242l49 0M1102 2240l48-6"/>
<path class="c14" d="M1063 2204l58 7M1305 2288l39 2M1170 2205l67 49M1063 2236l39-1M1025 2288l38-11M1286 2228l48 14M1315 2255l48 0M1257 2215l48 49M1170 2234l58-83M1141 2226l38 23M1315 2221l38-2M1189 2029l39 198M1324 2226l39-23M1073 2203l58 28M1015 2256l58-7M1363 2264l48-4M1324 2224l49 20M1228 2107l58-88M1218 2174l48 18M1353 2263l49 13M1170 2208l38-7M1247 2056l48 61M1083 2214l48 17M1295 2225l49 61M1092 2216l49 14M1131 2111l48-14M1092 2124l49 100M1063 2061l58-101M1179 2248l49-2M1179 2278l49-22M1276 2164l58 52"/>
<path class="c7" d="M1276 2205l48 25M1247 2163l58 50M1363 2290l48 8M1102 2160l48 25M1218 2231l48-10M1344 2266l67-18M1324 2248l68-5M1141 2200l48 9M1199 2097l48 117M1170 2282l48-2M1092 2176l49-3M1170 2281h0M1295 2255l49 9M1286 2116l67-47M1112 2167l58-20M1324 2236l49 34M1257 2197l48-34M1324 1990l39-12M1392 2301l48-30M1063 2231l58 1M1286 2220l67 39M1353 2185l49 34M1199 2158l48 1M1286 2286h0"/>
<path class="c8" d="M1112 2187l58-11M1208 2221l49-249M1286 2225l67 32M1305 2286l58 6M1247 2153l58 27M1344 2281l58-49M1247 2170l48-55M1266 2206l58-19M1112 2142l67 5M1112 2258h0M1121 2268l49-44M1083 2184l48-43M1228 2228l38 7M1315 2221l48 52M1315 2268l48-6M1218 2174l58 13M1295 2274l49 14M1237 2129l58-15M1237 2167l49 62M1199 2210l48 44M1073 2168l48 14M1170 2211l48 5"/>
<path class="c1" d="M1025 2289l38-4M1334 2232l48-8M1344 2236h0M1121 2212l49-17M1160 2263l48-8M1150 2276l58-19M1218 2234l58-139M1199 2240h0M1266 2261l68-7M1295 2276l58-12M1334 2182l58 50M1015 2260l58-13M1411 2211l58 3M1170 2268l48-15M1141 2233l58 3M1141 2253l58 6M1189 2256l68-30M1228 2074l38 91M1286 2212l48-57M1305 2258l48 11M1382 2261h0M1179 2229l49-2M1015 2273l58-24M1305 2140l48 12M1334 2254l68 34M1257 2196l48 57M1353 2277l49 2M1189 2197l68 3M1382 2179l58 79M1189 2255l58-22M1344 2225l58 22M1141 2215l38 5M1237 2112l68 114M1324 2214l49-7M1353 2217l49-17"/>
<path class="c9" d="M1334 2131h0M1112 2197l48-85M1054 2284l48-19M1150 2243l58-45M1112 2209l48 28M1353 2274l49 19M1170 1984l58 19M1266 2285l49-22M1179 2215l49-9M1015 2201h0M1063 2238l58-3M1334 2240l39 18M1363 2239l58 16M1170 2293l67-42M1208 2260l58-3M1160 2137l58 25M1276 2279l48-10M1266 2163l58 85M1189 2149l48 40M1315 2212l48-34M1228 2186l48-32"/>
<path class="c12" d="M1208 2230l58 18M1276 2144l48 17M1344 2124l48 38M1160 2184l48 17M1150 2069l39 67M1199 2142l48-51M1305 2068l48 13M1189 2191l48 35M1218 2027l48 21M1179 2289l49-38M1141 2268l48 14M1063 2264l39-27M1431 2273l48-52M1411 2239l39 4M1189 2275l58-27M1131 2210l39-4M1286 2181l48 8M1257 2238l58 23M1334 2253l39 5M1073 2150l48 22M1237 2233l49 8"/>
<path class="c0" d="M1054 2228l48 22M1199 2131l48 53M1199 2164l58-5M1044 2244l58 7M1363 2146l48 58M1315 2298l48 7M1295 2260l49 34M1373 2235l48 18M1305 2184l48 24M1266 2254l39 10M1344 2211l48-109M1247 2207l58 14M1247 2288l48-1M1189 2200l48-7M1218 2187l48-22M1266 2289l68-3M1315 2264l48 4M1208 2210l49 20M1150 2224l58-4M1324 2269l49-68M1189 2177l48-2M1034 2123l58 73M1344 2252l58 32M1208 2053l58 18M1131 2235l48 25M1179 2232l39 26M1276 2176l39-8M1112 2234l58-34M1247 2186l39 30M1025 2283l48-52"/>
<path class="c5" d="M1421 2041l48 141M1170 2202l58 1M1121 2259l49-48M1228 2254l38 28M1034 2262l49-159M1054 2255h0M1411 2256h0M1324 2095l49-17M1170 2214l48-16M1141 2239l38 59M1208 2247l58 13M1092 2253l49 39M1228 2177l48 64M1073 2200h0M1266 2063l58 17M1112 2155h0M1199 2204l58-20M1344 2255l48 28"/>
<path class="c4" d="M1247 2149l48-7M1063 2255h0M1237 2279l49 12M1141 2053l48 169M1054 2308l58-41M1112 2252l48 27M1160 2284l48-5M1421 2260l39-12M1034 2269l49-8M1189 2264l58 3M1015 2279l48 8M1150 2281l49-30M1218 2257l48-8M1237 2231h0M1199 2239l48 27M1160 2094h0M1218 2216l58-33M1083 2243l48 6M1141 2274l48-9M1382 2220l49 13M1334 2271l58 19M1363 2142l48 6M1276 2213l48-11M1189 2213l58 50M1189 2209l58-24"/>
<path class="c13" d="M1102 2160l48-83M1247 2209h0M1237 2168l49-105M1063 2216l49-86M1402 2275l48 4M1073 2150l48-72M1305 2240h0M1199 2099l48 88M1257 2265l48-29M1305 2252l58 16M1170 1993l58 132M1247 2216l48 27M1295 2271l49 12M1421 2253l58-38M1160 2242l48 1M1179 2270l39-3M1170 2294l48-20M1189 2246l48 6M1054 2270l38-51M1315 2209l58 27M1305 2307l58 8M1054 2037l48-66M1276 2201l39 17M1141 2268l48-26M1160 2220l68 24"/>
<path class="c10" d="M1286 2222l58-6M1189 2151l48 59M1353 2195l58 14M1218 2161l39 10M1276 2243l48-4M1247 2287l58-19M1170 2149l48-147M1025 2255l38-47M1025 2269l48 19M1160 2298l68-63M1363 2254l48-120M1382 2120l49-10M1411 2210l49 52M1179 2168l58-26M1073 2292l58-25M1276 2258l39-20M1208 2283l58-11M1257 2228l48 26M1141 2159l48 93M1025 2237l48-36M1237 2201l49 10M1237 2223l58 26M1295 2233l58-12M1179 2161l58-33M1228 2302l38-29M1392 2270l48 11"/>
<path class="c11" d="M1131 2218l48-158M1141 2183l48-10M1228 2204l48 17M1073 2070l58 26M1305 2255l58-47M1102 2047h0M1315 2267l48 48M1276 2282l48 13M1150 2241l49 2M1353 2248l49-16M1228 2131l48-11M1170 2247l58 6M1334 2189l58 90M1208 2033l49 146M1083 2211l48-55M1228 2270l58 1M1092 2264l49 15M1218 2237l48 7M1063 2269l68-25M1237 2288l49 5"/>
<path class="c6" d="M1189 2175l48 20M1102 2246l48-49M1179 2180l58 39M1315 2300l67 12M1112 2196l48-54M1266 2157l58 41M1353 2144l49 60M1073 2270h0M1112 2167l58 22M1034 2237l49 13M1160 2143l48-74M1382 2187l39 3M1315 2166l58-10M1063 2217l49-33M1315 2197l38 8M1286 2300l58-27M1353 2271l39 2M1363 2206l39 20M1218 2259l48 3M1324 2219l58 11M1247 2201l48-10M1150 1970l49-60M1295 2205l49 24"/>
<path class="c2" d="M1334 2268l58-1M1237 2232l58-26M1363 2164l48-46M1382 2175l49-2M1373 2249l48-30M1034 2279l39-10M1276 2232l58-8M1228 2146l48 26M1170 2254l58 20M1237 2290l49-7M1257 2117l48 76M1092 2182l49-19M1150 2160l49-14M1208 2289l49-35M1237 2284l58 15M1392 2307l58-17M1073 2265l48 5M1237 2232l49-17"/>
<path class="c7" d="M1344 2279l58-3M1189 2203l58-18M1208 2273l68 8M1237 2074l49 203M1276 2264l48 13M1092 2170l49 55M1034 2262l49-12M1305 2296l68 7M1150 2136l68 41M1208 2169l58 35M1344 2223l48 27M1141 2179l48 15M1247 2178l58-10M1121 2230l58-9M1044 2280l58-53M1025 2270l48-13M1199 2180h0M1344 2149l48-68M1305 2234l48 24M1160 2232l48-2M1218 2229l39 25M1199 2260l58-30"/>
<path class="c13" d="M1392 2181l58-66M1228 2146l58 38M1189 2253l48-29M1102 2253l39-8M1073 2146l48 59M1121 2255l58-8M1208 2178l49-157M1189 2224l68-49M1305 2246l48-9M1237 2189l49 2M1170 2242l48 9M1189 2121l68-2M1276 2265l39 17M1150 2188l49 11M1315 2090l48 54M1315 2213l48 10M1266 2254l58 17M1237 2226h0"/>
<path class="c12" d="M1257 2247l58 24M1131 2245l48 20M1170 2225l58-10M1334 2231h0M1324 2268l39-23M1315 2273l38-32M1179 2052l49 9M1295 2287l39 6M1150 2216l58-49M1237 2210l68 17M1237 2223h0M1208 2024h0M1189 2183l48-5M1073 2241l48-11M1247 2145l68 35M1257 2117l48 63M1189 2276l68-8M1266 2188l39-124M1121 2277l49 9M1266 2172l39-255M1247 2235l48-56M1411 2271l68 5"/>
<path class="c8" d="M1218 2219l48-16M1392 2284l48 10M1150 2149l39 9M1121 2206l49 7M1315 2261l48 3M1102 2185l48 12M1247 2281l48-10M1228 2194l58 28M1189 2306l58-18M1063 2133l68-38M1353 2221l58 24M1063 2289l49 14M1218 2145l58-7M1324 2242l49 3M1276 2258l48 46M1189 2257l48 15M1150 2267l49 26M1402 2226h0M1160 2157l48 65M1228 2255l48-5M1257 2228l38-9M1189 2196l58 55M1083 2228l48 23M1334 2193l58-8M1286 2272l67 25M1344 2300l48-5"/>
<path class="c2" d="M1344 2252l48 3M1054 2190l48 18M1025 2089l58 69M1141 2205l58-96M1247 2198l48 31M1083 2258l48 2M1237 2255l58-73M1295 2210l49-15M1247 2248l48-1M1373 2266l48-3M1382 2032l39 95M1402 2257l48 8M1141 2267l58 3M1266 2118l39 58M1353 2253l58 4M1199 2240l58-16M1237 2266l39-16M1392 2283l48-63M1402 2227l58-16M1170 2204l48 3M1150 2271l39-52M1315 2285l48-20"/>
<path class="c10" d="M1073 2281l48-38M1295 2302l49-10M1179 2149l39 83M1305 1937l48 119M1295 2183l39-2M1179 2233l49-20M1266 2201l49 4M1102 2215l48-47M1199 2235l58 15M1170 2253l38-38M1402 2060l38 72M1218 2154l39 40M1141 2228l58-172M1141 2252l48-21M1218 2251l58 24M1121 2200l49-28M1237 2156l39 81M1150 2183l58-159M1199 2210l58 71M1160 2232l48 4M1073 2221l48-6M1170 2254l58 14"/>
<path class="c1" d="M1286 2173l67 1M1179 2193l49 75M1063 2255l49-1M1170 2280l48-12M1189 2251l58 11M1228 2171l48 52M1295 2274l58 0M1315 2134l58 3M1208 2251l58 12M1305 2282l48 7M1421 2248l48 12M1054 2263h0M1141 2111l38 112M1005 2291l49 3M1025 2196l48 28M1199 2227l38 13M1044 2268l48-13M1102 2255l48-61M1276 2160l58-37M1131 2166l58-35M1382 2295l49-9M1208 2140l39 9M1141 2297l48-12M1131 2116h0M1266 2282l58-55M1054 2178l48 8M1237 2283l58-58M1150 2257l58-7"/>
<path class="c0" d="M1160 2173l58-34M1150 2229l49-76M1305 2181l48-13M1305 2257l58-76M1324 2138l49 11M1218 2236l48-29M1334 2202l48 2M1208 2201l49-42M1189 2147l58 112M1228 1958l48 54M1150 2206l68-43M1170 2272l58 0M1141 2237h0M1160 2173l58-54M1237 2144l58 8M1402 2212l48 29M1199 2230l48-112M1286 2271l58-71M1266 2139l68 72M1382 2197l49-19M1141 2287l38-34M1237 2232l49 45M1199 2240l48-32M1208 2270l49-30"/>
<path class="c6" d="M1266 2236l49 8M1228 2271l48 26M1073 2250l48-2M1170 2215l48-145M1170 2258l58 18M1141 2260l58-21M1344 2171h0M1373 2314l48-4M1015 2209l48-14M1199 2247l38 9M1257 2103l48 134M1228 2279l48 5M1237 2262l68 23M1034 2156l58-25M1199 2147l58 65M1170 2235l48-7M1160 2236l39-3M1102 2272l39-1M1344 2153h0M1324 2263l49-14M1363 2281l48-25M1034 2158l58-51M1112 2149l67-54M1170 2216h0M1179 2106l49 23M1363 2170l48 28M1237 2186l49-44M1315 2233l48 6M1199 2215l38 0M1025 2103l48 57M1392 2221l48-64M1121 2203l49 25"/>
<path class="c14" d="M1121 2075h0M1440 2193l49 32M1324 2248l49-30M1305 2204l48 20M1179 2262l49-26M1063 2254l49-4M1179 2188l68-41M1121 2221l49-6M1131 2303h0M1218 2230l58 36M1257 2229l48-12M1121 2239l58-73M1295 2240l58-74M1266 2194l49 13M1179 2203l58 2M1421 2184l58 8M1102 2171l39 47M1228 2245l58 20M1295 2252l49 9M1170 2085l48 143M1179 2259l49 1M1392 2216l68-3M1218 2195l48 76M1189 2215l68 36M1189 2263l48-25M1073 2061l39 48M1189 2157l39 29M1237 1999l49 192M1141 2262l38 0"/>
<path class="c3" d="M1189 2279l48-2M1344 2033l48-61M1373 2148l48 59M1402 2237l58-12M1208 2182l39-18M1218 2221l48 15M1160 2207l58-6M1353 2218l49 30M1344 2245l58-27M1054 2292h0M1247 2276l48 9M1324 2241l49-19M1170 2216l48-24M1160 2217l68-135M1344 2243l58 17M1092 2181l58-7M1208 2146l49 49M1266 2260l49-50M1160 2166l58-38M1324 2191l68-17M1092 2197l39-29M1305 2142l48 57M1044 2274l48-8M1411 2211l49 6"/>
<path class="c5" d="M1034 2293l49 4M1266 2099l49 79M1005 2212l39 5M1150 2197l49 5M1141 2226l48-62M1102 2232l48 32M1247 2239l48 19M1025 2251h0M1295 2215l49-19M1170 2264l48-2M1247 2243l48 14M1189 2115l68 100M1295 2259l49 17M1170 2287l48-63M1305 2138l58-27M1324 2297l58 3M1179 2259l49 23M1112 2067l48 49M1150 2208l58-66M1363 2103l58-22M1131 2259l58 24M1092 2249l39-15M1266 2209l68 43"/>
<path class="c9" d="M1063 2240l39-2M1063 2296l49 5M1276 2119l48 19M1179 2138l49-2M1092 2289l49-1M1382 2208l49-45M1160 2226h0M1141 2231l48 21M1228 2248l38 8M1189 2237h0M1208 2222l49 22M1121 2302l58-9M1286 2215l67-41M1141 2195l48 42M1025 2268h0M1170 2258l58 4M1121 2242l39-17M1034 2116l49 31M1034 2261l39-9M1121 2223l58-77M1305 2231l39 50M1344 2123l48-13M1353 2248l68-68M1373 2165l58 35M1237 2214h0M1160 2238l58-119M1411 2252l39-7M1266 2200l58-2M1237 2309l58-11"/>
<path class="c11" d="M1092 2251l68 33M1131 2221l58-32M1344 2242l58 5M1266 2268l49 13M1063 2160h0M1218 2221l58-28M1247 2184l39 56M1392 2214l68 37M1315 2123l58 75M1199 2116l67 154M1131 2176l58 77M1102 2249l39-46M1295 2185l58 23M1353 2228l49-71M1257 2172l58-37M1257 2207l48-82M1266 2137l68 113M1247 2268l58 0M1344 2254l48-5"/>
<path class="c4" d="M1286 2260l58-2M1150 2208l49 16M1160 2225l48 2M1276 2271l48-37M1189 2171l48 57M1179 2199l49 8M1179 2248l39 12M1363 2271l48-24M1392 2198l68 87M1150 2231l39-2M1199 2264l38-11M1189 2234l68-74M1402 2183l58-4M1208 2247l49-2M1324 2176l58-59M1266 2295l68 6M1179 2297l58-8M1247 2192l48-38M1150 2195l49 64M1199 2178l58 29M1208 2259l58 2M1266 2212l49 29M1286 2224l48 23"/>
<path class="c8" d="M1324 2268l49-16M1344 2158l58-14M1257 2241l48-19M1208 2225l49 14M1150 2266l58 13M1179 2186l49-114M1218 2251l68-16M1054 2213l48 25M1102 2275l48-40M1315 2296l48 1M1199 2214l48 35M1121 2133l68 131M1189 2274l48-8M1344 2227l48 18M1102 2244l48 15M1150 2254l39-5"/>
<path class="c3" d="M1170 2274l48 21M1334 2214l48 13M1237 2240l58-5M1266 2275l58 29M1286 2247l38 25M1141 2273l38-35M1218 2154l58 34M1295 2268l39 1M1199 1985l58 85M1170 2038l48 184M1421 2256l48-6M1054 2258l38 48M1092 2249l68-30M1199 2247l58 4M1121 2210l49 40M1315 2148l48 44M1373 2223l48 36M1257 2200l38 18M1228 2245l38-11M1150 2217l49-33"/>
<path class="c13" d="M1199 2125l48 6M1305 2165l48-43M1276 2272l48-23M1276 2002l39 201M1334 2195l48 29M1199 2129l48-166M1189 2253l58 36M1208 2270h0M1208 2209l49-5M1054 2218l48-10M1334 2170l48-2M1421 2242l58 17M1266 2129l39 14M1257 2245l48 6M1344 2153l38 41M1199 2157l48 35M1005 2237l49-2M1228 2106h0M1073 2279l48-18M1237 2116l49-46M1305 2196l58 34M1344 2293l67 7M1276 2140l58-1"/>
<path class="c0" d="M1247 2172l48 52M1121 2179l58 38M1083 2295l67-5M1092 2236l49-43M1121 2217l68 0M1218 2130l48 46M1208 2270h0M1257 2156l38-4M1257 2122l48-27M1121 2157l49-19M1141 2281l58 9M1266 2207l49 9M1170 2201h0M1218 2210l48 17M1237 2225l68 14M1208 2238l39 52M1073 2162l48 2M1083 2217l48-16M1208 2238l49-21M1063 1983l39 63M1160 2238l48-11"/>
<path class="c7" d="M1199 2209l48-38M1247 2040l48 82M1034 2281l58-15M1382 2157h0M1005 2221l49 48M1189 2295l48-75M1247 2201l48 11M1199 1863l58 240M1266 2244l49-25M1305 2217l39-21M1189 2100l48 67M1160 2237l48-19M1344 2269l48 8M1315 2119l38 5M1054 2160l48-4M1121 2284h0M1266 2234l49-47M1073 2274l39-19M1218 2247l39-9M1247 2210l48-32M1170 2256l48-2M1005 2233l68-50M1025 2253l38-30M1083 2167l48 41M1141 2148l38 62M1083 2295l48-15M1131 2288l39-4M1179 2245l49-7M1305 2200l48 10M1121 2210l49-2M1228 2172l48 97M1315 2278l67 2M1150 2151l39 47"/>
<path class="c4" d="M1025 2278l48 4M1295 2279l58-4M1121 2200l68-99M1344 2252l48 5M1015 2199l48-18M1344 2188l48 19M1073 2201l48-25M1199 2288h0M1199 2140l48-21M1295 2128l58 66M1334 2266l58 7M1237 2188l49 24M1247 2254l48 5M1353 2271h0M1324 2287l49 2M1179 2217l49-27M1112 2161l58 29M1141 2268h0M1150 2266l58 25M1421 2269l48-12M1363 2168l58-9M1353 2263l49-28M1247 2148l58 37M1073 2251l48-7M1247 2281l48-12"/>
<path class="c14" d="M1257 2234l48 21M1083 2189l58-7M1092 2141l49 30M1295 2251l49 0M1237 2267l49-3M1083 2216l48-32M1295 2245l39-17M1305 2289l48-136M1112 2246l48-18M1141 2222l58-23M1189 2225h0M1179 2137l49 37M1054 2224l48-13M1237 2220l49-6M1131 2137l58-37M1131 2227l39 6M1305 2252l48-11M1431 2281l38-18M1353 2240l49-218M1237 2101l58 16M1179 2188l58-49M1034 2228l68-43M1189 2218l48 31M1295 2280l49-2M1083 2206l48 7"/>
<path class="c9" d="M1208 2204l49 8M1121 2262l68 35M1170 2291l48 3M1199 2188l38-4M1276 2198l48-8M1208 2227l49-58M1228 2231l48 25M1112 2222l48-11M1121 2210l68 30M1112 2204h0M1054 2238l48-61M1189 2250l58 7M1286 2134l48 51M1305 2238l68-72M1276 2164l68 33M1189 2222l48-2M1363 2188l39 55M1044 2243l48 19M1286 2143l48-5M1102 2219l58-3M1083 2047l58-73M1179 2201l39 6M1121 2237l39 41M1421 2180l48 40M1025 2290l48-7M1189 2252h0M1131 2276l48-2M1276 2223l48 16M1334 1998l48 20M1237 2200l49-24M1054 2212l38 43"/>
<path class="c10" d="M1112 2159l48-36M1044 2247l68-18M1218 2231l48-19M1208 2236l58-102M1015 2223l48-31M1324 2196l68 38M1121 2244l49 23M1218 2221l58 27M1218 2244l39 6M1189 2113l48 75M1025 2295l48-24M1228 2275l48-70M1170 2186h0M1015 2274l39-50M1150 2144l58 135M1324 2205l58 69M1121 2174l58 21M1005 2217l49-35M1073 2178l68 21M1382 2167l49-35M1092 2235l58 21"/>
<path class="c12" d="M1286 2153l58-9M1421 2179l48 37M1073 2279l68-10M1344 2253l48 21M1208 2055l39 81M1228 2155l48-300M1344 2211l48-21M1228 2123l48-69M1179 2252l49 23M1199 2206l48-12M1247 2230l39 14M1141 2239l38-8M1286 2308l48-33M1218 2254l58 14M1141 2289l48-4M1199 2248l67-33M1266 2199l58 76M1353 2126l49-1M1150 2244l49 17M1276 2247l39-26M1334 2127l58 11M1083 2296h0M1083 2291l48-51M1073 2238l58 4M1160 2199l58-7M1034 2194l58-142M1141 2225l58 35M1170 2242l48-66M1112 2302l58-73M1160 2160l48-12M1189 2182l48 20"/>
<path class="c5" d="M1189 2221l48 29M1257 2259l58 18M1102 2290l48-88M1228 2196h0M1083 2220l48 6M1005 2276l49-8M1247 2244l58 5M1150 2212l58-17M1218 2082h0M1121 2285l49-54M1286 2264l67 6M1266 2127l49-49M1083 2238l48-4M1237 2248l49-26M1054 2272l48 15M1276 2151l39 39M1179 2249l49 13M1083 2204h0M1141 2014l67-99M1054 2240l48-43M1102 2241l39 13M1257 2292l38-87M1141 2263l48-28M1092 2187h0M1392 2185l68 37M1276 2270l48-36M1044 2159l58-21M1276 2132l58 32M1092 2246l49-3"/>
<path class="c6" d="M1344 2133h0M1160 2026l39 159M1170 2174l48 23M1150 2224l58-56M1131 2240l39-16M1025 2233l67-9M1189 2243l48-22M1218 2232l48 12M1189 2194l48 22M1112 2212l58 65M1218 2284l58 0M1228 2120l58-134M1228 2126l48-2M1228 2249l48-41M1276 2268l39-36M1228 2220l48 3M1208 2075l39 157M1218 2225l48-81M1392 2226l48 1M1305 2186h0M1073 2225l48-63M1199 2200l38 26M1324 2147l68-6M1131 2249l68-34M1199 2175l67-22"/>
<path class="c11" d="M1392 2218l48 26M1054 2286l58 15M1179 2203l39 83M1218 2216l48 56M1189 2109l58 65M1363 2219l68-17M1189 2252l58-11M1160 2268l48-53M1141 2195l58 45M1237 2071l58 83M1286 2251l48 0M1131 2182l48 2M1131 2232l48-13M1257 2280l48-30M1228 2096l67 105"/>
<path class="c2" d="M1102 2292l39-10M1363 2165l48 9M1228 2226l48 4M1112 2188l67 9M1295 2179l58-9M1179 2182l68 9M1131 2282l48 1M1382 2139l39 60M1150 2200l58-26M1189 2276l58-2M1179 2250l49-211M1353 2152l49 7M1102 2238l58 8M1179 2265l49-3M1324 2249l68-2M1160 2144l48 28M1344 2257l67 20M1353 2247l49-29M1247 2266l58-15M1266 2173l49-39"/>
<path class="c1" d="M1295 2155l49 18M1315 2238l48-17M1141 2276l48-2M1179 2290l58-19M1305 2250l58-10M1160 2205l58 2M1247 2215l48-2M1237 2203l58-79M1334 2253l58-48M1092 2230l49-54M1286 2075l48 40M1179 2194l39-13M1344 2214l48 16M1286 2192h0M1228 2225l67-17M1324 2200l58 1M1295 2215l68 29M1276 2207l68 26M1266 2300l39-48M1121 2221l39-3M1092 2128l58 107M1025 2249h0M1112 2226l48-5M1237 2240l49 2M1324 2202l49 6M1150 2165l58 10M1305 2184l68-24M1160 2258l39 4"/>
<path class="c5" d="M1179 2223l49-29M1257 2175l48 6M1170 2229l48-27M1266 2169l58 4M1102 2278l39-39M1131 2069l48 16M1160 1989l48 71M1324 2222l49-20M1179 2280l39-25M1363 2193l48 17M1286 2207l67 12M1160 2271l58-8M1179 2215l58 36M1286 2149l48-43M1305 2165l58 41M1228 2209l38 22"/>
<path class="c4" d="M1276 2202l48-6M1208 2166l39 70M1266 2293l39 17M1266 2248l49-1M1208 2204l58 89M1199 2252l38 8M1179 2231l49-100M1131 2175l58-8M1295 2111l58 11M1005 2250l49 27M1189 2227l39 21M1170 2213h0M1344 2144l58 1M1431 2251h0M1131 2097l48-187M1218 2278l58 3M1237 2215l49 14M1295 2232l49 9M1363 2161l48 19M1218 2289l48-11M1170 2255l38-21M1170 2287l48-40M1363 2284l68-1M1044 2074l39 113M1179 2258l58-48M1353 1871l39 305M1218 2231l48 25"/>
<path class="c7" d="M1083 2257l48 17M1141 2199l48 11M1112 2256l48-19M1363 2296l48 11M1131 2277l48 17M1141 2207l48-34M1334 2242l48 15M1102 2162l58 57M1150 2253l49-5M1063 2306l49-20M1218 2203l58-28M1228 2194l38 33M1160 2221l68 54M1034 2158l49-10M1160 2257l68 15M1334 2199l39 3M1218 2026l39 104M1141 2251l67-71M1063 2167l49 22M1092 2214l58-5M1402 2252l48 0M1266 2159l68 83M1121 2277l49-62"/>
<path class="c1" d="M1170 2102l38 42M1208 2241l58 28M1189 2265l48 16M1054 2277l38-45M1295 2265l58-24M1150 2253l39 0M1363 2254l58 15M1218 2235l68-12M1421 2107l48-7M1044 2261l58-7M1257 2238l48 40M1160 2195l58-11M1353 2189l49 22M1324 2254l58-41M1199 2178l48 54M1150 2247l49-17M1440 2202l49 34M1334 2220l48 20M1131 2292l68-2M1411 2209h0M1266 2122h0M1266 2279l58-2"/>
<path class="c6" d="M1344 2277l67-19M1305 2177h0M1373 2218l48 44M1025 2272l48-113M1363 2239l39-59M1092 2185l58-37M1218 2255l58-31M1353 2236l49 18M1392 2287l48-3M1334 2259l48 11M1276 2166l58-52M1141 2213l48 0M1121 2278l39-4M1334 2245l58-14M1305 2266l58 5M1092 2222l49 53M1044 2272l58-8M1208 2033l49 21M1228 2285l38 15M1218 2202h0M1218 2258l58 14M1160 2278l48-37M1063 2202l58 9M1131 2244l68-3M1344 2130l48 40M1170 2288l38-53M1073 2148l68 60M1411 2267l58 27M1286 2227l48-90M1121 2196l58 25M1276 2256l48-55"/>
<path class="c11" d="M1421 2203l48 12M1295 2286l58-13M1247 2315l39-26M1102 2198l58 52M1170 2300l67-15M1237 2191l49-37M1402 2173l48-92M1179 2158l68 27M1170 2183l48 36M1411 2198l49-6M1392 2294l48-13M1073 2258l39-10M1189 2254l48-20M1257 2243l38 1M1189 2117l48 32M1305 2193l58 11M1295 2245l58 12M1015 2259l48-52M1179 2222l68-17M1218 2222l39 1M1121 2229l49-19M1276 2211l39 1M1286 2174l67-11M1112 2245l67-40M1218 2259l58-15M1276 2215l48-9M1266 2240l58 9M1141 2190l48 52M1363 2290l48 9M1131 2228l58-5"/>
<path class="c10" d="M1276 2222l48-48M1102 2227l48 85M1315 2221l58-44M1208 2266l58 0M1228 2272l48-22M1199 2211l58 27M1170 2268l67-30M1179 2255l49 17M1005 2263l39 8M1247 1890l48-66M1411 2145l49-24M1295 2206l58-6M1228 2209l48-21M1257 2198l38 41M1228 2150h0M1112 2235l48-18M1237 2227l68 17M1286 2211l48 11M1179 2148l68 29M1344 2311l38-18M1266 2207l49 50"/>
<path class="c14" d="M1402 2260l48-8M1382 2201h0M1276 2183l68-17M1411 2211l49-26M1257 2264l48-4M1141 2265l58 12M1305 2148l48 6M1286 2159l38 68M1179 2161l39 41M1141 2200l48-26M1295 2191l49-139M1208 2267l49 30M1141 1985l48-48M1363 2172l39 0M1247 2204l48 44M1073 2265l48-7M1228 2182l38-35M1266 2171l49-2M1121 2240l58 30M1344 2254l48 0M1121 2262l68 7M1199 2193l48-11M1286 2236l58 46M1044 2255h0M1402 2283l48-15M1266 2303l49-6M1421 2283l58-18M1208 2213l68 29"/>
<path class="c0" d="M1208 2222l58-1M1266 2223h0M1150 2286l58-43M1150 1951l39 235M1150 2301l49-13M1218 2216l39 16M1208 2159l49-4M1208 2242l58-36M1305 2129l39 13M1295 2070l49-25M1083 2268l67-75M1170 2226l48-14M1112 2245l48 3M1247 2141l48 1M1160 2165l48-1M1208 2247l39-41M1189 2237l48-7M1141 2255l48-74M1131 2285l68-272M1102 2256l58-42M1266 2261l68-21M1266 2267l68-17"/>
<path class="c8" d="M1266 2275l39-17M1121 2076l49-48M1228 2142h0M1179 2235l58-39M1044 2239l48-4M1363 2191l68-36M1237 2204h0M1315 2210l58 35M1179 2260l49-89M1315 2257l58 1M1208 2205l68-30M1170 2224l48-5M1373 2056l58 211M1363 2185l48 4M1315 2284l58-7M1063 2180h0M1199 2161l67 35M1199 2275l38-18M1305 2258l68-5M1170 2262l58-30M1228 2211l48-19M1334 2253l48-13M1324 2267l49 10M1141 2106l48 159"/>
<path class="c2" d="M1073 2240h0M1218 2262l48-98M1392 2169l48 20M1121 2207l49 7M1315 2266l38 22M1112 2052l58 45M1063 2300l58-27M1189 2277l48-137M1083 2222l48-7M1179 2240l49-19M1276 2252l58-8M1150 2180l49-19M1199 2280l58-8M1160 2270l48-11M1112 2187l48 19M1199 2236l58 10M1208 2231l49-5M1295 2152l49 46M1257 2200l67 39M1160 2248l39-12M1199 2216l67-7M1257 2142l58-214M1276 2114l39 63M1083 2304l67 2M1092 2207l49-4M1199 2170h0"/>
<path class="c3" d="M1141 2121l48 92M1170 2223l48 19M1237 2241l58 27M1228 2235l67-26M1373 2235l58 44M1189 2018l48 153M1179 2190l49 4M1237 2211l39 2M1102 2204l39-86M1218 2212l58-29M1237 2268l49-27M1315 2273l48 2M1112 2294l58-11M1266 2186l58-94M1276 2210l48 16M1266 2223l49-22M1160 2249l39-9M1063 2226l49-13M1189 2291l58-11M1170 2245l48 13M1440 2110l49-4"/>
<path class="c9" d="M1373 2240l48-13M1063 2262h0M1295 2272l49-5M1266 2265l58-27M1083 2285l58-4M1382 2191l39 12M1208 2202h0M1334 2141l58 5M1363 2226l39 16M1382 2230l49-132M1150 2220l58 3M1121 2239l68 22M1121 1923l49 230M1315 2241l48-33M1440 2227l49 46M1237 2260l49 4M1121 2256l49 0M1266 2289l39-48M1334 2238l48 1M1131 2251l48-7M1382 2236l39 3M1121 2228l49 2M1208 2282l49-19"/>
<path class="c12" d="M1276 2302l48 6M1073 2148l48-51M1247 2298l48-4M1044 2036l39 193M1179 2214l49 16M1160 2150l58 12M1266 2224l39-44M1305 2226l39 33M1276 2275l48-31M1150 2267l68-29M1199 2196h0M1315 2251l38 23M1179 2264l49-11M1034 2268l58 6M1373 2150l38 33M1382 2215h0M1063 2178l39 37M1150 2246l58 8M1334 2190l58 2M1247 2273l39-196M1324 2200l58 20M1189 2117l48-6M1237 2205l49-5"/>
<path class="c13" d="M1247 2168l48-4M1266 2256l49 9M1315 2276l38 13M1247 2145l48 63M1150 2245l49-43M1112 2262l48 25M1247 2176l48-18M1073 2248l68-167M1025 2234l48 13M1324 2268l68-15M1247 2190l48-37M1276 2217l48-1M1044 2191l48 18M1344 2246l48-31M1112 2254l48-13M1218 2195l58 31M1305 2277l48 17M1034 2221l49 39M1083 2269l38 8M1392 2281l58-20M1315 2282l48 8M1402 2261l38 10M1179 2278l49-29M1334 2222l58 20M1025 2238l58-31"/>
<path class="c1" d="M1276 2258l58 4M1286 2222l48-62M1237 2224l49 0M1199 2273l67-6M1189 2242h0M1112 2227l58-12M1005 2136l68 24M1160 2219l39-55M1121 2268l58-4M1305 2215l39-5M1199 2243l58-172M1295 2278h0M1286 2070l48 70M1363 2219l48-4M1005 2273l49-35M1247 2183l58 29M1015 2186l48 39M1257 2101l38 75M1063 2294l49-9M1170 2225l48-5M1286 2257l67-85M1266 2065l58 2M1063 2304l49-24M1112 2231l48-43M1334 2202l39 14"/>
<path class="c5" d="M1199 2234h0M1218 2225l68-58M1373 2245l48-28M1160 2048l48 149M1044 2272l48-2M1199 2019l58 88M1170 2217l38-29M1189 2287l58 8M1228 2083l38 32M1121 2214l68-5M1092 2227l49 22M1334 2241l48-36M1199 2075l58 24M1073 2229l48 6M1160 2231l68-9M1015 2239l68 35M1034 2096l49 98M1015 2238l58-131M1295 2240l49-13M1266 2208l49-105M1247 2290l58-25M1324 2020l49 129M1286 2247l48 13M1150 2224l39 5M1063 2286l49-37M1015 2248l48 5M1112 2259l67-75M1150 2274l49-41M1063 2157l68-10M1199 2091l48 36M1160 2215l58-42"/>
<path class="c2" d="M1092 2203l49-6M1237 2197l58 52M1295 2191l49-24M1392 2221h0M1305 2208l48 41M1305 2201l68 37M1440 2272l49 11M1208 2287l49-32M1237 2024l49 169M1102 2256l48-20M1170 2271l38 8M1286 2238l48 5M1218 2185l58-12M1208 2228l58-10M1141 2221l48-35M1334 2194h0M1324 2183l49 27M1131 2243h0M1179 2195l39 16M1179 2158l39-109M1170 2198l48 83M1295 2236l49-9M1179 2240l58 3M1131 2261l48-39M1208 2246l49-17M1228 2122l48 27M1334 2260l58-34M1160 2226l48-52"/>
<path class="c8" d="M1421 2175l39-152M1237 2074l49 49M1092 2095l39 50M1179 2244l49-15M1044 2276l48-5M1237 2228l58-1M1179 2150l49 36M1334 2108l39 21M1218 2063l48 48M1160 2179l48-61M1247 2129l68 27M1324 2112l49 33M1266 2310l68-5M1247 2195l58-2M1344 2229l48 13M1286 2211l67 15M1025 2247l58 15M1092 2275l58-6M1276 1938l39-21"/>
<path class="c13" d="M1112 2181l48 44M1189 2174l58-1M1083 2233l38 15M1083 2304l67-11M1141 2222l48 22M1141 2252l48 31M1266 2134l49 17M1044 2214l48-2M1063 2191l49-190M1411 2236l49-19M1112 1995l58 89M1295 2235l39-49M1218 2228h0M1305 2249l58-7M1218 2216l39 12M1179 2292l68-8M1276 2233l58-26M1218 1910l39 194M1228 2196h0M1208 2246l39 5M1266 2255l49-90M1411 2266l49-14M1160 2229l48 17M1257 2100l48 99M1208 2237l39 21M1189 2209l58 35M1228 2049l67 83M1382 2291l68 4"/>
<path class="c4" d="M1199 2132l48 133M1131 2220l48 26M1237 2250l49-4M1150 2152l39-28M1276 2248l39 38M1344 2228l38-11M1189 2212l48-70M1092 2273l49-11M1121 2127l39 59M1199 2202l48 57M1208 2152l58 13M1121 2281h0M1315 2177l38 28M1286 2219h0M1382 2263h0M1034 2188l49 31M1237 2224l49 3"/>
<path class="c11" d="M1141 2259l38-35M1334 2265l68-2M1005 2305l49-1M1218 2235l48-7M1189 2213l39-58M1363 2164l39-25M1324 2288l49-12M1170 2275l48 22M1257 2194l58 29M1247 2278l48-20M1199 2242l38 5M1257 2284l58 1M1353 2243l49 2M1276 2224l39-7M1102 2177l48-37M1276 2247l48 16M1150 2261l39 28M1363 2275l58-29M1121 2145l49 20M1402 2212l58-12M1150 2155l58-14M1044 2282l58-16M1141 2268l48-31M1189 2284h0M1315 2046l58-35M1344 2196l48 54M1044 2181l39-40M1237 2222l49 21M1208 2250l58-8M1199 2247l48 12M1073 2269l68 0M1208 2150l49-4M1034 2170l39 69M1344 2256l48 14M1073 2237l48 4"/>
<path class="c9" d="M1382 2167h0M1170 2212l38 52M1083 2302l48-25M1266 2184l49 28M1237 2279l58 19M1237 2258l49 17M1247 2298l48-15M1324 2253l58 6M1179 2081l58 16M1141 2219l48 28M1199 2245l67-22M1218 2230l48 31M1141 2193l58 10M1334 2195l48-154M1199 1923l48 274M1276 2188l48-28M1315 2152l48 83M1228 2136l48 26M1160 2138l39-106M1121 2248l49-58"/>
<path class="c0" d="M1112 2212l48 35M1257 2264l48 16M1295 2252l49 4M1208 2246l39 23M1063 2224l49 0M1228 2115l48 23M1073 2248l48-10M1112 2112h0M1034 2201l49-36M1266 2193l49 36M1121 2280l49-8M1266 2223l58 24M1315 2187l58-90M1199 2259l48 21M1112 2229l48 24M1392 2236l48 33M1247 2160l39 58M1208 2292l58 15M1228 2205l38-22M1034 2081l68 13M1421 2239l48 10M1102 2193l48-99"/>
<path class="c12" d="M1160 2265l58 21M1112 2223l67 17M1324 2251l58 3M1199 2266l58-21M1295 2171l49-17M1295 2249l58 7M1063 2163l58-2M1083 2277l48 2M1083 2233l58 62M1344 2284l48-2M1247 2148h0M1266 2224l49 46M1237 2232l49 11M1276 2160l48 21M1199 2017l48 9M1334 2224l48 48M1276 2278l48 13M1363 2215l48 69M1276 2255l39 24M1208 2220l49 23M1025 2213l58-35M1034 2183l49 11M1266 2226l49 53M1257 2125l48 30M1286 2292h0M1295 2240l39 4M1112 2131l48-11M1063 2226l49-21M1247 2126h0M1170 2183l48 51M1257 2303h0"/>
<path class="c7" d="M1102 2231l48 35M1218 2252l48 19M1189 2255l48 0M1102 2200l39 4M1160 2282l48-1M1286 2190l48 17M1044 2280l68-19M1160 2268l48-36M1218 2086l48 64M1092 2280l49 26M1141 2225l38-110M1334 2220l48 8M1247 2197l39-228M1092 2226l49-45M1208 2200l68-65M1121 2241l49 16M1083 2252l48-27M1353 2173l58 56M1392 2113l48 157M1257 2186h0"/>
<path class="c10" d="M1228 2118l58 33M1257 2221l48-9M1324 2220l49 15M1315 2237l58 12M1208 2279l49-3M1054 2250l58-67M1208 2218l49 9M1344 2210l48-5M1334 2249l48 10M1170 2192h0M1044 2272l39 4M1276 2228l39 44M1305 2208l48 15M1131 2211l48 0M1063 2251l49-7M1257 2173l48 24M1286 2136l48 6M1373 1987l48 212M1179 2066l39 55M1334 2244l58-51M1179 2255l49-9M1373 2208l48 52M1257 2239l48-4M1208 2215l58 26M1073 2241l68-25M1411 2215l49 33M1266 2288l68 20"/>
<path class="c3" d="M1305 2246h0M1083 2243l48 0M1266 2188l39-13M1218 2215l48-48M1276 2184l58 28M1005 2203h0M1334 2162l48-10M1431 2228l48-24M1044 2227l39-12M1025 2238l48-31M1353 2256l58-14M1440 2175l49 77M1199 2237l58 30M1199 2247l48 26M1063 2235l49-41M1247 2230l58 7M1150 2152l49-28M1237 2203l58 20M1141 2182l48-21M1102 2187l58 66M1092 2194l49 24M1208 2213l49-19M1286 2188l48 37"/>
<path class="c6" d="M1228 2193l38 43M1344 2134l58 71M1179 2100l58-22M1150 2202l68 14M1005 2215l58-43M1382 2219l49-13M1092 2116l49-137M1353 2237h0M1131 2210l39 40M1276 2212l48 22M1005 2247l49 2M1324 2286l39-18M1054 2193l48-22M1315 2262l48-1M1189 2294l48-13"/>
<path class="c14" d="M1112 2202l38-61M1005 2211l58-25M1257 2252l67 30M1054 2237l58-46M1208 2174l49 17M1208 2219h0M1266 2204l49 8M1315 2246l48 31M1247 2127l58 17M1025 2283h0M1054 2149l48 14M1025 2272l58-46M1286 2030l58 21M1189 2210l48-7M1218 2282l58-1M1247 2147l48 114M1150 2289l49 0M1073 2265l48 4M1257 2097l58 19M1353 2147l49 141M1324 2254l49 17"/>
<path class="c8" d="M1402 2234l58 14M1353 2216l39 53M1237 2226l49-24M1276 2230l48-8M1276 2201l58 88M1237 2206l68-20M1257 2220l48 9M1228 2241l38 45M1315 2209l48 38M1218 2202l48-221M1276 2204l48-4M1353 2258l39-12M1218 2205l68-42M1218 2226l39 28M1044 2231l48-35M1034 2258l49-10M1334 2212l68 15M1402 2231l58 7M1228 2261l58-9M1305 2229l48-28M1411 2243l39 9M1083 2296l48 16M1073 2213h0M1237 2187l49-18M1005 2286l39-5"/>
<path class="c13" d="M1324 2251l39 42M1131 1967l58 148M1218 2277l68-1M1257 2256l48-125M1102 2246l48-29M1208 2116l49 68M1005 2260l58-10M1218 2139l48-24M1102 2214l48 60M1170 2152l48 43M1141 2260l58 16M1334 2246l48-31M1141 2097l48 0M1363 2186l68 44M1286 2166l48 13M1266 2227l58 0M1228 2215l48 1M1170 2214l38-15M1421 2218l39 0M1121 2265l49-5M1305 2126l48 58M1276 2184l58 4"/>
<path class="c6" d="M1044 2248l39-9M1324 2255h0M1092 2221l49 3M1083 2167l38-8M1237 2096l39-5M1228 2243l48 11M1131 2198l58-3M1276 2195l48-86M1228 2178l48 52M1141 2300l48-9M1044 2262l48-14M1063 2235l49 12M1334 2140l48-8M1286 2239l58 7M1150 2247l49-114M1112 2204l58-6M1073 2242l48-8M1208 1960l49 147M1305 2222l58 7M1102 2249l39-8M1073 2218l68 37M1179 2249l49-5M1305 2210l39-59M1199 1985l48 77M1131 2213l48-18M1102 2254l48 16M1005 1982l39 24M1257 2216l38-29M1218 2020l58-9M1324 2201l49 7M1324 2166l49-71"/>
<path class="c3" d="M1344 2189l48-35M1199 2124l48 24M1315 2267l48-17M1218 2153l58-28M1131 2289l68-8M1295 2251l58 20M1276 2244h0M1199 2177l58-8M1421 2292l48-34M1179 2254l39-16M1247 2292l39-2M1363 2216l48 5M1237 2049l68 92M1353 2271l49 21M1382 2212l58 49M1179 2215l49-14M1286 2250l48 4M1392 2244l48-98M1170 2189l38-2M1237 2166l39 107M1286 2173l58 107"/>
<path class="c9" d="M1344 2241l38 5M1421 2260l48 18M1218 2229l48 39M1305 2166l48 118M1237 2226l49 1M1324 2260l58-3M1160 2259l48-27M1334 2197l58-12M1257 2214l38-229M1315 2241l38 26M1141 2192h0M1199 2268l48-5M1073 2188l58 20M1266 2211l58 19M1305 2278l48-6M1063 2286l39 7M1382 2247l49-35M1208 2206h0M1131 2252l48-54M1228 2164l58 64M1257 2184l48-16M1266 2163l58-23M1054 2168l48-3M1179 2291l58-25M1237 2181l49-5M1083 2239l48 4M1286 2224l48 5M1102 2289l48-15"/>
<path class="c2" d="M1063 2291l58-7M1237 2230l49 1M1025 2236l58-14M1034 2278l49-9M1237 2235l49-49M1112 2189l48-41M1025 2241l58-133M1295 2216l58 56M1315 2231l38 9M1286 2186l58 22M1150 2197l68-12M1373 2228l58-10M1160 2204l58 14M1286 2234l48 25M1199 2188l58-177M1121 2248l49-11M1373 2108l58 11M1199 2275l58 7M1237 2236l49 7M1131 2195l39 12M1208 2284l68-13M1170 2246l48 6M1179 2258l49-52M1276 2215l39-51M1334 2172l68 44M1170 2189l67-13M1392 2252l48-8M1392 2217l39 4"/>
<path class="c11" d="M1170 2204l58-31M1276 2226l58 31M1199 2091l48 34M1411 2196l49-6M1160 2227l48-26M1305 2211l48-2M1421 2264l48-3M1237 2246l39-1M1150 2227l49-30M1363 2243l48-1M1373 2280l58 7M1150 2196l39 7M1266 2205l49 16M1179 2257l39-16M1324 2191l49 51M1266 2254h0M1266 2241l58-35M1286 2214l38 25M1363 2069l68 45M1015 2205l58 68"/>
<path class="c12" d="M1189 2234l48 17M1208 2214l49-41M1208 2224l49 27M1102 2274l39 10M1247 2244l39 25M1237 2278l49-30M1218 2165l48 56M1208 2269l49-6M1054 2221l58 34M1121 2213l58 33M1150 1884l49 208M1286 2217l48-29M1257 2213l48 6M1199 2247l58 12M1083 2198l38 76M1189 2137l48 15M1179 1948l58 84M1112 2201l48 19M1411 2254l49-25M1131 2249l58-4M1334 2228l48 18M1295 2191l49 39M1305 2271l48 0M1382 2236l58-89M1054 2181l48 23M1324 2260l49-9M1334 2300l68-31M1063 2272l39 0M1237 2204l39-3M1305 2189l58 20M1247 2251l58 34"/>
<path class="c0" d="M1363 2246l58-25M1382 2251l58 18M1141 2277l58-6M1199 2251l38 36M1121 2276l68-16M1305 2265l58-19M1363 2285l48-60M1276 2170l48 3M1257 2158l48 10M1344 2203l38-26M1025 2185l48 23M1218 2154l48-3M1218 2061l48 132M1208 2202l49-2M1179 2245l39 11M1199 2194l48 14"/>
<path class="c1" d="M1179 2266h0M1208 2213l49-16M1199 2163l48-10M1247 2245l48 2M1373 2290l38-15M1228 2216l48-3M1266 2231l49-2M1102 2253l39-4M1266 2270l58 19M1005 2303l49-30M1092 2124l39-53"/>
<path class="c5" d="M1353 2133l49 57M1440 2157l49 30M1005 2284l68-42M1363 2175l48 17M1373 2221l67 30M1092 2218l49 0M1276 2081l39 36M1189 2233l39-24M1382 2252l49-31M1276 2211l48 12M1228 2279l48-11M1179 2132h0M1218 2182l58 43M1266 2248l49-7M1189 2214l58-15M1373 2209l48 9M1044 2185l48 34M1044 2193l48-23M1034 2229l49-79M1276 2294l48-23M1247 2036l58 9M1160 2274l39-21M1237 2104l58 25"/>
<path class="c14" d="M1411 2266l68 30M1199 2274l48-62M1150 2240l49 12M1344 2269l58-22M1054 2273l38 22M1170 2258l67 2M1257 2164l38 38M1247 2261l68 28M1266 2226l49 4M1334 2228l68 36M1305 2221l68 10M1208 2195l58 34M1170 2250l48 9M1179 2216l49 41M1353 2177l49 55M1199 2038l58 188M1324 2258l58-10M1315 2249l48 14M1208 2151l49 107M1324 2234l49 19M1286 2159l58-22M1266 2284l58 1M1353 2235h0M1199 2199l48 20M1315 2202l38 18"/>
<path class="c4" d="M1034 2291l39-6M1179 2232l68 63M1131 2242l48 8M1044 2235l39 15M1247 2280l48 10M1034 2293l49-29M1228 2254l58 13M1141 2113l38-273M1005 2242l58-35M1334 2140l39 27M1237 2217l58 13M1257 2241l58-68M1218 2199l48 9M1160 2208l39 30M1150 2226l58 50M1315 2212l38 7M1276 2250l48-36M1083 2238l58-31M1150 2185l49 67M1237 2217l39-4M1199 2210l38 74M1363 2134l58-3M1208 2130l49 27"/>
<path class="c10" d="M1382 2190l58-23M1295 2264h0M1247 2039l68 67M1170 2186l48 47M1266 2255l49-35M1199 2096l38 84M1305 2221l48 40M1208 2206l49-4M1199 2182l58-17M1141 2243l58 10M1276 2268h0M1131 2161l48-73M1276 2241l48 6M1073 2227l48-5M1208 2221l58 26M1170 2142l38 23M1334 2251l48-20M1131 2284l48 15M1170 2240l38-25M1005 1984l39 37M1228 2217l48 4M1102 2181l58-29M1237 2252l39-17M1189 2167l48 35M1131 2215l68-52M1102 2107l48 158M1179 2132l49-30M1073 2201l48 11M1353 2295l49-3"/>
<path class="c7" d="M1083 2169l48 49M1247 2055l58 58M1247 2314l48 3M1392 2279l48-36M1208 2166l49-86M1247 2224l58-1M1247 2214l48 54M1083 2109l58 43M1121 2209l39-51M1276 2259l58-6M1334 2183l48 33M1131 2247l48-64M1199 2244l48 13M1141 2249l58-6M1315 2085l48-36M1092 2239l68-8M1170 2265l38-23M1421 2267l48 5M1286 2186l48-9M1092 2168h0M1363 2299l48-16M1315 2170l48 44M1305 2256l68-9M1208 2179l58 29M1112 2224l48-354M1208 2162h0M1189 2182l48-52M1073 2285l48-5M1363 2285l68 3"/>
<path class="c2" d="M1373 2216l48 5M1179 2252l39-19M1228 2093l48 84M1373 2073l48 29M1199 2130l48 28M1228 2264l58-29M1121 2207l58-23M1112 2278l48-40M1092 2029l49 135M1315 2220h0M1083 2285l48-24M1170 2221l38-9M1092 2218l49-19M1392 2227l58-76M1247 2027l58 168M1141 2170l48 34M1228 2238l48 18M1208 2198l58-11M1353 2279l58 7M1208 2130l58 63M1324 2236l49 8M1286 2183l48 5M1005 2254l49-2M1276 2153l48 73M1170 2263l48-18M1218 2203h0"/>
<path class="c7" d="M1402 2236l58 16M1353 2213l49 20M1344 2236l38-14M1160 2279l48-20M1160 2193l58-100M1170 2243l48 1M1392 2147l58 138M1179 2131l68 35M1179 2193l58 46M1121 2258l49 0M1402 2197l58 27M1218 2231h0M1276 2250l48 0M1063 2233l58 17M1083 2241l58-90M1266 2271h0M1237 2260l49-30M1276 2205l39 38M1266 2032l39 23M1295 2233l49 4M1131 2185l48 57M1112 2286l58-1M1334 2237l39 13M1421 2260l48-68M1402 2282l67-20M1208 2232l49-67M1189 2241l48-16M1199 2120l58 62M1141 2226l48 2M1025 2238l38-3"/>
<path class="c8" d="M1170 2230h0M1005 2291l49-9M1179 2172h0M1363 2170l48-25M1112 2035l58 21M1266 2191l49-19M1276 2240l48-15M1054 2108h0M1102 2208l48 4M1083 2285l48-35M1266 2222l68-9M1286 2173l48 11M1054 2177l38-38M1218 2149l48 122M1141 2237l58 14M1218 2203l39 50M1160 2251l58-2M1305 2093l48 44M1411 2277l58 2M1324 2252l58 16M1102 2190h0M1208 2277l49 3M1228 2262l67 18M1208 2260l58 0M1199 2244l38 7M1363 2244h0M1247 2223l48-12"/>
<path class="c13" d="M1199 2210l48 41M1131 2278h0M1247 2240l48 8M1044 2269h0M1228 2083l58-21M1373 2234l48 10M1112 2204l58 3M1218 2180l39-16M1005 2197l49 62M1199 2258l58-6M1199 2166l48 54M1334 2258h0M1392 2245l48-25M1054 2130l48-176M1189 2226l68 27M1015 2297l39-38M1005 2251l39-40M1286 2181l48 28M1025 2281l48-4M1382 2169h0M1121 2238l49 12M1440 2294l49-43M1170 2152h0"/>
<path class="c6" d="M1208 2179l49 10M1150 2252h0M1170 2200l38 11M1199 2129l58 60M1121 2249l49-29M1257 2212h0M1402 2172l58 41M1344 2227l48 16M1218 2237l58 8M1305 2206l68 11M1421 2270l48-10M1315 2208l58 18M1257 2192l48 56M1179 2245l39 49M1257 2206l58 10M1305 2224l58-23M1228 2174l48 15M1315 2236l48-27M1092 2181l49-74M1324 2261l49 10M1150 2231l68-9M1266 2258l49 1M1083 2219l48 1"/>
<path class="c14" d="M1160 2263l48-21M1044 2184l48-40M1199 2225l48 9M1199 2244l48-16M1189 2101l48 107M1092 2259l39-47M1315 2262l48 1M1363 2253l48-7M1276 2257l68 21M1237 2257l49-4M1150 2285l49 3M1025 2188l48 42M1189 2148l58-4M1170 2078l58-159M1141 2224l38 40M1208 2245l49 32M1150 2205h0M1334 2181l68 65M1208 2235l49 24M1208 2239l39 15M1295 2274l58-296M1102 2300l48 6M1266 2255l68-22M1063 2021l49 147M1276 2253l48-148M1199 2215l48-172M1189 2212l68-26"/>
<path class="c11" d="M1266 2017l58 198M1266 2271l39 0M1237 2273l49-11M1334 2258l39 21M1025 2131l48 40M1083 2213l67 0M1208 2233l49-12M1073 2096l58-44M1044 2196l48-11M1160 2220l58-12M1276 2183l39 49M1344 2234l48-18M1102 2238l58 23M1063 2198l68 1M1373 2266l48-8M1170 2233l48 19M1305 2144l39-24M1237 2230l39 10M1324 2247l49-21M1382 2288l68 1M1334 2208l48-11M1218 2150l58 51M1112 2246l48 3"/>
<path class="c10" d="M1179 2209l68 13M1054 2230l58-51M1237 2206l49 50M1150 2275l49-12M1305 2261l48 19M1199 2226l38-23M1218 2195l68-13M1257 2222l58-33M1121 2233l39 5M1121 2133h0M1305 2255l48 7M1344 2267l38 14M1228 2084l48 6M1025 2265l48-7M1266 1858l58 339M1276 2203l48 46M1189 2267l48-12M1073 2126l39-37M1276 2228l68-4M1295 2233l39 0M1295 2118l49 162M1305 2203l58 20M1363 2278l48 5M1121 2235l49-15M1083 2245l48-6M1286 2111l58 68M1344 2222l38-10"/>
<path class="c1" d="M1170 2134l48 31M1218 2219l39-45M1257 2256l48 14M1092 2225l49 0M1421 2187l68 8M1276 2226l68 4M1112 2173l38 36M1237 2233l58 11M1054 2287l48 5M1411 2246l49-44M1344 2042l48 157M1411 2203l58-3M1315 2255l38 7M1276 2245l48 5M1179 2259l49-9M1266 2223l49 3M1373 2176l38 2M1218 2074l48-43M1170 2104l48 45M1266 2093l58 11M1286 2249l48-11M1266 2116l49-54M1025 2181l48-12M1228 2268l48-17"/>
<path class="c3" d="M1353 2179l68-63M1305 2278h0M1112 2275l38-1M1305 2250l39-19M1382 2231l58 30M1005 2202l39-3M1150 2060l49 71M1189 2291l58-32M1131 1959l48 130M1063 2219l39-8M1276 2253l58-15M1160 2167l58-46M1276 2196l48 19M1199 2190l48 37M1344 2283l38-9M1315 2224l48-35M1131 2227l48 21M1160 2169l48 32M1266 2185l58 50M1199 2262l48-1M1131 2119l58-8M1286 2238l48-37M1054 2224l48-21"/>
<path class="c12" d="M1228 2253l58-42M1334 2280l48-7M1228 2208h0M1189 2222l48 28M1276 2252l48-20M1373 2232l48-7M1218 2258l58 21M1276 2061l48-182M1199 2222l48-23M1295 2268l39-7M1334 2256l58 13M1266 2248l58-1M1005 2208l49-12M1083 2284l48-21M1131 2211l48-8M1208 2235l68 15M1257 2112l48 28M1179 2238h0"/>
<path class="c0" d="M1324 2185l39 62M1141 2243h0M1295 2255h0M1276 2136l48 77M1121 2216l39-14M1286 2268l48 5M1237 1963l58 191M1199 2174l48 126M1353 2254h0M1063 2263l49-79M1131 2127l39 116M1160 2207l48-22M1228 2016l48 209M1141 2213l38-104M1121 2184l39 68M1131 2301h0M1092 2206l49-60M1170 2269h0M1189 2242l48 36M1160 2235l58 1M1218 2046l39 54M1141 2187l38 38M1170 2097l38-1"/>
<path class="c5" d="M1199 2208l48-22M1276 2237l68-3M1257 2270l58-3M1295 2294l39-54M1141 2280l48-19M1208 2249l58-35M1266 2286l49-47M1054 2239l58 3M1440 2219l39-14M1218 2128l68 46M1092 2195l49-50M1295 2256l39 14M1179 2194l58-63M1141 2282l58-22M1160 2228l48 8"/>
<path class="c9" d="M1189 2218l48 45M1063 2206l39 6M1112 2242l48 8M1295 2188l49-16M1044 2244l48-26M1170 2243l58 31M1189 2231l48-24M1025 2176l38 62M1150 2235l58 29M1150 2280l49 5M1237 2201l58-47M1344 2224l38-11M1373 2120l48 27M1228 2209l48 16M1160 2097l48-24M1141 2266l38 17M1199 2227l58 18M1421 2172l58 72M1199 2256l38 39M1199 2237l58-3M1073 2243l39-82M1218 2248l48 18M1324 2185h0M1363 2140l58 54M1015 2244l48 0M1295 2232l39-8"/>
<path class="c4" d="M1092 2248l58-4M1266 2228h0M1160 2228h0M1208 2218l49 28M1247 2234l48 4M1373 2217l48 55M1295 2245l49 10M1295 2272l49-46M1160 2275l39-1M1257 2261h0M1344 2182l58-58M1141 2258l38 17M1218 2182l58 29M1353 2223l49 29M1150 2271l39-8M1199 1990l48 112M1189 2289l48-16M1199 2236l58 10M1402 2090l67 108M1083 2200l48 16M1315 2205l48-7M1063 2269l58-1M1218 2220l48-7M1421 2242l68 14M1170 2240l58-35M1411 2234l49 20M1295 2274l49-50"/>
</g></g>
<filter id="tb"><feGaussianBlur stdDeviation="0.3"/></filter><g fill="#1a1a1a" stroke="#1a1a1a" stroke-width="0.3" filter="url(#tb)">
<text x="63.2" y="377" text-anchor="middle" class="t">30</text>
<text x="111.5" y="377" text-anchor="middle" class="t">40</text>
<text x="164.2" y="377" text-anchor="middle" class="t">50</text>
<text x="213" y="377" text-anchor="middle" class="t">60</text>
<text x="262" y="377" text-anchor="middle" class="t">70</text>
<text x="311.1" y="377" text-anchor="middle" class="t">80</text>
<text x="360.1" y="377" text-anchor="middle" class="t">90</text>
<text x="50.2" y="74.8" text-anchor="end" class="t">700</text>
<text x="50.2" y="114.8" text-anchor="end" class="t">600</text>
<text x="50.2" y="156.1" text-anchor="end" class="t">500</text>
<text x="50.2" y="197.5" text-anchor="end" class="t">400</text>
<text x="50.2" y="237.7" text-anchor="end" class="t">300</text>
<text x="50.2" y="279.5" text-anchor="end" class="t">200</text>
<text x="50.2" y="319.5" text-anchor="end" class="t">100</text>
<text x="50.2" y="358.9" text-anchor="end" class="t">0</text>
<text transform="translate(14.9 211.4) rotate(-90)" text-anchor="middle" style="font-size:15.2px">NREM Slow Oscillation Power Density</text>
<text x="214.5" y="395.6" text-anchor="middle" class="ag">Age</text>
<text x="5.2" y="28.1" class="lt">A</text>
<text x="453.5" y="377.8" text-anchor="middle" class="t">30</text>
<text x="501.5" y="377.8" text-anchor="middle" class="t">40</text>
<text x="550.8" y="377.8" text-anchor="middle" class="t">50</text>
<text x="599.7" y="377.8" text-anchor="middle" class="t">60</text>
<text x="648.6" y="377.8" text-anchor="middle" class="t">70</text>
<text x="697.3" y="377.8" text-anchor="middle" class="t">80</text>
<text x="746.3" y="377.8" text-anchor="middle" class="t">90</text>
<text x="439.8" y="74.4" text-anchor="end" class="t">100</text>
<text x="439.8" y="131.5" text-anchor="end" class="t">80</text>
<text x="439.8" y="187.5" text-anchor="end" class="t">60</text>
<text x="439.8" y="244.2" text-anchor="end" class="t">40</text>
<text x="439.8" y="302.1" text-anchor="end" class="t">20</text>
<text x="439.8" y="360.2" text-anchor="end" class="t">0</text>
<text transform="translate(412.6 212.8) rotate(-90)" text-anchor="middle" style="font-size:16.5px">NREM Delta Power Density</text>
<text x="601.6" y="396" text-anchor="middle" class="ag">Age</text>
<text x="403.6" y="28.1" class="lt">B</text>
<text x="68" y="778.7" text-anchor="middle" class="t">30</text>
<text x="119.8" y="778.7" text-anchor="middle" class="t">40</text>
<text x="165.2" y="778.7" text-anchor="middle" class="t">50</text>
<text x="214.4" y="778.7" text-anchor="middle" class="t">60</text>
<text x="263.4" y="778.7" text-anchor="middle" class="t">70</text>
<text x="308.6" y="778.7" text-anchor="middle" class="t">80</text>
<text x="357.5" y="778.7" text-anchor="middle" class="t">90</text>
<text x="52.7" y="475.2" text-anchor="end" class="t">40</text>
<text x="52.7" y="545" text-anchor="end" class="t">30</text>
<text x="52.7" y="616.5" text-anchor="end" class="t">20</text>
<text x="52.7" y="688.4" text-anchor="end" class="t">10</text>
<text x="52.7" y="759.9" text-anchor="end" class="t">0</text>
<text transform="translate(13.7 608) rotate(-90)" text-anchor="middle" style="font-size:16.5px">NREM Theta Power Density</text>
<text x="216.3" y="797.5" text-anchor="middle" class="ag">Age</text>
<text x="4.6" y="437.2" class="lt">C</text>
<text x="455.5" y="779.4" text-anchor="middle" class="t">30</text>
<text x="507.1" y="779.4" text-anchor="middle" class="t">40</text>
<text x="552.3" y="779.4" text-anchor="middle" class="t">50</text>
<text x="601.4" y="779.4" text-anchor="middle" class="t">60</text>
<text x="650.5" y="779.4" text-anchor="middle" class="t">70</text>
<text x="696.4" y="779.4" text-anchor="middle" class="t">80</text>
<text x="744.8" y="779.4" text-anchor="middle" class="t">90</text>
<text x="442.9" y="476.8" text-anchor="end" class="t">20</text>
<text x="442.9" y="546.7" text-anchor="end" class="t">15</text>
<text x="442.9" y="617.8" text-anchor="end" class="t">10</text>
<text x="442.9" y="689.4" text-anchor="end" class="t">5</text>
<text x="442.9" y="761.1" text-anchor="end" class="t">0</text>
<text transform="translate(412.6 606.9) rotate(-90)" text-anchor="middle" style="font-size:16.5px">NREM Alpha Power Density</text>
<text x="603.3" y="797.9" text-anchor="middle" class="ag">Age</text>
<text x="404.4" y="436.4" class="lt">D</text>
<text x="67.2" y="1194.8" text-anchor="middle" class="t">30</text>
<text x="119" y="1194.8" text-anchor="middle" class="t">40</text>
<text x="164.2" y="1194.8" text-anchor="middle" class="t">50</text>
<text x="213.4" y="1194.8" text-anchor="middle" class="t">60</text>
<text x="262.6" y="1194.8" text-anchor="middle" class="t">70</text>
<text x="307.7" y="1194.8" text-anchor="middle" class="t">80</text>
<text x="356.8" y="1194.8" text-anchor="middle" class="t">90</text>
<text x="53.4" y="891" text-anchor="end" class="t">8</text>
<text x="53.4" y="961.4" text-anchor="end" class="t">6</text>
<text x="53.4" y="1032.3" text-anchor="end" class="t">4</text>
<text x="53.4" y="1104.7" text-anchor="end" class="t">2</text>
<text x="53.4" y="1176.2" text-anchor="end" class="t">0</text>
<text transform="translate(13.7 1020.8) rotate(-90)" text-anchor="middle" style="font-size:16.5px">NREM Sigma Power Density</text>
<text x="214.8" y="1212.9" text-anchor="middle" class="ag">Age</text>
<text x="4.6" y="853" class="lt">E</text>
<text x="454.4" y="1194.8" text-anchor="middle" class="t">30</text>
<text x="505.9" y="1194.8" text-anchor="middle" class="t">40</text>
<text x="551.1" y="1194.8" text-anchor="middle" class="t">50</text>
<text x="600.7" y="1194.8" text-anchor="middle" class="t">60</text>
<text x="649.6" y="1194.8" text-anchor="middle" class="t">70</text>
<text x="695" y="1194.8" text-anchor="middle" class="t">80</text>
<text x="744.3" y="1194.8" text-anchor="middle" class="t">90</text>
<text x="442.2" y="891.4" text-anchor="end" class="t">3</text>
<text x="442.2" y="987" text-anchor="end" class="t">2</text>
<text x="442.2" y="1083.4" text-anchor="end" class="t">1</text>
<text x="442.2" y="1178.7" text-anchor="end" class="t">0</text>
<text transform="translate(412.6 1011.4) rotate(-90)" text-anchor="middle" style="font-size:16.5px">NREM Beta-1 Power Density</text>
<text x="602.9" y="1212.9" text-anchor="middle" class="ag">Age</text>
<text x="407.6" y="853" class="lt">F</text>
</g>
</svg>
</body></html>
